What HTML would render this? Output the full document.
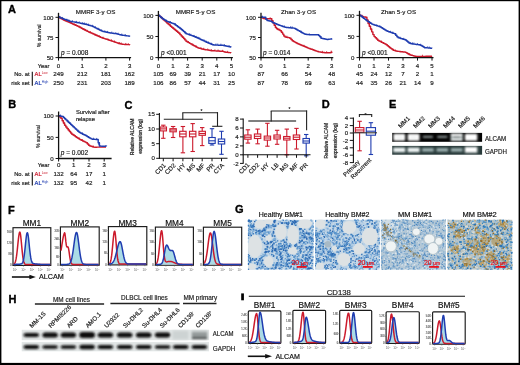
<!DOCTYPE html><html><head><meta charset="utf-8"><style>html,body{margin:0;padding:0;background:#fff;overflow:hidden}svg{display:block;will-change:transform}</style></head><body><svg width="520" height="365" viewBox="0 0 520 365" font-family="Liberation Sans, sans-serif">
<style>text{stroke-linejoin:round}</style>
<defs><filter id="bl" x="-20%" y="-50%" width="140%" height="200%"><feGaussianBlur stdDeviation="1"/></filter><filter id="bl2" x="-20%" y="-50%" width="140%" height="200%"><feGaussianBlur stdDeviation="0.9"/></filter></defs>
<rect x="0" y="0" width="520" height="365" fill="#fff" stroke="none" stroke-width="1"/>
<text x="8" y="13.1" font-size="11" font-weight="bold" fill="#000" stroke="#000" stroke-width="0.35">A</text>
<polyline points="58.5,17.3 59.7,17.3 59.7,17.97 60.9,17.97 60.9,18.63 62.1,18.63 62.1,19.3 63.3,19.3 63.3,19.93 64.5,19.93 64.5,20.46 65.7,20.46 65.7,20.98 66.9,20.98 66.9,21.51 68.1,21.51 68.1,22.03 69.3,22.03 69.3,22.56 70.5,22.56 70.5,23.08 71.7,23.08 71.7,23.62 72.9,23.62 72.9,24.17 74.1,24.17 74.1,24.72 75.3,24.72 75.3,25.27 76.5,25.27 76.5,25.81 77.7,25.81 77.7,26.36 78.9,26.36 78.9,26.98 80.1,26.98 80.1,27.63 81.3,27.63 81.3,28.27 82.5,28.27 82.5,28.92 83.7,28.92 83.7,29.56 84.9,29.56 84.9,30.21 86.1,30.21 86.1,30.85 87.3,30.85 87.3,31.39 88.5,31.39 88.5,31.94 89.7,31.94 89.7,32.49 90.9,32.49 90.9,33.04 92.1,33.04 92.1,33.59 93.3,33.59 93.3,34.14 94.5,34.14 94.5,34.68 95.7,34.68 95.7,35.22 96.9,35.22 96.9,35.76 98.1,35.76 98.1,36.3 99.3,36.3 99.3,36.84 100.5,36.84 100.5,37.38 101.7,37.38 101.7,37.83 102.9,37.83 102.9,38.21 104.1,38.21 104.1,38.6 105.3,38.6 105.3,38.99 106.5,38.99 106.5,39.37 107.7,39.37 107.7,39.76 108.9,39.76 108.9,40.15 110.1,40.15 110.1,40.53 111.3,40.53 111.3,40.95 112.5,40.95 112.5,41.36 113.7,41.36 113.7,41.77 114.9,41.77 114.9,42.19 116.1,42.19 116.1,42.6 117.3,42.6 117.3,43.01 118.5,43.01 118.5,43.43 119.7,43.43 119.7,43.73 120.9,43.73 120.9,43.94 122.1,43.94 122.1,44.16 123.3,44.16 123.3,44.37 124.5,44.37 124.5,44.52 125.7,44.52 125.7,44.56 126.9,44.56 126.9,44.6 128.1,44.6 128.1,44.64 129.3,44.64 129.3,44.68 129.8,44.68 129.8,44.7" fill="none" stroke="#cc1a2c" stroke-width="1.45" stroke-linejoin="round"/>
<path d="M60.15 18.22v-1.6M62.19 19.35v-1.6M66.05 21.13v-1.6M67.81 21.91v-1.6M71.25 23.42v-1.6M74.08 24.71v-1.6M75.79 25.49v-1.6M79.12 27.1v-1.6M80.76 27.98v-1.6M83.83 29.63v-1.6M85.58 30.57v-1.6M87.41 31.44v-1.6M90.45 32.83v-1.6M94.94 34.87v-1.6M96.89 35.75v-1.6M99.2 36.79v-1.6M102.97 38.23v-1.6M107.9 39.82v-1.6M111.49 41.01v-1.6M114.42 42.02v-1.6M119.46 43.68v-1.6M121.13 43.98v-1.6M125.73 44.56v-1.6M128.28 44.65v-1.6" stroke="#cc1a2c" stroke-width="0.8" fill="none"/>
<polyline points="58.5,17 59.7,17 59.7,17.48 60.9,17.48 60.9,17.96 62.1,17.96 62.1,18.44 63.3,18.44 63.3,18.92 64.5,18.92 64.5,19.38 65.7,19.38 65.7,19.84 66.9,19.84 66.9,20.3 68.1,20.3 68.1,20.76 69.3,20.76 69.3,21.22 70.5,21.22 70.5,21.47 71.7,21.47 71.7,21.67 72.9,21.67 72.9,21.87 74.1,21.87 74.1,22.07 75.3,22.07 75.3,22.27 76.5,22.27 76.5,22.47 77.7,22.47 77.7,22.67 78.9,22.67 78.9,22.89 80.1,22.89 80.1,23.16 81.3,23.16 81.3,23.43 82.5,23.43 82.5,23.71 83.7,23.71 83.7,23.98 84.9,23.98 84.9,24.25 86.1,24.25 86.1,24.53 87.3,24.53 87.3,24.87 88.5,24.87 88.5,25.21 89.7,25.21 89.7,25.55 90.9,25.55 90.9,25.89 92.1,25.89 92.1,26.25 93.3,26.25 93.3,26.88 94.5,26.88 94.5,27.5 95.7,27.5 95.7,28.12 96.9,28.12 96.9,28.75 98.1,28.75 98.1,29.34 99.3,29.34 99.3,29.93 100.5,29.93 100.5,30.52 101.7,30.52 101.7,31.11 102.9,31.11 102.9,31.58 104.1,31.58 104.1,31.82 105.3,31.82 105.3,32.06 106.5,32.06 106.5,32.3 107.7,32.3 107.7,32.54 108.9,32.54 108.9,32.78 110.1,32.78 110.1,32.96 111.3,32.96 111.3,33.13 112.5,33.13 112.5,33.3 113.7,33.3 113.7,33.47 114.9,33.47 114.9,33.64 116.1,33.64 116.1,33.82 117.3,33.82 117.3,34.1 118.5,34.1 118.5,34.38 119.7,34.38 119.7,34.66 120.9,34.66 120.9,34.94 122.1,34.94 122.1,35.21 123.3,35.21 123.3,35.38 124.5,35.38 124.5,35.55 125.7,35.55 125.7,35.72 126.9,35.72 126.9,35.89 128.1,35.89 128.1,36.06 129.3,36.06 129.3,36.23 129.8,36.23 129.8,36.3" fill="none" stroke="#1f3cb0" stroke-width="1.45" stroke-linejoin="round"/>
<path d="M59.74 17.49v-1.6M62.35 18.54v-1.6M66.81 20.26v-1.6M68.96 21.09v-1.6M72.57 21.81v-1.6M76.38 22.45v-1.6M79.23 22.96v-1.6M82.71 23.75v-1.6M84.44 24.15v-1.6M86.15 24.54v-1.6M88.4 25.18v-1.6M92.36 26.39v-1.6M95.41 27.97v-1.6M98.05 29.31v-1.6M101.67 31.09v-1.6M104.81 31.96v-1.6M107.39 32.48v-1.6M111.77 33.2v-1.6M115.8 33.77v-1.6M118.18 34.31v-1.6M121.76 35.14v-1.6M125.16 35.65v-1.6" stroke="#1f3cb0" stroke-width="0.8" fill="none"/>
<line x1="58.5" y1="12.8" x2="58.5" y2="58.2" stroke="#111" stroke-width="1.3"/>
<line x1="57.9" y1="57.6" x2="131.1" y2="57.6" stroke="#111" stroke-width="1.3"/>
<line x1="55.5" y1="17.3" x2="58.5" y2="17.3" stroke="#111" stroke-width="1"/>
<text x="53.5" y="19.5" font-size="6.1" text-anchor="end" fill="#222" stroke="#222" stroke-width="0.18">100</text>
<line x1="55.5" y1="37.5" x2="58.5" y2="37.5" stroke="#111" stroke-width="1"/>
<text x="53.5" y="39.7" font-size="6.1" text-anchor="end" fill="#222" stroke="#222" stroke-width="0.18">75</text>
<line x1="55.5" y1="57.6" x2="58.5" y2="57.6" stroke="#111" stroke-width="1"/>
<text x="53.5" y="59.8" font-size="6.1" text-anchor="end" fill="#222" stroke="#222" stroke-width="0.18">50</text>
<line x1="58.5" y1="57.6" x2="58.5" y2="60.6" stroke="#111" stroke-width="1"/>
<text x="58.5" y="67.5" font-size="6.1" text-anchor="middle" fill="#222" stroke="#222" stroke-width="0.18">0</text>
<line x1="82.2" y1="57.6" x2="82.2" y2="60.6" stroke="#111" stroke-width="1"/>
<text x="82.2" y="67.5" font-size="6.1" text-anchor="middle" fill="#222" stroke="#222" stroke-width="0.18">1</text>
<line x1="105.9" y1="57.6" x2="105.9" y2="60.6" stroke="#111" stroke-width="1"/>
<text x="105.9" y="67.5" font-size="6.1" text-anchor="middle" fill="#222" stroke="#222" stroke-width="0.18">2</text>
<line x1="129.6" y1="57.6" x2="129.6" y2="60.6" stroke="#111" stroke-width="1"/>
<text x="129.6" y="67.5" font-size="6.1" text-anchor="middle" fill="#222" stroke="#222" stroke-width="0.18">3</text>
<text x="95.6" y="13.6" font-size="6.2" text-anchor="middle" fill="#222" stroke="#222" stroke-width="0.18">MMRF 3-y OS</text>
<text x="61" y="55.3" font-size="6.5" fill="#222" stroke="#222" stroke-width="0.18"><tspan font-style="italic">p</tspan> = 0.008</text>
<text x="58.5" y="75.5" font-size="6.2" text-anchor="middle" fill="#222" stroke="#222" stroke-width="0.18">249</text>
<text x="82.2" y="75.5" font-size="6.2" text-anchor="middle" fill="#222" stroke="#222" stroke-width="0.18">212</text>
<text x="105.9" y="75.5" font-size="6.2" text-anchor="middle" fill="#222" stroke="#222" stroke-width="0.18">181</text>
<text x="129.6" y="75.5" font-size="6.2" text-anchor="middle" fill="#222" stroke="#222" stroke-width="0.18">162</text>
<text x="58.5" y="85.1" font-size="6.2" text-anchor="middle" fill="#222" stroke="#222" stroke-width="0.18">250</text>
<text x="82.2" y="85.1" font-size="6.2" text-anchor="middle" fill="#222" stroke="#222" stroke-width="0.18">231</text>
<text x="105.9" y="85.1" font-size="6.2" text-anchor="middle" fill="#222" stroke="#222" stroke-width="0.18">203</text>
<text x="129.6" y="85.1" font-size="6.2" text-anchor="middle" fill="#222" stroke="#222" stroke-width="0.18">189</text>
<text x="0" y="0" font-size="5.8" fill="#222" stroke="#222" stroke-width="0.2" text-anchor="middle" textLength="22.6" lengthAdjust="spacingAndGlyphs" transform="translate(40.6,35.6) rotate(-90)">% survival</text>
<text x="49.4" y="67.5" font-size="5.8" text-anchor="end" fill="#222" stroke="#222" stroke-width="0.18">Year</text>
<text x="29.6" y="75.5" font-size="5.8" text-anchor="end" fill="#222" stroke="#222" stroke-width="0.18">No. at</text>
<text x="29.6" y="85.1" font-size="5.8" text-anchor="end" fill="#222" stroke="#222" stroke-width="0.18">risk set</text>
<line x1="32.3" y1="71.7" x2="32.3" y2="85.7" stroke="#111" stroke-width="1.1"/>
<text x="34.6" y="75.5" font-size="5.8" fill="#cc1a2c" stroke="#cc1a2c" stroke-width="0.2">AL<tspan font-size="3.2" dy="-2" stroke-width="0">Low</tspan></text>
<text x="34.6" y="85.1" font-size="5.8" fill="#1f3cb0" stroke="#1f3cb0" stroke-width="0.2">AL<tspan font-size="3.2" dy="-2" stroke-width="0">High</tspan></text>
<polyline points="158.4,15.4 159.6,15.4 159.6,16.47 160.8,16.47 160.8,17.54 162,17.54 162,18.61 163.2,18.61 163.2,19.68 164.4,19.68 164.4,20.76 165.6,20.76 165.6,21.84 166.8,21.84 166.8,22.92 168,22.92 168,24 169.2,24 169.2,25.08 170.4,25.08 170.4,26.16 171.6,26.16 171.6,27.24 172.8,27.24 172.8,28.32 174,28.32 174,29.32 175.2,29.32 175.2,30.3 176.4,30.3 176.4,31.28 177.6,31.28 177.6,32.26 178.8,32.26 178.8,33.33 180,33.33 180,34.64 181.2,34.64 181.2,35.95 182.4,35.95 182.4,37.26 183.6,37.26 183.6,38.58 184.8,38.58 184.8,39.89 186,39.89 186,41.2 187.2,41.2 187.2,41.92 188.4,41.92 188.4,42.64 189.6,42.64 189.6,43.36 190.8,43.36 190.8,44.08 192,44.08 192,44.8 193.2,44.8 193.2,45.44 194.4,45.44 194.4,46.08 195.6,46.08 195.6,46.72 196.8,46.72 196.8,47.36 198,47.36 198,48 199.2,48 199.2,48.3 200.4,48.3 200.4,48.6 201.6,48.6 201.6,48.9 202.8,48.9 202.8,49.2 204,49.2 204,49.5 205.2,49.5 205.2,49.69 206.4,49.69 206.4,49.88 207.6,49.88 207.6,50.08 208.8,50.08 208.8,50.27 210,50.27 210,50.46 211.2,50.46 211.2,50.65 212.4,50.65 212.4,50.75 213.6,50.75 213.6,50.82 214.8,50.82 214.8,50.89 216,50.89 216,50.96 217.2,50.96 217.2,51.03 218.4,51.03 218.4,51.09 219.6,51.09 219.6,51.16 220.8,51.16 220.8,51.23 222,51.23 222,51.3 223.2,51.3 223.2,51.6 224.4,51.6 224.4,51.9 225.6,51.9 225.6,52.2 226.8,52.2 226.8,52.38 228,52.38 228,52.5 229.2,52.5 229.2,52.62 230.4,52.62 230.4,52.74 231,52.74 231,52.8" fill="none" stroke="#cc1a2c" stroke-width="1.45" stroke-linejoin="round"/>
<path d="M160.86 17.59v-1.6M163.4 19.86v-1.6M168.45 24.4v-1.6M170.38 26.14v-1.6M173.39 28.82v-1.6M177.63 32.29v-1.6M179.68 34.29v-1.6M182.95 37.87v-1.6M184.59 39.66v-1.6M188.51 42.71v-1.6M192.78 45.22v-1.6M196.35 47.12v-1.6M201.02 48.76v-1.6M203.66 49.41v-1.6M207.68 50.09v-1.6M211.33 50.67v-1.6M214.93 50.9v-1.6M218.08 51.08v-1.6M222.62 51.45v-1.6M227.54 52.45v-1.6" stroke="#cc1a2c" stroke-width="0.8" fill="none"/>
<polyline points="158.4,15.3 159.6,15.3 159.6,16.37 160.8,16.37 160.8,17.43 162,17.43 162,18.5 163.2,18.5 163.2,19.25 164.4,19.25 164.4,19.99 165.6,19.99 165.6,20.74 166.8,20.74 166.8,21.41 168,21.41 168,21.84 169.2,21.84 169.2,22.27 170.4,22.27 170.4,22.7 171.6,22.7 171.6,23.14 172.8,23.14 172.8,23.57 174,23.57 174,24 175.2,24 175.2,24.9 176.4,24.9 176.4,25.8 177.6,25.8 177.6,26.7 178.8,26.7 178.8,27.6 180,27.6 180,28.5 181.2,28.5 181.2,29.54 182.4,29.54 182.4,30.58 183.6,30.58 183.6,31.62 184.8,31.62 184.8,32.66 186,32.66 186,33.7 187.2,33.7 187.2,34.12 188.4,34.12 188.4,34.53 189.6,34.53 189.6,34.95 190.8,34.95 190.8,35.36 192,35.36 192,35.78 193.2,35.78 193.2,36.2 194.4,36.2 194.4,36.71 195.6,36.71 195.6,37.25 196.8,37.25 196.8,37.8 198,37.8 198,38.34 199.2,38.34 199.2,38.88 200.4,38.88 200.4,39.43 201.6,39.43 201.6,39.98 202.8,39.98 202.8,40.54 204,40.54 204,41.1 205.2,41.1 205.2,41.66 206.4,41.66 206.4,42.22 207.6,42.22 207.6,42.75 208.8,42.75 208.8,43.25 210,43.25 210,43.75 211.2,43.75 211.2,44.25 212.4,44.25 212.4,44.75 213.6,44.75 213.6,45.02 214.8,45.02 214.8,45.06 216,45.06 216,45.1 217.2,45.1 217.2,45.14 218.4,45.14 218.4,45.18 219.6,45.18 219.6,45.22 220.8,45.22 220.8,45.26 222,45.26 222,45.3 223.2,45.3 223.2,45.52 224.4,45.52 224.4,45.73 225.6,45.73 225.6,45.95 226.8,45.95 226.8,46.16 228,46.16 228,46.45 229.2,46.45 229.2,46.75 230.4,46.75 230.4,47.05 231,47.05 231,47.2" fill="none" stroke="#1f3cb0" stroke-width="1.45" stroke-linejoin="round"/>
<path d="M160.73 17.37v-1.6M162.45 18.78v-1.6M166.49 21.29v-1.6M170.33 22.68v-1.6M175.42 25.07v-1.6M179.9 28.43v-1.6M182.43 30.61v-1.6M185.33 33.12v-1.6M189.25 34.83v-1.6M190.83 35.37v-1.6M194 36.53v-1.6M196.11 37.48v-1.6M198.03 38.35v-1.6M199.75 39.13v-1.6M204.03 41.11v-1.6M206 42.03v-1.6M208.39 43.08v-1.6M211.31 44.29v-1.6M215.96 45.1v-1.6M217.75 45.16v-1.6M220.88 45.26v-1.6M224.37 45.73v-1.6M229.07 46.72v-1.6" stroke="#1f3cb0" stroke-width="0.8" fill="none"/>
<line x1="158.4" y1="10.9" x2="158.4" y2="58.2" stroke="#111" stroke-width="1.3"/>
<line x1="157.8" y1="57.6" x2="232.9" y2="57.6" stroke="#111" stroke-width="1.3"/>
<line x1="155.4" y1="15.4" x2="158.4" y2="15.4" stroke="#111" stroke-width="1"/>
<text x="153.4" y="17.6" font-size="6.1" text-anchor="end" fill="#222" stroke="#222" stroke-width="0.18">100</text>
<line x1="155.4" y1="36.5" x2="158.4" y2="36.5" stroke="#111" stroke-width="1"/>
<text x="153.4" y="38.7" font-size="6.1" text-anchor="end" fill="#222" stroke="#222" stroke-width="0.18">50</text>
<line x1="155.4" y1="57.6" x2="158.4" y2="57.6" stroke="#111" stroke-width="1"/>
<text x="153.4" y="59.8" font-size="6.1" text-anchor="end" fill="#222" stroke="#222" stroke-width="0.18">0</text>
<line x1="158.4" y1="57.6" x2="158.4" y2="60.6" stroke="#111" stroke-width="1"/>
<text x="158.4" y="67.5" font-size="6.1" text-anchor="middle" fill="#222" stroke="#222" stroke-width="0.18">0</text>
<line x1="173" y1="57.6" x2="173" y2="60.6" stroke="#111" stroke-width="1"/>
<text x="173" y="67.5" font-size="6.1" text-anchor="middle" fill="#222" stroke="#222" stroke-width="0.18">1</text>
<line x1="187.6" y1="57.6" x2="187.6" y2="60.6" stroke="#111" stroke-width="1"/>
<text x="187.6" y="67.5" font-size="6.1" text-anchor="middle" fill="#222" stroke="#222" stroke-width="0.18">2</text>
<line x1="202.2" y1="57.6" x2="202.2" y2="60.6" stroke="#111" stroke-width="1"/>
<text x="202.2" y="67.5" font-size="6.1" text-anchor="middle" fill="#222" stroke="#222" stroke-width="0.18">3</text>
<line x1="216.8" y1="57.6" x2="216.8" y2="60.6" stroke="#111" stroke-width="1"/>
<text x="216.8" y="67.5" font-size="6.1" text-anchor="middle" fill="#222" stroke="#222" stroke-width="0.18">4</text>
<line x1="231.4" y1="57.6" x2="231.4" y2="60.6" stroke="#111" stroke-width="1"/>
<text x="231.4" y="67.5" font-size="6.1" text-anchor="middle" fill="#222" stroke="#222" stroke-width="0.18">5</text>
<text x="195.5" y="14" font-size="6.2" text-anchor="middle" fill="#222" stroke="#222" stroke-width="0.18">MMRF 5-y OS</text>
<text x="161" y="55.3" font-size="6.5" fill="#222" stroke="#222" stroke-width="0.18"><tspan font-style="italic">p</tspan> &lt;0.001</text>
<text x="158.4" y="75.5" font-size="6.2" text-anchor="middle" fill="#222" stroke="#222" stroke-width="0.18">105</text>
<text x="173" y="75.5" font-size="6.2" text-anchor="middle" fill="#222" stroke="#222" stroke-width="0.18">69</text>
<text x="187.6" y="75.5" font-size="6.2" text-anchor="middle" fill="#222" stroke="#222" stroke-width="0.18">39</text>
<text x="202.2" y="75.5" font-size="6.2" text-anchor="middle" fill="#222" stroke="#222" stroke-width="0.18">21</text>
<text x="216.8" y="75.5" font-size="6.2" text-anchor="middle" fill="#222" stroke="#222" stroke-width="0.18">17</text>
<text x="231.4" y="75.5" font-size="6.2" text-anchor="middle" fill="#222" stroke="#222" stroke-width="0.18">10</text>
<text x="158.4" y="85.1" font-size="6.2" text-anchor="middle" fill="#222" stroke="#222" stroke-width="0.18">106</text>
<text x="173" y="85.1" font-size="6.2" text-anchor="middle" fill="#222" stroke="#222" stroke-width="0.18">86</text>
<text x="187.6" y="85.1" font-size="6.2" text-anchor="middle" fill="#222" stroke="#222" stroke-width="0.18">57</text>
<text x="202.2" y="85.1" font-size="6.2" text-anchor="middle" fill="#222" stroke="#222" stroke-width="0.18">44</text>
<text x="216.8" y="85.1" font-size="6.2" text-anchor="middle" fill="#222" stroke="#222" stroke-width="0.18">31</text>
<text x="231.4" y="85.1" font-size="6.2" text-anchor="middle" fill="#222" stroke="#222" stroke-width="0.18">25</text>
<polyline points="261,17.3 262.2,17.3 262.2,17.9 263.4,17.9 263.4,18.5 264.6,18.5 264.6,18.8 265.8,18.8 265.8,18.8 267,18.8 267,18.8 268.2,18.8 268.2,18.8 269.4,18.8 269.4,18.8 270.6,18.8 270.6,18.8 271.8,18.8 271.8,20.8 273,20.8 273,23.07 274.2,23.07 274.2,25.24 275.4,25.24 275.4,27.41 276.6,27.41 276.6,28.81 277.8,28.81 277.8,29.42 279,29.42 279,30.03 280.2,30.03 280.2,30.65 281.4,30.65 281.4,32.22 282.6,32.22 282.6,34.12 283.8,34.12 283.8,36.01 285,36.01 285,36.93 286.2,36.93 286.2,37.17 287.4,37.17 287.4,37.4 288.6,37.4 288.6,37.63 289.8,37.63 289.8,38.15 291,38.15 291,39.56 292.2,39.56 292.2,40.73 293.4,40.73 293.4,41.42 294.6,41.42 294.6,42.12 295.8,42.12 295.8,42.81 297,42.81 297,43.5 298.2,43.5 298.2,43.98 299.4,43.98 299.4,44.46 300.6,44.46 300.6,44.94 301.8,44.94 301.8,45.42 303,45.42 303,45.95 304.2,45.95 304.2,46.5 305.4,46.5 305.4,47.05 306.6,47.05 306.6,47.59 307.8,47.59 307.8,48.1 309,48.1 309,48.5 310.2,48.5 310.2,48.9 311.4,48.9 311.4,49.3 312.6,49.3 312.6,49.73 313.8,49.73 313.8,50.19 315,50.19 315,50.65 316.2,50.65 316.2,51.11 317.4,51.11 317.4,51.57 318.6,51.57 318.6,51.89 319.8,51.89 319.8,52.06 321,52.06 321,52.23 322.2,52.23 322.2,52.4 323.4,52.4 323.4,52.57 324.6,52.57 324.6,52.74 325.8,52.74 325.8,52.8 327,52.8 327,52.8 328.2,52.8 328.2,52.8 329.4,52.8 329.4,52.8 330.6,52.8 330.6,52.5 331.8,52.5 331.8,51.9 332,51.9 332,51.8" fill="none" stroke="#cc1a2c" stroke-width="1.45" stroke-linejoin="round"/>
<path d="M263.73 18.66v-1.6M270.16 18.8v-1.6M279.01 30.04v-1.6M286.86 37.29v-1.6M304.01 46.41v-1.6M322.46 52.44v-1.6M326.63 52.8v-1.6M331.25 52.18v-1.6" stroke="#cc1a2c" stroke-width="0.8" fill="none"/>
<polyline points="261,17.3 262.2,17.3 262.2,17.3 263.4,17.3 263.4,17.3 264.6,17.3 264.6,17.3 265.8,17.3 265.8,19.3 267,19.3 267,20.46 268.2,20.46 268.2,20.72 269.4,20.72 269.4,20.99 270.6,20.99 270.6,21.26 271.8,21.26 271.8,22.1 273,22.1 273,22.78 274.2,22.78 274.2,23.27 275.4,23.27 275.4,23.75 276.6,23.75 276.6,24.23 277.8,24.23 277.8,24.72 279,24.72 279,25.2 280.2,25.2 280.2,25.62 281.4,25.62 281.4,26.04 282.6,26.04 282.6,26.46 283.8,26.46 283.8,26.88 285,26.88 285,27.3 286.2,27.3 286.2,27.42 287.4,27.42 287.4,27.54 288.6,27.54 288.6,27.66 289.8,27.66 289.8,27.78 291,27.78 291,27.9 292.2,27.9 292.2,28.02 293.4,28.02 293.4,28.14 294.6,28.14 294.6,28.55 295.8,28.55 295.8,29.24 297,29.24 297,29.93 298.2,29.93 298.2,30.63 299.4,30.63 299.4,31.31 300.6,31.31 300.6,31.99 301.8,31.99 301.8,32.67 303,32.67 303,33.35 304.2,33.35 304.2,34.03 305.4,34.03 305.4,34.32 306.6,34.32 306.6,34.48 307.8,34.48 307.8,34.64 309,34.64 309,34.8 310.2,34.8 310.2,34.8 311.4,34.8 311.4,34.8 312.6,34.8 312.6,34.8 313.8,34.8 313.8,34.8 315,34.8 315,34.8 316.2,34.8 316.2,34.8 317.4,34.8 317.4,34.8 318.6,34.8 318.6,35.48 319.8,35.48 319.8,36.84 321,36.84 321,38.2 322.2,38.2 322.2,38.46 323.4,38.46 323.4,38.72 324.6,38.72 324.6,38.98 325.8,38.98 325.8,39.24 327,39.24 327,39.5 328.2,39.5 328.2,39.31 329.4,39.31 329.4,39.12 330.6,39.12 330.6,38.92 331.8,38.92 331.8,38.73 332,38.73 332,38.7" fill="none" stroke="#1f3cb0" stroke-width="1.45" stroke-linejoin="round"/>
<path d="M262.47 17.3v-1.6M272.55 22.6v-1.6M284.48 27.12v-1.6M290.63 27.86v-1.6M292.2 28.02v-1.6M301.12 32.28v-1.6M309.15 34.8v-1.6M320.68 37.83v-1.6" stroke="#1f3cb0" stroke-width="0.8" fill="none"/>
<line x1="261" y1="12.8" x2="261" y2="58.2" stroke="#111" stroke-width="1.3"/>
<line x1="260.4" y1="57.6" x2="333.3" y2="57.6" stroke="#111" stroke-width="1.3"/>
<line x1="258" y1="17.3" x2="261" y2="17.3" stroke="#111" stroke-width="1"/>
<text x="256" y="19.5" font-size="6.1" text-anchor="end" fill="#222" stroke="#222" stroke-width="0.18">100</text>
<line x1="258" y1="37.5" x2="261" y2="37.5" stroke="#111" stroke-width="1"/>
<text x="256" y="39.7" font-size="6.1" text-anchor="end" fill="#222" stroke="#222" stroke-width="0.18">75</text>
<line x1="258" y1="57.6" x2="261" y2="57.6" stroke="#111" stroke-width="1"/>
<text x="256" y="59.8" font-size="6.1" text-anchor="end" fill="#222" stroke="#222" stroke-width="0.18">50</text>
<line x1="261" y1="57.6" x2="261" y2="60.6" stroke="#111" stroke-width="1"/>
<text x="261" y="67.5" font-size="6.1" text-anchor="middle" fill="#222" stroke="#222" stroke-width="0.18">0</text>
<line x1="284.6" y1="57.6" x2="284.6" y2="60.6" stroke="#111" stroke-width="1"/>
<text x="284.6" y="67.5" font-size="6.1" text-anchor="middle" fill="#222" stroke="#222" stroke-width="0.18">1</text>
<line x1="308.2" y1="57.6" x2="308.2" y2="60.6" stroke="#111" stroke-width="1"/>
<text x="308.2" y="67.5" font-size="6.1" text-anchor="middle" fill="#222" stroke="#222" stroke-width="0.18">2</text>
<line x1="331.8" y1="57.6" x2="331.8" y2="60.6" stroke="#111" stroke-width="1"/>
<text x="331.8" y="67.5" font-size="6.1" text-anchor="middle" fill="#222" stroke="#222" stroke-width="0.18">3</text>
<text x="298.5" y="14" font-size="6.2" text-anchor="middle" fill="#222" stroke="#222" stroke-width="0.18">Zhan 3-y OS</text>
<text x="263" y="55.3" font-size="6.5" fill="#222" stroke="#222" stroke-width="0.18"><tspan font-style="italic">p</tspan> = 0.014</text>
<text x="261" y="75.5" font-size="6.2" text-anchor="middle" fill="#222" stroke="#222" stroke-width="0.18">87</text>
<text x="284.6" y="75.5" font-size="6.2" text-anchor="middle" fill="#222" stroke="#222" stroke-width="0.18">66</text>
<text x="308.2" y="75.5" font-size="6.2" text-anchor="middle" fill="#222" stroke="#222" stroke-width="0.18">54</text>
<text x="331.8" y="75.5" font-size="6.2" text-anchor="middle" fill="#222" stroke="#222" stroke-width="0.18">48</text>
<text x="261" y="85.1" font-size="6.2" text-anchor="middle" fill="#222" stroke="#222" stroke-width="0.18">87</text>
<text x="284.6" y="85.1" font-size="6.2" text-anchor="middle" fill="#222" stroke="#222" stroke-width="0.18">78</text>
<text x="308.2" y="85.1" font-size="6.2" text-anchor="middle" fill="#222" stroke="#222" stroke-width="0.18">69</text>
<text x="331.8" y="85.1" font-size="6.2" text-anchor="middle" fill="#222" stroke="#222" stroke-width="0.18">63</text>
<polyline points="359.7,15.3 360.9,15.3 360.9,15.85 362.1,15.85 362.1,16.39 363.3,16.39 363.3,16.85 364.5,16.85 364.5,17.05 365.7,17.05 365.7,17.25 366.9,17.25 366.9,19.92 368.1,19.92 368.1,23.42 369.3,23.42 369.3,26.31 370.5,26.31 370.5,29.08 371.7,29.08 371.7,31.85 372.9,31.85 372.9,34.62 374.1,34.62 374.1,36.6 375.3,36.6 375.3,37.8 376.5,37.8 376.5,39 377.7,39 377.7,40.2 378.9,40.2 378.9,40.96 380.1,40.96 380.1,41.56 381.3,41.56 381.3,42.17 382.5,42.17 382.5,42.78 383.7,42.78 383.7,43.39 384.9,43.39 384.9,44 386.1,44 386.1,44.78 387.3,44.78 387.3,45.74 388.5,45.74 388.5,46.7 389.7,46.7 389.7,47.66 390.9,47.66 390.9,48.62 392.1,48.62 392.1,49.58 393.3,49.58 393.3,50.37 394.5,50.37 394.5,50.63 395.7,50.63 395.7,50.9 396.9,50.9 396.9,51.17 398.1,51.17 398.1,51.37 399.3,51.37 399.3,51.52 400.5,51.52 400.5,51.66 401.7,51.66 401.7,51.8 402.9,51.8 402.9,51.95 404.1,51.95 404.1,52.09 405.3,52.09 405.3,52.37 406.5,52.37 406.5,53.07 407.7,53.07 407.7,53.76 408.9,53.76 408.9,54.45 410.1,54.45 410.1,54.96 411.3,54.96 411.3,55.28 412.5,55.28 412.5,55.6 413.7,55.6 413.7,55.92 414.9,55.92 414.9,56.24 416.1,56.24 416.1,56.4 417.3,56.4 417.3,56.39 418.5,56.39 418.5,56.38 419.7,56.38 419.7,56.37 420.9,56.37 420.9,56.37 422.1,56.37 422.1,56.36 423.3,56.36 423.3,56.35 424.5,56.35 424.5,56.35 425.7,56.35 425.7,56.34 426.9,56.34 426.9,56.33 428.1,56.33 428.1,56.32 429.3,56.32 429.3,56.32 430.5,56.32 430.5,56.31 431.7,56.31 431.7,56.3 432,56.3 432,56.3" fill="none" stroke="#cc1a2c" stroke-width="1.45" stroke-linejoin="round"/>
<path d="M362.08 16.38v-1.6M371.06 30.36v-1.6M381.51 42.28v-1.6M392.82 50.15v-1.6M395.1 50.77v-1.6M409.64 54.84v-1.6M422.45 56.36v-1.6" stroke="#cc1a2c" stroke-width="0.8" fill="none"/>
<polyline points="359.7,15.3 360.9,15.3 360.9,16.25 362.1,16.25 362.1,17.2 363.3,17.2 363.3,18.16 364.5,18.16 364.5,19.11 365.7,19.11 365.7,20.06 366.9,20.06 366.9,20.9 368.1,20.9 368.1,21.7 369.3,21.7 369.3,22.5 370.5,22.5 370.5,23.3 371.7,23.3 371.7,24.1 372.9,24.1 372.9,24.59 374.1,24.59 374.1,24.97 375.3,24.97 375.3,25.36 376.5,25.36 376.5,25.74 377.7,25.74 377.7,26.12 378.9,26.12 378.9,26.51 380.1,26.51 380.1,27.06 381.3,27.06 381.3,27.78 382.5,27.78 382.5,28.5 383.7,28.5 383.7,29.22 384.9,29.22 384.9,29.94 386.1,29.94 386.1,30.66 387.3,30.66 387.3,31.3 388.5,31.3 388.5,31.72 389.7,31.72 389.7,32.14 390.9,32.14 390.9,32.55 392.1,32.55 392.1,32.97 393.3,32.97 393.3,33.38 394.5,33.38 394.5,33.8 395.7,33.8 395.7,35.28 396.9,35.28 396.9,36.76 398.1,36.76 398.1,37.68 399.3,37.68 399.3,38.05 400.5,38.05 400.5,38.42 401.7,38.42 401.7,38.79 402.9,38.79 402.9,39.16 404.1,39.16 404.1,39.52 405.3,39.52 405.3,40.05 406.5,40.05 406.5,41.03 407.7,41.03 407.7,42.02 408.9,42.02 408.9,43.01 410.1,43.01 410.1,43.59 411.3,43.59 411.3,43.76 412.5,43.76 412.5,43.93 413.7,43.93 413.7,44.1 414.9,44.1 414.9,44.27 416.1,44.27 416.1,44.44 417.3,44.44 417.3,44.61 418.5,44.61 418.5,44.79 419.7,44.79 419.7,44.96 420.9,44.96 420.9,45.54 422.1,45.54 422.1,46.26 423.3,46.26 423.3,46.98 424.5,46.98 424.5,47.7 425.7,47.7 425.7,47.8 426.9,47.8 426.9,47.89 428.1,47.89 428.1,47.99 429.3,47.99 429.3,48.08 430.5,48.08 430.5,48.18 431.7,48.18 431.7,48.28 432,48.28 432,48.3" fill="none" stroke="#1f3cb0" stroke-width="1.45" stroke-linejoin="round"/>
<path d="M362.3 17.36v-1.6M369.49 22.62v-1.6M376.77 25.83v-1.6M379.77 26.86v-1.6M390.47 32.4v-1.6M392.87 33.24v-1.6M395.35 34.85v-1.6M399.88 38.23v-1.6M403.73 39.41v-1.6M410.16 43.59v-1.6M412.42 43.92v-1.6M413.93 44.13v-1.6M417.62 44.66v-1.6M420.59 45.35v-1.6M427.36 47.93v-1.6M429.23 48.08v-1.6" stroke="#1f3cb0" stroke-width="0.8" fill="none"/>
<line x1="359.5" y1="10.8" x2="359.5" y2="58.2" stroke="#111" stroke-width="1.3"/>
<line x1="358.9" y1="57.6" x2="433.5" y2="57.6" stroke="#111" stroke-width="1.3"/>
<line x1="356.5" y1="15.3" x2="359.5" y2="15.3" stroke="#111" stroke-width="1"/>
<text x="354.5" y="17.5" font-size="6.1" text-anchor="end" fill="#222" stroke="#222" stroke-width="0.18">100</text>
<line x1="356.5" y1="36.4" x2="359.5" y2="36.4" stroke="#111" stroke-width="1"/>
<text x="354.5" y="38.6" font-size="6.1" text-anchor="end" fill="#222" stroke="#222" stroke-width="0.18">50</text>
<line x1="356.5" y1="57.6" x2="359.5" y2="57.6" stroke="#111" stroke-width="1"/>
<text x="354.5" y="59.8" font-size="6.1" text-anchor="end" fill="#222" stroke="#222" stroke-width="0.18">0</text>
<line x1="359.5" y1="57.6" x2="359.5" y2="60.6" stroke="#111" stroke-width="1"/>
<text x="359.5" y="67.5" font-size="6.1" text-anchor="middle" fill="#222" stroke="#222" stroke-width="0.18">0</text>
<line x1="374" y1="57.6" x2="374" y2="60.6" stroke="#111" stroke-width="1"/>
<text x="374" y="67.5" font-size="6.1" text-anchor="middle" fill="#222" stroke="#222" stroke-width="0.18">1</text>
<line x1="388.5" y1="57.6" x2="388.5" y2="60.6" stroke="#111" stroke-width="1"/>
<text x="388.5" y="67.5" font-size="6.1" text-anchor="middle" fill="#222" stroke="#222" stroke-width="0.18">2</text>
<line x1="403" y1="57.6" x2="403" y2="60.6" stroke="#111" stroke-width="1"/>
<text x="403" y="67.5" font-size="6.1" text-anchor="middle" fill="#222" stroke="#222" stroke-width="0.18">3</text>
<line x1="417.5" y1="57.6" x2="417.5" y2="60.6" stroke="#111" stroke-width="1"/>
<text x="417.5" y="67.5" font-size="6.1" text-anchor="middle" fill="#222" stroke="#222" stroke-width="0.18">4</text>
<line x1="432" y1="57.6" x2="432" y2="60.6" stroke="#111" stroke-width="1"/>
<text x="432" y="67.5" font-size="6.1" text-anchor="middle" fill="#222" stroke="#222" stroke-width="0.18">5</text>
<text x="398.5" y="14" font-size="6.2" text-anchor="middle" fill="#222" stroke="#222" stroke-width="0.18">Zhan 5-y OS</text>
<text x="362" y="55.3" font-size="6.5" fill="#222" stroke="#222" stroke-width="0.18"><tspan font-style="italic">p</tspan> &lt;0.001</text>
<text x="359.5" y="75.5" font-size="6.2" text-anchor="middle" fill="#222" stroke="#222" stroke-width="0.18">45</text>
<text x="374" y="75.5" font-size="6.2" text-anchor="middle" fill="#222" stroke="#222" stroke-width="0.18">24</text>
<text x="388.5" y="75.5" font-size="6.2" text-anchor="middle" fill="#222" stroke="#222" stroke-width="0.18">12</text>
<text x="403" y="75.5" font-size="6.2" text-anchor="middle" fill="#222" stroke="#222" stroke-width="0.18">7</text>
<text x="417.5" y="75.5" font-size="6.2" text-anchor="middle" fill="#222" stroke="#222" stroke-width="0.18">2</text>
<text x="432" y="75.5" font-size="6.2" text-anchor="middle" fill="#222" stroke="#222" stroke-width="0.18">1</text>
<text x="359.5" y="85.1" font-size="6.2" text-anchor="middle" fill="#222" stroke="#222" stroke-width="0.18">44</text>
<text x="374" y="85.1" font-size="6.2" text-anchor="middle" fill="#222" stroke="#222" stroke-width="0.18">35</text>
<text x="388.5" y="85.1" font-size="6.2" text-anchor="middle" fill="#222" stroke="#222" stroke-width="0.18">26</text>
<text x="403" y="85.1" font-size="6.2" text-anchor="middle" fill="#222" stroke="#222" stroke-width="0.18">21</text>
<text x="417.5" y="85.1" font-size="6.2" text-anchor="middle" fill="#222" stroke="#222" stroke-width="0.18">14</text>
<text x="432" y="85.1" font-size="6.2" text-anchor="middle" fill="#222" stroke="#222" stroke-width="0.18">9</text>
<text x="8.2" y="108" font-size="11" font-weight="bold" fill="#000" stroke="#000" stroke-width="0.35">B</text>
<polyline points="58.6,116 59.8,116 59.8,117.09 61,117.09 61,118.38 62.2,118.38 62.2,120.67 63.4,120.67 63.4,122.95 64.6,122.95 64.6,125.24 65.8,125.24 65.8,127.01 67,127.01 67,128.53 68.2,128.53 68.2,130.05 69.4,130.05 69.4,131.57 70.6,131.57 70.6,133.09 71.8,133.09 71.8,134.16 73,134.16 73,134.99 74.2,134.99 74.2,135.83 75.4,135.83 75.4,136.67 76.6,136.67 76.6,137.51 77.8,137.51 77.8,138.34 79,138.34 79,139.1 80.2,139.1 80.2,139.7 81.4,139.7 81.4,140.3 82.6,140.3 82.6,140.9 83.8,140.9 83.8,141.5 85,141.5 85,142.1 86.2,142.1 86.2,142.8 87.4,142.8 87.4,144 88.6,144 88.6,145.2 89.8,145.2 89.8,145.93 91,145.93 91,146.33 92.2,146.33 92.2,146.73 93.4,146.73 93.4,147.13 94.6,147.13 94.6,147.18 95.8,147.18 95.8,147.15 97,147.15 97,147.12 98.2,147.12 98.2,147.1 99.4,147.1 99.4,147.07 100.6,147.07 100.6,147.04 101.8,147.04 101.8,147.02 103,147.02 103,147 104.2,147 104.2,147 105.4,147 105.4,147 106,147 106,147" fill="none" stroke="#cc1a2c" stroke-width="1.45" stroke-linejoin="round"/>
<path d="M60.83 118.05v-1.6M64.01 124.11v-1.6M68.36 130.25v-1.6M73.78 135.54v-1.6M79.4 139.3v-1.6M82.29 140.74v-1.6M93.38 147.13v-1.6" stroke="#cc1a2c" stroke-width="0.8" fill="none"/>
<polyline points="58.6,115.8 59.8,115.8 59.8,116 61,116 61,116.2 62.2,116.2 62.2,116.4 63.4,116.4 63.4,117.55 64.6,117.55 64.6,118.7 65.8,118.7 65.8,119.85 67,119.85 67,121 68.2,121 68.2,122.16 69.4,122.16 69.4,123.31 70.6,123.31 70.6,124.47 71.8,124.47 71.8,125.62 73,125.62 73,126.76 74.2,126.76 74.2,127.87 75.4,127.87 75.4,128.98 76.6,128.98 76.6,130.1 77.8,130.1 77.8,131.21 79,131.21 79,132.32 80.2,132.32 80.2,133.03 81.4,133.03 81.4,133.59 82.6,133.59 82.6,134.16 83.8,134.16 83.8,134.73 85,134.73 85,135.32 86.2,135.32 86.2,136.02 87.4,136.02 87.4,136.73 88.6,136.73 88.6,137.44 89.8,137.44 89.8,138.14 91,138.14 91,138.85 92.2,138.85 92.2,139.24 93.4,139.24 93.4,139.32 94.6,139.32 94.6,139.39 95.8,139.39 95.8,139.47 97,139.47 97,139.55 98.2,139.55 98.2,142.8 99.4,142.8 99.4,146.04 100.6,146.04 100.6,146.11 101.8,146.11 101.8,146.18 103,146.18 103,146.24 104.2,146.24 104.2,146.24 105.4,146.24 105.4,145.89 106.4,145.89 106.4,145.6" fill="none" stroke="#1f3cb0" stroke-width="1.45" stroke-linejoin="round"/>
<path d="M60.53 116.12v-1.6M67.5 121.48v-1.6M69.97 123.86v-1.6M72.62 126.41v-1.6M78 131.39v-1.6M82.49 134.11v-1.6M93.35 139.31v-1.6M96.68 139.53v-1.6M98.44 144.71v-1.6" stroke="#1f3cb0" stroke-width="0.8" fill="none"/>
<line x1="58.6" y1="111.5" x2="58.6" y2="159.1" stroke="#111" stroke-width="1.3"/>
<line x1="58" y1="158.5" x2="111.6" y2="158.5" stroke="#111" stroke-width="1.3"/>
<line x1="55.6" y1="116" x2="58.6" y2="116" stroke="#111" stroke-width="1"/>
<text x="53.6" y="118.2" font-size="6.1" text-anchor="end" fill="#222" stroke="#222" stroke-width="0.18">100</text>
<line x1="55.6" y1="137.4" x2="58.6" y2="137.4" stroke="#111" stroke-width="1"/>
<text x="53.6" y="139.6" font-size="6.1" text-anchor="end" fill="#222" stroke="#222" stroke-width="0.18">50</text>
<line x1="55.6" y1="158.5" x2="58.6" y2="158.5" stroke="#111" stroke-width="1"/>
<text x="53.6" y="160.7" font-size="6.1" text-anchor="end" fill="#222" stroke="#222" stroke-width="0.18">0</text>
<line x1="58.6" y1="158.5" x2="58.6" y2="161.5" stroke="#111" stroke-width="1"/>
<text x="58.6" y="167.3" font-size="6.1" text-anchor="middle" fill="#222" stroke="#222" stroke-width="0.18">0</text>
<line x1="73.8" y1="158.5" x2="73.8" y2="161.5" stroke="#111" stroke-width="1"/>
<text x="73.8" y="167.3" font-size="6.1" text-anchor="middle" fill="#222" stroke="#222" stroke-width="0.18">1</text>
<line x1="89" y1="158.5" x2="89" y2="161.5" stroke="#111" stroke-width="1"/>
<text x="89" y="167.3" font-size="6.1" text-anchor="middle" fill="#222" stroke="#222" stroke-width="0.18">2</text>
<line x1="104.2" y1="158.5" x2="104.2" y2="161.5" stroke="#111" stroke-width="1"/>
<text x="104.2" y="167.3" font-size="6.1" text-anchor="middle" fill="#222" stroke="#222" stroke-width="0.18">3</text>
<text x="60.8" y="155.4" font-size="6.5" fill="#222" stroke="#222" stroke-width="0.18"><tspan font-style="italic">p</tspan> = 0.002</text>
<text x="58.6" y="176" font-size="6.2" text-anchor="middle" fill="#222" stroke="#222" stroke-width="0.18">132</text>
<text x="73.8" y="176" font-size="6.2" text-anchor="middle" fill="#222" stroke="#222" stroke-width="0.18">64</text>
<text x="89" y="176" font-size="6.2" text-anchor="middle" fill="#222" stroke="#222" stroke-width="0.18">17</text>
<text x="104.2" y="176" font-size="6.2" text-anchor="middle" fill="#222" stroke="#222" stroke-width="0.18">1</text>
<text x="58.6" y="184.8" font-size="6.2" text-anchor="middle" fill="#222" stroke="#222" stroke-width="0.18">132</text>
<text x="73.8" y="184.8" font-size="6.2" text-anchor="middle" fill="#222" stroke="#222" stroke-width="0.18">95</text>
<text x="89" y="184.8" font-size="6.2" text-anchor="middle" fill="#222" stroke="#222" stroke-width="0.18">42</text>
<text x="104.2" y="184.8" font-size="6.2" text-anchor="middle" fill="#222" stroke="#222" stroke-width="0.18">1</text>
<text x="75.9" y="114.2" font-size="5.8" fill="#222" stroke="#222" stroke-width="0.18">Survival after</text>
<text x="75.9" y="121.2" font-size="5.8" fill="#222" stroke="#222" stroke-width="0.18">relapse</text>
<text x="0" y="0" font-size="5.8" fill="#222" stroke="#222" stroke-width="0.2" text-anchor="middle" textLength="22.6" lengthAdjust="spacingAndGlyphs" transform="translate(40.3,136.4) rotate(-90)">% survival</text>
<text x="49.4" y="167.3" font-size="5.8" text-anchor="end" fill="#222" stroke="#222" stroke-width="0.18">Year</text>
<text x="29.6" y="176" font-size="5.8" text-anchor="end" fill="#222" stroke="#222" stroke-width="0.18">No. at</text>
<text x="29.6" y="184.8" font-size="5.8" text-anchor="end" fill="#222" stroke="#222" stroke-width="0.18">risk set</text>
<line x1="32.3" y1="172.2" x2="32.3" y2="185.4" stroke="#111" stroke-width="1.1"/>
<text x="34.6" y="176" font-size="5.8" fill="#cc1a2c" stroke="#cc1a2c" stroke-width="0.2">AL<tspan font-size="3.2" dy="-2" stroke-width="0">Low</tspan></text>
<text x="34.6" y="184.8" font-size="5.8" fill="#1f3cb0" stroke="#1f3cb0" stroke-width="0.2">AL<tspan font-size="3.2" dy="-2" stroke-width="0">High</tspan></text>
<text x="124.6" y="108.6" font-size="11" font-weight="bold" fill="#000" stroke="#000" stroke-width="0.35">C</text>
<text font-size="5.2" fill="#222" stroke="#222" stroke-width="0.24" text-anchor="middle" textLength="36.7" lengthAdjust="spacingAndGlyphs" transform="translate(133.9,136.9) rotate(-90)">Relative ALCAM</text>
<text font-size="5.2" fill="#222" stroke="#222" stroke-width="0.24" text-anchor="middle" textLength="34.7" lengthAdjust="spacingAndGlyphs" transform="translate(141.8,136.3) rotate(-90)">expression (log)</text>
<line x1="163.3" y1="125.2" x2="163.3" y2="127" stroke="#cc1a2c" stroke-width="1.1"/>
<line x1="163.3" y1="130.9" x2="163.3" y2="138.3" stroke="#cc1a2c" stroke-width="1.1"/>
<line x1="161.1" y1="125.2" x2="165.5" y2="125.2" stroke="#cc1a2c" stroke-width="1.1"/>
<line x1="161.1" y1="138.3" x2="165.5" y2="138.3" stroke="#cc1a2c" stroke-width="1.1"/>
<rect x="160.1" y="127" width="6.4" height="3.9" fill="#fff" stroke="#cc1a2c" stroke-width="1.1"/>
<line x1="160.1" y1="128.9" x2="166.5" y2="128.9" stroke="#cc1a2c" stroke-width="1.1"/>
<line x1="173.1" y1="126.5" x2="173.1" y2="128.7" stroke="#cc1a2c" stroke-width="1.1"/>
<line x1="173.1" y1="131.8" x2="173.1" y2="137.5" stroke="#cc1a2c" stroke-width="1.1"/>
<line x1="170.9" y1="126.5" x2="175.3" y2="126.5" stroke="#cc1a2c" stroke-width="1.1"/>
<line x1="170.9" y1="137.5" x2="175.3" y2="137.5" stroke="#cc1a2c" stroke-width="1.1"/>
<rect x="169.9" y="128.7" width="6.4" height="3.1" fill="#fff" stroke="#cc1a2c" stroke-width="1.1"/>
<line x1="169.9" y1="130" x2="176.3" y2="130" stroke="#cc1a2c" stroke-width="1.1"/>
<line x1="182.9" y1="126.5" x2="182.9" y2="131.3" stroke="#cc1a2c" stroke-width="1.1"/>
<line x1="182.9" y1="136.8" x2="182.9" y2="152.8" stroke="#cc1a2c" stroke-width="1.1"/>
<line x1="180.7" y1="126.5" x2="185.1" y2="126.5" stroke="#cc1a2c" stroke-width="1.1"/>
<line x1="180.7" y1="152.8" x2="185.1" y2="152.8" stroke="#cc1a2c" stroke-width="1.1"/>
<rect x="179.7" y="131.3" width="6.4" height="5.5" fill="#fff" stroke="#cc1a2c" stroke-width="1.1"/>
<line x1="179.7" y1="134" x2="186.1" y2="134" stroke="#cc1a2c" stroke-width="1.1"/>
<line x1="192.7" y1="123.6" x2="192.7" y2="131.3" stroke="#cc1a2c" stroke-width="1.1"/>
<line x1="192.7" y1="136.8" x2="192.7" y2="151.5" stroke="#cc1a2c" stroke-width="1.1"/>
<line x1="190.5" y1="123.6" x2="194.9" y2="123.6" stroke="#cc1a2c" stroke-width="1.1"/>
<line x1="190.5" y1="151.5" x2="194.9" y2="151.5" stroke="#cc1a2c" stroke-width="1.1"/>
<rect x="189.5" y="131.3" width="6.4" height="5.5" fill="#fff" stroke="#cc1a2c" stroke-width="1.1"/>
<line x1="189.5" y1="134" x2="195.9" y2="134" stroke="#cc1a2c" stroke-width="1.1"/>
<line x1="202.2" y1="127.6" x2="202.2" y2="131.3" stroke="#cc1a2c" stroke-width="1.1"/>
<line x1="202.2" y1="135.3" x2="202.2" y2="145.6" stroke="#cc1a2c" stroke-width="1.1"/>
<line x1="200" y1="127.6" x2="204.4" y2="127.6" stroke="#cc1a2c" stroke-width="1.1"/>
<line x1="200" y1="145.6" x2="204.4" y2="145.6" stroke="#cc1a2c" stroke-width="1.1"/>
<rect x="199" y="131.3" width="6.4" height="4" fill="#fff" stroke="#cc1a2c" stroke-width="1.1"/>
<line x1="199" y1="133.5" x2="205.4" y2="133.5" stroke="#cc1a2c" stroke-width="1.1"/>
<line x1="212" y1="128.7" x2="212" y2="137.5" stroke="#1f3cb0" stroke-width="1.1"/>
<line x1="212" y1="143.4" x2="212" y2="145" stroke="#1f3cb0" stroke-width="1.1"/>
<line x1="209.8" y1="128.7" x2="214.2" y2="128.7" stroke="#1f3cb0" stroke-width="1.1"/>
<line x1="209.8" y1="145" x2="214.2" y2="145" stroke="#1f3cb0" stroke-width="1.1"/>
<rect x="208.8" y="137.5" width="6.4" height="5.9" fill="#fff" stroke="#1f3cb0" stroke-width="1.1"/>
<line x1="208.8" y1="140.8" x2="215.2" y2="140.8" stroke="#1f3cb0" stroke-width="1.1"/>
<line x1="221.5" y1="131.3" x2="221.5" y2="139" stroke="#1f3cb0" stroke-width="1.1"/>
<line x1="221.5" y1="144" x2="221.5" y2="154.3" stroke="#1f3cb0" stroke-width="1.1"/>
<line x1="219.3" y1="131.3" x2="223.7" y2="131.3" stroke="#1f3cb0" stroke-width="1.1"/>
<line x1="219.3" y1="154.3" x2="223.7" y2="154.3" stroke="#1f3cb0" stroke-width="1.1"/>
<rect x="218.3" y="139" width="6.4" height="5" fill="#fff" stroke="#1f3cb0" stroke-width="1.1"/>
<line x1="218.3" y1="141.5" x2="224.7" y2="141.5" stroke="#1f3cb0" stroke-width="1.1"/>
<line x1="159.4" y1="113" x2="159.4" y2="158.8" stroke="#111" stroke-width="1.1"/>
<line x1="158.9" y1="158.3" x2="227.5" y2="158.3" stroke="#111" stroke-width="1.1"/>
<line x1="156.2" y1="114.3" x2="159.4" y2="114.3" stroke="#111" stroke-width="1"/>
<text x="154.8" y="116.4" font-size="6.1" text-anchor="end" fill="#222" stroke="#222" stroke-width="0.18">15</text>
<line x1="156.2" y1="129" x2="159.4" y2="129" stroke="#111" stroke-width="1"/>
<text x="154.8" y="131.1" font-size="6.1" text-anchor="end" fill="#222" stroke="#222" stroke-width="0.18">10</text>
<line x1="156.2" y1="143.7" x2="159.4" y2="143.7" stroke="#111" stroke-width="1"/>
<text x="154.8" y="145.8" font-size="6.1" text-anchor="end" fill="#222" stroke="#222" stroke-width="0.18">5</text>
<line x1="156.2" y1="158.3" x2="159.4" y2="158.3" stroke="#111" stroke-width="1"/>
<text x="154.8" y="160.4" font-size="6.1" text-anchor="end" fill="#222" stroke="#222" stroke-width="0.18">0</text>
<line x1="163.3" y1="158.3" x2="163.3" y2="161.3" stroke="#111" stroke-width="1"/>
<text x="0" y="0" font-size="6.2" fill="#222" stroke="#222" stroke-width="0.18" text-anchor="end" transform="translate(166.3,165.9) rotate(-45)">CD1</text>
<line x1="173.1" y1="158.3" x2="173.1" y2="161.3" stroke="#111" stroke-width="1"/>
<text x="0" y="0" font-size="6.2" fill="#222" stroke="#222" stroke-width="0.18" text-anchor="end" transform="translate(176.1,165.9) rotate(-45)">CD2</text>
<line x1="182.9" y1="158.3" x2="182.9" y2="161.3" stroke="#111" stroke-width="1"/>
<text x="0" y="0" font-size="6.2" fill="#222" stroke="#222" stroke-width="0.18" text-anchor="end" transform="translate(185.9,165.9) rotate(-45)">HY</text>
<line x1="192.7" y1="158.3" x2="192.7" y2="161.3" stroke="#111" stroke-width="1"/>
<text x="0" y="0" font-size="6.2" fill="#222" stroke="#222" stroke-width="0.18" text-anchor="end" transform="translate(195.7,165.9) rotate(-45)">MS</text>
<line x1="202.2" y1="158.3" x2="202.2" y2="161.3" stroke="#111" stroke-width="1"/>
<text x="0" y="0" font-size="6.2" fill="#222" stroke="#222" stroke-width="0.18" text-anchor="end" transform="translate(205.2,165.9) rotate(-45)">MF</text>
<line x1="212" y1="158.3" x2="212" y2="161.3" stroke="#111" stroke-width="1"/>
<text x="0" y="0" font-size="6.2" fill="#222" stroke="#222" stroke-width="0.18" text-anchor="end" transform="translate(215,165.9) rotate(-45)">PR</text>
<line x1="221.5" y1="158.3" x2="221.5" y2="161.3" stroke="#111" stroke-width="1"/>
<text x="0" y="0" font-size="6.2" fill="#222" stroke="#222" stroke-width="0.18" text-anchor="end" transform="translate(224.5,165.9) rotate(-45)">CTA</text>
<line x1="163.8" y1="119.3" x2="202.8" y2="119.3" stroke="#222" stroke-width="1.1"/>
<line x1="182.8" y1="119.8" x2="182.8" y2="112.7" stroke="#222" stroke-width="1.1"/>
<line x1="182.3" y1="112.7" x2="218" y2="112.7" stroke="#222" stroke-width="1.1"/>
<line x1="217.5" y1="112.2" x2="217.5" y2="126.3" stroke="#222" stroke-width="1.1"/>
<line x1="212.2" y1="126.3" x2="222.4" y2="126.3" stroke="#222" stroke-width="1.1"/>
<text x="200.4" y="112.6" font-size="5" fill="#222" stroke="#222" stroke-width="0.18">*</text>
<line x1="247.9" y1="129.8" x2="247.9" y2="135" stroke="#cc1a2c" stroke-width="1.1"/>
<line x1="247.9" y1="139.2" x2="247.9" y2="143.1" stroke="#cc1a2c" stroke-width="1.1"/>
<line x1="245.7" y1="129.8" x2="250.1" y2="129.8" stroke="#cc1a2c" stroke-width="1.1"/>
<line x1="245.7" y1="143.1" x2="250.1" y2="143.1" stroke="#cc1a2c" stroke-width="1.1"/>
<rect x="244.7" y="135" width="6.4" height="4.2" fill="#fff" stroke="#cc1a2c" stroke-width="1.1"/>
<line x1="244.7" y1="137.2" x2="251.1" y2="137.2" stroke="#cc1a2c" stroke-width="1.1"/>
<line x1="257.6" y1="129.1" x2="257.6" y2="134" stroke="#cc1a2c" stroke-width="1.1"/>
<line x1="257.6" y1="138.5" x2="257.6" y2="143.8" stroke="#cc1a2c" stroke-width="1.1"/>
<line x1="255.4" y1="129.1" x2="259.8" y2="129.1" stroke="#cc1a2c" stroke-width="1.1"/>
<line x1="255.4" y1="143.8" x2="259.8" y2="143.8" stroke="#cc1a2c" stroke-width="1.1"/>
<rect x="254.4" y="134" width="6.4" height="4.5" fill="#fff" stroke="#cc1a2c" stroke-width="1.1"/>
<line x1="254.4" y1="136.3" x2="260.8" y2="136.3" stroke="#cc1a2c" stroke-width="1.1"/>
<line x1="267.4" y1="123.3" x2="267.4" y2="136.1" stroke="#cc1a2c" stroke-width="1.1"/>
<line x1="267.4" y1="140.1" x2="267.4" y2="146.2" stroke="#cc1a2c" stroke-width="1.1"/>
<line x1="265.2" y1="123.3" x2="269.6" y2="123.3" stroke="#cc1a2c" stroke-width="1.1"/>
<line x1="265.2" y1="146.2" x2="269.6" y2="146.2" stroke="#cc1a2c" stroke-width="1.1"/>
<rect x="264.2" y="136.1" width="6.4" height="4" fill="#fff" stroke="#cc1a2c" stroke-width="1.1"/>
<line x1="264.2" y1="138" x2="270.6" y2="138" stroke="#cc1a2c" stroke-width="1.1"/>
<line x1="277.1" y1="130.3" x2="277.1" y2="135" stroke="#cc1a2c" stroke-width="1.1"/>
<line x1="277.1" y1="139" x2="277.1" y2="144.3" stroke="#cc1a2c" stroke-width="1.1"/>
<line x1="274.9" y1="130.3" x2="279.3" y2="130.3" stroke="#cc1a2c" stroke-width="1.1"/>
<line x1="274.9" y1="144.3" x2="279.3" y2="144.3" stroke="#cc1a2c" stroke-width="1.1"/>
<rect x="273.9" y="135" width="6.4" height="4" fill="#fff" stroke="#cc1a2c" stroke-width="1.1"/>
<line x1="273.9" y1="137" x2="280.3" y2="137" stroke="#cc1a2c" stroke-width="1.1"/>
<line x1="286.8" y1="129.1" x2="286.8" y2="136.5" stroke="#cc1a2c" stroke-width="1.1"/>
<line x1="286.8" y1="140" x2="286.8" y2="154.8" stroke="#cc1a2c" stroke-width="1.1"/>
<line x1="284.6" y1="129.1" x2="289" y2="129.1" stroke="#cc1a2c" stroke-width="1.1"/>
<line x1="284.6" y1="154.8" x2="289" y2="154.8" stroke="#cc1a2c" stroke-width="1.1"/>
<rect x="283.6" y="136.5" width="6.4" height="3.5" fill="#fff" stroke="#cc1a2c" stroke-width="1.1"/>
<line x1="283.6" y1="138.2" x2="290" y2="138.2" stroke="#cc1a2c" stroke-width="1.1"/>
<line x1="296.5" y1="128.4" x2="296.5" y2="135" stroke="#cc1a2c" stroke-width="1.1"/>
<line x1="296.5" y1="139.5" x2="296.5" y2="149" stroke="#cc1a2c" stroke-width="1.1"/>
<line x1="294.3" y1="128.4" x2="298.7" y2="128.4" stroke="#cc1a2c" stroke-width="1.1"/>
<line x1="294.3" y1="149" x2="298.7" y2="149" stroke="#cc1a2c" stroke-width="1.1"/>
<rect x="293.3" y="135" width="6.4" height="4.5" fill="#fff" stroke="#cc1a2c" stroke-width="1.1"/>
<line x1="293.3" y1="137.2" x2="299.7" y2="137.2" stroke="#cc1a2c" stroke-width="1.1"/>
<line x1="306.2" y1="134.5" x2="306.2" y2="138.5" stroke="#1f3cb0" stroke-width="1.1"/>
<line x1="306.2" y1="143.1" x2="306.2" y2="155.8" stroke="#1f3cb0" stroke-width="1.1"/>
<line x1="304" y1="134.5" x2="308.4" y2="134.5" stroke="#1f3cb0" stroke-width="1.1"/>
<line x1="304" y1="155.8" x2="308.4" y2="155.8" stroke="#1f3cb0" stroke-width="1.1"/>
<rect x="303" y="138.5" width="6.4" height="4.6" fill="#fff" stroke="#1f3cb0" stroke-width="1.1"/>
<line x1="303" y1="141" x2="309.4" y2="141" stroke="#1f3cb0" stroke-width="1.1"/>
<line x1="243.2" y1="118.5" x2="243.2" y2="163.8" stroke="#111" stroke-width="1.1"/>
<line x1="242.7" y1="154.8" x2="310.5" y2="154.8" stroke="#111" stroke-width="1.1"/>
<line x1="240" y1="119.1" x2="243.2" y2="119.1" stroke="#111" stroke-width="1"/>
<text x="238.6" y="121.2" font-size="6.1" text-anchor="end" fill="#222" stroke="#222" stroke-width="0.18">8</text>
<line x1="240" y1="128" x2="243.2" y2="128" stroke="#111" stroke-width="1"/>
<text x="238.6" y="130.1" font-size="6.1" text-anchor="end" fill="#222" stroke="#222" stroke-width="0.18">6</text>
<line x1="240" y1="136.9" x2="243.2" y2="136.9" stroke="#111" stroke-width="1"/>
<text x="238.6" y="139" font-size="6.1" text-anchor="end" fill="#222" stroke="#222" stroke-width="0.18">4</text>
<line x1="240" y1="145.9" x2="243.2" y2="145.9" stroke="#111" stroke-width="1"/>
<text x="238.6" y="148" font-size="6.1" text-anchor="end" fill="#222" stroke="#222" stroke-width="0.18">2</text>
<line x1="240" y1="154.8" x2="243.2" y2="154.8" stroke="#111" stroke-width="1"/>
<text x="238.6" y="156.9" font-size="6.1" text-anchor="end" fill="#222" stroke="#222" stroke-width="0.18">0</text>
<line x1="240" y1="163.4" x2="243.2" y2="163.4" stroke="#111" stroke-width="1"/>
<text x="238.6" y="165.5" font-size="6.1" text-anchor="end" fill="#222" stroke="#222" stroke-width="0.18">-2</text>
<line x1="247.9" y1="154.8" x2="247.9" y2="157.8" stroke="#111" stroke-width="1"/>
<text x="0" y="0" font-size="6.2" fill="#222" stroke="#222" stroke-width="0.18" text-anchor="end" transform="translate(250,165.4) rotate(-45)">CD1</text>
<line x1="257.6" y1="154.8" x2="257.6" y2="157.8" stroke="#111" stroke-width="1"/>
<text x="0" y="0" font-size="6.2" fill="#222" stroke="#222" stroke-width="0.18" text-anchor="end" transform="translate(259.7,165.4) rotate(-45)">CD2</text>
<line x1="267.4" y1="154.8" x2="267.4" y2="157.8" stroke="#111" stroke-width="1"/>
<text x="0" y="0" font-size="6.2" fill="#222" stroke="#222" stroke-width="0.18" text-anchor="end" transform="translate(269.5,165.4) rotate(-45)">HY</text>
<line x1="277.1" y1="154.8" x2="277.1" y2="157.8" stroke="#111" stroke-width="1"/>
<text x="0" y="0" font-size="6.2" fill="#222" stroke="#222" stroke-width="0.18" text-anchor="end" transform="translate(279.2,165.4) rotate(-45)">LB</text>
<line x1="286.8" y1="154.8" x2="286.8" y2="157.8" stroke="#111" stroke-width="1"/>
<text x="0" y="0" font-size="6.2" fill="#222" stroke="#222" stroke-width="0.18" text-anchor="end" transform="translate(288.9,165.4) rotate(-45)">MS</text>
<line x1="296.5" y1="154.8" x2="296.5" y2="157.8" stroke="#111" stroke-width="1"/>
<text x="0" y="0" font-size="6.2" fill="#222" stroke="#222" stroke-width="0.18" text-anchor="end" transform="translate(298.6,165.4) rotate(-45)">MF</text>
<line x1="306.2" y1="154.8" x2="306.2" y2="157.8" stroke="#111" stroke-width="1"/>
<text x="0" y="0" font-size="6.2" fill="#222" stroke="#222" stroke-width="0.18" text-anchor="end" transform="translate(308.3,165.4) rotate(-45)">PR</text>
<line x1="248.3" y1="121" x2="296.1" y2="121" stroke="#555" stroke-width="1.3"/>
<line x1="271.2" y1="121.5" x2="271.2" y2="111" stroke="#222" stroke-width="1.1"/>
<line x1="270.7" y1="111" x2="307.1" y2="111" stroke="#222" stroke-width="1.1"/>
<line x1="306.6" y1="110.5" x2="306.6" y2="130.3" stroke="#222" stroke-width="1.1"/>
<text x="288.4" y="111" font-size="5" fill="#222" stroke="#222" stroke-width="0.18">*</text>
<text x="321.7" y="107.7" font-size="11" font-weight="bold" fill="#000" stroke="#000" stroke-width="0.35">D</text>
<text font-size="5.2" fill="#222" stroke="#222" stroke-width="0.24" text-anchor="middle" textLength="35.6" lengthAdjust="spacingAndGlyphs" transform="translate(328.4,140.7) rotate(-90)">Relative ALCAM</text>
<text font-size="5.2" fill="#222" stroke="#222" stroke-width="0.24" text-anchor="middle" textLength="35.3" lengthAdjust="spacingAndGlyphs" transform="translate(336.9,140.5) rotate(-90)">expression (log)</text>
<line x1="359.6" y1="121.3" x2="359.6" y2="127.6" stroke="#cc1a2c" stroke-width="1.1"/>
<line x1="359.6" y1="132.2" x2="359.6" y2="150.8" stroke="#cc1a2c" stroke-width="1.1"/>
<line x1="357.4" y1="121.3" x2="361.8" y2="121.3" stroke="#cc1a2c" stroke-width="1.1"/>
<line x1="357.4" y1="150.8" x2="361.8" y2="150.8" stroke="#cc1a2c" stroke-width="1.1"/>
<rect x="355.3" y="127.6" width="8.6" height="4.6" fill="#fff" stroke="#cc1a2c" stroke-width="1.1"/>
<line x1="355.3" y1="130" x2="363.9" y2="130" stroke="#cc1a2c" stroke-width="1.1"/>
<line x1="370.9" y1="122.7" x2="370.9" y2="127.6" stroke="#1f3cb0" stroke-width="1.1"/>
<line x1="370.9" y1="135.2" x2="370.9" y2="154.5" stroke="#1f3cb0" stroke-width="1.1"/>
<line x1="368.7" y1="122.7" x2="373.1" y2="122.7" stroke="#1f3cb0" stroke-width="1.1"/>
<line x1="368.7" y1="154.5" x2="373.1" y2="154.5" stroke="#1f3cb0" stroke-width="1.1"/>
<rect x="366.3" y="127.6" width="9.2" height="7.6" fill="#fff" stroke="#1f3cb0" stroke-width="1.1"/>
<line x1="366.3" y1="131.2" x2="375.5" y2="131.2" stroke="#1f3cb0" stroke-width="1.1"/>
<line x1="353.4" y1="117.5" x2="353.4" y2="163" stroke="#111" stroke-width="1.1"/>
<line x1="352.9" y1="132.8" x2="377" y2="132.8" stroke="#333" stroke-width="1.1"/>
<line x1="349.8" y1="118.2" x2="353.4" y2="118.2" stroke="#111" stroke-width="1"/>
<text x="348.2" y="120.3" font-size="6.1" text-anchor="end" fill="#222" stroke="#222" stroke-width="0.18">4</text>
<line x1="349.8" y1="125.6" x2="353.4" y2="125.6" stroke="#111" stroke-width="1"/>
<text x="348.2" y="127.7" font-size="6.1" text-anchor="end" fill="#222" stroke="#222" stroke-width="0.18">2</text>
<line x1="349.8" y1="133" x2="353.4" y2="133" stroke="#111" stroke-width="1"/>
<text x="348.2" y="135.1" font-size="6.1" text-anchor="end" fill="#222" stroke="#222" stroke-width="0.18">0</text>
<line x1="349.8" y1="140.4" x2="353.4" y2="140.4" stroke="#111" stroke-width="1"/>
<text x="348.2" y="142.5" font-size="6.1" text-anchor="end" fill="#222" stroke="#222" stroke-width="0.18">-2</text>
<line x1="349.8" y1="147.8" x2="353.4" y2="147.8" stroke="#111" stroke-width="1"/>
<text x="348.2" y="149.9" font-size="6.1" text-anchor="end" fill="#222" stroke="#222" stroke-width="0.18">-4</text>
<line x1="349.8" y1="155.2" x2="353.4" y2="155.2" stroke="#111" stroke-width="1"/>
<text x="348.2" y="157.3" font-size="6.1" text-anchor="end" fill="#222" stroke="#222" stroke-width="0.18">-6</text>
<line x1="349.8" y1="162.6" x2="353.4" y2="162.6" stroke="#111" stroke-width="1"/>
<text x="348.2" y="164.7" font-size="6.1" text-anchor="end" fill="#222" stroke="#222" stroke-width="0.18">-8</text>
<text x="0" y="0" font-size="6" fill="#222" stroke="#222" stroke-width="0.18" text-anchor="end" transform="translate(360.2,162.5) rotate(-45)">Primary</text>
<text x="0" y="0" font-size="6" fill="#222" stroke="#222" stroke-width="0.18" text-anchor="end" transform="translate(371.7,160.6) rotate(-45)">Recurrent</text>
<line x1="359.4" y1="114.6" x2="371.7" y2="114.6" stroke="#222" stroke-width="1.1"/>
<line x1="359.4" y1="114.1" x2="359.4" y2="117" stroke="#222" stroke-width="1.1"/>
<line x1="371.7" y1="114.1" x2="371.7" y2="117" stroke="#222" stroke-width="1.1"/>
<text x="365.5" y="116.6" font-size="5.5" text-anchor="middle" fill="#222" stroke="#222" stroke-width="0.18">*</text>
<text x="388.9" y="108.4" font-size="11" font-weight="bold" fill="#000" stroke="#000" stroke-width="0.35">E</text>
<text x="0" y="0" font-size="6.2" fill="#222" stroke="#222" stroke-width="0.18" text-anchor="start" transform="translate(400.7,128.6) rotate(-45)">MM1</text>
<text x="0" y="0" font-size="6.2" fill="#222" stroke="#222" stroke-width="0.18" text-anchor="start" transform="translate(415.7,128.6) rotate(-45)">MM2</text>
<text x="0" y="0" font-size="6.2" fill="#222" stroke="#222" stroke-width="0.18" text-anchor="start" transform="translate(430.7,128.6) rotate(-45)">MM3</text>
<text x="0" y="0" font-size="6.2" fill="#222" stroke="#222" stroke-width="0.18" text-anchor="start" transform="translate(445.7,128.6) rotate(-45)">MM4</text>
<text x="0" y="0" font-size="6.2" fill="#222" stroke="#222" stroke-width="0.18" text-anchor="start" transform="translate(460.7,128.6) rotate(-45)">MM5</text>
<text x="0" y="0" font-size="6.2" fill="#222" stroke="#222" stroke-width="0.18" text-anchor="start" transform="translate(475.7,128.6) rotate(-45)">MM6</text>
<rect x="392.2" y="132.9" width="89.9" height="8.9" fill="#030303" stroke="none" stroke-width="1"/>
<rect x="392.2" y="145.9" width="89.9" height="8.8" fill="#283a3a" stroke="none" stroke-width="1"/>
<g filter="url(#bl)">
<rect x="393.4" y="133.8" width="11.8" height="7" fill="#ffffff" stroke="none" stroke-width="1" rx="1"/>
<rect x="395.8" y="136.8" width="7" height="0.8" fill="#d0d8d8" stroke="none" stroke-width="1"/>
<rect x="407.7" y="133.8" width="11.8" height="7" fill="#ffffff" stroke="none" stroke-width="1" rx="1"/>
<rect x="410.1" y="136.8" width="7" height="0.8" fill="#d0d8d8" stroke="none" stroke-width="1"/>
<rect x="422.9" y="136" width="10" height="1.6" fill="#b0bcbc" stroke="none" stroke-width="1"/>
<rect x="437.3" y="136" width="10" height="1.6" fill="#b0bcbc" stroke="none" stroke-width="1"/>
<rect x="450.5" y="133.4" width="12.4" height="7.6" fill="#8a9a9a" stroke="none" stroke-width="1"/>
<rect x="451.1" y="133.8" width="11.2" height="2.6" fill="#ffffff" stroke="none" stroke-width="1"/>
<rect x="451.1" y="138.2" width="11.2" height="2.4" fill="#f0f4f4" stroke="none" stroke-width="1"/>
<rect x="453.2" y="136.3" width="7" height="1.6" fill="#3a4a4a" stroke="none" stroke-width="1"/>
<rect x="464.9" y="133.8" width="12.4" height="7" fill="#ffffff" stroke="none" stroke-width="1" rx="1"/>
<rect x="393.3" y="147.6" width="12" height="4.6" fill="#f0f6f6" stroke="none" stroke-width="1"/>
<rect x="407.6" y="147.6" width="12" height="4.6" fill="#f0f6f6" stroke="none" stroke-width="1"/>
<rect x="422.1" y="148.2" width="11.6" height="3.4" fill="#a0b4b4" stroke="none" stroke-width="1"/>
<rect x="436.5" y="148.2" width="11.6" height="3.4" fill="#a0b4b4" stroke="none" stroke-width="1"/>
<rect x="450.9" y="148.2" width="11.6" height="3.4" fill="#a0b4b4" stroke="none" stroke-width="1"/>
<rect x="464.9" y="146.9" width="12.4" height="5.8" fill="#ffffff" stroke="none" stroke-width="1"/>
</g>
<text x="484.9" y="140.9" font-size="6.8" fill="#222" stroke="#222" stroke-width="0.18" textLength="21.4" lengthAdjust="spacingAndGlyphs">ALCAM</text>
<text x="484.9" y="153.7" font-size="6.8" fill="#222" stroke="#222" stroke-width="0.18" textLength="22" lengthAdjust="spacingAndGlyphs">GAPDH</text>
<text x="8" y="213.8" font-size="11" font-weight="bold" fill="#000" stroke="#000" stroke-width="0.35">F</text>
<rect x="13" y="227.7" width="37.8" height="37.7" fill="#fff" stroke="#1a1a1a" stroke-width="1.15"/>
<polygon points="13.6,264.48 13.92,264.47 14.25,264.46 14.57,264.44 14.9,264.43 15.22,264.42 15.54,264.4 15.87,264.39 16.19,264.37 16.52,264.36 16.84,264.34 17.16,264.32 17.49,264.31 17.81,264.29 18.13,264.27 18.46,264.25 18.78,264.22 19.11,264.2 19.43,264.18 19.75,264.15 20.08,264.11 20.4,264.07 20.73,264.01 21.05,263.93 21.37,263.8 21.7,263.62 22.02,263.34 22.35,262.93 22.67,262.35 22.99,261.54 23.32,260.45 23.64,259.02 23.96,257.21 24.29,255 24.61,252.4 24.94,249.48 25.26,246.34 25.58,243.12 25.91,240.02 26.23,237.24 26.56,234.98 26.88,233.42 27.2,232.7 27.53,232.87 27.85,233.91 28.18,235.75 28.5,238.22 28.82,241.13 29.15,244.28 29.47,247.46 29.79,250.51 30.12,253.28 30.44,255.71 30.77,257.74 31.09,259.38 31.41,260.65 31.74,261.62 32.06,262.32 32.39,262.81 32.71,263.16 33.03,263.39 33.36,263.55 33.68,263.66 34.01,263.74 34.33,263.8 34.65,263.84 34.98,263.88 35.3,263.92 35.62,263.95 35.95,263.99 36.27,264.02 36.6,264.05 36.92,264.09 37.24,264.12 37.57,264.15 37.89,264.18 38.22,264.21 38.54,264.24 38.86,264.26 39.19,264.29 39.51,264.32 39.84,264.34 40.16,264.36 40.48,264.38 40.81,264.4 41.13,264.42 41.45,264.44 41.78,264.45 42.1,264.47 42.43,264.48 42.75,264.5 43.07,264.51 43.4,264.52 43.72,264.53 44.05,264.54 44.37,264.54 44.69,264.55 45.02,264.56 45.34,264.56 45.67,264.57 45.99,264.57 46.31,264.58 46.64,264.58 46.96,264.58 47.28,264.58 47.61,264.59 47.93,264.59 48.26,264.59 48.58,264.59 48.9,264.59 49.23,264.59 49.55,264.6 49.88,264.6 50.2,264.6 50.2,264.6 13.6,264.6" fill="#aadbe6"/>
<polyline points="13.6,264.33 13.92,264.17 14.25,263.91 14.57,263.53 14.9,262.99 15.22,262.24 15.54,261.23 15.87,259.9 16.19,258.22 16.52,256.17 16.84,253.74 17.16,250.97 17.49,247.95 17.81,244.78 18.13,241.62 18.46,238.65 18.78,236.05 19.11,234 19.43,232.65 19.75,232.11 20.08,232.48 20.4,233.87 20.73,236.13 21.05,239.06 21.37,242.42 21.7,245.95 22.02,249.42 22.35,252.64 22.67,255.48 22.99,257.86 23.32,259.78 23.64,261.26 23.96,262.36 24.29,263.15 24.61,263.69 24.94,264.05 25.26,264.27 25.58,264.41 25.91,264.5 26.23,264.55 26.56,264.57 26.88,264.59 27.2,264.59 27.53,264.6 27.85,264.6 28.18,264.6 28.5,264.6 28.82,264.6 29.15,264.6 29.47,264.6 29.79,264.6 30.12,264.6 30.44,264.6 30.77,264.6 31.09,264.6 31.41,264.6 31.74,264.6 32.06,264.6 32.39,264.6 32.71,264.6 33.03,264.6 33.36,264.6 33.68,264.6 34.01,264.6 34.33,264.6 34.65,264.6 34.98,264.6 35.3,264.6 35.62,264.6 35.95,264.6 36.27,264.6 36.6,264.6 36.92,264.6 37.24,264.6 37.57,264.6 37.89,264.6 38.22,264.6 38.54,264.6 38.86,264.6 39.19,264.6 39.51,264.6 39.84,264.6 40.16,264.6 40.48,264.6 40.81,264.6 41.13,264.6 41.45,264.6 41.78,264.6 42.1,264.6 42.43,264.6 42.75,264.6 43.07,264.6 43.4,264.6 43.72,264.6 44.05,264.6 44.37,264.6 44.69,264.6 45.02,264.6 45.34,264.6 45.67,264.6 45.99,264.6 46.31,264.6 46.64,264.6 46.96,264.6 47.28,264.6 47.61,264.6 47.93,264.6 48.26,264.6 48.58,264.6 48.9,264.6 49.23,264.6 49.55,264.6 49.88,264.6 50.2,264.6" fill="none" stroke="#cc1a2c" stroke-width="1.5" stroke-linejoin="round"/>
<polyline points="13.6,264.48 13.92,264.47 14.25,264.46 14.57,264.44 14.9,264.43 15.22,264.42 15.54,264.4 15.87,264.39 16.19,264.37 16.52,264.36 16.84,264.34 17.16,264.32 17.49,264.31 17.81,264.29 18.13,264.27 18.46,264.25 18.78,264.22 19.11,264.2 19.43,264.18 19.75,264.15 20.08,264.11 20.4,264.07 20.73,264.01 21.05,263.93 21.37,263.8 21.7,263.62 22.02,263.34 22.35,262.93 22.67,262.35 22.99,261.54 23.32,260.45 23.64,259.02 23.96,257.21 24.29,255 24.61,252.4 24.94,249.48 25.26,246.34 25.58,243.12 25.91,240.02 26.23,237.24 26.56,234.98 26.88,233.42 27.2,232.7 27.53,232.87 27.85,233.91 28.18,235.75 28.5,238.22 28.82,241.13 29.15,244.28 29.47,247.46 29.79,250.51 30.12,253.28 30.44,255.71 30.77,257.74 31.09,259.38 31.41,260.65 31.74,261.62 32.06,262.32 32.39,262.81 32.71,263.16 33.03,263.39 33.36,263.55 33.68,263.66 34.01,263.74 34.33,263.8 34.65,263.84 34.98,263.88 35.3,263.92 35.62,263.95 35.95,263.99 36.27,264.02 36.6,264.05 36.92,264.09 37.24,264.12 37.57,264.15 37.89,264.18 38.22,264.21 38.54,264.24 38.86,264.26 39.19,264.29 39.51,264.32 39.84,264.34 40.16,264.36 40.48,264.38 40.81,264.4 41.13,264.42 41.45,264.44 41.78,264.45 42.1,264.47 42.43,264.48 42.75,264.5 43.07,264.51 43.4,264.52 43.72,264.53 44.05,264.54 44.37,264.54 44.69,264.55 45.02,264.56 45.34,264.56 45.67,264.57 45.99,264.57 46.31,264.58 46.64,264.58 46.96,264.58 47.28,264.58 47.61,264.59 47.93,264.59 48.26,264.59 48.58,264.59 48.9,264.59 49.23,264.59 49.55,264.6 49.88,264.6 50.2,264.6" fill="none" stroke="#1f3cb0" stroke-width="1.5" stroke-linejoin="round"/>
<line x1="11.8" y1="265.4" x2="13" y2="265.4" stroke="#555" stroke-width="0.5"/>
<text x="11.4" y="266.3" font-size="2.6" text-anchor="end" fill="#777" stroke="#777" stroke-width="0.18">0</text>
<line x1="11.8" y1="254.17" x2="13" y2="254.17" stroke="#555" stroke-width="0.5"/>
<text x="11.4" y="255.07" font-size="2.6" text-anchor="end" fill="#777" stroke="#777" stroke-width="0.18">80</text>
<line x1="11.8" y1="242.93" x2="13" y2="242.93" stroke="#555" stroke-width="0.5"/>
<text x="11.4" y="243.83" font-size="2.6" text-anchor="end" fill="#777" stroke="#777" stroke-width="0.18">120</text>
<line x1="11.8" y1="231.7" x2="13" y2="231.7" stroke="#555" stroke-width="0.5"/>
<text x="11.4" y="232.6" font-size="2.6" text-anchor="end" fill="#777" stroke="#777" stroke-width="0.18">160</text>
<line x1="15" y1="265.4" x2="15" y2="266.7" stroke="#555" stroke-width="0.5"/>
<text x="15" y="271.2" font-size="3" fill="#666" text-anchor="middle">10<tspan font-size="2" dy="-1">0</tspan></text>
<line x1="23.45" y1="265.4" x2="23.45" y2="266.7" stroke="#555" stroke-width="0.5"/>
<text x="23.45" y="271.2" font-size="3" fill="#666" text-anchor="middle">10<tspan font-size="2" dy="-1">1</tspan></text>
<line x1="31.9" y1="265.4" x2="31.9" y2="266.7" stroke="#555" stroke-width="0.5"/>
<text x="31.9" y="271.2" font-size="3" fill="#666" text-anchor="middle">10<tspan font-size="2" dy="-1">2</tspan></text>
<line x1="40.35" y1="265.4" x2="40.35" y2="266.7" stroke="#555" stroke-width="0.5"/>
<text x="40.35" y="271.2" font-size="3" fill="#666" text-anchor="middle">10<tspan font-size="2" dy="-1">3</tspan></text>
<line x1="48.8" y1="265.4" x2="48.8" y2="266.7" stroke="#555" stroke-width="0.5"/>
<text x="48.8" y="271.2" font-size="3" fill="#666" text-anchor="middle">10<tspan font-size="2" dy="-1">4</tspan></text>
<text x="31.9" y="225.5" font-size="8.3" text-anchor="middle" fill="#111" stroke="#111" stroke-width="0.18">MM1</text>
<rect x="60.4" y="226.9" width="38.8" height="38.3" fill="#fff" stroke="#1a1a1a" stroke-width="1.15"/>
<polygon points="61,264.4 61.32,264.4 61.65,264.4 61.97,264.4 62.3,264.4 62.62,264.4 62.94,264.4 63.27,264.4 63.59,264.4 63.92,264.4 64.24,264.4 64.57,264.4 64.89,264.4 65.21,264.4 65.54,264.4 65.86,264.39 66.19,264.39 66.51,264.38 66.83,264.37 67.16,264.35 67.48,264.32 67.81,264.28 68.13,264.22 68.46,264.13 68.78,264.01 69.1,263.84 69.43,263.61 69.75,263.3 70.08,262.89 70.4,262.36 70.72,261.69 71.05,260.85 71.37,259.82 71.7,258.59 72.02,257.14 72.34,255.48 72.67,253.59 72.99,251.51 73.32,249.27 73.64,246.92 73.97,244.5 74.29,242.1 74.61,239.8 74.94,237.68 75.26,235.83 75.59,234.32 75.91,233.21 76.23,232.57 76.56,232.41 76.88,232.8 77.21,233.76 77.53,235.22 77.86,237.12 78.18,239.35 78.5,241.81 78.83,244.41 79.15,247.02 79.48,249.56 79.8,251.97 80.12,254.17 80.45,256.13 80.77,257.84 81.1,259.29 81.42,260.49 81.74,261.46 82.07,262.23 82.39,262.83 82.72,263.28 83.04,263.62 83.37,263.87 83.69,264.04 84.01,264.16 84.34,264.25 84.66,264.3 84.99,264.34 85.31,264.36 85.63,264.38 85.96,264.39 86.28,264.39 86.61,264.4 86.93,264.4 87.26,264.4 87.58,264.4 87.9,264.4 88.23,264.4 88.55,264.4 88.88,264.4 89.2,264.4 89.52,264.4 89.85,264.4 90.17,264.4 90.5,264.4 90.82,264.4 91.14,264.4 91.47,264.4 91.79,264.4 92.12,264.4 92.44,264.4 92.77,264.4 93.09,264.4 93.41,264.4 93.74,264.4 94.06,264.4 94.39,264.4 94.71,264.4 95.03,264.4 95.36,264.4 95.68,264.4 96.01,264.4 96.33,264.4 96.66,264.4 96.98,264.4 97.3,264.4 97.63,264.4 97.95,264.4 98.28,264.4 98.6,264.4 98.6,264.4 61,264.4" fill="#aadbe6"/>
<polyline points="61,250.66 61.32,248.63 61.65,246.53 61.97,244.43 62.3,242.36 62.62,240.39 62.94,238.57 63.27,236.95 63.59,235.55 63.92,234.39 64.24,233.45 64.57,232.75 64.89,233.37 65.21,235.53 65.54,238.56 65.86,241.69 66.19,244.28 66.51,246.01 66.83,246.84 67.16,247.02 67.48,246.9 67.81,246.85 68.13,247.17 68.46,248.14 68.78,249.79 69.1,251.92 69.43,254.29 69.75,256.63 70.08,258.74 70.4,260.49 70.72,261.84 71.05,262.81 71.37,263.47 71.7,263.88 72.02,264.12 72.34,264.26 72.67,264.33 72.99,264.37 73.32,264.39 73.64,264.39 73.97,264.4 74.29,264.4 74.61,264.4 74.94,264.4 75.26,264.4 75.59,264.4 75.91,264.4 76.23,264.4 76.56,264.4 76.88,264.4 77.21,264.4 77.53,264.4 77.86,264.4 78.18,264.4 78.5,264.4 78.83,264.4 79.15,264.4 79.48,264.4 79.8,264.4 80.12,264.4 80.45,264.4 80.77,264.4 81.1,264.4 81.42,264.4 81.74,264.4 82.07,264.4 82.39,264.4 82.72,264.4 83.04,264.4 83.37,264.4 83.69,264.4 84.01,264.4 84.34,264.4 84.66,264.4 84.99,264.4 85.31,264.4 85.63,264.4 85.96,264.4 86.28,264.4 86.61,264.4 86.93,264.4 87.26,264.4 87.58,264.4 87.9,264.4 88.23,264.4 88.55,264.4 88.88,264.4 89.2,264.4 89.52,264.4 89.85,264.4 90.17,264.4 90.5,264.4 90.82,264.4 91.14,264.4 91.47,264.4 91.79,264.4 92.12,264.4 92.44,264.4 92.77,264.4 93.09,264.4 93.41,264.4 93.74,264.4 94.06,264.4 94.39,264.4 94.71,264.4 95.03,264.4 95.36,264.4 95.68,264.4 96.01,264.4 96.33,264.4 96.66,264.4 96.98,264.4 97.3,264.4 97.63,264.4 97.95,264.4 98.28,264.4 98.6,264.4" fill="none" stroke="#cc1a2c" stroke-width="1.5" stroke-linejoin="round"/>
<polyline points="61,264.4 61.32,264.4 61.65,264.4 61.97,264.4 62.3,264.4 62.62,264.4 62.94,264.4 63.27,264.4 63.59,264.4 63.92,264.4 64.24,264.4 64.57,264.4 64.89,264.4 65.21,264.4 65.54,264.4 65.86,264.39 66.19,264.39 66.51,264.38 66.83,264.37 67.16,264.35 67.48,264.32 67.81,264.28 68.13,264.22 68.46,264.13 68.78,264.01 69.1,263.84 69.43,263.61 69.75,263.3 70.08,262.89 70.4,262.36 70.72,261.69 71.05,260.85 71.37,259.82 71.7,258.59 72.02,257.14 72.34,255.48 72.67,253.59 72.99,251.51 73.32,249.27 73.64,246.92 73.97,244.5 74.29,242.1 74.61,239.8 74.94,237.68 75.26,235.83 75.59,234.32 75.91,233.21 76.23,232.57 76.56,232.41 76.88,232.8 77.21,233.76 77.53,235.22 77.86,237.12 78.18,239.35 78.5,241.81 78.83,244.41 79.15,247.02 79.48,249.56 79.8,251.97 80.12,254.17 80.45,256.13 80.77,257.84 81.1,259.29 81.42,260.49 81.74,261.46 82.07,262.23 82.39,262.83 82.72,263.28 83.04,263.62 83.37,263.87 83.69,264.04 84.01,264.16 84.34,264.25 84.66,264.3 84.99,264.34 85.31,264.36 85.63,264.38 85.96,264.39 86.28,264.39 86.61,264.4 86.93,264.4 87.26,264.4 87.58,264.4 87.9,264.4 88.23,264.4 88.55,264.4 88.88,264.4 89.2,264.4 89.52,264.4 89.85,264.4 90.17,264.4 90.5,264.4 90.82,264.4 91.14,264.4 91.47,264.4 91.79,264.4 92.12,264.4 92.44,264.4 92.77,264.4 93.09,264.4 93.41,264.4 93.74,264.4 94.06,264.4 94.39,264.4 94.71,264.4 95.03,264.4 95.36,264.4 95.68,264.4 96.01,264.4 96.33,264.4 96.66,264.4 96.98,264.4 97.3,264.4 97.63,264.4 97.95,264.4 98.28,264.4 98.6,264.4" fill="none" stroke="#1f3cb0" stroke-width="1.5" stroke-linejoin="round"/>
<line x1="59.2" y1="265.2" x2="60.4" y2="265.2" stroke="#555" stroke-width="0.5"/>
<text x="58.8" y="266.1" font-size="2.6" text-anchor="end" fill="#777" stroke="#777" stroke-width="0.18">0</text>
<line x1="59.2" y1="256.62" x2="60.4" y2="256.62" stroke="#555" stroke-width="0.5"/>
<text x="58.8" y="257.52" font-size="2.6" text-anchor="end" fill="#777" stroke="#777" stroke-width="0.18">80</text>
<line x1="59.2" y1="248.05" x2="60.4" y2="248.05" stroke="#555" stroke-width="0.5"/>
<text x="58.8" y="248.95" font-size="2.6" text-anchor="end" fill="#777" stroke="#777" stroke-width="0.18">160</text>
<line x1="59.2" y1="239.47" x2="60.4" y2="239.47" stroke="#555" stroke-width="0.5"/>
<text x="58.8" y="240.38" font-size="2.6" text-anchor="end" fill="#777" stroke="#777" stroke-width="0.18">240</text>
<line x1="59.2" y1="230.9" x2="60.4" y2="230.9" stroke="#555" stroke-width="0.5"/>
<text x="58.8" y="231.8" font-size="2.6" text-anchor="end" fill="#777" stroke="#777" stroke-width="0.18">320</text>
<line x1="62.4" y1="265.2" x2="62.4" y2="266.5" stroke="#555" stroke-width="0.5"/>
<text x="62.4" y="271" font-size="3" fill="#666" text-anchor="middle">10<tspan font-size="2" dy="-1">0</tspan></text>
<line x1="71.1" y1="265.2" x2="71.1" y2="266.5" stroke="#555" stroke-width="0.5"/>
<text x="71.1" y="271" font-size="3" fill="#666" text-anchor="middle">10<tspan font-size="2" dy="-1">1</tspan></text>
<line x1="79.8" y1="265.2" x2="79.8" y2="266.5" stroke="#555" stroke-width="0.5"/>
<text x="79.8" y="271" font-size="3" fill="#666" text-anchor="middle">10<tspan font-size="2" dy="-1">2</tspan></text>
<line x1="88.5" y1="265.2" x2="88.5" y2="266.5" stroke="#555" stroke-width="0.5"/>
<text x="88.5" y="271" font-size="3" fill="#666" text-anchor="middle">10<tspan font-size="2" dy="-1">3</tspan></text>
<line x1="97.2" y1="265.2" x2="97.2" y2="266.5" stroke="#555" stroke-width="0.5"/>
<text x="97.2" y="271" font-size="3" fill="#666" text-anchor="middle">10<tspan font-size="2" dy="-1">4</tspan></text>
<text x="79.8" y="225.5" font-size="8.3" text-anchor="middle" fill="#111" stroke="#111" stroke-width="0.18">MM2</text>
<rect x="108.4" y="226.6" width="38.4" height="38.3" fill="#fff" stroke="#1a1a1a" stroke-width="1.15"/>
<polygon points="109,264.05 109.32,264.02 109.65,263.99 109.97,263.95 110.29,263.89 110.62,263.82 110.94,263.73 111.26,263.6 111.59,263.45 111.91,263.25 112.23,263 112.56,262.7 112.88,262.33 113.21,261.89 113.53,261.37 113.85,260.75 114.18,260.05 114.5,259.24 114.82,258.32 115.15,257.31 115.47,256.2 115.79,255 116.12,253.73 116.44,252.4 116.76,251.03 117.09,249.66 117.41,248.3 117.73,246.98 118.06,245.75 118.38,244.62 118.7,243.64 119.03,242.83 119.35,242.21 119.67,241.8 120,241.61 120.32,241.69 120.65,242.13 120.97,242.92 121.29,244.02 121.62,245.38 121.94,246.93 122.26,248.62 122.59,250.38 122.91,252.13 123.23,253.84 123.56,255.45 123.88,256.93 124.2,258.25 124.53,259.41 124.85,260.4 125.17,261.23 125.5,261.91 125.82,262.46 126.14,262.89 126.47,263.22 126.79,263.47 127.11,263.66 127.44,263.8 127.76,263.89 128.09,263.96 128.41,264.01 128.73,264.04 129.06,264.06 129.38,264.08 129.7,264.09 130.03,264.09 130.35,264.09 130.67,264.1 131,264.1 131.32,264.1 131.64,264.1 131.97,264.1 132.29,264.1 132.61,264.1 132.94,264.1 133.26,264.1 133.58,264.1 133.91,264.1 134.23,264.1 134.55,264.1 134.88,264.1 135.2,264.1 135.53,264.1 135.85,264.1 136.17,264.1 136.5,264.1 136.82,264.1 137.14,264.1 137.47,264.1 137.79,264.1 138.11,264.1 138.44,264.1 138.76,264.1 139.08,264.1 139.41,264.1 139.73,264.1 140.05,264.1 140.38,264.1 140.7,264.1 141.02,264.1 141.35,264.1 141.67,264.1 141.99,264.1 142.32,264.1 142.64,264.1 142.97,264.1 143.29,264.1 143.61,264.1 143.94,264.1 144.26,264.1 144.58,264.1 144.91,264.1 145.23,264.1 145.55,264.1 145.88,264.1 146.2,264.1 146.2,264.1 109,264.1" fill="#aadbe6"/>
<polyline points="109,263.84 109.32,263.65 109.65,263.35 109.97,262.89 110.29,262.21 110.62,261.25 110.94,259.92 111.26,258.17 111.59,255.96 111.91,253.29 112.23,250.18 112.56,246.76 112.88,243.18 113.21,239.66 113.53,236.46 113.85,233.83 114.18,232 114.5,231.15 114.82,231.42 115.15,232.97 115.47,235.63 115.79,239.11 116.12,243.04 116.44,247.07 116.76,250.87 117.09,254.24 117.41,257.04 117.73,259.25 118.06,260.9 118.38,262.08 118.7,262.87 119.03,263.38 119.35,263.7 119.67,263.88 120,263.99 120.32,264.04 120.65,264.07 120.97,264.09 121.29,264.09 121.62,264.1 121.94,264.1 122.26,264.1 122.59,264.1 122.91,264.1 123.23,264.1 123.56,264.1 123.88,264.1 124.2,264.1 124.53,264.1 124.85,264.1 125.17,264.1 125.5,264.1 125.82,264.1 126.14,264.1 126.47,264.1 126.79,264.1 127.11,264.1 127.44,264.1 127.76,264.1 128.09,264.1 128.41,264.1 128.73,264.1 129.06,264.1 129.38,264.1 129.7,264.1 130.03,264.1 130.35,264.1 130.67,264.1 131,264.1 131.32,264.1 131.64,264.1 131.97,264.1 132.29,264.1 132.61,264.1 132.94,264.1 133.26,264.1 133.58,264.1 133.91,264.1 134.23,264.1 134.55,264.1 134.88,264.1 135.2,264.1 135.53,264.1 135.85,264.1 136.17,264.1 136.5,264.1 136.82,264.1 137.14,264.1 137.47,264.1 137.79,264.1 138.11,264.1 138.44,264.1 138.76,264.1 139.08,264.1 139.41,264.1 139.73,264.1 140.05,264.1 140.38,264.1 140.7,264.1 141.02,264.1 141.35,264.1 141.67,264.1 141.99,264.1 142.32,264.1 142.64,264.1 142.97,264.1 143.29,264.1 143.61,264.1 143.94,264.1 144.26,264.1 144.58,264.1 144.91,264.1 145.23,264.1 145.55,264.1 145.88,264.1 146.2,264.1" fill="none" stroke="#cc1a2c" stroke-width="1.5" stroke-linejoin="round"/>
<polyline points="109,264.05 109.32,264.02 109.65,263.99 109.97,263.95 110.29,263.89 110.62,263.82 110.94,263.73 111.26,263.6 111.59,263.45 111.91,263.25 112.23,263 112.56,262.7 112.88,262.33 113.21,261.89 113.53,261.37 113.85,260.75 114.18,260.05 114.5,259.24 114.82,258.32 115.15,257.31 115.47,256.2 115.79,255 116.12,253.73 116.44,252.4 116.76,251.03 117.09,249.66 117.41,248.3 117.73,246.98 118.06,245.75 118.38,244.62 118.7,243.64 119.03,242.83 119.35,242.21 119.67,241.8 120,241.61 120.32,241.69 120.65,242.13 120.97,242.92 121.29,244.02 121.62,245.38 121.94,246.93 122.26,248.62 122.59,250.38 122.91,252.13 123.23,253.84 123.56,255.45 123.88,256.93 124.2,258.25 124.53,259.41 124.85,260.4 125.17,261.23 125.5,261.91 125.82,262.46 126.14,262.89 126.47,263.22 126.79,263.47 127.11,263.66 127.44,263.8 127.76,263.89 128.09,263.96 128.41,264.01 128.73,264.04 129.06,264.06 129.38,264.08 129.7,264.09 130.03,264.09 130.35,264.09 130.67,264.1 131,264.1 131.32,264.1 131.64,264.1 131.97,264.1 132.29,264.1 132.61,264.1 132.94,264.1 133.26,264.1 133.58,264.1 133.91,264.1 134.23,264.1 134.55,264.1 134.88,264.1 135.2,264.1 135.53,264.1 135.85,264.1 136.17,264.1 136.5,264.1 136.82,264.1 137.14,264.1 137.47,264.1 137.79,264.1 138.11,264.1 138.44,264.1 138.76,264.1 139.08,264.1 139.41,264.1 139.73,264.1 140.05,264.1 140.38,264.1 140.7,264.1 141.02,264.1 141.35,264.1 141.67,264.1 141.99,264.1 142.32,264.1 142.64,264.1 142.97,264.1 143.29,264.1 143.61,264.1 143.94,264.1 144.26,264.1 144.58,264.1 144.91,264.1 145.23,264.1 145.55,264.1 145.88,264.1 146.2,264.1" fill="none" stroke="#1f3cb0" stroke-width="1.5" stroke-linejoin="round"/>
<line x1="107.2" y1="264.9" x2="108.4" y2="264.9" stroke="#555" stroke-width="0.5"/>
<text x="106.8" y="265.8" font-size="2.6" text-anchor="end" fill="#777" stroke="#777" stroke-width="0.18">0</text>
<line x1="107.2" y1="253.47" x2="108.4" y2="253.47" stroke="#555" stroke-width="0.5"/>
<text x="106.8" y="254.37" font-size="2.6" text-anchor="end" fill="#777" stroke="#777" stroke-width="0.18">80</text>
<line x1="107.2" y1="242.03" x2="108.4" y2="242.03" stroke="#555" stroke-width="0.5"/>
<text x="106.8" y="242.93" font-size="2.6" text-anchor="end" fill="#777" stroke="#777" stroke-width="0.18">120</text>
<line x1="107.2" y1="230.6" x2="108.4" y2="230.6" stroke="#555" stroke-width="0.5"/>
<text x="106.8" y="231.5" font-size="2.6" text-anchor="end" fill="#777" stroke="#777" stroke-width="0.18">160</text>
<line x1="110.4" y1="264.9" x2="110.4" y2="266.2" stroke="#555" stroke-width="0.5"/>
<text x="110.4" y="270.7" font-size="3" fill="#666" text-anchor="middle">10<tspan font-size="2" dy="-1">0</tspan></text>
<line x1="119" y1="264.9" x2="119" y2="266.2" stroke="#555" stroke-width="0.5"/>
<text x="119" y="270.7" font-size="3" fill="#666" text-anchor="middle">10<tspan font-size="2" dy="-1">1</tspan></text>
<line x1="127.6" y1="264.9" x2="127.6" y2="266.2" stroke="#555" stroke-width="0.5"/>
<text x="127.6" y="270.7" font-size="3" fill="#666" text-anchor="middle">10<tspan font-size="2" dy="-1">2</tspan></text>
<line x1="136.2" y1="264.9" x2="136.2" y2="266.2" stroke="#555" stroke-width="0.5"/>
<text x="136.2" y="270.7" font-size="3" fill="#666" text-anchor="middle">10<tspan font-size="2" dy="-1">3</tspan></text>
<line x1="144.8" y1="264.9" x2="144.8" y2="266.2" stroke="#555" stroke-width="0.5"/>
<text x="144.8" y="270.7" font-size="3" fill="#666" text-anchor="middle">10<tspan font-size="2" dy="-1">4</tspan></text>
<text x="127.6" y="225.5" font-size="8.3" text-anchor="middle" fill="#111" stroke="#111" stroke-width="0.18">MM3</text>
<rect x="155.4" y="227.1" width="38" height="38.1" fill="#fff" stroke="#1a1a1a" stroke-width="1.15"/>
<polygon points="156,264.4 156.32,264.4 156.65,264.4 156.97,264.4 157.29,264.4 157.61,264.4 157.94,264.4 158.26,264.4 158.58,264.39 158.91,264.39 159.23,264.38 159.55,264.37 159.87,264.34 160.2,264.29 160.52,264.22 160.84,264.11 161.16,263.93 161.49,263.68 161.81,263.31 162.13,262.79 162.46,262.11 162.78,261.21 163.1,260.1 163.42,258.75 163.75,257.18 164.07,255.44 164.39,253.58 164.72,251.69 165.04,249.87 165.36,248.23 165.68,246.87 166.01,245.88 166.33,245.3 166.65,245.07 166.98,245.14 167.3,245.46 167.62,245.98 167.94,246.64 168.27,247.37 168.59,248.11 168.91,248.8 169.24,249.4 169.56,249.87 169.88,250.22 170.2,250.44 170.53,250.55 170.85,250.58 171.17,250.55 171.49,250.5 171.82,250.47 172.14,250.48 172.46,250.56 172.79,250.79 173.11,251.27 173.43,251.97 173.75,252.87 174.08,253.93 174.4,255.08 174.72,256.29 175.05,257.48 175.37,258.63 175.69,259.68 176.01,260.63 176.34,261.45 176.66,262.14 176.98,262.71 177.31,263.16 177.63,263.51 177.95,263.77 178.27,263.97 178.6,264.11 178.92,264.21 179.24,264.28 179.56,264.32 179.89,264.35 180.21,264.37 180.53,264.38 180.86,264.39 181.18,264.39 181.5,264.4 181.82,264.4 182.15,264.4 182.47,264.4 182.79,264.4 183.12,264.4 183.44,264.4 183.76,264.4 184.08,264.4 184.41,264.4 184.73,264.4 185.05,264.4 185.38,264.4 185.7,264.4 186.02,264.4 186.34,264.4 186.67,264.4 186.99,264.4 187.31,264.4 187.64,264.4 187.96,264.4 188.28,264.4 188.6,264.4 188.93,264.4 189.25,264.4 189.57,264.4 189.89,264.4 190.22,264.4 190.54,264.4 190.86,264.4 191.19,264.4 191.51,264.4 191.83,264.4 192.15,264.4 192.48,264.4 192.8,264.4 192.8,264.4 156,264.4" fill="#aadbe6"/>
<polyline points="156,263.91 156.32,263.63 156.65,263.21 156.97,262.61 157.29,261.76 157.61,260.61 157.94,259.09 158.26,257.17 158.58,254.83 158.91,252.07 159.23,248.97 159.55,245.61 159.87,242.17 160.2,238.84 160.52,235.83 160.84,233.36 161.16,231.62 161.49,230.75 161.81,230.94 162.13,232.55 162.46,235.4 162.78,239.11 163.1,243.25 163.42,247.39 163.75,251.18 164.07,254.41 164.39,256.97 164.72,258.87 165.04,260.18 165.36,261.03 165.68,261.52 166.01,261.78 166.33,261.88 166.65,261.89 166.98,261.85 167.3,261.78 167.62,261.71 167.94,261.64 168.27,261.57 168.59,261.52 168.91,261.47 169.24,261.43 169.56,261.41 169.88,261.4 170.2,261.4 170.53,261.43 170.85,261.47 171.17,261.53 171.49,261.6 171.82,261.69 172.14,261.8 172.46,261.92 172.79,262.05 173.11,262.18 173.43,262.32 173.75,262.47 174.08,262.62 174.4,262.76 174.72,262.91 175.05,263.05 175.37,263.18 175.69,263.31 176.01,263.43 176.34,263.54 176.66,263.65 176.98,263.75 177.31,263.83 177.63,263.91 177.95,263.98 178.27,264.05 178.6,264.1 178.92,264.15 179.24,264.19 179.56,264.23 179.89,264.26 180.21,264.28 180.53,264.31 180.86,264.32 181.18,264.34 181.5,264.35 181.82,264.36 182.15,264.37 182.47,264.38 182.79,264.38 183.12,264.39 183.44,264.39 183.76,264.39 184.08,264.39 184.41,264.4 184.73,264.4 185.05,264.4 185.38,264.4 185.7,264.4 186.02,264.4 186.34,264.4 186.67,264.4 186.99,264.4 187.31,264.4 187.64,264.4 187.96,264.4 188.28,264.4 188.6,264.4 188.93,264.4 189.25,264.4 189.57,264.4 189.89,264.4 190.22,264.4 190.54,264.4 190.86,264.4 191.19,264.4 191.51,264.4 191.83,264.4 192.15,264.4 192.48,264.4 192.8,264.4" fill="none" stroke="#cc1a2c" stroke-width="1.5" stroke-linejoin="round"/>
<polyline points="156,264.4 156.32,264.4 156.65,264.4 156.97,264.4 157.29,264.4 157.61,264.4 157.94,264.4 158.26,264.4 158.58,264.39 158.91,264.39 159.23,264.38 159.55,264.37 159.87,264.34 160.2,264.29 160.52,264.22 160.84,264.11 161.16,263.93 161.49,263.68 161.81,263.31 162.13,262.79 162.46,262.11 162.78,261.21 163.1,260.1 163.42,258.75 163.75,257.18 164.07,255.44 164.39,253.58 164.72,251.69 165.04,249.87 165.36,248.23 165.68,246.87 166.01,245.88 166.33,245.3 166.65,245.07 166.98,245.14 167.3,245.46 167.62,245.98 167.94,246.64 168.27,247.37 168.59,248.11 168.91,248.8 169.24,249.4 169.56,249.87 169.88,250.22 170.2,250.44 170.53,250.55 170.85,250.58 171.17,250.55 171.49,250.5 171.82,250.47 172.14,250.48 172.46,250.56 172.79,250.79 173.11,251.27 173.43,251.97 173.75,252.87 174.08,253.93 174.4,255.08 174.72,256.29 175.05,257.48 175.37,258.63 175.69,259.68 176.01,260.63 176.34,261.45 176.66,262.14 176.98,262.71 177.31,263.16 177.63,263.51 177.95,263.77 178.27,263.97 178.6,264.11 178.92,264.21 179.24,264.28 179.56,264.32 179.89,264.35 180.21,264.37 180.53,264.38 180.86,264.39 181.18,264.39 181.5,264.4 181.82,264.4 182.15,264.4 182.47,264.4 182.79,264.4 183.12,264.4 183.44,264.4 183.76,264.4 184.08,264.4 184.41,264.4 184.73,264.4 185.05,264.4 185.38,264.4 185.7,264.4 186.02,264.4 186.34,264.4 186.67,264.4 186.99,264.4 187.31,264.4 187.64,264.4 187.96,264.4 188.28,264.4 188.6,264.4 188.93,264.4 189.25,264.4 189.57,264.4 189.89,264.4 190.22,264.4 190.54,264.4 190.86,264.4 191.19,264.4 191.51,264.4 191.83,264.4 192.15,264.4 192.48,264.4 192.8,264.4" fill="none" stroke="#1f3cb0" stroke-width="1.5" stroke-linejoin="round"/>
<line x1="154.2" y1="265.2" x2="155.4" y2="265.2" stroke="#555" stroke-width="0.5"/>
<text x="153.8" y="266.1" font-size="2.6" text-anchor="end" fill="#777" stroke="#777" stroke-width="0.18">0</text>
<line x1="154.2" y1="253.83" x2="155.4" y2="253.83" stroke="#555" stroke-width="0.5"/>
<text x="153.8" y="254.73" font-size="2.6" text-anchor="end" fill="#777" stroke="#777" stroke-width="0.18">50</text>
<line x1="154.2" y1="242.47" x2="155.4" y2="242.47" stroke="#555" stroke-width="0.5"/>
<text x="153.8" y="243.37" font-size="2.6" text-anchor="end" fill="#777" stroke="#777" stroke-width="0.18">100</text>
<line x1="154.2" y1="231.1" x2="155.4" y2="231.1" stroke="#555" stroke-width="0.5"/>
<text x="153.8" y="232" font-size="2.6" text-anchor="end" fill="#777" stroke="#777" stroke-width="0.18">150</text>
<line x1="157.4" y1="265.2" x2="157.4" y2="266.5" stroke="#555" stroke-width="0.5"/>
<text x="157.4" y="271" font-size="3" fill="#666" text-anchor="middle">10<tspan font-size="2" dy="-1">0</tspan></text>
<line x1="165.9" y1="265.2" x2="165.9" y2="266.5" stroke="#555" stroke-width="0.5"/>
<text x="165.9" y="271" font-size="3" fill="#666" text-anchor="middle">10<tspan font-size="2" dy="-1">1</tspan></text>
<line x1="174.4" y1="265.2" x2="174.4" y2="266.5" stroke="#555" stroke-width="0.5"/>
<text x="174.4" y="271" font-size="3" fill="#666" text-anchor="middle">10<tspan font-size="2" dy="-1">2</tspan></text>
<line x1="182.9" y1="265.2" x2="182.9" y2="266.5" stroke="#555" stroke-width="0.5"/>
<text x="182.9" y="271" font-size="3" fill="#666" text-anchor="middle">10<tspan font-size="2" dy="-1">3</tspan></text>
<line x1="191.4" y1="265.2" x2="191.4" y2="266.5" stroke="#555" stroke-width="0.5"/>
<text x="191.4" y="271" font-size="3" fill="#666" text-anchor="middle">10<tspan font-size="2" dy="-1">4</tspan></text>
<text x="174.4" y="225.5" font-size="8.3" text-anchor="middle" fill="#111" stroke="#111" stroke-width="0.18">MM4</text>
<rect x="203.4" y="227.2" width="38.3" height="38" fill="#fff" stroke="#1a1a1a" stroke-width="1.15"/>
<polygon points="204,264.4 204.33,264.4 204.65,264.4 204.98,264.4 205.3,264.4 205.63,264.4 205.95,264.39 206.28,264.38 206.6,264.37 206.93,264.35 207.25,264.31 207.58,264.24 207.91,264.13 208.23,263.95 208.56,263.69 208.88,263.3 209.21,262.74 209.53,261.97 209.86,260.92 210.18,259.55 210.51,257.82 210.83,255.7 211.16,253.2 211.49,250.36 211.81,247.26 212.14,244.02 212.46,240.81 212.79,237.8 213.11,235.19 213.44,233.16 213.76,231.86 214.09,231.4 214.41,231.71 214.74,232.65 215.06,234.18 215.39,236.21 215.72,238.62 216.04,241.29 216.37,244.09 216.69,246.91 217.02,249.64 217.34,252.19 217.67,254.5 217.99,256.53 218.32,258.27 218.64,259.72 218.97,260.89 219.3,261.83 219.62,262.55 219.95,263.1 220.27,263.5 220.6,263.79 220.92,263.99 221.25,264.14 221.57,264.23 221.9,264.29 222.22,264.34 222.55,264.36 222.88,264.38 223.2,264.39 223.53,264.39 223.85,264.4 224.18,264.4 224.5,264.4 224.83,264.4 225.15,264.4 225.48,264.4 225.8,264.4 226.13,264.4 226.46,264.4 226.78,264.4 227.11,264.4 227.43,264.4 227.76,264.4 228.08,264.4 228.41,264.4 228.73,264.4 229.06,264.4 229.38,264.4 229.71,264.4 230.04,264.4 230.36,264.4 230.69,264.4 231.01,264.4 231.34,264.4 231.66,264.4 231.99,264.4 232.31,264.4 232.64,264.4 232.96,264.4 233.29,264.4 233.61,264.4 233.94,264.4 234.27,264.4 234.59,264.4 234.92,264.4 235.24,264.4 235.57,264.4 235.89,264.4 236.22,264.4 236.54,264.4 236.87,264.4 237.19,264.4 237.52,264.4 237.85,264.4 238.17,264.4 238.5,264.4 238.82,264.4 239.15,264.4 239.47,264.4 239.8,264.4 240.12,264.4 240.45,264.4 240.77,264.4 241.1,264.4 241.1,264.4 204,264.4" fill="#aadbe6"/>
<polyline points="204,263.5 204.33,263.12 204.65,262.61 204.98,261.95 205.3,261.1 205.63,260.04 205.95,258.74 206.28,257.19 206.6,255.39 206.93,253.33 207.25,251.06 207.58,248.61 207.91,246.05 208.23,243.46 208.56,240.95 208.88,238.61 209.21,236.56 209.53,234.89 209.86,233.69 210.18,233.03 210.51,232.94 210.83,233.46 211.16,234.57 211.49,236.22 211.81,238.3 212.14,240.71 212.46,243.32 212.79,246.02 213.11,248.68 213.44,251.23 213.76,253.59 214.09,255.69 214.41,257.53 214.74,259.09 215.06,260.37 215.39,261.41 215.72,262.22 216.04,262.84 216.37,263.31 216.69,263.65 217.02,263.9 217.34,264.07 217.67,264.19 217.99,264.26 218.32,264.32 218.64,264.35 218.97,264.37 219.3,264.38 219.62,264.39 219.95,264.39 220.27,264.4 220.6,264.4 220.92,264.4 221.25,264.4 221.57,264.4 221.9,264.4 222.22,264.4 222.55,264.4 222.88,264.4 223.2,264.4 223.53,264.4 223.85,264.4 224.18,264.4 224.5,264.4 224.83,264.4 225.15,264.4 225.48,264.4 225.8,264.4 226.13,264.4 226.46,264.4 226.78,264.4 227.11,264.4 227.43,264.4 227.76,264.4 228.08,264.4 228.41,264.4 228.73,264.4 229.06,264.4 229.38,264.4 229.71,264.4 230.04,264.4 230.36,264.4 230.69,264.4 231.01,264.4 231.34,264.4 231.66,264.4 231.99,264.4 232.31,264.4 232.64,264.4 232.96,264.4 233.29,264.4 233.61,264.4 233.94,264.4 234.27,264.4 234.59,264.4 234.92,264.4 235.24,264.4 235.57,264.4 235.89,264.4 236.22,264.4 236.54,264.4 236.87,264.4 237.19,264.4 237.52,264.4 237.85,264.4 238.17,264.4 238.5,264.4 238.82,264.4 239.15,264.4 239.47,264.4 239.8,264.4 240.12,264.4 240.45,264.4 240.77,264.4 241.1,264.4" fill="none" stroke="#cc1a2c" stroke-width="1.5" stroke-linejoin="round"/>
<polyline points="204,264.4 204.33,264.4 204.65,264.4 204.98,264.4 205.3,264.4 205.63,264.4 205.95,264.39 206.28,264.38 206.6,264.37 206.93,264.35 207.25,264.31 207.58,264.24 207.91,264.13 208.23,263.95 208.56,263.69 208.88,263.3 209.21,262.74 209.53,261.97 209.86,260.92 210.18,259.55 210.51,257.82 210.83,255.7 211.16,253.2 211.49,250.36 211.81,247.26 212.14,244.02 212.46,240.81 212.79,237.8 213.11,235.19 213.44,233.16 213.76,231.86 214.09,231.4 214.41,231.71 214.74,232.65 215.06,234.18 215.39,236.21 215.72,238.62 216.04,241.29 216.37,244.09 216.69,246.91 217.02,249.64 217.34,252.19 217.67,254.5 217.99,256.53 218.32,258.27 218.64,259.72 218.97,260.89 219.3,261.83 219.62,262.55 219.95,263.1 220.27,263.5 220.6,263.79 220.92,263.99 221.25,264.14 221.57,264.23 221.9,264.29 222.22,264.34 222.55,264.36 222.88,264.38 223.2,264.39 223.53,264.39 223.85,264.4 224.18,264.4 224.5,264.4 224.83,264.4 225.15,264.4 225.48,264.4 225.8,264.4 226.13,264.4 226.46,264.4 226.78,264.4 227.11,264.4 227.43,264.4 227.76,264.4 228.08,264.4 228.41,264.4 228.73,264.4 229.06,264.4 229.38,264.4 229.71,264.4 230.04,264.4 230.36,264.4 230.69,264.4 231.01,264.4 231.34,264.4 231.66,264.4 231.99,264.4 232.31,264.4 232.64,264.4 232.96,264.4 233.29,264.4 233.61,264.4 233.94,264.4 234.27,264.4 234.59,264.4 234.92,264.4 235.24,264.4 235.57,264.4 235.89,264.4 236.22,264.4 236.54,264.4 236.87,264.4 237.19,264.4 237.52,264.4 237.85,264.4 238.17,264.4 238.5,264.4 238.82,264.4 239.15,264.4 239.47,264.4 239.8,264.4 240.12,264.4 240.45,264.4 240.77,264.4 241.1,264.4" fill="none" stroke="#1f3cb0" stroke-width="1.5" stroke-linejoin="round"/>
<line x1="202.2" y1="265.2" x2="203.4" y2="265.2" stroke="#555" stroke-width="0.5"/>
<text x="201.8" y="266.1" font-size="2.6" text-anchor="end" fill="#777" stroke="#777" stroke-width="0.18">0</text>
<line x1="202.2" y1="253.87" x2="203.4" y2="253.87" stroke="#555" stroke-width="0.5"/>
<text x="201.8" y="254.77" font-size="2.6" text-anchor="end" fill="#777" stroke="#777" stroke-width="0.18">50</text>
<line x1="202.2" y1="242.53" x2="203.4" y2="242.53" stroke="#555" stroke-width="0.5"/>
<text x="201.8" y="243.43" font-size="2.6" text-anchor="end" fill="#777" stroke="#777" stroke-width="0.18">100</text>
<line x1="202.2" y1="231.2" x2="203.4" y2="231.2" stroke="#555" stroke-width="0.5"/>
<text x="201.8" y="232.1" font-size="2.6" text-anchor="end" fill="#777" stroke="#777" stroke-width="0.18">150</text>
<line x1="205.4" y1="265.2" x2="205.4" y2="266.5" stroke="#555" stroke-width="0.5"/>
<text x="205.4" y="271" font-size="3" fill="#666" text-anchor="middle">10<tspan font-size="2" dy="-1">0</tspan></text>
<line x1="213.97" y1="265.2" x2="213.97" y2="266.5" stroke="#555" stroke-width="0.5"/>
<text x="213.97" y="271" font-size="3" fill="#666" text-anchor="middle">10<tspan font-size="2" dy="-1">1</tspan></text>
<line x1="222.55" y1="265.2" x2="222.55" y2="266.5" stroke="#555" stroke-width="0.5"/>
<text x="222.55" y="271" font-size="3" fill="#666" text-anchor="middle">10<tspan font-size="2" dy="-1">2</tspan></text>
<line x1="231.12" y1="265.2" x2="231.12" y2="266.5" stroke="#555" stroke-width="0.5"/>
<text x="231.12" y="271" font-size="3" fill="#666" text-anchor="middle">10<tspan font-size="2" dy="-1">3</tspan></text>
<line x1="239.7" y1="265.2" x2="239.7" y2="266.5" stroke="#555" stroke-width="0.5"/>
<text x="239.7" y="271" font-size="3" fill="#666" text-anchor="middle">10<tspan font-size="2" dy="-1">4</tspan></text>
<text x="222.55" y="225.5" font-size="8.3" text-anchor="middle" fill="#111" stroke="#111" stroke-width="0.18">MM5</text>
<line x1="11.9" y1="277" x2="31" y2="277" stroke="#111" stroke-width="1.6"/>
<polygon points="35.8,277 29.4,274.7 29.4,279.3" fill="#111"/>
<text x="39" y="279.1" font-size="7.2" fill="#111" stroke="#111" stroke-width="0.18">ALCAM</text>
<text x="235.1" y="212.7" font-size="11" font-weight="bold" fill="#000" stroke="#000" stroke-width="0.35">G</text>
<text x="280.8" y="216.9" font-size="7" text-anchor="middle" fill="#111" stroke="#111" stroke-width="0.18">Healthy BM#1</text>
<text x="347.3" y="216.9" font-size="7" text-anchor="middle" fill="#111" stroke="#111" stroke-width="0.18">Healthy BM#2</text>
<text x="415" y="216.9" font-size="7.5" text-anchor="middle" fill="#111" stroke="#111" stroke-width="0.18">MM BM#1</text>
<text x="479.5" y="216.9" font-size="7.5" text-anchor="middle" fill="#111" stroke="#111" stroke-width="0.18">MM BM#2</text>
<clipPath id="c1"><rect x="247.8" y="219.6" width="65.9" height="50.2"/></clipPath>
<g clip-path="url(#c1)">
<rect x="247.8" y="219.6" width="65.9" height="50.2" fill="#c6d8e6" stroke="none" stroke-width="1"/>
<ellipse cx="260.3" cy="224.2" rx="5.6" ry="4.4" fill="#dde2e4"/>
<ellipse cx="255" cy="246.4" rx="7" ry="11.3" fill="#dde2e4"/>
<ellipse cx="280.9" cy="232" rx="5.8" ry="7.8" fill="#dde2e4"/>
<ellipse cx="293" cy="234.8" rx="5.8" ry="9.4" fill="#dde2e4"/>
<ellipse cx="305" cy="223.8" rx="7.2" ry="4.8" fill="#dde2e4"/>
<ellipse cx="268.6" cy="261.4" rx="4.6" ry="5.3" fill="#dde2e4"/>
<ellipse cx="268.6" cy="238" rx="3" ry="3" fill="#dde2e4"/>
<ellipse cx="292.7" cy="250.9" rx="4.5" ry="3.8" fill="#dde2e4"/>
<ellipse cx="268.6" cy="221.5" rx="4.5" ry="2.6" fill="#dde2e4"/>
<ellipse cx="252" cy="266.7" rx="4" ry="3" fill="#dde2e4"/>
<path transform="translate(247.8,219.6)" fill="#3474b8" d="M8.3 42h1.2v1.2h-1.2zM47.1 25.8h1.5v1.5h-1.5zM28.3 24.9h1.2v1.2h-1.2zM37.7 42.5h1.5v1.5h-1.5zM32.7 20.8h1.3v1.3h-1.3zM24.2 26.7h1.6v1.6h-1.6zM51.1 8.5h1.9v1.9h-1.9zM24.3 48h1.3v1.3h-1.3zM4.6 13.4h1.5v1.5h-1.5zM52 44.6h1.9v1.9h-1.9zM34.8 -0.1h1.4v1.4h-1.4zM38.5 6.3h1.3v1.3h-1.3zM28.6 45.7h1.4v1.4h-1.4zM28.5 42.3h1.9v1.9h-1.9zM35.3 24h1.2v1.2h-1.2zM61.1 38.7h1.2v1.2h-1.2zM16.6 34.7h1.6v1.6h-1.6zM42.3 35h1.5v1.5h-1.5zM42.8 42h1.6v1.6h-1.6zM10.4 11h1.3v1.3h-1.3zM48.4 33.8h1.3v1.3h-1.3zM2.7 3.8h1.5v1.5h-1.5zM8 39.3h1.2v1.2h-1.2zM44 4.1h1.3v1.3h-1.3zM51.7 10.3h1.2v1.2h-1.2zM57.8 29.1h1.8v1.8h-1.8zM23.6 5.7h1.3v1.3h-1.3zM51.2 30.6h1.5v1.5h-1.5zM28.4 37.6h1.2v1.2h-1.2zM15.3 8.2h1.2v1.2h-1.2zM61.7 16.8h1.7v1.7h-1.7zM49.4 26.7h1.9v1.9h-1.9zM59.2 32.1h1.5v1.5h-1.5zM24.1 14.1h1.4v1.4h-1.4zM63.1 32.1h1.6v1.6h-1.6zM37.1 45.9h1.2v1.2h-1.2zM24.2 24.5h1.3v1.3h-1.3zM9.7 48.2h1.2v1.2h-1.2zM16 22.5h1.6v1.6h-1.6zM45.6 0.2h1.7v1.7h-1.7zM38.3 30.2h1.5v1.5h-1.5zM40.1 1.9h1.4v1.4h-1.4zM32 33h1.2v1.2h-1.2zM25 35.7h1.8v1.8h-1.8zM58.9 22.2h1.6v1.6h-1.6zM37.6 2.4h1.8v1.8h-1.8zM25.4 49.1h1.5v1.5h-1.5zM55.3 13.2h1.6v1.6h-1.6zM31.2 31.1h1.5v1.5h-1.5zM38.1 19.5h1.5v1.5h-1.5zM53.5 49.3h1.3v1.3h-1.3zM23.5 34.9h1.6v1.6h-1.6zM38 32.6h1.5v1.5h-1.5zM37.4 30.4h1.4v1.4h-1.4zM45.4 39.5h1.8v1.8h-1.8zM38.7 36.2h1.7v1.7h-1.7zM33.9 27.6h1.4v1.4h-1.4zM0.2 37.3h1.5v1.5h-1.5zM64.4 6.5h1.4v1.4h-1.4zM4.6 5.2h1.6v1.6h-1.6zM63.5 40.1h1.2v1.2h-1.2zM47 35.7h1.3v1.3h-1.3zM22.1 21.9h1.8v1.8h-1.8zM63.3 16.1h1.4v1.4h-1.4zM60.7 17h1.7v1.7h-1.7zM17.2 30.2h1.3v1.3h-1.3zM35 21h1.5v1.5h-1.5zM56.4 9.2h1.2v1.2h-1.2zM24.6 35.5h1.7v1.7h-1.7zM24.8 45h1.7v1.7h-1.7zM54.9 13.2h1.1v1.1h-1.1zM65 18.7h1.2v1.2h-1.2zM18.7 21.1h1.4v1.4h-1.4zM47.6 48.9h1.4v1.4h-1.4zM23.9 15.5h1.6v1.6h-1.6zM51.1 20.2h1.3v1.3h-1.3zM3.3 5.2h1.3v1.3h-1.3zM59 42.7h1.9v1.9h-1.9zM3.3 6.5h1.8v1.8h-1.8zM53.8 12.3h1.3v1.3h-1.3zM65.2 49.6h1.1v1.1h-1.1zM52.5 8.5h1.6v1.6h-1.6zM60.6 48.5h1.4v1.4h-1.4zM25.5 6.1h1.5v1.5h-1.5zM19.5 11.8h1.2v1.2h-1.2zM34 25.3h1.4v1.4h-1.4zM38.5 41.2h1.2v1.2h-1.2zM53.1 27.6h1.6v1.6h-1.6zM25.9 18.6h1.6v1.6h-1.6zM23.6 31h1.9v1.9h-1.9zM62.8 16.4h1.8v1.8h-1.8zM63.4 21.4h1.1v1.1h-1.1zM24.8 12.4h1.7v1.7h-1.7zM35.6 32.3h1.1v1.1h-1.1zM59.5 35.1h1.3v1.3h-1.3zM39.5 38.2h1.5v1.5h-1.5zM28.2 28.6h1.5v1.5h-1.5zM61.7 22.7h1.3v1.3h-1.3zM54.7 44.9h1.6v1.6h-1.6zM36.9 43h1.9v1.9h-1.9zM22.5 29.6h1.5v1.5h-1.5zM48.7 47.2h1.6v1.6h-1.6zM13.8 45.6h1.6v1.6h-1.6zM0.2 -0h1.7v1.7h-1.7zM25.8 30.2h1.4v1.4h-1.4zM4.2 39.7h1.4v1.4h-1.4zM39.7 43.6h1.3v1.3h-1.3zM62 7.9h1.3v1.3h-1.3zM42.1 0.4h1.8v1.8h-1.8zM17.9 33h1.3v1.3h-1.3zM49.5 39.2h1.8v1.8h-1.8zM13.5 19h1.5v1.5h-1.5zM59.7 48.9h1.6v1.6h-1.6zM18.8 23.1h1.7v1.7h-1.7zM59 13.4h1.6v1.6h-1.6zM29.8 39.6h1.4v1.4h-1.4zM51.5 26.1h1.7v1.7h-1.7zM31.4 29h1.4v1.4h-1.4zM26.4 20.2h1.3v1.3h-1.3zM62.7 32.1h1.5v1.5h-1.5zM30.6 44.2h1.4v1.4h-1.4zM27.1 46.6h1.2v1.2h-1.2zM46 42h1.9v1.9h-1.9zM40.1 44.7h1.2v1.2h-1.2zM15.9 9.7h1.4v1.4h-1.4zM16.1 32.1h1.6v1.6h-1.6zM30.5 42.8h1.8v1.8h-1.8zM31.8 1.8h1.2v1.2h-1.2zM64.1 14.8h1.4v1.4h-1.4zM24.8 23.8h1.8v1.8h-1.8zM55.3 22h1.8v1.8h-1.8zM17.3 32.8h1.5v1.5h-1.5zM17.4 23.8h1.7v1.7h-1.7zM38 17.6h1.4v1.4h-1.4zM40.5 39.2h1.8v1.8h-1.8zM47 4.6h1.7v1.7h-1.7zM-0.3 44h1.5v1.5h-1.5zM9 11.3h1.3v1.3h-1.3zM31.6 48h1.4v1.4h-1.4zM61.4 37.9h1.4v1.4h-1.4zM52.3 42.2h1.7v1.7h-1.7zM32.4 26.4h1.1v1.1h-1.1zM61.4 18.8h1.8v1.8h-1.8zM29 30.3h1.2v1.2h-1.2zM23.6 5.3h1.6v1.6h-1.6zM60 27h1.8v1.8h-1.8zM61.7 38.3h1.2v1.2h-1.2zM49.1 39.6h1.3v1.3h-1.3zM26.9 5.9h1.5v1.5h-1.5z"/>
<path transform="translate(247.8,219.6)" fill="#9cc0e0" d="M58 18.7h1.7v1.7h-1.7zM60.1 20h1.8v1.8h-1.8zM51.3 16.1h1.1v1.1h-1.1zM63.6 39.3h1.5v1.5h-1.5zM55.6 39.9h1.7v1.7h-1.7zM13.3 37.4h1.5v1.5h-1.5zM50.8 38.2h1.8v1.8h-1.8zM11.4 38.9h1.8v1.8h-1.8zM35.3 28.5h1.2v1.2h-1.2zM52.5 26.8h1.5v1.5h-1.5zM55.7 44.2h1.6v1.6h-1.6zM37.5 0.9h1.3v1.3h-1.3zM63.5 6.2h1.4v1.4h-1.4zM19.3 7.7h1.6v1.6h-1.6zM63.2 16.1h1.6v1.6h-1.6zM30.2 1.7h1.2v1.2h-1.2zM17.5 14.6h1.3v1.3h-1.3zM47.5 43h1.5v1.5h-1.5zM59.2 35.6h1.9v1.9h-1.9zM45.7 40.2h1.5v1.5h-1.5zM57 26.5h1.4v1.4h-1.4zM38.1 16.7h1.7v1.7h-1.7zM34.7 35h1.4v1.4h-1.4zM52.8 25.5h1.7v1.7h-1.7zM54.5 34.6h1.1v1.1h-1.1zM47.3 38.8h1.2v1.2h-1.2zM48.3 37.8h1.8v1.8h-1.8zM34.7 40.4h1.8v1.8h-1.8zM48.4 47.9h1.6v1.6h-1.6zM65.1 12.3h1.3v1.3h-1.3zM26.8 43.9h1.3v1.3h-1.3zM31.5 44h1.8v1.8h-1.8zM62.5 26h1.5v1.5h-1.5zM57.4 34.2h1.2v1.2h-1.2zM34.9 34.7h1.2v1.2h-1.2zM64.1 16.3h1.7v1.7h-1.7zM40.2 25.8h1.4v1.4h-1.4zM35.6 2.1h1.2v1.2h-1.2zM15.8 12.9h1.3v1.3h-1.3zM48.4 2.8h1.4v1.4h-1.4zM35.8 39.6h1.6v1.6h-1.6zM45.3 45.9h1.3v1.3h-1.3zM58.5 45.2h1.4v1.4h-1.4zM51.8 11.2h1.5v1.5h-1.5zM47.7 45h1.7v1.7h-1.7zM49.9 31.1h1.7v1.7h-1.7zM37.5 30.3h1.4v1.4h-1.4zM56.7 28.3h1.5v1.5h-1.5zM37.9 36.6h1.5v1.5h-1.5zM33.4 40.2h1.3v1.3h-1.3zM36.3 32.5h1.6v1.6h-1.6zM12 17.1h1.9v1.9h-1.9zM23 22.1h1.7v1.7h-1.7zM14.3 43.7h1.8v1.8h-1.8zM62.2 28.4h1.5v1.5h-1.5zM36.3 26.7h1.8v1.8h-1.8zM12.5 46.5h1.1v1.1h-1.1zM52.2 24h1.2v1.2h-1.2zM6.7 10.2h1.7v1.7h-1.7zM16.9 28.6h1.3v1.3h-1.3zM51.9 43.8h1.3v1.3h-1.3zM63.4 10.3h1.8v1.8h-1.8zM32.6 43.7h1.8v1.8h-1.8zM36.7 49.4h1.4v1.4h-1.4zM36.8 23.4h1.3v1.3h-1.3zM11.1 45h1.5v1.5h-1.5zM39.7 47.1h1.8v1.8h-1.8zM57.8 21.8h1.5v1.5h-1.5zM25.3 23h1.8v1.8h-1.8zM1.7 9h1.5v1.5h-1.5zM34.8 20.6h1.7v1.7h-1.7zM9 48.1h1.3v1.3h-1.3zM29.6 26.3h1.4v1.4h-1.4zM15 9.1h1.8v1.8h-1.8zM2.5 15.3h1.7v1.7h-1.7zM26.2 17.6h1.8v1.8h-1.8zM29.3 33.9h1.4v1.4h-1.4zM31.1 36.9h1.4v1.4h-1.4zM35.2 19.9h1.4v1.4h-1.4zM14.9 14.9h1.1v1.1h-1.1zM7.6 48.4h1.3v1.3h-1.3zM62.7 34h1.4v1.4h-1.4zM39.9 34h1.8v1.8h-1.8zM28.8 30h1.4v1.4h-1.4zM58 20.8h1.9v1.9h-1.9zM63.1 0.6h1.7v1.7h-1.7zM57.9 17.2h1.3v1.3h-1.3zM59.7 42.3h1.2v1.2h-1.2zM62.2 22.4h1.2v1.2h-1.2zM0.2 14.7h1.6v1.6h-1.6zM0.5 6.3h1.2v1.2h-1.2zM24.6 19.5h1.5v1.5h-1.5zM54.6 25.4h1.8v1.8h-1.8zM48.8 0.7h1.3v1.3h-1.3zM54.3 27.7h1.2v1.2h-1.2zM19.7 26.2h1.7v1.7h-1.7zM50.6 36h1.2v1.2h-1.2zM14.4 35.7h1.4v1.4h-1.4zM29.7 35.2h1.3v1.3h-1.3zM52.5 25.2h1.4v1.4h-1.4zM29 28.1h1.8v1.8h-1.8zM60.6 35.7h1.6v1.6h-1.6zM17.6 14.4h1.9v1.9h-1.9zM21 30.5h1.3v1.3h-1.3zM13.3 14.6h1.7v1.7h-1.7zM63.2 15.1h1.7v1.7h-1.7zM1.8 39.1h1.6v1.6h-1.6zM22 30.6h1.4v1.4h-1.4zM31.9 42.9h1.6v1.6h-1.6zM26.1 42.4h1.3v1.3h-1.3zM45.8 45.2h1.4v1.4h-1.4zM27.7 27.1h1.7v1.7h-1.7zM23.3 21.3h1.9v1.9h-1.9zM29.5 26.8h1.3v1.3h-1.3zM24.9 49.1h1.9v1.9h-1.9zM14 42.1h1.3v1.3h-1.3zM8.4 13.2h1.6v1.6h-1.6zM22.1 11.2h1.5v1.5h-1.5zM30.9 32.8h1.9v1.9h-1.9zM27.9 32.9h1.4v1.4h-1.4zM53.2 41.2h1.8v1.8h-1.8zM51.8 10.3h1.4v1.4h-1.4zM37.7 2.6h1.5v1.5h-1.5zM10 48.7h1.1v1.1h-1.1zM53.1 43.3h1.7v1.7h-1.7zM58 48h1.4v1.4h-1.4zM14.9 47.4h1.8v1.8h-1.8zM33.9 45.1h1.2v1.2h-1.2zM57.4 48.4h1.6v1.6h-1.6zM58.5 12h1.5v1.5h-1.5zM2.4 12.1h1.2v1.2h-1.2zM45.2 43.6h1.9v1.9h-1.9zM30 3.4h1.3v1.3h-1.3zM21 33.2h1.6v1.6h-1.6zM28 21.4h1.5v1.5h-1.5zM36.9 42.3h1.2v1.2h-1.2zM30.1 42.8h1.4v1.4h-1.4zM52.9 38.9h1.4v1.4h-1.4zM-0.8 40.9h1.9v1.9h-1.9zM32.5 34.9h1.2v1.2h-1.2zM35.1 43.3h1.5v1.5h-1.5zM18.3 35.2h1.8v1.8h-1.8zM62.2 9.3h1.1v1.1h-1.1zM35.9 42.9h1.7v1.7h-1.7z"/>
<path transform="translate(247.8,219.6)" fill="#b8d0e6" d="M-0.7 21.5h1.7v1.7h-1.7zM48.2 44.2h1.5v1.5h-1.5zM63.1 24.9h1.3v1.3h-1.3zM57.5 38.2h1.4v1.4h-1.4zM54.8 18h1.1v1.1h-1.1zM55.7 47.2h1.5v1.5h-1.5zM33.7 0.8h1.6v1.6h-1.6zM56.4 48.1h1.6v1.6h-1.6zM21.8 10.1h1.2v1.2h-1.2zM56.3 29.4h1.8v1.8h-1.8zM51.1 45.7h1.6v1.6h-1.6zM56.3 14.6h1.5v1.5h-1.5zM10.8 15h1.8v1.8h-1.8zM21.3 29.8h1.8v1.8h-1.8zM39.8 47.7h1.7v1.7h-1.7zM0 14h1.7v1.7h-1.7zM52.4 21.3h1.4v1.4h-1.4zM17.4 29.1h1.8v1.8h-1.8zM33.1 46.1h1.9v1.9h-1.9zM47.8 44.5h1.2v1.2h-1.2zM64.4 11.8h1.3v1.3h-1.3zM17 12.4h1.3v1.3h-1.3zM42.9 35h1.6v1.6h-1.6zM64 49.1h1.2v1.2h-1.2zM61.7 39.5h1.2v1.2h-1.2zM61.2 44.4h1.1v1.1h-1.1zM44.2 41.3h1.2v1.2h-1.2zM-0.1 49h1.4v1.4h-1.4zM16.1 19.7h1.6v1.6h-1.6zM23.9 35.5h1.3v1.3h-1.3zM1.4 14.9h1.2v1.2h-1.2zM50.8 31.9h1.1v1.1h-1.1zM9.8 38.3h1.4v1.4h-1.4zM57.2 16.6h1.6v1.6h-1.6zM47 34.4h1.6v1.6h-1.6zM24.6 27.2h1.8v1.8h-1.8zM55.9 22.7h1.4v1.4h-1.4zM38.3 48.6h1.8v1.8h-1.8zM35.8 34.4h1.4v1.4h-1.4zM54.7 10.7h1.2v1.2h-1.2zM52.6 47.1h1.8v1.8h-1.8zM16.8 31.2h1.6v1.6h-1.6zM49 37.2h1.6v1.6h-1.6zM15.2 10.6h1.4v1.4h-1.4zM41.9 40h1.3v1.3h-1.3zM5.8 39.3h1.2v1.2h-1.2zM7 9.3h1.7v1.7h-1.7zM5.1 38.8h1.3v1.3h-1.3zM56.4 18.5h1.4v1.4h-1.4zM31.3 24.8h1.7v1.7h-1.7zM16.4 48.9h1.8v1.8h-1.8zM37.3 29.9h1.2v1.2h-1.2zM53.3 21.2h1.6v1.6h-1.6zM13.1 33.3h1.1v1.1h-1.1zM64.8 24h1.5v1.5h-1.5zM52 15.5h1.4v1.4h-1.4zM65 9.9h1.2v1.2h-1.2zM12.1 11.2h1.8v1.8h-1.8zM25.5 4.3h1.8v1.8h-1.8zM26.8 16.6h1.1v1.1h-1.1zM42.6 37.3h1.7v1.7h-1.7zM51.1 13.6h1.3v1.3h-1.3zM9.5 44h1.5v1.5h-1.5zM18.7 30.3h1.2v1.2h-1.2zM46.2 38.4h1.8v1.8h-1.8zM38.9 48.8h1.7v1.7h-1.7zM13.3 38.8h1.8v1.8h-1.8zM33.2 44h1.1v1.1h-1.1zM44.7 35.3h1.3v1.3h-1.3zM56.2 33.2h1.6v1.6h-1.6zM35.1 43.7h1.5v1.5h-1.5zM17.1 25.8h1.6v1.6h-1.6zM27.3 34.8h1.7v1.7h-1.7zM10.6 36.9h1.4v1.4h-1.4zM44.5 0.6h1.4v1.4h-1.4zM52.8 21.6h1.7v1.7h-1.7zM43.1 24.7h1.2v1.2h-1.2zM47.4 39.7h1.3v1.3h-1.3zM22 28.9h1.3v1.3h-1.3zM12.8 44.9h1.8v1.8h-1.8zM50.8 45.4h1.6v1.6h-1.6zM40.1 37.2h1.4v1.4h-1.4zM40.2 44.2h1.2v1.2h-1.2zM6.3 13.2h1.4v1.4h-1.4zM54.8 40.9h1.6v1.6h-1.6zM22.6 13.2h1.6v1.6h-1.6zM41.2 2h1.3v1.3h-1.3zM59 15.1h1.8v1.8h-1.8zM10.8 36.3h1.3v1.3h-1.3zM9.1 38.4h1.7v1.7h-1.7zM29.4 35.3h1.4v1.4h-1.4zM13.9 14.3h1.9v1.9h-1.9zM55.5 22.2h1.6v1.6h-1.6zM18.1 22.6h1.5v1.5h-1.5zM64.8 31.5h1.4v1.4h-1.4zM58 40.2h1.6v1.6h-1.6zM17.8 32.9h1.4v1.4h-1.4zM1.4 13.6h1.3v1.3h-1.3zM62.3 24.6h1.4v1.4h-1.4zM17.8 5.7h1.3v1.3h-1.3zM25.1 30.9h1.1v1.1h-1.1zM60.2 49.6h1.1v1.1h-1.1zM26.2 44.9h1.3v1.3h-1.3zM53 23.4h1.1v1.1h-1.1zM33.6 38.8h1.3v1.3h-1.3zM58.9 48.8h1.8v1.8h-1.8zM22.4 34.4h1.7v1.7h-1.7zM9.2 42.4h1.2v1.2h-1.2zM39 39h1.6v1.6h-1.6zM35.2 31.6h1.6v1.6h-1.6zM58.2 43.1h1.9v1.9h-1.9zM60.7 46h1.4v1.4h-1.4zM28.4 20.4h1.5v1.5h-1.5zM17.4 22.8h1.9v1.9h-1.9zM37.8 40.3h1.7v1.7h-1.7zM29.4 46.3h1.2v1.2h-1.2zM40.7 -0.2h1.1v1.1h-1.1zM14.7 11.2h1.3v1.3h-1.3zM16.1 24.9h1.6v1.6h-1.6zM38 48.4h1.3v1.3h-1.3zM54.7 36.4h1.3v1.3h-1.3zM26.1 36.9h1.8v1.8h-1.8z"/>
<path transform="translate(247.8,219.6)" fill="#5c96cc" d="M38.4 4.6h1.1v1.1h-1.1zM32.5 23.6h1.4v1.4h-1.4zM51.6 12.1h1.8v1.8h-1.8zM55.7 14.7h1.7v1.7h-1.7zM35.6 27.7h1.4v1.4h-1.4zM61.4 19h1.1v1.1h-1.1zM-0.1 36.9h1.5v1.5h-1.5zM64.3 9.6h1.4v1.4h-1.4zM36.8 2.3h1.6v1.6h-1.6zM49.7 31.8h1.2v1.2h-1.2zM49.8 43.7h1.3v1.3h-1.3zM26.2 5.3h1.3v1.3h-1.3zM17.1 28.5h1.8v1.8h-1.8zM22.2 26.2h1.7v1.7h-1.7zM19.3 22.5h1.5v1.5h-1.5zM46.7 35.5h1.2v1.2h-1.2zM41.3 47.9h1.5v1.5h-1.5zM17.2 12h1.2v1.2h-1.2zM34.5 20.3h1.4v1.4h-1.4zM63.6 23.2h1.8v1.8h-1.8zM33.6 28h1.7v1.7h-1.7zM45.4 36.5h1.9v1.9h-1.9zM51.8 17.8h1.5v1.5h-1.5zM14.7 21.9h1.5v1.5h-1.5zM29.8 39.2h1.6v1.6h-1.6zM16.8 10h1.6v1.6h-1.6zM52.7 44h1.6v1.6h-1.6zM32.4 32.4h1.4v1.4h-1.4zM-0.6 0.1h1.8v1.8h-1.8zM13.7 36.5h1.6v1.6h-1.6zM24.4 5.5h1.2v1.2h-1.2zM15.1 44.3h1.5v1.5h-1.5zM55.3 16.2h1.2v1.2h-1.2zM63.5 6.5h1.6v1.6h-1.6zM27.5 33.2h1.8v1.8h-1.8zM41.5 23.6h1.7v1.7h-1.7zM59 32.4h1.6v1.6h-1.6zM12.3 40.1h1.8v1.8h-1.8zM40.1 35.8h1.8v1.8h-1.8zM58 42.1h1.5v1.5h-1.5zM48.7 0.9h1.6v1.6h-1.6zM35.2 45.6h1.4v1.4h-1.4zM16.5 9.7h1.7v1.7h-1.7zM39 7.5h1.6v1.6h-1.6zM48.8 36.5h1.4v1.4h-1.4zM64.7 36.8h1.1v1.1h-1.1zM48.7 49h1.4v1.4h-1.4zM35.9 22h1.4v1.4h-1.4zM11.3 10.4h1.8v1.8h-1.8zM2.3 13.8h1.1v1.1h-1.1zM10 40.2h1.3v1.3h-1.3zM8.5 10.7h1.6v1.6h-1.6zM0.6 8.4h1.3v1.3h-1.3zM27.7 30.1h1.4v1.4h-1.4zM30.2 23.4h1.8v1.8h-1.8zM27.2 22h1.5v1.5h-1.5zM28.5 36.4h1.6v1.6h-1.6zM41.1 35.6h1.5v1.5h-1.5zM24.8 44.5h1.6v1.6h-1.6zM38.4 42.9h1.2v1.2h-1.2zM30.7 26.1h1.5v1.5h-1.5zM18.7 28.9h1.5v1.5h-1.5zM30.2 27.8h1.5v1.5h-1.5zM55.2 17.1h1.5v1.5h-1.5zM2.4 14.8h1.2v1.2h-1.2zM13.5 47.1h1.8v1.8h-1.8zM50.1 35.5h1.5v1.5h-1.5zM59.2 12.6h1.3v1.3h-1.3zM-0.4 13.1h1.9v1.9h-1.9zM26.3 18.8h1.6v1.6h-1.6zM30.6 25h1.4v1.4h-1.4zM56.6 31h1.2v1.2h-1.2zM43.6 2.4h1.1v1.1h-1.1zM21.6 22.2h1.3v1.3h-1.3zM54.4 10.3h1.6v1.6h-1.6zM64.4 36.6h1.9v1.9h-1.9zM22.5 21.1h1.8v1.8h-1.8zM55.5 15.6h1.9v1.9h-1.9zM30.7 34.6h1.6v1.6h-1.6zM21.7 23.6h1.2v1.2h-1.2zM-0.1 0.6h1.3v1.3h-1.3zM63.4 45.4h1.5v1.5h-1.5zM37.6 48.2h1.7v1.7h-1.7zM38.1 30.2h1.4v1.4h-1.4zM51.8 32.8h1.5v1.5h-1.5zM34.1 35.4h1.3v1.3h-1.3zM5.4 39.5h1.2v1.2h-1.2zM57.4 21.3h1.4v1.4h-1.4zM20.4 13.2h1.5v1.5h-1.5zM56.1 14.1h1.3v1.3h-1.3zM35.7 27.9h1.1v1.1h-1.1zM39.4 26.2h1.8v1.8h-1.8zM59.5 39.4h1.5v1.5h-1.5zM48 42.4h1.8v1.8h-1.8zM54 10h1.6v1.6h-1.6zM48.6 27.9h1.9v1.9h-1.9zM12.2 48.2h1.6v1.6h-1.6zM0.1 1.3h1.2v1.2h-1.2zM-0.1 9.9h1.4v1.4h-1.4zM38.2 44.4h1.9v1.9h-1.9zM64.2 19.9h1.7v1.7h-1.7zM61.3 49.6h1.2v1.2h-1.2zM1.5 13.3h1.4v1.4h-1.4zM49.1 38.7h1.3v1.3h-1.3zM57.8 45.5h1.2v1.2h-1.2zM52.2 17.2h1.7v1.7h-1.7zM64.2 6h1.8v1.8h-1.8zM62.1 42.5h1.7v1.7h-1.7zM28.7 33.5h1.5v1.5h-1.5zM20.3 7h1.7v1.7h-1.7zM19.4 48.6h1.7v1.7h-1.7zM62.3 12.8h1.9v1.9h-1.9zM63.1 18.4h1.8v1.8h-1.8zM27 44.8h1.7v1.7h-1.7zM36.9 38.4h1.2v1.2h-1.2zM63.1 20h1.2v1.2h-1.2zM45.3 49.2h1.6v1.6h-1.6zM49.8 0.7h1.1v1.1h-1.1zM60.9 9h1.6v1.6h-1.6zM18.7 22.9h1.2v1.2h-1.2zM57.6 41.5h1.2v1.2h-1.2zM45.3 43.4h1.7v1.7h-1.7zM26 15.7h1.5v1.5h-1.5zM19.9 11.9h1.4v1.4h-1.4zM7.4 38.8h1.2v1.2h-1.2zM13.4 46.9h1.4v1.4h-1.4zM43.8 1.1h1.3v1.3h-1.3zM29.8 26.8h1.2v1.2h-1.2zM55 31.6h1.7v1.7h-1.7zM24.7 4.5h1.6v1.6h-1.6zM46 40.8h1.6v1.6h-1.6zM19.9 4.7h1.8v1.8h-1.8zM46.7 3.9h1.2v1.2h-1.2zM63.5 10.6h1.3v1.3h-1.3zM43.9 40.7h1.8v1.8h-1.8zM46.3 37.2h1.3v1.3h-1.3z"/>
<path transform="translate(247.8,219.6)" fill="#4080c0" d="M61 18.2h1.9v1.9h-1.9zM34.8 42.5h1.4v1.4h-1.4zM7.8 38.3h1.4v1.4h-1.4zM11.6 14h1.2v1.2h-1.2zM25.5 1h1.5v1.5h-1.5zM31.4 48.9h1.2v1.2h-1.2zM1.7 5.8h1.8v1.8h-1.8zM64.6 6.7h1.4v1.4h-1.4zM26.9 5h1.6v1.6h-1.6zM11.4 9.8h1.3v1.3h-1.3zM60 14.1h1.2v1.2h-1.2zM60.6 31.4h1.3v1.3h-1.3zM31.8 23.2h1.7v1.7h-1.7zM18.9 26.9h1.7v1.7h-1.7zM10.7 11.7h1.9v1.9h-1.9zM59.2 47.2h1.9v1.9h-1.9zM52 20.8h1.8v1.8h-1.8zM24.2 27.3h1.5v1.5h-1.5zM16.4 7.9h1.5v1.5h-1.5zM13.1 43.5h1.3v1.3h-1.3zM0.6 35.4h1.6v1.6h-1.6zM56.5 15.9h1.3v1.3h-1.3zM49.6 38.8h1.2v1.2h-1.2zM24.5 28.4h1.4v1.4h-1.4zM57.1 37.2h1.7v1.7h-1.7zM32.3 25.7h1.4v1.4h-1.4zM64 26.2h1.1v1.1h-1.1zM15.6 10.2h1.8v1.8h-1.8zM44.2 35.2h1.3v1.3h-1.3zM55.2 22.1h1.9v1.9h-1.9zM37.5 22h1.5v1.5h-1.5zM38 27h1.3v1.3h-1.3zM26.5 0h1.8v1.8h-1.8zM5.4 5.9h1.3v1.3h-1.3zM45.6 1.6h1.6v1.6h-1.6zM39.7 34.5h1.5v1.5h-1.5zM32.4 25.7h1.6v1.6h-1.6zM57.9 34.5h1.2v1.2h-1.2zM65.2 14.4h1.3v1.3h-1.3zM2.4 0.6h1.8v1.8h-1.8zM60.7 14.3h1.6v1.6h-1.6zM-0.1 40.2h1.4v1.4h-1.4zM2 4.8h1.5v1.5h-1.5zM51.9 32h1.5v1.5h-1.5zM64.4 26.4h1.9v1.9h-1.9zM16.2 13.2h1.7v1.7h-1.7zM8 12.1h1.2v1.2h-1.2zM-0.7 5.1h1.9v1.9h-1.9zM51 39.8h1.8v1.8h-1.8zM60.4 42.6h1.1v1.1h-1.1zM11.6 44.7h1.2v1.2h-1.2zM7.2 12.5h1.7v1.7h-1.7zM62.7 29.9h1.1v1.1h-1.1zM38.7 25.2h1.2v1.2h-1.2zM0.5 -0.3h1.5v1.5h-1.5zM5.1 9.2h1.6v1.6h-1.6zM53.9 43.3h1.6v1.6h-1.6zM44.4 2.7h1.5v1.5h-1.5zM1.5 1.5h1.6v1.6h-1.6zM12.7 37.4h1.7v1.7h-1.7zM15.4 36.1h1.2v1.2h-1.2zM7.4 12.5h1.4v1.4h-1.4zM18.4 4.3h1.5v1.5h-1.5zM58.8 49.2h1.4v1.4h-1.4zM50.8 41.5h1.3v1.3h-1.3zM53.4 15.2h1.7v1.7h-1.7zM45.6 48.2h1.3v1.3h-1.3zM64.3 43.5h1.2v1.2h-1.2zM34.3 37.2h1.2v1.2h-1.2zM56.5 15.5h1.3v1.3h-1.3zM18.3 48.2h1.7v1.7h-1.7zM56.6 38.5h1.9v1.9h-1.9zM24.9 34.8h1.1v1.1h-1.1zM34.5 45.4h1.2v1.2h-1.2zM33.7 26.1h1.3v1.3h-1.3zM42 46.9h1.5v1.5h-1.5zM53.9 36.7h1.8v1.8h-1.8zM63.5 28.3h1.2v1.2h-1.2zM0.7 11.6h1.8v1.8h-1.8zM34.8 29.1h1.4v1.4h-1.4zM54.6 17.3h1.4v1.4h-1.4zM13 41.3h1.4v1.4h-1.4zM33.5 47.1h1.2v1.2h-1.2zM40.1 2.6h1.7v1.7h-1.7zM56.1 14.1h1.3v1.3h-1.3zM51.6 14h1.1v1.1h-1.1zM28.1 45h1.4v1.4h-1.4zM38 23.7h1.6v1.6h-1.6zM40.9 42.6h1.7v1.7h-1.7zM24.4 4.1h1.6v1.6h-1.6zM25.4 20.2h1.3v1.3h-1.3zM38.4 40.4h1.6v1.6h-1.6zM46.9 24.3h1.7v1.7h-1.7zM24.2 21.2h1.2v1.2h-1.2zM28.3 37.9h1.4v1.4h-1.4zM61.6 27.7h1.1v1.1h-1.1zM12.5 12h1.2v1.2h-1.2zM58.6 45.5h1.6v1.6h-1.6zM39.1 39.7h1.3v1.3h-1.3zM21.3 27.9h1.1v1.1h-1.1zM32.4 36.2h1.8v1.8h-1.8zM2 41.5h1.6v1.6h-1.6zM20.1 48.3h1.5v1.5h-1.5zM26.4 47.7h1.2v1.2h-1.2zM39.5 39.7h1.7v1.7h-1.7zM34.8 19.7h1.8v1.8h-1.8zM22.7 48.2h1.8v1.8h-1.8zM38.6 45.8h1.5v1.5h-1.5zM45.2 47.6h1.2v1.2h-1.2zM-0.4 38.9h1.2v1.2h-1.2zM60.8 44.3h1.3v1.3h-1.3zM16.7 28.8h1.7v1.7h-1.7zM35.9 27.7h1.8v1.8h-1.8zM58.7 27.6h1.6v1.6h-1.6zM33.7 2.5h1.3v1.3h-1.3zM61.4 47.7h1.8v1.8h-1.8zM55 35.9h1.3v1.3h-1.3zM9 44.2h1.5v1.5h-1.5zM30.2 26.3h1.9v1.9h-1.9zM61.2 29.3h1.8v1.8h-1.8zM54.6 46.3h1.1v1.1h-1.1zM19.7 32.1h1.3v1.3h-1.3zM39.6 6.4h1.2v1.2h-1.2zM32.2 45.6h1.3v1.3h-1.3zM1.1 41.5h1.7v1.7h-1.7zM35.2 45.6h1.3v1.3h-1.3zM27.7 44.2h1.7v1.7h-1.7zM23.2 34.2h1.4v1.4h-1.4zM-0.3 36.4h1.3v1.3h-1.3zM15.6 13.1h1.7v1.7h-1.7zM36.3 25h1.5v1.5h-1.5zM25.6 8.8h1.7v1.7h-1.7zM36.7 29.9h1.2v1.2h-1.2zM29.2 20.7h1.3v1.3h-1.3zM48.4 25.5h1.2v1.2h-1.2zM23.2 30.7h1.7v1.7h-1.7zM57.5 34.3h1.7v1.7h-1.7zM55 43.3h1.4v1.4h-1.4zM14.8 15h1.5v1.5h-1.5zM10.5 13.3h1.6v1.6h-1.6zM27.2 48.2h1.4v1.4h-1.4zM44.8 49.1h1.8v1.8h-1.8zM44.1 2.2h1.3v1.3h-1.3zM53.1 20.6h1.8v1.8h-1.8zM54.3 43.3h1.3v1.3h-1.3zM-0.3 18h1.1v1.1h-1.1zM32.3 28.9h1.2v1.2h-1.2zM3.9 6.8h1.8v1.8h-1.8zM52.3 30.8h1.8v1.8h-1.8zM49.5 33.6h1.7v1.7h-1.7zM40.6 35.9h1.3v1.3h-1.3z"/>
<path transform="translate(247.8,219.6)" fill="#7cacd8" d="M14.3 10.1h1.9v1.9h-1.9zM17.8 48h1.8v1.8h-1.8zM64 29h1.6v1.6h-1.6zM17.2 34.9h1.7v1.7h-1.7zM13.7 44.6h1.2v1.2h-1.2zM40 38.7h1.2v1.2h-1.2zM9.6 41.5h1.8v1.8h-1.8zM13.9 40h1.2v1.2h-1.2zM46.6 38.4h1.6v1.6h-1.6zM27.9 30.3h1.9v1.9h-1.9zM34 -0.8h1.7v1.7h-1.7zM32.9 48.8h1.6v1.6h-1.6zM61.5 33.9h1.6v1.6h-1.6zM59.2 32.3h1.5v1.5h-1.5zM25 19.2h1.7v1.7h-1.7zM50.6 44.2h1.4v1.4h-1.4zM13.9 11h1.4v1.4h-1.4zM0.3 -0.4h1.4v1.4h-1.4zM60.9 38.6h1.2v1.2h-1.2zM3 9.3h1.8v1.8h-1.8zM54.8 48.4h1.3v1.3h-1.3zM33 28.5h1.1v1.1h-1.1zM64.7 13.4h1.5v1.5h-1.5zM53.2 47.1h1.6v1.6h-1.6zM42.9 1.1h1.4v1.4h-1.4zM55.4 37.9h1.5v1.5h-1.5zM13.4 40.8h1.7v1.7h-1.7zM0.9 11.9h1.7v1.7h-1.7zM16.6 13.1h1.7v1.7h-1.7zM61.5 12.7h1.7v1.7h-1.7zM43.7 40.6h1.8v1.8h-1.8zM55.2 18.5h1.4v1.4h-1.4zM36.5 43.8h1.1v1.1h-1.1zM40.8 47h1.7v1.7h-1.7zM61 20.9h1.5v1.5h-1.5zM64.9 3h1.7v1.7h-1.7zM16.4 12h1.3v1.3h-1.3zM43.3 0.8h1.4v1.4h-1.4zM4.3 11.5h1.2v1.2h-1.2zM12.6 35.4h1.4v1.4h-1.4zM45.8 40.3h1.6v1.6h-1.6zM43.8 1.3h1.8v1.8h-1.8zM32.3 41.8h1.5v1.5h-1.5zM51.2 17.2h1.9v1.9h-1.9zM53.3 12.6h1.5v1.5h-1.5zM59 47.2h1.2v1.2h-1.2zM13 13.7h1.5v1.5h-1.5zM58.1 11h1.3v1.3h-1.3zM23.2 13.8h1.8v1.8h-1.8zM18 11.8h1.8v1.8h-1.8zM55.8 14.9h1.2v1.2h-1.2zM22 5.5h1.1v1.1h-1.1zM56.4 46.9h1.9v1.9h-1.9zM63.8 6.6h1.9v1.9h-1.9zM51.7 27.6h1.4v1.4h-1.4zM35.2 41.9h1.7v1.7h-1.7zM22.6 7.2h1.8v1.8h-1.8zM42.2 24.6h1.9v1.9h-1.9zM14.7 34.7h1.5v1.5h-1.5zM63.8 5.1h1.7v1.7h-1.7zM47 4.3h1.2v1.2h-1.2zM63.4 26.7h1.8v1.8h-1.8zM51.1 48.6h1.6v1.6h-1.6zM61 19.2h1.5v1.5h-1.5zM38.6 32.5h1.3v1.3h-1.3zM62.8 6.6h1.6v1.6h-1.6zM10.7 11h1.6v1.6h-1.6zM37.2 34.8h1.6v1.6h-1.6zM15.1 11.4h1.5v1.5h-1.5zM7.8 13.7h1.6v1.6h-1.6zM55.1 34.7h1.6v1.6h-1.6zM38 -0.7h1.8v1.8h-1.8zM64.4 27.4h1.5v1.5h-1.5zM58.5 41.5h1.3v1.3h-1.3zM62.9 41.6h1.4v1.4h-1.4zM1.5 37.8h1.5v1.5h-1.5zM0.8 10.8h1.6v1.6h-1.6zM57.8 34.6h1.3v1.3h-1.3zM21.2 11.7h1.6v1.6h-1.6zM25.7 43h1.2v1.2h-1.2zM38.8 23.4h1.3v1.3h-1.3zM59.3 38h1.3v1.3h-1.3zM50.3 27.4h1.5v1.5h-1.5zM30 41h1.1v1.1h-1.1zM40.7 42.4h1.1v1.1h-1.1zM57.3 48h1.9v1.9h-1.9zM1.3 10.8h1.2v1.2h-1.2zM17.6 8.3h1.6v1.6h-1.6zM13.6 19.1h1.7v1.7h-1.7zM13.4 14.3h1.9v1.9h-1.9zM6.2 42.5h1.8v1.8h-1.8zM55.9 11.8h1.3v1.3h-1.3zM1.9 15.3h1.5v1.5h-1.5zM54.8 18.2h1.5v1.5h-1.5zM60.9 22.2h1.5v1.5h-1.5zM56.9 46.3h1.3v1.3h-1.3zM28.4 28.8h1.6v1.6h-1.6zM56.6 34.9h1.3v1.3h-1.3zM59.8 35.8h1.7v1.7h-1.7zM60.7 27.1h1.7v1.7h-1.7zM41.7 38.7h1.7v1.7h-1.7zM54.8 46.3h1.3v1.3h-1.3zM45.9 3.9h1.7v1.7h-1.7zM31.6 24.6h1.7v1.7h-1.7zM11.8 47.6h1.4v1.4h-1.4zM21.1 6.6h1.8v1.8h-1.8zM28.3 32.2h1.7v1.7h-1.7zM14.6 46.7h1.8v1.8h-1.8zM52.2 20.4h1.3v1.3h-1.3zM6 39h1.2v1.2h-1.2zM16.4 31.3h1.1v1.1h-1.1zM1.2 6.8h1.9v1.9h-1.9zM51 40.2h1.4v1.4h-1.4zM23.3 29.7h1.7v1.7h-1.7zM14.5 33.9h1.2v1.2h-1.2zM38 39.1h1.7v1.7h-1.7zM5 10.6h1.5v1.5h-1.5zM31.4 27h1.1v1.1h-1.1zM8.6 49.1h1.7v1.7h-1.7zM32.9 2.7h1.8v1.8h-1.8zM62.4 -0.5h1.7v1.7h-1.7zM0.5 8.5h1.4v1.4h-1.4zM11.4 43.1h1.6v1.6h-1.6zM54.6 28.4h1.5v1.5h-1.5zM38.8 2.9h1.4v1.4h-1.4zM42.3 35.3h1.2v1.2h-1.2zM7.2 -0.4h1.8v1.8h-1.8zM19.2 49.2h1.3v1.3h-1.3zM49.5 33.6h1.4v1.4h-1.4zM32.3 44.3h1.6v1.6h-1.6zM37.3 0.2h1.2v1.2h-1.2zM27.8 25.1h1.5v1.5h-1.5zM33.6 31.1h1.7v1.7h-1.7zM50.2 34h1.7v1.7h-1.7zM64.3 39.5h1.3v1.3h-1.3zM4.8 8h1.2v1.2h-1.2zM29.9 45.1h1.8v1.8h-1.8zM33.5 35.8h1.2v1.2h-1.2zM52.8 14.2h1.2v1.2h-1.2zM34.5 40.2h1.1v1.1h-1.1zM31.9 24.2h1.2v1.2h-1.2zM40 42.3h1.4v1.4h-1.4zM54 23.7h1.5v1.5h-1.5zM18.5 14.4h1.4v1.4h-1.4zM2.9 4.5h1.5v1.5h-1.5zM3.8 12.7h1.5v1.5h-1.5zM26.6 18.9h1.8v1.8h-1.8zM56.7 23.5h1.9v1.9h-1.9zM40.9 25.8h1.8v1.8h-1.8zM4.5 8.4h1.2v1.2h-1.2zM42 26.5h1.6v1.6h-1.6zM15.4 22.1h1.3v1.3h-1.3zM29 32.2h1.8v1.8h-1.8zM63.6 36.6h1.2v1.2h-1.2z"/>
<path transform="translate(247.8,219.6)" fill="#2c68b2" d="M32.6 28.8h1.5v1.5h-1.5zM10.3 10.5h1.7v1.7h-1.7zM55.2 45.8h1.8v1.8h-1.8zM43.6 3.4h1.5v1.5h-1.5zM39.3 40.4h1.3v1.3h-1.3zM20.3 30.8h1.7v1.7h-1.7zM7.6 10h1.3v1.3h-1.3zM-0.2 43.3h1.6v1.6h-1.6zM1.8 9.4h1.3v1.3h-1.3zM56.8 44.6h1.2v1.2h-1.2zM16.2 16.3h1.3v1.3h-1.3zM6.2 1.3h1.4v1.4h-1.4zM18.7 26.1h1.5v1.5h-1.5zM43.3 3.7h1.8v1.8h-1.8zM16.1 23.3h1.3v1.3h-1.3zM63.3 48h1.3v1.3h-1.3zM35.8 3h1.1v1.1h-1.1zM32.3 39.2h1.5v1.5h-1.5zM17.2 31.5h1.8v1.8h-1.8zM47.2 1.2h1.7v1.7h-1.7zM6.3 39.8h1.6v1.6h-1.6zM4.1 38.3h1.4v1.4h-1.4zM38.1 2.7h1.6v1.6h-1.6zM57.6 12.7h1.7v1.7h-1.7zM14.1 15.2h1.9v1.9h-1.9zM2.1 39.7h1.8v1.8h-1.8zM54.6 44.7h1.5v1.5h-1.5zM19.9 5.6h1.5v1.5h-1.5zM45.8 43.4h1.7v1.7h-1.7zM62.4 28.7h1.2v1.2h-1.2zM23.7 25.4h1.4v1.4h-1.4zM63 40h1.8v1.8h-1.8zM47 1.6h1.9v1.9h-1.9zM40.8 25.5h1.8v1.8h-1.8zM5.3 3.8h1.4v1.4h-1.4zM27.4 47.2h1.5v1.5h-1.5zM61.5 47.8h1.7v1.7h-1.7zM32.7 44.6h1.6v1.6h-1.6zM57.6 34.8h1.5v1.5h-1.5zM44.3 1.5h1.2v1.2h-1.2zM60.3 12.8h1.6v1.6h-1.6zM51.9 29.5h1.5v1.5h-1.5zM26.3 29.8h1.2v1.2h-1.2zM13.4 10.9h1.8v1.8h-1.8zM46.3 3.5h1.2v1.2h-1.2zM36.1 22h1.5v1.5h-1.5zM61.7 43h1.4v1.4h-1.4zM51.6 28.3h1.1v1.1h-1.1zM37 30.2h1.7v1.7h-1.7zM53.1 39.6h1.1v1.1h-1.1zM13.9 46.3h1.1v1.1h-1.1zM0.7 0.2h1.6v1.6h-1.6zM57.2 40.7h1.3v1.3h-1.3zM31.9 33h1.9v1.9h-1.9zM-0.1 14.8h1.6v1.6h-1.6zM60.2 48.5h1.3v1.3h-1.3zM46.6 0.5h1.1v1.1h-1.1zM14.7 9.9h1.3v1.3h-1.3zM25.4 23h1.4v1.4h-1.4zM22.4 21.7h1.8v1.8h-1.8zM61.4 34.4h1.3v1.3h-1.3zM11.3 38.5h1.6v1.6h-1.6zM44 42.8h1.5v1.5h-1.5zM54.4 34.8h1.3v1.3h-1.3zM57.7 26.8h1.8v1.8h-1.8zM18.8 31.2h1.2v1.2h-1.2zM28.4 43.9h1.4v1.4h-1.4zM26.4 16h1.2v1.2h-1.2zM52.5 47h1.5v1.5h-1.5zM58.2 16.8h1.4v1.4h-1.4zM-0.3 34.3h1.3v1.3h-1.3zM33.3 2.7h1.8v1.8h-1.8zM40 27.9h1.2v1.2h-1.2zM53.3 25.7h1.4v1.4h-1.4zM30.4 29.7h1.2v1.2h-1.2zM54.3 15.3h1.2v1.2h-1.2zM9.1 42.7h1.5v1.5h-1.5zM16.7 46.1h1.4v1.4h-1.4zM14.2 40h1.4v1.4h-1.4zM58.5 38.5h1.5v1.5h-1.5zM5.5 6.3h1.4v1.4h-1.4zM54.7 11h1.4v1.4h-1.4zM2 38h1.2v1.2h-1.2zM51.8 21.8h1.2v1.2h-1.2zM17.7 6.7h1.8v1.8h-1.8zM24.2 30.5h1.2v1.2h-1.2zM26.7 28.5h1.9v1.9h-1.9zM46.6 41.5h1.5v1.5h-1.5zM31.5 34.6h1.5v1.5h-1.5zM42.5 45.9h1.7v1.7h-1.7zM50.8 22.1h1.7v1.7h-1.7zM32.4 36.7h1.4v1.4h-1.4zM58.2 18.5h1.6v1.6h-1.6zM46.3 25.4h1.4v1.4h-1.4zM15.9 9.7h1.6v1.6h-1.6zM24.2 27.8h1.3v1.3h-1.3zM26 0.1h1.5v1.5h-1.5zM13.1 42.7h1.3v1.3h-1.3zM63.4 27.3h1.4v1.4h-1.4zM62.3 26.6h1.9v1.9h-1.9zM24.9 11.1h1.5v1.5h-1.5zM37.9 27.9h1.1v1.1h-1.1zM39.5 34h1.2v1.2h-1.2zM58.7 34.6h1.2v1.2h-1.2zM30.6 48.2h1.3v1.3h-1.3zM45 1.8h1.7v1.7h-1.7zM65.3 21.1h1.2v1.2h-1.2zM26.4 29h1.5v1.5h-1.5zM29.9 3.6h1.2v1.2h-1.2zM19.6 23h1.7v1.7h-1.7zM53.5 19.9h1.6v1.6h-1.6zM25.6 6.2h1.2v1.2h-1.2zM-0.3 49.1h1.7v1.7h-1.7zM35.1 30h1.4v1.4h-1.4zM53.6 40.1h1.7v1.7h-1.7zM33 41.6h1.2v1.2h-1.2zM56.2 16.9h1.8v1.8h-1.8zM33.1 38.4h1.8v1.8h-1.8zM57.9 45.7h1.5v1.5h-1.5zM38.8 43.9h1.6v1.6h-1.6zM-0.9 0.6h1.8v1.8h-1.8zM51.3 22h1.3v1.3h-1.3zM10.6 40.3h1.3v1.3h-1.3zM61 26.1h1.3v1.3h-1.3zM28.4 31.6h1.1v1.1h-1.1zM60.5 37.2h1.7v1.7h-1.7zM24.4 28.9h1.1v1.1h-1.1zM63.1 17.9h1.8v1.8h-1.8zM16.5 48.9h1.2v1.2h-1.2zM3 15.2h1.2v1.2h-1.2zM35.8 25.8h1.6v1.6h-1.6zM48.1 23.8h1.4v1.4h-1.4zM52.9 43.9h1.7v1.7h-1.7zM59.5 40.2h1.4v1.4h-1.4zM40.1 46.4h1.2v1.2h-1.2zM8.7 48.5h1.2v1.2h-1.2zM62.4 36.2h1.1v1.1h-1.1zM27.1 30.4h1.4v1.4h-1.4zM8.9 44.2h1.2v1.2h-1.2zM55.5 46.8h1.4v1.4h-1.4zM10.6 47.1h1.5v1.5h-1.5zM40.5 39.7h1.8v1.8h-1.8zM39.4 4.2h1.7v1.7h-1.7zM25.7 1.7h1.9v1.9h-1.9z"/>
</g>
<clipPath id="c2"><rect x="315" y="219.6" width="64.8" height="50.2"/></clipPath>
<g clip-path="url(#c2)">
<rect x="315" y="219.6" width="64.8" height="50.2" fill="#c6d8e6" stroke="none" stroke-width="1"/>
<ellipse cx="320.5" cy="224.1" rx="5.2" ry="4.9" fill="#dde2e4"/>
<ellipse cx="349.2" cy="227.4" rx="6.9" ry="6.5" fill="#dde2e4"/>
<ellipse cx="370" cy="236.6" rx="8" ry="9" fill="#dde2e4"/>
<ellipse cx="359" cy="248.8" rx="5.8" ry="5.5" fill="#dde2e4"/>
<ellipse cx="343.8" cy="259.4" rx="6.5" ry="6.5" fill="#dde2e4"/>
<ellipse cx="327.8" cy="244.2" rx="3.5" ry="3.5" fill="#dde2e4"/>
<ellipse cx="334.3" cy="248.5" rx="2.5" ry="2.5" fill="#dde2e4"/>
<ellipse cx="319.8" cy="266" rx="4" ry="3.5" fill="#dde2e4"/>
<path transform="translate(315,219.6)" fill="#2c68b2" d="M61.4 47h1.2v1.2h-1.2zM59.7 30.4h1.7v1.7h-1.7zM37.5 33.4h1.7v1.7h-1.7zM15.2 0.2h1.9v1.9h-1.9zM0.9 35.9h1.4v1.4h-1.4zM38.4 20.2h1.7v1.7h-1.7zM47.9 4.5h1.5v1.5h-1.5zM62.8 17.8h1.8v1.8h-1.8zM8.4 16.7h1.3v1.3h-1.3zM61.4 34h1.6v1.6h-1.6zM37.4 40.5h1.2v1.2h-1.2zM62.6 31.2h1.4v1.4h-1.4zM38.6 44.7h1.4v1.4h-1.4zM12.6 47.8h1.4v1.4h-1.4zM17.6 22.8h1.4v1.4h-1.4zM38.8 19.1h1.4v1.4h-1.4zM25.8 25.4h1.8v1.8h-1.8zM28.3 28.8h1.8v1.8h-1.8zM43.3 45.2h1.4v1.4h-1.4zM8.8 32.9h1.4v1.4h-1.4zM58.5 7.3h1.8v1.8h-1.8zM19.6 14.2h1.5v1.5h-1.5zM13 18.8h1.6v1.6h-1.6zM44.9 13h1.3v1.3h-1.3zM14.6 10h1.3v1.3h-1.3zM17.5 0.9h1.2v1.2h-1.2zM59 29.6h1.6v1.6h-1.6zM15.2 27.1h1.1v1.1h-1.1zM41.6 47.4h1.4v1.4h-1.4zM29 25.2h1.9v1.9h-1.9zM0.7 17.4h1.3v1.3h-1.3zM36.4 23.1h1.2v1.2h-1.2zM19 34.2h1.8v1.8h-1.8zM9.4 45.6h1.4v1.4h-1.4zM16.9 18h1.5v1.5h-1.5zM47 -0.6h1.8v1.8h-1.8zM12.7 31.7h1.8v1.8h-1.8zM59.1 25.6h1.6v1.6h-1.6zM34.3 44.7h1.5v1.5h-1.5zM13.5 38.8h1.4v1.4h-1.4zM15.5 35.4h1.4v1.4h-1.4zM26.5 49.4h1.6v1.6h-1.6zM9.5 14.3h1.1v1.1h-1.1zM10.8 44.7h1.2v1.2h-1.2zM36.2 47.4h1.4v1.4h-1.4zM1.8 14.6h1.9v1.9h-1.9zM40.3 2.4h1.6v1.6h-1.6zM15.1 3.3h1.2v1.2h-1.2zM56 0.4h1.8v1.8h-1.8zM58.6 40.7h1.8v1.8h-1.8zM54 42.1h1.3v1.3h-1.3zM56.2 28.4h1.6v1.6h-1.6zM7.9 31.2h1.8v1.8h-1.8zM35.1 42h1.4v1.4h-1.4zM1 35.7h1.6v1.6h-1.6zM61 34.4h1.8v1.8h-1.8zM54.5 43.3h1.3v1.3h-1.3zM51.7 3.3h1.9v1.9h-1.9zM45.4 13.8h1.6v1.6h-1.6zM38.6 19h1.3v1.3h-1.3zM55.5 -0.3h1.3v1.3h-1.3zM58.3 41.4h1.3v1.3h-1.3zM12.1 46.7h1.2v1.2h-1.2zM14.5 28.2h1.6v1.6h-1.6zM2.4 12.5h1.9v1.9h-1.9zM35.8 38.2h1.2v1.2h-1.2zM12.9 34.6h1.4v1.4h-1.4zM42.7 6.7h1.5v1.5h-1.5zM1.2 38.4h1.7v1.7h-1.7zM5.8 22.3h1.9v1.9h-1.9zM59.9 24.1h1.2v1.2h-1.2zM1.8 19.3h1.2v1.2h-1.2zM8.1 40.4h1.8v1.8h-1.8zM18 47.1h1.2v1.2h-1.2zM6.9 31.5h1.7v1.7h-1.7zM63.1 30.7h1.7v1.7h-1.7zM24.5 31h1.3v1.3h-1.3zM54.8 26.2h1.8v1.8h-1.8zM4.4 28.6h1.9v1.9h-1.9zM29.1 21.1h1.8v1.8h-1.8zM22.1 17.2h1.5v1.5h-1.5zM33.1 18.8h1.8v1.8h-1.8zM59 2.6h1.5v1.5h-1.5zM30.7 29.2h1.8v1.8h-1.8zM48.9 36.7h1.3v1.3h-1.3zM52.1 30h1.9v1.9h-1.9zM25.7 7.7h1.5v1.5h-1.5zM60.7 49h1.4v1.4h-1.4zM20.2 22.8h1.9v1.9h-1.9zM11 0.2h1.8v1.8h-1.8zM12.6 37.2h1.3v1.3h-1.3zM59.5 32.9h1.3v1.3h-1.3zM2.3 32.2h1.9v1.9h-1.9zM61.6 9.9h1.7v1.7h-1.7zM6 18h1.7v1.7h-1.7zM17 11.6h1.3v1.3h-1.3zM50 5h1.1v1.1h-1.1zM35.1 38.6h1.7v1.7h-1.7zM31 20.6h1.6v1.6h-1.6zM43.4 5.7h1.9v1.9h-1.9zM52.3 30.6h1.7v1.7h-1.7zM45.8 37.5h1.7v1.7h-1.7zM11.9 38.3h1.2v1.2h-1.2zM3.5 21h1.3v1.3h-1.3zM40.6 38.7h1.7v1.7h-1.7zM16.1 33.5h1.9v1.9h-1.9zM1 23.6h1.3v1.3h-1.3zM13.8 39.7h1.2v1.2h-1.2zM7.9 38.3h1.3v1.3h-1.3zM21.6 31.4h1.7v1.7h-1.7zM16.8 10.9h1.9v1.9h-1.9zM14.1 31.3h1.3v1.3h-1.3zM-0.8 0.7h1.7v1.7h-1.7zM7.3 31.8h1.2v1.2h-1.2zM11.1 9.5h1.2v1.2h-1.2zM40.8 46.6h1.3v1.3h-1.3zM15.6 48.6h1.9v1.9h-1.9zM61.6 26.1h1.5v1.5h-1.5zM3.1 40.2h1.6v1.6h-1.6zM22.2 15.7h1.3v1.3h-1.3zM18.2 39.9h1.1v1.1h-1.1zM19.3 46.5h1.7v1.7h-1.7zM17.8 42.4h1.2v1.2h-1.2zM53.7 29.6h1.3v1.3h-1.3zM47.6 48.1h1.4v1.4h-1.4zM56.1 3.8h1.2v1.2h-1.2zM22.7 7.8h1.4v1.4h-1.4zM52.2 36.4h1.7v1.7h-1.7zM10.6 47.8h1.3v1.3h-1.3zM62.7 8h1.2v1.2h-1.2zM51.6 35h1.8v1.8h-1.8zM21.9 8.9h1.3v1.3h-1.3zM16.7 21.7h1.7v1.7h-1.7zM30.9 17.9h1.4v1.4h-1.4zM36.1 17h1.5v1.5h-1.5zM31.2 23.8h1.6v1.6h-1.6zM46 40.9h1.2v1.2h-1.2zM33.8 28.5h1.2v1.2h-1.2zM5.8 31.7h1.2v1.2h-1.2zM0.2 23.6h1.8v1.8h-1.8zM26 26.1h1.3v1.3h-1.3zM51 31h1.7v1.7h-1.7zM7 20.6h1.9v1.9h-1.9zM58.2 26.3h1.8v1.8h-1.8zM33.9 43.5h1.2v1.2h-1.2zM58.3 33.2h1.7v1.7h-1.7zM31 23.6h1.4v1.4h-1.4zM21.8 43.6h1.4v1.4h-1.4zM12.8 44.7h1.2v1.2h-1.2zM55.5 37.7h1.3v1.3h-1.3zM19.2 13.4h1.4v1.4h-1.4zM8.2 16.5h1.9v1.9h-1.9zM53.8 43.4h1.3v1.3h-1.3zM48.3 35.5h1.7v1.7h-1.7zM4.6 24.1h1.7v1.7h-1.7zM14.1 44.6h1.9v1.9h-1.9zM32.6 20.5h1.2v1.2h-1.2zM29.6 25.4h1.6v1.6h-1.6zM8.6 39.5h1.1v1.1h-1.1zM0.5 35.5h1.8v1.8h-1.8zM18.3 18.9h1.6v1.6h-1.6zM56.9 39.7h1.4v1.4h-1.4zM38.6 46.3h1.3v1.3h-1.3zM45.4 4.9h1.2v1.2h-1.2zM46.3 6.5h1.4v1.4h-1.4zM60.9 38.1h1.1v1.1h-1.1z"/>
<path transform="translate(315,219.6)" fill="#3474b8" d="M22.6 7.7h1.6v1.6h-1.6zM60.3 40.3h1.2v1.2h-1.2zM21.5 -0.2h1.3v1.3h-1.3zM8.2 12.7h1.3v1.3h-1.3zM-0.8 28.6h1.9v1.9h-1.9zM5.5 33.9h1.2v1.2h-1.2zM23.6 23.6h1.5v1.5h-1.5zM51.7 44.5h1.2v1.2h-1.2zM34.3 47h1.4v1.4h-1.4zM10.3 36.7h1.9v1.9h-1.9zM15.6 30.5h1.8v1.8h-1.8zM61.2 4.8h1.7v1.7h-1.7zM-0.3 15.2h1.8v1.8h-1.8zM12.1 45.2h1.8v1.8h-1.8zM29.9 13.5h1.5v1.5h-1.5zM20.1 40.3h1.8v1.8h-1.8zM1.6 14.3h1.2v1.2h-1.2zM36.9 21.6h1.5v1.5h-1.5zM39.8 22.9h1.6v1.6h-1.6zM55.7 26.2h1.3v1.3h-1.3zM3 25.9h1.7v1.7h-1.7zM8.8 14.2h1.2v1.2h-1.2zM2.4 27.2h1.4v1.4h-1.4zM43.1 14.2h1.1v1.1h-1.1zM1.2 14.6h1.1v1.1h-1.1zM19.5 37.6h1.1v1.1h-1.1zM40.6 35.3h1.5v1.5h-1.5zM63.6 31.7h1.4v1.4h-1.4zM1.4 19h1.3v1.3h-1.3zM64 35.9h1.3v1.3h-1.3zM12.4 35.2h1.9v1.9h-1.9zM38 44h1.2v1.2h-1.2zM59.3 36.1h1.1v1.1h-1.1zM6.7 14h1.5v1.5h-1.5zM14.7 34h1.7v1.7h-1.7zM48 43.3h1.7v1.7h-1.7zM15.2 31h1.3v1.3h-1.3zM5.6 22.3h1.6v1.6h-1.6zM15.3 12.5h1.3v1.3h-1.3zM39.3 48.1h1.5v1.5h-1.5zM52.9 -0.4h1.6v1.6h-1.6zM15.3 32.6h1.5v1.5h-1.5zM44.3 40.4h1.5v1.5h-1.5zM36.9 22.4h1.8v1.8h-1.8zM17.4 8.3h1.6v1.6h-1.6zM9.1 31.6h1.4v1.4h-1.4zM52.4 6.5h1.9v1.9h-1.9zM45.7 18.7h1.2v1.2h-1.2zM60 2.3h1.3v1.3h-1.3zM46.1 34.2h1.4v1.4h-1.4zM49.5 32h1.7v1.7h-1.7zM7.7 35.6h1.1v1.1h-1.1zM16.7 35.3h1.5v1.5h-1.5zM17.8 33.1h1.6v1.6h-1.6zM55.6 29.5h1.8v1.8h-1.8zM53.1 32.2h1.7v1.7h-1.7zM53 26h1.8v1.8h-1.8zM7 13.2h1.6v1.6h-1.6zM18.8 23.9h1.3v1.3h-1.3zM61.6 32.7h1.4v1.4h-1.4zM34.6 44.9h1.8v1.8h-1.8zM22.9 31.9h1.7v1.7h-1.7zM12.4 31.1h1.5v1.5h-1.5zM27.3 25.9h1.5v1.5h-1.5zM13.8 5.6h1.9v1.9h-1.9zM25.4 0.5h1.5v1.5h-1.5zM10.3 48.6h1.5v1.5h-1.5zM19.2 0.3h1.3v1.3h-1.3zM13.8 17.2h1.2v1.2h-1.2zM52.5 30.7h1.3v1.3h-1.3zM-0.3 28.9h1.6v1.6h-1.6zM34.2 45.5h1.4v1.4h-1.4zM39.6 41h1.3v1.3h-1.3zM17.1 20.1h1.3v1.3h-1.3zM9 39.3h1.1v1.1h-1.1zM36.8 21.5h1.5v1.5h-1.5zM-0.6 13.9h1.6v1.6h-1.6zM0.1 32h1.7v1.7h-1.7zM50.4 36.8h1.7v1.7h-1.7zM19.8 42.3h1.8v1.8h-1.8zM2.9 32.8h1.2v1.2h-1.2zM27.1 22.2h1.5v1.5h-1.5zM19.5 5.8h1.4v1.4h-1.4zM52.1 35.9h1.3v1.3h-1.3zM22.3 13.6h1.4v1.4h-1.4zM14.8 12.5h1.4v1.4h-1.4zM50.7 31.3h1.7v1.7h-1.7zM39.9 15.6h1.3v1.3h-1.3zM1.4 38.3h1.8v1.8h-1.8zM47.7 23.6h1.3v1.3h-1.3zM0.5 10.4h1.3v1.3h-1.3zM26.7 1.8h1.3v1.3h-1.3zM23.9 13.5h1.2v1.2h-1.2zM12.8 2.3h1.4v1.4h-1.4zM41.6 6h1.8v1.8h-1.8zM42.8 20h1.2v1.2h-1.2zM41.7 14.7h1.3v1.3h-1.3zM17.8 34.8h1.4v1.4h-1.4zM33.8 20.2h1.2v1.2h-1.2zM15.2 47.2h1.9v1.9h-1.9zM41.5 18.6h1.3v1.3h-1.3zM54.1 1.7h1.2v1.2h-1.2zM25.2 5.5h1.7v1.7h-1.7zM4.7 11.6h1.2v1.2h-1.2zM26.4 16h1.2v1.2h-1.2zM45 8h1.4v1.4h-1.4zM42 -0.8h1.6v1.6h-1.6zM7.4 29.3h1.5v1.5h-1.5zM56.2 3.1h1.9v1.9h-1.9zM-0.3 29.8h1.3v1.3h-1.3zM26.2 1h1.3v1.3h-1.3zM10.1 27.8h1.5v1.5h-1.5zM44.2 21.5h1.7v1.7h-1.7zM7.2 25.9h1.8v1.8h-1.8zM42.4 38.5h1.2v1.2h-1.2zM32.1 20.6h1.7v1.7h-1.7zM47.7 5h1.3v1.3h-1.3zM40.9 3.8h1.7v1.7h-1.7zM35.4 34.1h1.4v1.4h-1.4zM24.3 11.8h1.4v1.4h-1.4zM59 44.1h1.3v1.3h-1.3zM12.6 34.4h1.7v1.7h-1.7zM18.2 39.6h1.1v1.1h-1.1zM45 41h1.7v1.7h-1.7zM15.9 13.3h1.5v1.5h-1.5zM61.9 11.7h1.4v1.4h-1.4zM50.3 43.7h1.3v1.3h-1.3z"/>
<path transform="translate(315,219.6)" fill="#9cc0e0" d="M63.5 46.7h1.8v1.8h-1.8zM10.7 8h1.5v1.5h-1.5zM28 19.9h1.8v1.8h-1.8zM61.3 34.7h1.5v1.5h-1.5zM27.3 24.9h1.6v1.6h-1.6zM56.5 46h1.2v1.2h-1.2zM40.5 22.5h1.6v1.6h-1.6zM20.7 11.8h1.3v1.3h-1.3zM27.9 0.8h1.4v1.4h-1.4zM52.3 35.6h1.6v1.6h-1.6zM51.3 6.1h1.6v1.6h-1.6zM29 48.7h1.7v1.7h-1.7zM60.9 27.5h1.3v1.3h-1.3zM62.6 13.8h1.6v1.6h-1.6zM1.4 34.4h1.1v1.1h-1.1zM41.8 0.7h1.7v1.7h-1.7zM6.1 31h1.8v1.8h-1.8zM45.5 13.6h1.2v1.2h-1.2zM14.7 1.9h1.8v1.8h-1.8zM8.6 15.6h1.1v1.1h-1.1zM58 4.7h1.8v1.8h-1.8zM19.8 0h1.1v1.1h-1.1zM59.1 38.5h1.6v1.6h-1.6zM18.9 40.9h1.6v1.6h-1.6zM34.3 31.9h1.3v1.3h-1.3zM55 28.6h1.8v1.8h-1.8zM4 39.7h1.7v1.7h-1.7zM18 45.1h1.8v1.8h-1.8zM9.3 10.8h1.4v1.4h-1.4zM9.3 14.3h1.6v1.6h-1.6zM39.3 34.7h1.9v1.9h-1.9zM54.6 40h1.3v1.3h-1.3zM36.5 25.6h1.7v1.7h-1.7zM5.1 41.3h1.5v1.5h-1.5zM62.3 43.9h1.4v1.4h-1.4zM40.9 47.2h1.8v1.8h-1.8zM4.8 40.4h1.3v1.3h-1.3zM6.5 27.6h1.4v1.4h-1.4zM62.9 8.5h1.3v1.3h-1.3zM29.3 0.3h1.1v1.1h-1.1zM14.7 26.9h1.6v1.6h-1.6zM24.9 48.2h1.6v1.6h-1.6zM13.3 40.5h1.4v1.4h-1.4zM32.9 28.8h1.5v1.5h-1.5zM44.5 44h1.2v1.2h-1.2zM15.6 21.9h1.7v1.7h-1.7zM8.2 14.6h1.9v1.9h-1.9zM33.6 33.6h1.4v1.4h-1.4zM6.9 18.4h1.7v1.7h-1.7zM4.1 25.2h1.1v1.1h-1.1zM37.1 16.9h1.6v1.6h-1.6zM51.3 6.6h1.8v1.8h-1.8zM2.8 12h1.1v1.1h-1.1zM21.7 0.2h1.3v1.3h-1.3zM45.1 20.2h1.7v1.7h-1.7zM38.4 44.5h1.4v1.4h-1.4zM47.4 9.1h1.5v1.5h-1.5zM6.5 19.1h1.2v1.2h-1.2zM63.7 1.1h1.5v1.5h-1.5zM18.9 15.6h1.3v1.3h-1.3zM25.6 8.5h1.6v1.6h-1.6zM50.4 34.8h1.7v1.7h-1.7zM16.6 44.6h1.9v1.9h-1.9zM23.5 31.7h1.5v1.5h-1.5zM12.5 36.2h1.1v1.1h-1.1zM0.4 35.4h1.8v1.8h-1.8zM51.7 42.5h1.4v1.4h-1.4zM38 47.3h1.5v1.5h-1.5zM53.7 49.1h1.6v1.6h-1.6zM25.4 12.9h1.5v1.5h-1.5zM11.6 3.8h1.4v1.4h-1.4zM30.1 18.2h1.2v1.2h-1.2zM43.5 36.4h1.4v1.4h-1.4zM55.1 42.7h1.5v1.5h-1.5zM17.7 16h1.8v1.8h-1.8zM33.7 43.9h1.6v1.6h-1.6zM62.2 22.4h1.4v1.4h-1.4zM25.6 11.7h1.8v1.8h-1.8zM48.1 35.4h1.4v1.4h-1.4zM51.7 30.7h1.5v1.5h-1.5zM22 22.9h1.7v1.7h-1.7zM15.4 48.7h1.7v1.7h-1.7zM21.5 46.3h1.7v1.7h-1.7zM17.8 7.1h1.8v1.8h-1.8zM47.6 36.1h1.6v1.6h-1.6zM37.8 24.2h1.7v1.7h-1.7zM23.1 27.3h1.1v1.1h-1.1zM57.2 41.4h1.7v1.7h-1.7zM7.3 24.4h1.5v1.5h-1.5zM46.2 43.6h1.8v1.8h-1.8zM19.4 -0.7h1.5v1.5h-1.5zM31.3 20.1h1.4v1.4h-1.4zM15.9 2.2h1.7v1.7h-1.7zM27.8 17.8h1.7v1.7h-1.7zM28.9 23.1h1.5v1.5h-1.5zM2.2 38.6h1.6v1.6h-1.6zM22.9 34.1h1.3v1.3h-1.3zM30.3 48.1h1.1v1.1h-1.1zM16.3 45.9h1.6v1.6h-1.6zM43.7 8.4h1.5v1.5h-1.5zM57.7 48h1.8v1.8h-1.8zM8.1 19.5h1.8v1.8h-1.8zM5.2 33h1.8v1.8h-1.8zM44.1 37.6h1.2v1.2h-1.2zM35.6 39.1h1.4v1.4h-1.4zM21 43.6h1.6v1.6h-1.6zM44.3 2.4h1.5v1.5h-1.5zM12.6 35.2h1.3v1.3h-1.3zM14 17.5h1.8v1.8h-1.8zM51.1 29.4h1.6v1.6h-1.6zM62.7 34.4h1.4v1.4h-1.4zM28.7 30.6h1.4v1.4h-1.4zM5.6 24.1h1.4v1.4h-1.4zM48.3 39.7h1.6v1.6h-1.6zM60.6 45h1.6v1.6h-1.6zM4.3 39.6h1.8v1.8h-1.8zM25.2 45.9h1.4v1.4h-1.4zM46.7 37.3h1.3v1.3h-1.3zM25.4 47.5h1.8v1.8h-1.8zM11.6 19.3h1.3v1.3h-1.3zM2.9 14.5h1.4v1.4h-1.4zM44.8 9.2h1.2v1.2h-1.2zM47 36.8h1.5v1.5h-1.5zM15.4 15.5h1.3v1.3h-1.3zM23.2 25.2h1.8v1.8h-1.8zM5 31h1.6v1.6h-1.6zM48.2 24.4h1.3v1.3h-1.3zM24 2.9h1.5v1.5h-1.5zM60.1 34.3h1.5v1.5h-1.5zM25.2 49.4h1.3v1.3h-1.3zM43.3 41.9h1.3v1.3h-1.3zM54.7 1.5h1.5v1.5h-1.5zM7 34.8h1.3v1.3h-1.3zM11.8 19.1h1.9v1.9h-1.9zM40.3 48.6h1.2v1.2h-1.2zM37.2 47.9h1.3v1.3h-1.3zM36.1 23.5h1.7v1.7h-1.7z"/>
<path transform="translate(315,219.6)" fill="#7cacd8" d="M59.5 44.7h1.8v1.8h-1.8zM15.4 13.3h1.5v1.5h-1.5zM56.5 44.5h1.4v1.4h-1.4zM32.2 30.2h1.3v1.3h-1.3zM55 34.5h1.9v1.9h-1.9zM7.5 28.6h1.5v1.5h-1.5zM43 0.2h1.1v1.1h-1.1zM45.1 14h1.2v1.2h-1.2zM61 39.5h1.8v1.8h-1.8zM18.4 10.8h1.6v1.6h-1.6zM60 34.7h1.4v1.4h-1.4zM33.1 44.7h1.6v1.6h-1.6zM34.2 18.6h1.3v1.3h-1.3zM4.1 14.9h1.2v1.2h-1.2zM22.7 9.6h1.2v1.2h-1.2zM32.1 32.4h1.9v1.9h-1.9zM20.9 31.6h1.8v1.8h-1.8zM18.7 21h1.2v1.2h-1.2zM36 19.9h1.6v1.6h-1.6zM21.5 21.4h1.5v1.5h-1.5zM8.9 29.6h1.7v1.7h-1.7zM27.6 48h1.4v1.4h-1.4zM63.6 45.3h1.8v1.8h-1.8zM7.4 20.6h1.7v1.7h-1.7zM11 40.3h1.6v1.6h-1.6zM52.6 43h1.2v1.2h-1.2zM27.9 22.6h1.4v1.4h-1.4zM40.2 0.8h1.6v1.6h-1.6zM16.1 12.7h1.7v1.7h-1.7zM35.4 26.2h1.3v1.3h-1.3zM2.5 15.7h1.6v1.6h-1.6zM38.9 -0.6h1.6v1.6h-1.6zM13.2 30.3h1.7v1.7h-1.7zM12 8.5h1.6v1.6h-1.6zM7.2 28.5h1.8v1.8h-1.8zM54.7 34.1h1.7v1.7h-1.7zM2.2 33.8h1.2v1.2h-1.2zM19.1 20h1.8v1.8h-1.8zM24.4 14.2h1.2v1.2h-1.2zM10.3 38.7h1.8v1.8h-1.8zM9.8 30.3h1.5v1.5h-1.5zM44.2 9.9h1.3v1.3h-1.3zM8 28.7h1.7v1.7h-1.7zM39.7 43.2h1.3v1.3h-1.3zM63.7 9.2h1.5v1.5h-1.5zM28.3 14.3h1.9v1.9h-1.9zM56.2 36.7h1.9v1.9h-1.9zM60.7 1h1.8v1.8h-1.8zM3.3 38.1h1.4v1.4h-1.4zM28.9 27.4h1.7v1.7h-1.7zM43.5 3.3h1.4v1.4h-1.4zM19.2 12.9h1.9v1.9h-1.9zM42.9 20.5h1.4v1.4h-1.4zM14.6 43.9h1.6v1.6h-1.6zM18.8 23.7h1.5v1.5h-1.5zM17.7 7h1.1v1.1h-1.1zM14.4 15.5h1.3v1.3h-1.3zM61.7 28.6h1.4v1.4h-1.4zM11.9 17.2h1.4v1.4h-1.4zM44.6 47.9h1.9v1.9h-1.9zM62.3 3.8h1.5v1.5h-1.5zM4.2 26.7h1.2v1.2h-1.2zM15 34h1.1v1.1h-1.1zM32.1 14.5h1.5v1.5h-1.5zM0.8 20.2h1.4v1.4h-1.4zM36 17.8h1.2v1.2h-1.2zM29.5 47.7h1.4v1.4h-1.4zM35.7 30.7h1.3v1.3h-1.3zM44.8 20.1h1.6v1.6h-1.6zM32.8 23.1h1.4v1.4h-1.4zM37.6 15.3h1.6v1.6h-1.6zM12 14.2h1.2v1.2h-1.2zM45.1 10.4h1.8v1.8h-1.8zM21.5 14.3h1.9v1.9h-1.9zM10.6 48.9h1.3v1.3h-1.3zM16.9 43.6h1.1v1.1h-1.1zM45.7 45.9h1.9v1.9h-1.9zM34 17.5h1.3v1.3h-1.3zM9.7 14.4h1.7v1.7h-1.7zM31.2 20.6h1.8v1.8h-1.8zM25.5 24.3h1.2v1.2h-1.2zM39.9 1.1h1.9v1.9h-1.9zM19.5 16.2h1.7v1.7h-1.7zM41.4 38.8h1.3v1.3h-1.3zM11.9 13.8h1.2v1.2h-1.2zM30.1 24.2h1.2v1.2h-1.2zM25.6 17.3h1.1v1.1h-1.1zM19.3 4.1h1.7v1.7h-1.7zM54 1.2h1.8v1.8h-1.8zM29.7 28h1.5v1.5h-1.5zM21.5 49.1h1.7v1.7h-1.7zM2.8 30.9h1.9v1.9h-1.9zM52.6 45.9h1.7v1.7h-1.7zM25 24.4h1.3v1.3h-1.3zM19.4 23h1.5v1.5h-1.5zM4.3 26.3h1.6v1.6h-1.6zM27.6 0.2h1.3v1.3h-1.3zM6.7 32.6h1.3v1.3h-1.3zM37.4 22.1h1.8v1.8h-1.8zM10.5 15.9h1.8v1.8h-1.8zM51.5 32.4h1.4v1.4h-1.4zM18 24.7h1.3v1.3h-1.3zM24.8 13.3h1.2v1.2h-1.2zM21.1 10.1h1.6v1.6h-1.6zM25.3 1.6h1.5v1.5h-1.5zM63.3 35.3h1.9v1.9h-1.9zM52.6 29.7h1.6v1.6h-1.6zM24 8.8h1.8v1.8h-1.8zM35.5 18h1.3v1.3h-1.3zM0.5 7.9h1.8v1.8h-1.8zM47.9 10h1.2v1.2h-1.2zM54.5 28.1h1.5v1.5h-1.5zM23.1 -0.1h1.1v1.1h-1.1zM4 24.2h1.7v1.7h-1.7zM21.4 43.9h1.6v1.6h-1.6zM59.4 48.9h1.5v1.5h-1.5zM24.4 5.3h1.3v1.3h-1.3zM28.2 20.7h1.2v1.2h-1.2zM27.1 19.2h1.9v1.9h-1.9zM0.1 41.3h1.7v1.7h-1.7zM4.4 24.3h1.4v1.4h-1.4zM12.3 8.1h1.1v1.1h-1.1zM22 19.2h1.6v1.6h-1.6zM16.1 31h1.4v1.4h-1.4zM62.5 26.5h1.4v1.4h-1.4zM12.7 38h1.5v1.5h-1.5zM18.2 18.5h1.4v1.4h-1.4zM54.3 36.6h1.9v1.9h-1.9zM63.6 34.4h1.4v1.4h-1.4zM30.9 27.6h1.9v1.9h-1.9zM63.9 37.2h1.2v1.2h-1.2zM63.3 24.2h1.3v1.3h-1.3zM51.4 35h1.7v1.7h-1.7zM57.7 25.8h1.2v1.2h-1.2zM5.1 17.7h1.9v1.9h-1.9zM42.5 46.5h1.3v1.3h-1.3zM51.3 4.2h1.5v1.5h-1.5zM23.4 27.2h1.3v1.3h-1.3zM57 34.9h1.2v1.2h-1.2zM1.8 34.9h1.3v1.3h-1.3zM0.5 29.8h1.5v1.5h-1.5zM45.5 48.2h1.3v1.3h-1.3zM61.8 43.2h1.9v1.9h-1.9zM46.3 42.6h1.1v1.1h-1.1zM35.7 41.1h1.2v1.2h-1.2zM13.3 38.4h1.7v1.7h-1.7zM14.4 4.7h1.9v1.9h-1.9zM0.2 41.8h1.3v1.3h-1.3zM35.3 18.1h1.4v1.4h-1.4zM7.8 41.2h1.8v1.8h-1.8zM25.7 4.8h1.5v1.5h-1.5z"/>
<path transform="translate(315,219.6)" fill="#4080c0" d="M33.4 27.5h1.3v1.3h-1.3zM63.8 32.9h1.9v1.9h-1.9zM63.1 46.3h1.3v1.3h-1.3zM17.5 37.1h1.1v1.1h-1.1zM43.5 37.3h1.7v1.7h-1.7zM25.8 4.4h1.8v1.8h-1.8zM4.4 37.3h1.2v1.2h-1.2zM52 0h1.7v1.7h-1.7zM30.5 25h1.5v1.5h-1.5zM58.9 24.8h1.4v1.4h-1.4zM27.7 13.7h1.8v1.8h-1.8zM5.6 11.1h1.7v1.7h-1.7zM11.1 47.3h1.9v1.9h-1.9zM22.7 3.8h1.3v1.3h-1.3zM15.8 32.9h1.2v1.2h-1.2zM21.3 25.9h1.2v1.2h-1.2zM12.9 1.9h1.6v1.6h-1.6zM9.1 47.3h1.4v1.4h-1.4zM17.3 20.3h1.7v1.7h-1.7zM29.4 14h1.2v1.2h-1.2zM24.7 25.7h1.4v1.4h-1.4zM36.5 14.8h1.4v1.4h-1.4zM-0.1 42.8h1.9v1.9h-1.9zM42.9 21.4h1.1v1.1h-1.1zM27.2 11.4h1.2v1.2h-1.2zM15.3 38.9h1.4v1.4h-1.4zM6.3 33.5h1.7v1.7h-1.7zM58.6 27.4h1.2v1.2h-1.2zM38.4 36h1.7v1.7h-1.7zM53.9 48.3h1.8v1.8h-1.8zM-0.5 35.9h1.9v1.9h-1.9zM59 5.7h1.6v1.6h-1.6zM20.9 3.7h1.6v1.6h-1.6zM36.1 30.3h1.6v1.6h-1.6zM25.7 4.8h1.1v1.1h-1.1zM21.3 10.8h1.2v1.2h-1.2zM7.8 35.9h1.4v1.4h-1.4zM1.3 20.9h1.7v1.7h-1.7zM24 15.1h1.2v1.2h-1.2zM6.2 10.4h1.4v1.4h-1.4zM2.5 38.5h1.5v1.5h-1.5zM21 21.7h1.4v1.4h-1.4zM3.7 26.1h1.1v1.1h-1.1zM42 20h1.3v1.3h-1.3zM1.4 13.1h1.6v1.6h-1.6zM2.2 40.3h1.6v1.6h-1.6zM7.3 9.4h1.3v1.3h-1.3zM44 43.2h1.6v1.6h-1.6zM33.8 31.5h1.8v1.8h-1.8zM52.3 46.3h1.6v1.6h-1.6zM39.5 46.6h1.8v1.8h-1.8zM35.3 14.2h1.7v1.7h-1.7zM7.6 27.8h1.6v1.6h-1.6zM41.3 2.7h1.5v1.5h-1.5zM17.3 35.9h1.4v1.4h-1.4zM20.3 13.1h1.7v1.7h-1.7zM45 40.2h1.4v1.4h-1.4zM15.4 14.2h1.6v1.6h-1.6zM4.7 41.4h1.4v1.4h-1.4zM26.4 25.7h1.8v1.8h-1.8zM56.8 32.6h1.7v1.7h-1.7zM13.3 12.8h1.7v1.7h-1.7zM7.1 10h1.2v1.2h-1.2zM5.4 34.7h1.4v1.4h-1.4zM5.1 25.7h1.4v1.4h-1.4zM14.9 40.7h1.7v1.7h-1.7zM58.6 26h1.3v1.3h-1.3zM0.9 20.1h1.2v1.2h-1.2zM17.5 5.6h1.9v1.9h-1.9zM1.5 40.6h1.2v1.2h-1.2zM2.3 38.4h1.6v1.6h-1.6zM31.2 22.2h1.7v1.7h-1.7zM16.7 45.1h1.6v1.6h-1.6zM53.9 31.4h1.6v1.6h-1.6zM62.4 20.2h1.4v1.4h-1.4zM3 40.1h1.9v1.9h-1.9zM32.6 27.4h1.5v1.5h-1.5zM14.2 12.8h1.9v1.9h-1.9zM7.3 14.2h1.2v1.2h-1.2zM9.5 46.2h1.4v1.4h-1.4zM10.6 4.3h1.8v1.8h-1.8zM14.5 34.3h1.5v1.5h-1.5zM50.5 41.6h1.7v1.7h-1.7zM20.8 43h1.8v1.8h-1.8zM36.9 30.8h1.4v1.4h-1.4zM10.8 39.5h1.7v1.7h-1.7zM25.9 10h1.8v1.8h-1.8zM12.4 15.6h1.3v1.3h-1.3zM11 29.3h1.3v1.3h-1.3zM3.6 13.3h1.6v1.6h-1.6zM7.7 23.2h1.9v1.9h-1.9zM17.9 34.9h1.2v1.2h-1.2zM62.7 20.2h1.2v1.2h-1.2zM3.9 12h1.8v1.8h-1.8zM31 24.7h1.2v1.2h-1.2zM21.5 7.5h1.2v1.2h-1.2zM3.8 26.5h1.5v1.5h-1.5zM37.4 30.9h1.5v1.5h-1.5zM61 42.8h1.1v1.1h-1.1zM51.4 4.1h1.3v1.3h-1.3zM30.3 48.9h1.6v1.6h-1.6zM2.4 42h1.2v1.2h-1.2zM33.7 24.8h1.8v1.8h-1.8zM36.3 16h1.1v1.1h-1.1zM9.7 35.9h1.7v1.7h-1.7zM63.6 22.5h1.9v1.9h-1.9zM0.2 11.9h1.7v1.7h-1.7zM3.6 17.8h1.6v1.6h-1.6zM54.4 -0.5h1.3v1.3h-1.3zM61.7 43.1h1.8v1.8h-1.8zM44.3 43.1h1.8v1.8h-1.8zM30.2 27.8h1.9v1.9h-1.9zM24.6 48.9h1.2v1.2h-1.2zM47.8 43.7h1.5v1.5h-1.5zM20.5 0.8h1.6v1.6h-1.6zM30.1 17.7h1.2v1.2h-1.2zM18.6 35.1h1.8v1.8h-1.8zM21.7 9.6h1.2v1.2h-1.2zM54.3 31.3h1.5v1.5h-1.5zM15.8 36.7h1.1v1.1h-1.1zM56.8 36.6h1.8v1.8h-1.8zM22 27.6h1.8v1.8h-1.8zM47 47.8h1.4v1.4h-1.4zM63.5 39.5h1.6v1.6h-1.6zM36.6 15.6h1.7v1.7h-1.7zM15.7 12.7h1.2v1.2h-1.2zM59.2 29.8h1.3v1.3h-1.3zM34.4 34.9h1.3v1.3h-1.3zM-0.7 45.3h1.7v1.7h-1.7zM54.6 1h1.8v1.8h-1.8zM38.2 17.8h1.2v1.2h-1.2zM41.4 15.2h1.5v1.5h-1.5zM56.3 0.5h1.3v1.3h-1.3z"/>
<path transform="translate(315,219.6)" fill="#5c96cc" d="M48.7 39h1.4v1.4h-1.4zM45.8 0.9h1.4v1.4h-1.4zM17.8 23.8h1.5v1.5h-1.5zM48.8 36.3h1.7v1.7h-1.7zM20.6 43.2h1.3v1.3h-1.3zM61.6 33.1h1.1v1.1h-1.1zM51 34.8h1.6v1.6h-1.6zM5.5 39.7h1.1v1.1h-1.1zM61.6 5.3h1.3v1.3h-1.3zM-0.6 0.3h1.8v1.8h-1.8zM7.2 30.1h1.6v1.6h-1.6zM45.2 43.7h1.5v1.5h-1.5zM44.7 19.4h1.7v1.7h-1.7zM2.6 12.9h1.7v1.7h-1.7zM35.3 39.4h1.7v1.7h-1.7zM24.1 22.7h1.2v1.2h-1.2zM4.3 40.7h1.4v1.4h-1.4zM51.1 31h1.1v1.1h-1.1zM22.5 16.2h1.2v1.2h-1.2zM28 31.4h1.4v1.4h-1.4zM36.8 35.9h1.7v1.7h-1.7zM8.6 9.7h1.2v1.2h-1.2zM14.6 29.7h1.9v1.9h-1.9zM3.5 21.7h1.2v1.2h-1.2zM29.9 30.3h1.5v1.5h-1.5zM56 43h1.4v1.4h-1.4zM40.2 21.6h1.6v1.6h-1.6zM58.5 6.7h1.8v1.8h-1.8zM39.3 45.5h1.6v1.6h-1.6zM14.2 12.9h1.5v1.5h-1.5zM25.5 24.3h1.6v1.6h-1.6zM4.9 10.1h1.3v1.3h-1.3zM31.2 20.2h1.5v1.5h-1.5zM6.8 39.9h1.5v1.5h-1.5zM34 27.4h1.8v1.8h-1.8zM51.8 42.6h1.8v1.8h-1.8zM62.9 10.7h1.5v1.5h-1.5zM37.4 46.1h1.2v1.2h-1.2zM23.1 26.2h1.9v1.9h-1.9zM60.3 4.6h1.3v1.3h-1.3zM17.5 45.5h1.2v1.2h-1.2zM30.7 32.1h1.7v1.7h-1.7zM6.6 33.3h1.2v1.2h-1.2zM41.9 6.5h1.5v1.5h-1.5zM0.1 27.1h1.2v1.2h-1.2zM10.8 28.9h1.8v1.8h-1.8zM15.3 16.8h1.8v1.8h-1.8zM27.7 21.9h1.2v1.2h-1.2zM41.7 6.3h1.6v1.6h-1.6zM-0.4 43.3h1.6v1.6h-1.6zM36.1 28h1.2v1.2h-1.2zM7.5 17.4h1.7v1.7h-1.7zM25.8 47.3h1.4v1.4h-1.4zM2.5 16.5h1.4v1.4h-1.4zM43.1 16.9h1.1v1.1h-1.1zM35.4 47.1h1.2v1.2h-1.2zM19 13h1.5v1.5h-1.5zM44.5 43.6h1.3v1.3h-1.3zM61.8 41.1h1.7v1.7h-1.7zM56.2 42.6h1.7v1.7h-1.7zM15.1 40.8h1.3v1.3h-1.3zM20.6 17.9h1.7v1.7h-1.7zM45.9 9.5h1.4v1.4h-1.4zM59.9 2.2h1.1v1.1h-1.1zM58.4 30.9h1.8v1.8h-1.8zM61.4 9.1h1.8v1.8h-1.8zM63.5 43.5h1.9v1.9h-1.9zM-0.3 13.6h1.6v1.6h-1.6zM19.7 12.3h1.5v1.5h-1.5zM50.6 31.4h1.7v1.7h-1.7zM44.4 38.2h1.9v1.9h-1.9zM49.9 0.6h1.3v1.3h-1.3zM14 11.7h1.7v1.7h-1.7zM59.7 7.3h1.7v1.7h-1.7zM51 28.3h1.3v1.3h-1.3zM11.4 38.4h1.8v1.8h-1.8zM22.6 15.4h1.7v1.7h-1.7zM39.3 -0.6h1.9v1.9h-1.9zM40.4 0.4h1.6v1.6h-1.6zM25.9 3.5h1.8v1.8h-1.8zM19.6 15.6h1.3v1.3h-1.3zM54.4 37.5h1.6v1.6h-1.6zM20.9 12.8h1.5v1.5h-1.5zM63.5 20.5h1.3v1.3h-1.3zM57 38.6h1.8v1.8h-1.8zM62.1 30.5h1.9v1.9h-1.9zM33.8 44.8h1.3v1.3h-1.3zM14.7 20.6h1.3v1.3h-1.3zM62.2 34.4h1.6v1.6h-1.6zM20.6 17.1h1.8v1.8h-1.8zM49.2 40.5h1.4v1.4h-1.4zM21.1 18.7h1.5v1.5h-1.5zM11.8 11.8h1.8v1.8h-1.8zM48.4 7.3h1.8v1.8h-1.8zM34 17.3h1.7v1.7h-1.7zM15.1 44.5h1.7v1.7h-1.7zM28.4 23.8h1.4v1.4h-1.4zM13.2 34.2h1.8v1.8h-1.8zM18.7 12.5h1.7v1.7h-1.7zM-0.8 27h1.8v1.8h-1.8zM33.8 24h1.6v1.6h-1.6zM4.3 33.4h1.7v1.7h-1.7zM43.6 49.1h1.5v1.5h-1.5zM46.3 44.5h1.4v1.4h-1.4zM49.7 46.4h1.9v1.9h-1.9zM53.7 49h1.3v1.3h-1.3zM48.6 37.5h1.8v1.8h-1.8zM11.7 33.2h1.9v1.9h-1.9zM47.4 49.2h1.2v1.2h-1.2zM21 23.5h1.2v1.2h-1.2zM52.9 26.8h1.2v1.2h-1.2zM46.4 2h1.1v1.1h-1.1zM29.8 23.9h1.3v1.3h-1.3zM23.8 18.9h1.9v1.9h-1.9zM25.4 -0.2h1.4v1.4h-1.4zM25.8 6h1.5v1.5h-1.5zM21.7 4.2h1.7v1.7h-1.7zM1.3 16.4h1.4v1.4h-1.4zM35.1 47.9h1.5v1.5h-1.5zM11.2 47.4h1.5v1.5h-1.5zM50.8 0.2h1.6v1.6h-1.6zM54.1 25.8h1.9v1.9h-1.9zM42.7 39.1h1.1v1.1h-1.1zM18.2 0.9h1.4v1.4h-1.4zM4.3 35.6h1.1v1.1h-1.1zM7.8 12.2h1.4v1.4h-1.4zM29.8 24.8h1.8v1.8h-1.8zM2 29.1h1.6v1.6h-1.6zM49.1 35.6h1.9v1.9h-1.9zM63.5 18.1h1.7v1.7h-1.7z"/>
<path transform="translate(315,219.6)" fill="#b8d0e6" d="M47.7 2.4h1.1v1.1h-1.1zM21.5 30h1.7v1.7h-1.7zM25.9 5h1.2v1.2h-1.2zM29.4 14.8h1.4v1.4h-1.4zM34.6 34h1.8v1.8h-1.8zM57.5 49.1h1.1v1.1h-1.1zM34.9 35.2h1.2v1.2h-1.2zM57.9 26h1.6v1.6h-1.6zM48 23.4h1.8v1.8h-1.8zM7.7 33.7h1.8v1.8h-1.8zM47.8 42.8h1.7v1.7h-1.7zM24.4 13.4h1.8v1.8h-1.8zM39.7 36.4h1.7v1.7h-1.7zM8.7 15.1h1.3v1.3h-1.3zM48.5 3.7h1.8v1.8h-1.8zM41.8 43.5h1.8v1.8h-1.8zM15.5 46.6h1.4v1.4h-1.4zM43 2h1.4v1.4h-1.4zM36.8 34.6h1.7v1.7h-1.7zM2.3 21.2h1.1v1.1h-1.1zM43 49.6h1.1v1.1h-1.1zM2 28.9h1.8v1.8h-1.8zM22.1 0.5h1.2v1.2h-1.2zM9.1 20h1.3v1.3h-1.3zM39.1 37.6h1.7v1.7h-1.7zM25.6 24.2h1.7v1.7h-1.7zM36.1 19.5h1.7v1.7h-1.7zM-0.6 37.8h1.4v1.4h-1.4zM10.9 9.2h1.6v1.6h-1.6zM56.4 38.1h1.2v1.2h-1.2zM58.9 48.1h1.6v1.6h-1.6zM21.9 47.2h1.7v1.7h-1.7zM18.5 2.6h1.2v1.2h-1.2zM20.9 45.7h1.5v1.5h-1.5zM49 36.4h1.3v1.3h-1.3zM7.6 11.2h1.5v1.5h-1.5zM-0.1 20.6h1.2v1.2h-1.2zM60.3 36.2h1.1v1.1h-1.1zM62.4 21.6h1.5v1.5h-1.5zM13.9 18.5h1.5v1.5h-1.5zM22.9 48.2h1.6v1.6h-1.6zM34 20.7h1.8v1.8h-1.8zM11.7 18.2h1.2v1.2h-1.2zM46.8 3.4h1.9v1.9h-1.9zM58.3 32.7h1.7v1.7h-1.7zM28.9 46.9h1.7v1.7h-1.7zM55.1 1.9h1.7v1.7h-1.7zM64 33.1h1.4v1.4h-1.4zM-0.6 41.8h1.6v1.6h-1.6zM0.4 7.5h1.4v1.4h-1.4zM22.7 20.5h1.3v1.3h-1.3zM2.6 11.9h1.2v1.2h-1.2zM12.9 46.8h1.5v1.5h-1.5zM7.9 13.1h1.4v1.4h-1.4zM44.9 40.2h1.6v1.6h-1.6zM45.2 13.8h1.3v1.3h-1.3zM-0.5 24.4h1.5v1.5h-1.5zM44.5 39h1.2v1.2h-1.2zM37.7 37h1.5v1.5h-1.5zM37.2 20h1.7v1.7h-1.7zM54.5 43.5h1.2v1.2h-1.2zM47.6 48.4h1.7v1.7h-1.7zM52.2 30.6h1.7v1.7h-1.7zM52.3 26.6h1.7v1.7h-1.7zM42.1 3.3h1.2v1.2h-1.2zM38.9 49h1.8v1.8h-1.8zM60.9 30h1.6v1.6h-1.6zM56.2 37h1.8v1.8h-1.8zM34 21.4h1.2v1.2h-1.2zM50.1 -0h1.5v1.5h-1.5zM24.6 -0.1h1.3v1.3h-1.3zM62.2 5h1.6v1.6h-1.6zM54 36.7h1.7v1.7h-1.7zM18.8 14.7h1.9v1.9h-1.9zM63.1 23.9h1.3v1.3h-1.3zM35.4 16h1.4v1.4h-1.4zM22.7 21.8h1.4v1.4h-1.4zM9.1 37.6h1.9v1.9h-1.9zM47.3 45.1h1.2v1.2h-1.2zM23.7 21.1h1.2v1.2h-1.2zM50.2 29.6h1.5v1.5h-1.5zM15.8 3.1h1.6v1.6h-1.6zM27.6 22.3h1.6v1.6h-1.6zM35.6 16.8h1.4v1.4h-1.4zM-0.3 26.2h1.4v1.4h-1.4zM55.1 26.2h1.8v1.8h-1.8zM38.3 24.6h1.4v1.4h-1.4zM4.1 16.2h1.5v1.5h-1.5zM12.9 27.7h1.9v1.9h-1.9zM62.5 27.2h1.3v1.3h-1.3zM10.6 19.2h1.1v1.1h-1.1zM34.8 33.3h1.9v1.9h-1.9zM2.1 28.3h1.3v1.3h-1.3zM15.7 30.2h1.7v1.7h-1.7zM7.1 17.1h1.2v1.2h-1.2zM62.5 39.6h1.3v1.3h-1.3zM9.5 30h1.7v1.7h-1.7zM10.7 10.1h1.6v1.6h-1.6zM63 17.3h1.3v1.3h-1.3zM63.4 34.9h1.5v1.5h-1.5zM17.2 20.9h1.9v1.9h-1.9zM9.5 31.7h1.6v1.6h-1.6zM55.6 40.8h1.7v1.7h-1.7zM63.3 10.6h1.2v1.2h-1.2zM29.2 49.2h1.7v1.7h-1.7zM25.6 4.3h1.5v1.5h-1.5zM0.2 35.7h1.7v1.7h-1.7zM54.4 35.5h1.4v1.4h-1.4zM29.9 13.8h1.2v1.2h-1.2zM15 43.3h1.5v1.5h-1.5zM38 24.8h1.5v1.5h-1.5zM49.6 45.2h1.3v1.3h-1.3zM15.2 45.2h1.3v1.3h-1.3zM60.9 6.6h1.4v1.4h-1.4zM56.9 35.5h1.7v1.7h-1.7zM34.1 21.2h1.5v1.5h-1.5zM30.5 46.7h1.9v1.9h-1.9zM19.5 43.8h1.1v1.1h-1.1zM42.2 17.7h1.5v1.5h-1.5zM45.3 2.2h1.5v1.5h-1.5zM42.6 21.6h1.8v1.8h-1.8zM44.9 1.9h1.9v1.9h-1.9zM22.4 46h1.3v1.3h-1.3zM23.5 6h1.3v1.3h-1.3zM47.7 6.4h1.6v1.6h-1.6zM46.3 4.9h1.9v1.9h-1.9zM60.2 46.1h1.6v1.6h-1.6zM55.4 1.3h1.7v1.7h-1.7zM46.8 0.1h1.1v1.1h-1.1zM11.9 44.2h1.1v1.1h-1.1zM35.1 21.2h1.2v1.2h-1.2zM13.4 17.3h1.9v1.9h-1.9zM14 14.7h1.7v1.7h-1.7zM37.2 24.3h1.3v1.3h-1.3zM58.3 46.1h1.3v1.3h-1.3zM38.1 22h1.2v1.2h-1.2zM4.3 12.2h1.3v1.3h-1.3zM46.4 11.4h1.7v1.7h-1.7zM16.7 24.2h1.6v1.6h-1.6zM20.6 10.1h1.5v1.5h-1.5zM62 43.1h1.6v1.6h-1.6zM45.7 43.9h1.7v1.7h-1.7zM63.8 43.3h1.4v1.4h-1.4zM19.5 4h1.6v1.6h-1.6zM32.6 20.2h1.1v1.1h-1.1zM49.8 4.7h1.8v1.8h-1.8zM7 17.4h1.8v1.8h-1.8zM58.2 47.6h1.8v1.8h-1.8zM50.1 0.9h1.1v1.1h-1.1zM13.3 45.2h1.3v1.3h-1.3zM6.2 9.5h1.5v1.5h-1.5zM14.5 48.7h1.4v1.4h-1.4zM0.5 11.7h1.3v1.3h-1.3zM19.2 18.1h1.7v1.7h-1.7zM7.7 34.6h1.5v1.5h-1.5zM11.9 35.3h1.3v1.3h-1.3z"/>
<ellipse cx="327.8" cy="244.2" rx="3.3" ry="3.3" fill="#a8bac6"/>
</g>
<clipPath id="c3"><rect x="380.8" y="219.6" width="65.2" height="50.2"/></clipPath>
<g clip-path="url(#c3)">
<rect x="380.8" y="219.6" width="65.2" height="50.2" fill="#b4c8d6" stroke="none" stroke-width="1"/>
<path d="M380 218 L400 218 L396 240 L380 250z" fill="#dde6ea" fill-opacity="0.7"/><path d="M383 222 C386 230 388 236 392 238 C400 243 410 250 420 258" stroke="#7c7048" stroke-opacity="0.35" stroke-width="2" fill="none"/><path d="M392 238 C398 236 404 240 412 246" stroke="#7c7048" stroke-opacity="0.3" stroke-width="1.5" fill="none"/><path d="M384 224 L388 236" stroke="#6e6038" stroke-opacity="0.5" stroke-width="2.5" fill="none"/>
<ellipse cx="390.9" cy="246.3" rx="5.5" ry="5.5" fill="#f0f4f4" stroke="#a8b8c0" stroke-width="0.7"/>
<ellipse cx="416.3" cy="231.8" rx="4" ry="3.8" fill="#f0f4f4" stroke="#a8b8c0" stroke-width="0.7"/>
<ellipse cx="429.4" cy="239" rx="5.5" ry="5" fill="#f0f4f4" stroke="#a8b8c0" stroke-width="0.7"/>
<ellipse cx="438.9" cy="241.3" rx="4" ry="4" fill="#f0f4f4" stroke="#a8b8c0" stroke-width="0.7"/>
<ellipse cx="433" cy="248.5" rx="5.5" ry="6" fill="#f0f4f4" stroke="#a8b8c0" stroke-width="0.7"/>
<path transform="translate(380.8,219.6)" fill="#4a86bc" d="M23.5 29.7h1.3v1.3h-1.3zM45.4 36.4h1.3v1.3h-1.3zM23.8 38h1.6v1.6h-1.6zM18.2 27.8h1.5v1.5h-1.5zM55.2 48h1.5v1.5h-1.5zM35.6 35.3h1.3v1.3h-1.3zM26.9 20.6h1.6v1.6h-1.6zM1.1 49.1h1.5v1.5h-1.5zM25.5 36.2h1.2v1.2h-1.2zM16.6 45.3h1.1v1.1h-1.1zM37.4 33.5h0.9v0.9h-0.9zM21.1 18.5h1v1h-1zM20.1 43.7h1.4v1.4h-1.4zM33.6 32.8h1.4v1.4h-1.4zM28.7 40h1.1v1.1h-1.1zM15.6 38.5h1.5v1.5h-1.5zM49.8 1h1.4v1.4h-1.4zM21.7 39.7h1.5v1.5h-1.5zM25.5 8.4h1.4v1.4h-1.4zM10.3 0.7h1.3v1.3h-1.3zM62.4 10.4h1.2v1.2h-1.2zM11.9 16.1h1.1v1.1h-1.1zM6.3 33.7h1v1h-1zM18.5 42h1.3v1.3h-1.3zM38.5 42.6h1v1h-1zM28.3 18.4h1.3v1.3h-1.3zM29.7 36h1.1v1.1h-1.1zM23.1 38.7h1.3v1.3h-1.3zM13.4 17h1.1v1.1h-1.1zM37.8 1.2h1v1h-1zM19 20.1h1v1h-1zM17.6 7.9h1.2v1.2h-1.2zM11.4 0.8h1v1h-1zM26 43.2h1.3v1.3h-1.3zM33.6 37.8h1.2v1.2h-1.2zM3 24.2h1.2v1.2h-1.2zM20.4 -0.7h1.3v1.3h-1.3zM41.2 36.8h1.2v1.2h-1.2zM48.4 49h1.5v1.5h-1.5zM58.2 7.2h1v1h-1zM62.4 17.5h1v1h-1zM4.8 33.7h0.9v0.9h-0.9zM20.9 48.3h0.9v0.9h-0.9zM0.3 23.3h0.9v0.9h-0.9zM32.7 23.6h0.9v0.9h-0.9zM5.3 47.9h1v1h-1zM62.2 -0.3h1.2v1.2h-1.2zM56.6 37.8h1.3v1.3h-1.3zM32.8 5.2h1.3v1.3h-1.3zM20 21.7h1.1v1.1h-1.1zM21.2 36.5h1.1v1.1h-1.1zM36.2 26.3h1.2v1.2h-1.2zM19.7 17.5h1.5v1.5h-1.5zM21.9 23.5h1.6v1.6h-1.6zM23.2 26.4h1v1h-1zM45.9 31.4h0.9v0.9h-0.9zM41.4 38h1.6v1.6h-1.6zM16.9 14.9h0.9v0.9h-0.9zM14.4 43.8h1.1v1.1h-1.1zM49.3 37.6h1v1h-1zM16 38.2h1.1v1.1h-1.1zM58.3 38.7h0.9v0.9h-0.9zM40.1 0.6h1.4v1.4h-1.4zM26.8 36.9h1v1h-1zM47.7 43.4h1.5v1.5h-1.5zM1.8 12.1h1.1v1.1h-1.1zM9.5 37.6h0.9v0.9h-0.9zM56 11.9h1.1v1.1h-1.1zM14.2 3.2h1.2v1.2h-1.2zM29.7 14h1.2v1.2h-1.2zM50.9 46.1h1.2v1.2h-1.2zM42.5 1.8h1.5v1.5h-1.5zM15.9 49.3h1.5v1.5h-1.5zM20.9 20.9h1.2v1.2h-1.2zM39 3.2h1.2v1.2h-1.2zM35.9 2.7h0.9v0.9h-0.9zM48.3 7.5h0.9v0.9h-0.9zM61.2 42h1.5v1.5h-1.5zM22.7 25.3h1.2v1.2h-1.2zM42.2 40.3h1.1v1.1h-1.1zM39.6 14.2h1.2v1.2h-1.2zM34.8 4.3h1.6v1.6h-1.6zM32 48.4h1.5v1.5h-1.5zM37 44.6h1.1v1.1h-1.1zM48.7 41.8h1v1h-1zM34.2 25.6h1.6v1.6h-1.6zM48.5 5.3h1.3v1.3h-1.3zM48 34h1.2v1.2h-1.2zM12 34.4h1.6v1.6h-1.6zM2.2 27.7h1.5v1.5h-1.5zM43.5 39.9h1.3v1.3h-1.3zM43.6 24.7h1.3v1.3h-1.3zM27 21.7h1.4v1.4h-1.4zM4.3 17.8h1.1v1.1h-1.1zM36.4 32.1h1.5v1.5h-1.5zM30.4 22.6h1v1h-1zM15.2 1.1h1.2v1.2h-1.2zM34.4 16.5h1v1h-1zM15.3 30.3h1.3v1.3h-1.3zM22.5 2.1h1.5v1.5h-1.5zM9.2 48.9h1.2v1.2h-1.2zM30.2 29.8h1v1h-1zM43.4 33.3h1.5v1.5h-1.5zM18.6 7.2h1.2v1.2h-1.2zM51.5 49.6h1v1h-1zM7.2 40.6h1.5v1.5h-1.5zM27.5 26.7h0.9v0.9h-0.9zM3.2 45h1.5v1.5h-1.5zM19.5 15.4h1.6v1.6h-1.6zM33.1 2.2h1.5v1.5h-1.5zM13.6 38.3h1.5v1.5h-1.5zM11.6 38.8h1.2v1.2h-1.2zM13.9 4.1h0.9v0.9h-0.9zM41 10.1h1v1h-1zM55.5 14.6h1v1h-1zM26 7.9h1.1v1.1h-1.1zM13.3 4.3h1.3v1.3h-1.3zM24.4 0h1.5v1.5h-1.5zM48.4 44.2h1.3v1.3h-1.3zM24.4 47.2h1.5v1.5h-1.5zM21.1 40.1h1v1h-1zM31.6 17.5h1.3v1.3h-1.3zM40.1 10.5h1v1h-1zM16.9 26.1h1.3v1.3h-1.3zM54.7 7.5h1.1v1.1h-1.1zM37.6 7.9h1.5v1.5h-1.5zM43.1 27.3h1.5v1.5h-1.5zM43.6 40.5h1.3v1.3h-1.3zM5.8 5.8h1.1v1.1h-1.1zM1.1 9.5h1.2v1.2h-1.2zM33.2 27.6h1.5v1.5h-1.5zM63.4 26.2h1v1h-1zM15.9 32h1.2v1.2h-1.2zM31.4 16.4h1.6v1.6h-1.6zM34.5 38.6h1.1v1.1h-1.1zM26.6 8.8h1.5v1.5h-1.5zM29 28.6h1.2v1.2h-1.2zM39.9 12.9h1.6v1.6h-1.6zM39.1 -0h0.9v0.9h-0.9zM13.3 4h1.6v1.6h-1.6zM14.3 42.9h0.9v0.9h-0.9zM36.4 2.5h1.5v1.5h-1.5zM33.2 25.5h1v1h-1zM40.8 40.9h0.9v0.9h-0.9zM18.6 29h1v1h-1zM6.6 8.4h1.4v1.4h-1.4zM62.6 34.4h1v1h-1zM2.2 2.8h1.2v1.2h-1.2zM2.6 31.9h1.1v1.1h-1.1zM30.3 22.4h1.3v1.3h-1.3zM41.4 30.6h1.3v1.3h-1.3zM15.4 48.8h1.1v1.1h-1.1zM17.9 16h1.4v1.4h-1.4zM17.5 13.7h0.9v0.9h-0.9zM25.7 24h1.2v1.2h-1.2zM47.2 10.9h1.2v1.2h-1.2zM16.2 5h1.1v1.1h-1.1zM21.4 41.7h1.6v1.6h-1.6zM17 -0.5h1v1h-1zM61 37.9h1.4v1.4h-1.4zM34.6 17.7h1.4v1.4h-1.4zM27.2 36.6h1v1h-1zM21.9 32.1h1v1h-1zM31 28.6h1.1v1.1h-1.1zM30.9 23.5h1.2v1.2h-1.2zM26.1 34h1.3v1.3h-1.3zM55.3 44.7h1.3v1.3h-1.3zM12.8 12.3h1.2v1.2h-1.2zM12.3 0.7h1.4v1.4h-1.4z"/>
<path transform="translate(380.8,219.6)" fill="#dce6ec" d="M35.3 19.4h1v1h-1zM43.9 46.1h1.1v1.1h-1.1zM9.6 1.6h1.1v1.1h-1.1zM22.9 6.4h1.2v1.2h-1.2zM43.8 4.5h1.3v1.3h-1.3zM9.4 -0.5h1.5v1.5h-1.5zM62.6 26.4h1.4v1.4h-1.4zM7.3 11.5h1v1h-1zM36.7 19.5h1.1v1.1h-1.1zM52.9 42.5h1v1h-1zM7.4 2.7h1.4v1.4h-1.4zM2.8 30.8h1.4v1.4h-1.4zM23.6 44.3h1.5v1.5h-1.5zM7.2 34h1.4v1.4h-1.4zM-0.3 6.6h1.2v1.2h-1.2zM10.9 0.4h1.5v1.5h-1.5zM61.6 28.6h1v1h-1zM22.8 15.4h1.5v1.5h-1.5zM29.8 41.2h1.4v1.4h-1.4zM43.1 46.9h1.1v1.1h-1.1zM16.8 18.7h1v1h-1zM28.4 19.9h1.2v1.2h-1.2zM44.5 6h1.5v1.5h-1.5zM25.7 48.2h1v1h-1zM28.4 8.8h0.9v0.9h-0.9zM63.2 46.5h1.6v1.6h-1.6zM21 44.6h1.2v1.2h-1.2zM34.9 26.2h1.5v1.5h-1.5zM26.3 10.8h1.4v1.4h-1.4zM10.6 37.1h1.2v1.2h-1.2zM35.9 20.3h1.5v1.5h-1.5zM20.3 43.8h1v1h-1zM10.8 3.2h1.5v1.5h-1.5zM28.3 4.8h1.6v1.6h-1.6zM34.8 17.5h1.1v1.1h-1.1zM18.8 11.5h1.3v1.3h-1.3zM64.2 7.6h1.5v1.5h-1.5zM15.4 6.1h1.5v1.5h-1.5zM42.6 45.8h1.6v1.6h-1.6zM11.3 33.7h1.3v1.3h-1.3zM20 25.7h1.1v1.1h-1.1zM32.9 44.3h1.4v1.4h-1.4zM40.5 5.5h1.5v1.5h-1.5zM30.6 26.2h1v1h-1zM47.3 40.9h1.5v1.5h-1.5zM22.1 -0.4h1.6v1.6h-1.6zM11 40.5h1.5v1.5h-1.5zM28.6 35.7h1.1v1.1h-1.1zM54.4 15.4h0.9v0.9h-0.9zM31.8 18.6h1.4v1.4h-1.4zM3 38.9h1.2v1.2h-1.2zM44.1 10.5h1.3v1.3h-1.3zM30.4 26.3h1.5v1.5h-1.5zM12.5 3.9h1.6v1.6h-1.6zM34.5 48.8h1.5v1.5h-1.5zM14 48.9h1.1v1.1h-1.1zM21.7 4.7h1.4v1.4h-1.4zM41.3 10.1h1v1h-1zM37.7 31.5h0.9v0.9h-0.9zM16.5 23.5h1v1h-1zM46.9 4.6h1.2v1.2h-1.2zM61.2 14.2h1v1h-1zM54.1 46.3h1.1v1.1h-1.1zM42.8 4.8h1.2v1.2h-1.2zM10.5 -0.5h1v1h-1zM24.3 25.3h1.2v1.2h-1.2zM55.7 8h1.6v1.6h-1.6zM24.1 4.7h1.3v1.3h-1.3zM41.5 0.1h1.3v1.3h-1.3zM21.4 38h1v1h-1zM25.3 7.7h1.1v1.1h-1.1zM18.3 32.5h1.3v1.3h-1.3zM15.7 42.7h1.1v1.1h-1.1zM3.3 45.8h0.9v0.9h-0.9zM25.3 43.5h1.1v1.1h-1.1zM23.9 4.6h1.4v1.4h-1.4zM12.1 36.1h1.2v1.2h-1.2zM13.4 11.1h1.3v1.3h-1.3zM26.2 41.8h1.5v1.5h-1.5zM16 46h1.6v1.6h-1.6zM29.8 42.6h1.6v1.6h-1.6zM1.2 18.8h1.1v1.1h-1.1zM11.2 5.4h1.1v1.1h-1.1zM61.9 3.3h1.3v1.3h-1.3zM9.4 -0.4h1.2v1.2h-1.2zM58.5 45h1.4v1.4h-1.4zM53.4 8h1.2v1.2h-1.2zM35.8 44.6h1v1h-1zM11.8 40.6h1.3v1.3h-1.3zM62.9 36.2h1.3v1.3h-1.3zM40.9 15.7h1.1v1.1h-1.1zM64.5 42.4h1.1v1.1h-1.1zM44.7 48.1h1v1h-1zM27.1 35h1.2v1.2h-1.2zM17.7 13.6h1.4v1.4h-1.4zM42.3 12.3h1.1v1.1h-1.1zM62 47.9h1.2v1.2h-1.2zM11.4 11.9h1.1v1.1h-1.1zM49.7 -0.5h1v1h-1zM50 9.5h1.2v1.2h-1.2zM62.3 6h0.9v0.9h-0.9zM0.9 21.7h1.2v1.2h-1.2zM52.4 11.7h1.3v1.3h-1.3zM23.7 41.5h0.9v0.9h-0.9zM23.7 49.5h1.3v1.3h-1.3zM18.2 40.9h1.3v1.3h-1.3zM39 19h1.1v1.1h-1.1zM45.7 41.1h0.9v0.9h-0.9zM29.1 36.1h1.3v1.3h-1.3zM17 26.2h1.1v1.1h-1.1zM28.7 26.6h1.3v1.3h-1.3zM63.8 4.4h1.5v1.5h-1.5zM17.6 37.6h1.2v1.2h-1.2zM34.1 17.4h1.3v1.3h-1.3zM6.9 34.2h1.1v1.1h-1.1zM40.4 16.4h1.1v1.1h-1.1zM1.1 13.4h1.5v1.5h-1.5zM10.1 18.2h1.5v1.5h-1.5zM28.6 37.9h1.3v1.3h-1.3zM64.3 2.9h1.6v1.6h-1.6zM18.8 43.6h1v1h-1zM6 40.1h1.1v1.1h-1.1zM56.8 34.5h0.9v0.9h-0.9zM63.6 25.1h0.9v0.9h-0.9zM8.7 17.2h1.5v1.5h-1.5zM5 41.9h1.1v1.1h-1.1zM35.5 5.4h1.2v1.2h-1.2zM39 28.6h1.5v1.5h-1.5zM19.9 -0.4h1.6v1.6h-1.6zM41.7 1.1h1v1h-1zM58.5 31.9h1.5v1.5h-1.5zM63.6 22.7h1.4v1.4h-1.4zM57 40.8h1v1h-1zM17.6 41.4h0.9v0.9h-0.9zM46.8 45.4h1.1v1.1h-1.1zM14.6 6.3h1.1v1.1h-1.1zM14.1 32.8h1.6v1.6h-1.6zM53.7 49.4h1.2v1.2h-1.2zM13.9 18.2h1v1h-1zM57.4 -0.1h1.1v1.1h-1.1zM55.3 44.1h1.5v1.5h-1.5zM53.1 43.7h1.1v1.1h-1.1zM13.9 20.2h0.9v0.9h-0.9zM54 8.7h1.5v1.5h-1.5zM27.8 6.4h1.2v1.2h-1.2zM32.4 46h1.1v1.1h-1.1zM6.7 18.4h1.1v1.1h-1.1zM22 22.8h1.4v1.4h-1.4zM8.4 48.8h0.9v0.9h-0.9zM40.8 47.9h1.2v1.2h-1.2zM1.1 -0.1h1.2v1.2h-1.2zM30.5 38.6h1.2v1.2h-1.2zM21.5 35.9h1.2v1.2h-1.2zM52 5.9h1.2v1.2h-1.2zM31.7 24.5h1.3v1.3h-1.3zM28.9 40.8h1.5v1.5h-1.5zM46.2 9.2h1v1h-1zM41.4 1h1.3v1.3h-1.3zM52.5 41.6h1.3v1.3h-1.3zM4.9 18.7h1.1v1.1h-1.1zM6.7 42.9h0.9v0.9h-0.9zM42.3 4.2h0.9v0.9h-0.9zM13.9 43.7h1.5v1.5h-1.5zM24.2 42.8h1.2v1.2h-1.2zM47.1 3.8h1.1v1.1h-1.1zM53.2 45.8h1.1v1.1h-1.1zM19.2 23.8h1v1h-1zM27.3 29.5h1.1v1.1h-1.1zM-0.4 23h0.9v0.9h-0.9zM54.4 45.2h1v1h-1zM58 9.3h1v1h-1zM38.5 18.8h1.5v1.5h-1.5zM45.3 47.9h1.2v1.2h-1.2zM23.4 17.1h1v1h-1zM19.6 18h1.2v1.2h-1.2zM11.6 9.1h1.1v1.1h-1.1zM30.6 6.5h1.3v1.3h-1.3zM54.3 9h0.9v0.9h-0.9zM1.6 10.8h1v1h-1zM38.3 39.9h1.3v1.3h-1.3zM54.7 8.6h1.4v1.4h-1.4zM44.4 12.7h1v1h-1zM8.8 37.6h1v1h-1zM55.6 7.4h1.2v1.2h-1.2zM41.8 34.6h1.5v1.5h-1.5zM27.9 40.9h1v1h-1zM60.4 32.3h1.2v1.2h-1.2zM45.1 1.9h0.9v0.9h-0.9zM40.8 21.8h1.4v1.4h-1.4zM5.3 42.3h1v1h-1zM51.5 6.2h1.4v1.4h-1.4zM36.9 26.7h1.4v1.4h-1.4zM58.4 48.8h1.2v1.2h-1.2zM17.4 12.2h1.2v1.2h-1.2zM40.6 32.7h1.3v1.3h-1.3zM34.9 47.9h1.3v1.3h-1.3zM18.4 48.2h1.3v1.3h-1.3zM29.4 12.7h1.2v1.2h-1.2zM36.8 26.8h1.2v1.2h-1.2zM7.4 37.3h1.2v1.2h-1.2zM49.8 8.3h1.1v1.1h-1.1zM32.6 38.6h1.1v1.1h-1.1zM36.3 47.7h1.5v1.5h-1.5zM64.2 43.2h1v1h-1z"/>
<path transform="translate(380.8,219.6)" fill="#a8c4dc" d="M40.8 43h1.2v1.2h-1.2zM62.4 44.9h1v1h-1zM42.2 31.2h1.1v1.1h-1.1zM26.4 5.3h1.3v1.3h-1.3zM19.6 3.2h1.3v1.3h-1.3zM0.2 20.3h1.1v1.1h-1.1zM44.1 6.1h1.1v1.1h-1.1zM41.8 4.3h1.1v1.1h-1.1zM13.9 5.3h1.6v1.6h-1.6zM20 41.5h1v1h-1zM15 0.4h1.2v1.2h-1.2zM22.2 9.1h1.5v1.5h-1.5zM22.3 31.9h1.1v1.1h-1.1zM24 39.5h1.5v1.5h-1.5zM13.8 13.1h1v1h-1zM64.3 27.6h1.4v1.4h-1.4zM6.5 37.1h0.9v0.9h-0.9zM26.4 27.8h1.4v1.4h-1.4zM48 45.2h1.6v1.6h-1.6zM42.2 5.7h1v1h-1zM21 35.6h1.2v1.2h-1.2zM52.5 36.9h1.3v1.3h-1.3zM55.4 39.4h1.3v1.3h-1.3zM23.3 18h1.2v1.2h-1.2zM9.8 0.5h1.2v1.2h-1.2zM43.8 48h1.3v1.3h-1.3zM21.8 40.5h1.4v1.4h-1.4zM11.8 37.1h1.4v1.4h-1.4zM26.5 46.8h1.6v1.6h-1.6zM62.5 17.8h0.9v0.9h-0.9zM16.2 13.7h1v1h-1zM12.5 3.5h1v1h-1zM16.8 23.6h1.3v1.3h-1.3zM2.7 47.7h1v1h-1zM9 5.9h1v1h-1zM54 5.8h1.6v1.6h-1.6zM9.6 5.5h1.4v1.4h-1.4zM37.2 15.7h1.3v1.3h-1.3zM18.8 8.5h1.3v1.3h-1.3zM40 25.7h0.9v0.9h-0.9zM26.5 26.9h1.4v1.4h-1.4zM41.9 43.3h1.2v1.2h-1.2zM13.4 16.5h1v1h-1zM62 2.1h0.9v0.9h-0.9zM60.2 25.6h1.5v1.5h-1.5zM63.5 32.7h1.1v1.1h-1.1zM36.9 16.7h1v1h-1zM0.4 8.1h1.5v1.5h-1.5zM31 19.8h1.2v1.2h-1.2zM42.8 5.3h1.3v1.3h-1.3zM59.6 43h1.1v1.1h-1.1zM43 13h1v1h-1zM27.3 27.8h1.2v1.2h-1.2zM51.9 12.4h1.1v1.1h-1.1zM23.6 1.5h1.3v1.3h-1.3zM13.2 -0h1.2v1.2h-1.2zM5.7 45.7h1.6v1.6h-1.6zM19.3 25.4h1.6v1.6h-1.6zM34.1 38.1h1v1h-1zM16 43.7h1.3v1.3h-1.3zM30.6 24.6h1.2v1.2h-1.2zM19.2 10.3h1v1h-1zM34.2 19.3h1.1v1.1h-1.1zM22 32.3h1.1v1.1h-1.1zM7.5 8.2h1v1h-1zM3.9 44.2h1.1v1.1h-1.1zM30.3 34.4h1.1v1.1h-1.1zM46.2 8.9h1v1h-1zM54.7 43.6h0.9v0.9h-0.9zM43.4 43.2h1.4v1.4h-1.4zM26 23h1.4v1.4h-1.4zM38.1 19.7h1.2v1.2h-1.2zM2.9 31.5h1.4v1.4h-1.4zM6.1 15.9h0.9v0.9h-0.9zM18.5 30.7h1.3v1.3h-1.3zM35 33.5h1.1v1.1h-1.1zM3.3 20.6h1.2v1.2h-1.2zM49.3 7.9h1.2v1.2h-1.2zM22.2 43.7h1.4v1.4h-1.4zM3.4 43.1h1.1v1.1h-1.1zM24.9 3.6h1v1h-1zM44.2 32.8h0.9v0.9h-0.9zM36.1 48.9h1.2v1.2h-1.2zM30.9 43h1.2v1.2h-1.2zM2.2 23.4h1.2v1.2h-1.2zM20.6 21.9h0.9v0.9h-0.9zM56.4 6h1.1v1.1h-1.1zM64.4 18h1.1v1.1h-1.1zM33.9 6.8h1v1h-1zM0.1 41.2h1.1v1.1h-1.1zM38.2 0.9h1.1v1.1h-1.1zM3.5 49.5h1.3v1.3h-1.3zM43.6 42h1.6v1.6h-1.6zM35.4 18.2h1.3v1.3h-1.3zM56.2 46.7h1v1h-1zM60.9 37.6h1.5v1.5h-1.5zM34.8 5.3h0.9v0.9h-0.9zM55.2 44.2h1.2v1.2h-1.2zM48 47.9h1.5v1.5h-1.5zM55.8 40.5h1.1v1.1h-1.1zM30.8 48.7h1.3v1.3h-1.3zM38.4 23.9h1v1h-1zM7.2 11h0.9v0.9h-0.9zM13.3 11.3h1.4v1.4h-1.4zM19.2 8.6h1.6v1.6h-1.6zM30 20.5h1.3v1.3h-1.3zM1.9 20.1h1.2v1.2h-1.2zM14.1 11.9h1.2v1.2h-1.2zM41.2 3.7h1.5v1.5h-1.5zM63.9 23.2h1.1v1.1h-1.1zM30 28.6h1.6v1.6h-1.6zM38.9 7h1.1v1.1h-1.1zM34.9 2.1h1.1v1.1h-1.1zM14.5 8h1.5v1.5h-1.5zM25.4 3.3h1.3v1.3h-1.3zM35 44.1h1v1h-1zM56.6 37.1h1.2v1.2h-1.2zM53.2 44.8h1.3v1.3h-1.3zM31.7 17.3h1.2v1.2h-1.2zM3.9 37h1v1h-1zM55.4 8.3h1.4v1.4h-1.4zM35 38.6h1.1v1.1h-1.1zM10.8 17.6h1.4v1.4h-1.4zM27.3 36.4h1.2v1.2h-1.2zM8.5 32.7h1.6v1.6h-1.6zM21.8 49.2h1v1h-1zM46.2 34.9h0.9v0.9h-0.9zM59.2 14.9h1.1v1.1h-1.1zM19.3 25.1h1.6v1.6h-1.6zM62.4 42.6h1.4v1.4h-1.4zM14.5 30.9h1.1v1.1h-1.1zM0.2 42.1h1.3v1.3h-1.3zM50.3 46.5h1.1v1.1h-1.1zM49.2 39.8h1.3v1.3h-1.3zM0.1 3.4h1.2v1.2h-1.2zM47.8 45.2h1.5v1.5h-1.5zM58.2 0.3h1.4v1.4h-1.4zM19.7 13.5h1.2v1.2h-1.2zM19.3 47.6h1.1v1.1h-1.1zM35.5 25.4h1.3v1.3h-1.3zM39.4 47.1h1.4v1.4h-1.4zM5.3 42.4h1.2v1.2h-1.2zM40.6 9.3h1v1h-1zM19.3 4.5h1.6v1.6h-1.6zM18 26.8h1.5v1.5h-1.5zM44.4 45.2h1.5v1.5h-1.5zM58.8 5.9h1.1v1.1h-1.1zM42.4 12.4h1.3v1.3h-1.3zM0.7 37.1h1.5v1.5h-1.5zM37.7 47.7h1.5v1.5h-1.5zM61.2 25h1.5v1.5h-1.5zM32 42.5h1.5v1.5h-1.5zM26.6 49.3h1.4v1.4h-1.4zM50 0.4h1v1h-1zM26.2 18.7h1v1h-1zM60.8 2.4h1.3v1.3h-1.3zM35.3 26.6h1.5v1.5h-1.5zM57.6 49.1h1.2v1.2h-1.2zM4.1 34.8h1.1v1.1h-1.1zM44.3 32.2h1v1h-1zM35.9 38.9h1.5v1.5h-1.5zM22.7 10h1.5v1.5h-1.5zM18.4 33.6h1.6v1.6h-1.6zM36.7 44.1h1.1v1.1h-1.1zM13.3 46.2h1.1v1.1h-1.1zM29.2 20.1h1.1v1.1h-1.1zM36.4 -0.2h1v1h-1zM2.4 26.9h1.1v1.1h-1.1zM44.4 47.7h1.1v1.1h-1.1zM46.4 8h1v1h-1zM17.4 33.3h1.4v1.4h-1.4zM62.8 46.5h1.1v1.1h-1.1zM22.5 33.9h1.2v1.2h-1.2zM40.3 7.2h1v1h-1zM26.6 23.1h1.2v1.2h-1.2zM41 -0.4h1.3v1.3h-1.3zM24.7 40.4h0.9v0.9h-0.9zM55.6 7.5h1.3v1.3h-1.3zM30.9 33h1.3v1.3h-1.3zM48.3 44.3h1.1v1.1h-1.1zM7.6 12.2h0.9v0.9h-0.9zM4.8 49.1h1.6v1.6h-1.6zM27.4 10.9h1.5v1.5h-1.5zM20.4 32.4h1.6v1.6h-1.6zM62.4 24.9h1.5v1.5h-1.5z"/>
<path transform="translate(380.8,219.6)" fill="#6c9cc8" d="M0.3 38.3h1.4v1.4h-1.4zM34.1 19.7h1.5v1.5h-1.5zM59.3 13.2h1.6v1.6h-1.6zM27.3 35.4h1.6v1.6h-1.6zM51.7 11.3h1.4v1.4h-1.4zM62.1 26.6h1.5v1.5h-1.5zM0.2 36.8h1.3v1.3h-1.3zM33 24h1.1v1.1h-1.1zM20.3 27.5h1.6v1.6h-1.6zM9.7 19.6h1v1h-1zM37.7 42.5h1.1v1.1h-1.1zM37.6 48.8h1.1v1.1h-1.1zM17 39.9h1v1h-1zM3.8 10.2h1.4v1.4h-1.4zM43.6 27.8h1.4v1.4h-1.4zM33.4 22.4h1.4v1.4h-1.4zM6.8 13.7h1v1h-1zM60.6 17.5h1.2v1.2h-1.2zM4.6 31.9h1.4v1.4h-1.4zM63.1 46.3h1.3v1.3h-1.3zM0.2 11h1.1v1.1h-1.1zM27.5 3.7h1.1v1.1h-1.1zM48.1 9.6h1.5v1.5h-1.5zM3.3 23h1.4v1.4h-1.4zM12.3 38.8h1v1h-1zM0.3 30.9h1.3v1.3h-1.3zM10 1.7h1.6v1.6h-1.6zM12 45.5h1.4v1.4h-1.4zM25 13.6h1.2v1.2h-1.2zM43.4 31.9h1.2v1.2h-1.2zM19.5 31.8h1.5v1.5h-1.5zM11.7 46.4h1.6v1.6h-1.6zM34.1 41.1h1.4v1.4h-1.4zM62.3 41.6h1.1v1.1h-1.1zM30.2 6.4h1.3v1.3h-1.3zM26.6 28.6h1.4v1.4h-1.4zM12.1 43.2h1v1h-1zM62.4 36.2h1.1v1.1h-1.1zM28.2 27.7h1.2v1.2h-1.2zM8.7 15.4h1.5v1.5h-1.5zM30.7 27.9h1.1v1.1h-1.1zM3.1 23.7h1v1h-1zM17.1 23.3h1.6v1.6h-1.6zM7 41.1h1v1h-1zM38.9 7.6h1v1h-1zM6.9 32.9h1.1v1.1h-1.1zM43.7 11.2h1.4v1.4h-1.4zM21.2 2.1h1.6v1.6h-1.6zM46.8 13.2h1v1h-1zM45.9 48.6h1.2v1.2h-1.2zM27 49.3h1.1v1.1h-1.1zM13.5 5.6h1v1h-1zM57.1 11.5h1.5v1.5h-1.5zM9.3 47.8h1.5v1.5h-1.5zM61.1 9.5h1.1v1.1h-1.1zM32.7 46.5h1.1v1.1h-1.1zM44.8 0h1.4v1.4h-1.4zM21.1 39.9h1.3v1.3h-1.3zM36.8 -0.8h1.6v1.6h-1.6zM30.1 15.7h1.5v1.5h-1.5zM26.2 0.3h1.4v1.4h-1.4zM25.7 3.4h0.9v0.9h-0.9zM58 40.6h1.2v1.2h-1.2zM54.8 8.7h1v1h-1zM14.7 4.7h1.5v1.5h-1.5zM30.3 40.2h1.1v1.1h-1.1zM18.4 34.4h1v1h-1zM6.2 8.2h1.4v1.4h-1.4zM55.5 11.5h1.5v1.5h-1.5zM15.9 45.3h1v1h-1zM6.6 48.6h1v1h-1zM13.7 3.2h1.5v1.5h-1.5zM22 10h1.3v1.3h-1.3zM22.5 13.1h1.6v1.6h-1.6zM41.9 7.1h1.2v1.2h-1.2zM63.2 46.4h1.3v1.3h-1.3zM7.3 40.6h1.5v1.5h-1.5zM41.7 16.9h1.4v1.4h-1.4zM32.8 32.9h1.2v1.2h-1.2zM45.8 45.5h1.1v1.1h-1.1zM16.2 34.2h1.4v1.4h-1.4zM0.9 40.3h1v1h-1zM32.6 23.1h1.1v1.1h-1.1zM63.6 47.9h1.4v1.4h-1.4zM38.5 1.6h1.1v1.1h-1.1zM10.8 42.1h1.3v1.3h-1.3zM55.1 48.6h1.6v1.6h-1.6zM59.9 46.3h0.9v0.9h-0.9zM18.5 0.8h1.1v1.1h-1.1zM44 10.5h1.1v1.1h-1.1zM24.6 33.6h1.3v1.3h-1.3zM35 44.6h1.1v1.1h-1.1zM20.3 4.4h1.1v1.1h-1.1zM6.4 32.5h1.3v1.3h-1.3zM25.7 1.8h1.4v1.4h-1.4zM11.5 12h1.4v1.4h-1.4zM12 37.6h1.5v1.5h-1.5zM41 5.1h1.6v1.6h-1.6zM53.8 8.2h1.2v1.2h-1.2zM56.1 37.2h1v1h-1zM6 37.2h1.1v1.1h-1.1zM18 33.7h1v1h-1zM42.9 45.2h1.2v1.2h-1.2zM13.3 46.7h1.2v1.2h-1.2zM3.7 27.9h0.9v0.9h-0.9zM40.3 34.1h1v1h-1zM44.8 3.5h1.2v1.2h-1.2zM44.9 5.5h1.3v1.3h-1.3zM53.3 37.6h1.2v1.2h-1.2zM18.6 37.2h1.1v1.1h-1.1zM-0.3 23.8h1.4v1.4h-1.4zM27 22.3h1v1h-1zM11.9 19.5h1.4v1.4h-1.4zM18.5 6.6h1.1v1.1h-1.1zM27.3 44.6h1.1v1.1h-1.1zM57 32h1v1h-1zM2.8 2.5h1.6v1.6h-1.6zM7.8 10.7h1.1v1.1h-1.1zM21.6 -0.5h1.4v1.4h-1.4zM20.4 49h1.1v1.1h-1.1zM26.2 20.2h1.5v1.5h-1.5zM4.5 0.1h1v1h-1zM0.5 9.5h1.3v1.3h-1.3zM19.9 36.3h1.6v1.6h-1.6zM35.2 18.1h1v1h-1zM63.8 48.9h1.2v1.2h-1.2zM41.7 39.8h1.2v1.2h-1.2zM14.2 40.9h1.3v1.3h-1.3zM42.7 2.2h1.1v1.1h-1.1zM55.6 45.1h1.2v1.2h-1.2zM29.1 14.2h1.3v1.3h-1.3zM63.3 35.3h0.9v0.9h-0.9zM25.6 46.6h1v1h-1zM7.7 47h1.3v1.3h-1.3zM3 23.1h1.3v1.3h-1.3zM30.4 15.3h1.5v1.5h-1.5zM14.2 1.6h1.1v1.1h-1.1zM17.4 19.8h0.9v0.9h-0.9zM21.7 6.9h1.3v1.3h-1.3zM17.7 13.5h1.6v1.6h-1.6zM31.3 35.6h1.3v1.3h-1.3zM13 10.6h1.5v1.5h-1.5zM30.3 38.1h1.1v1.1h-1.1zM63.8 39.6h1.3v1.3h-1.3zM64.4 5.3h1.5v1.5h-1.5zM2.5 23.3h1.1v1.1h-1.1zM18.4 10.9h1.1v1.1h-1.1zM20.1 14.8h1v1h-1zM32.5 21.1h1v1h-1zM51.7 44.4h1.3v1.3h-1.3zM58.7 36.6h1.4v1.4h-1.4zM16.2 38.1h1v1h-1zM35.9 19.5h1.5v1.5h-1.5zM42.2 9.3h1.1v1.1h-1.1zM22.2 19.3h1.1v1.1h-1.1zM46.1 33.6h1v1h-1zM48 0.8h1.3v1.3h-1.3zM24 19.2h1.1v1.1h-1.1zM38.4 4.8h1.4v1.4h-1.4zM25.1 22.2h1.6v1.6h-1.6zM62.4 35.9h1.4v1.4h-1.4zM15.7 42.3h1.5v1.5h-1.5zM33.4 35.2h1.5v1.5h-1.5zM45 12.7h1.4v1.4h-1.4zM11.1 17.5h1.5v1.5h-1.5zM61.9 23.4h1.6v1.6h-1.6zM2.5 9h1.4v1.4h-1.4zM60.4 47.3h1.5v1.5h-1.5zM45.5 -0.3h0.9v0.9h-0.9zM27 25.2h1.3v1.3h-1.3zM17.7 38.4h0.9v0.9h-0.9zM11.3 9.2h1.2v1.2h-1.2zM17.2 23.7h1.5v1.5h-1.5zM23.3 1.6h1v1h-1zM41.6 11.1h1.3v1.3h-1.3zM63.3 35.5h1v1h-1zM59.1 27.2h1v1h-1zM41.9 42.7h1.3v1.3h-1.3zM43.8 7.2h1v1h-1zM25.7 43.4h1v1h-1zM56.2 36.1h1.3v1.3h-1.3zM11.9 7.9h0.9v0.9h-0.9zM33.7 49.5h1v1h-1zM5 45h1.2v1.2h-1.2zM36.3 0.4h1.1v1.1h-1.1zM7.7 40.3h1.1v1.1h-1.1zM34.4 26.7h0.9v0.9h-0.9z"/>
<path transform="translate(380.8,219.6)" fill="#5a90c4" d="M1.4 42.8h1.3v1.3h-1.3zM8.1 10.2h1.4v1.4h-1.4zM21 41.1h1.5v1.5h-1.5zM39.8 29h1.1v1.1h-1.1zM12.3 43.7h1.3v1.3h-1.3zM16.9 25.9h1.1v1.1h-1.1zM16.8 49.1h1v1h-1zM27 34.4h0.9v0.9h-0.9zM0.9 5h1.5v1.5h-1.5zM24.9 17.7h1.6v1.6h-1.6zM35.7 47.9h1.3v1.3h-1.3zM37.7 47.5h1v1h-1zM19 8.8h1.1v1.1h-1.1zM35.5 28.3h1.2v1.2h-1.2zM27.9 37.4h1.1v1.1h-1.1zM54.5 34.8h1.2v1.2h-1.2zM45.1 26.5h1v1h-1zM31.2 0.5h1.4v1.4h-1.4zM50.4 6.6h1.3v1.3h-1.3zM15.1 1.5h0.9v0.9h-0.9zM19.4 30h1v1h-1zM39 35.2h0.9v0.9h-0.9zM39.2 1.7h1.5v1.5h-1.5zM23.4 2.9h1.5v1.5h-1.5zM57.7 3.7h1.2v1.2h-1.2zM42.9 34.5h1.3v1.3h-1.3zM31 38.2h1.2v1.2h-1.2zM27.5 46.6h1.3v1.3h-1.3zM11.3 -0.1h1.5v1.5h-1.5zM16.5 33.1h1.2v1.2h-1.2zM16.5 1.7h0.9v0.9h-0.9zM3.3 40.4h1.2v1.2h-1.2zM26.1 17.1h1.1v1.1h-1.1zM37 27.1h1v1h-1zM26.4 44.6h1.1v1.1h-1.1zM15.5 17.3h1v1h-1zM3.3 42.4h1v1h-1zM23.7 18h1.2v1.2h-1.2zM7.2 8.3h0.9v0.9h-0.9zM27.6 31h1.1v1.1h-1.1zM10.8 37h1.3v1.3h-1.3zM41.8 45.7h1.4v1.4h-1.4zM46.6 8h1.2v1.2h-1.2zM7.1 47h1.2v1.2h-1.2zM48.4 10.7h1.1v1.1h-1.1zM63.3 36.5h1.2v1.2h-1.2zM4.7 38.7h1.4v1.4h-1.4zM35.5 32.8h1.1v1.1h-1.1zM43.4 14.7h1.2v1.2h-1.2zM36 19.1h1.1v1.1h-1.1zM60.4 15.5h1.4v1.4h-1.4zM35.8 5.3h1.1v1.1h-1.1zM30.9 38.3h1.6v1.6h-1.6zM51.7 2h0.9v0.9h-0.9zM7.7 41.9h1.3v1.3h-1.3zM23.6 8.5h1.4v1.4h-1.4zM38.6 30.4h1.3v1.3h-1.3zM54.6 2.9h1.4v1.4h-1.4zM19.7 48.8h1.1v1.1h-1.1zM62.1 39.3h1.4v1.4h-1.4zM57.1 37h1.5v1.5h-1.5zM64.1 37.7h1v1h-1zM40.4 15.7h0.9v0.9h-0.9zM8.5 10.6h1.5v1.5h-1.5zM43.2 47.9h1.1v1.1h-1.1zM51.7 42.5h1.4v1.4h-1.4zM41.8 28.9h1.1v1.1h-1.1zM20.3 23.2h1.3v1.3h-1.3zM58.2 5.5h1v1h-1zM0.8 41.6h1.4v1.4h-1.4zM18.5 40.8h1.2v1.2h-1.2zM46.4 34.5h1.1v1.1h-1.1zM-0 0.4h1v1h-1zM11.8 8.8h1.4v1.4h-1.4zM28.4 14.1h1.2v1.2h-1.2zM2.4 13.6h1.3v1.3h-1.3zM14.4 39.6h1.5v1.5h-1.5zM46.2 36.3h1.1v1.1h-1.1zM30 11.4h1v1h-1zM44.4 27.2h1.5v1.5h-1.5zM48 40.2h1v1h-1zM16.2 36.8h1.2v1.2h-1.2zM23.1 30.7h1.4v1.4h-1.4zM60 16.1h1.6v1.6h-1.6zM57 4.8h1.1v1.1h-1.1zM41.4 1.1h0.9v0.9h-0.9zM61.8 24.6h1.5v1.5h-1.5zM17.8 47.7h1.2v1.2h-1.2zM22 -0.6h1.5v1.5h-1.5zM40.2 4.6h1.1v1.1h-1.1zM41.7 35h1.4v1.4h-1.4zM15.9 45.2h1.6v1.6h-1.6zM13.2 0.6h1v1h-1zM8.6 46.2h1.3v1.3h-1.3zM6.9 48h1.5v1.5h-1.5zM61 27.9h1.1v1.1h-1.1zM30.6 18.1h0.9v0.9h-0.9zM16.6 16.4h1.6v1.6h-1.6zM57.5 15.4h1.1v1.1h-1.1zM12.7 10.1h0.9v0.9h-0.9zM29.6 46.1h1.3v1.3h-1.3zM12.3 11.4h1.2v1.2h-1.2zM-0.2 0.2h1.4v1.4h-1.4zM56 1.2h1.3v1.3h-1.3zM22.8 32.9h1.2v1.2h-1.2zM24.2 39.8h1.6v1.6h-1.6zM45.3 27.9h1.3v1.3h-1.3zM17.4 0.8h1.4v1.4h-1.4zM18.7 6.2h1.5v1.5h-1.5zM17.3 18h1.3v1.3h-1.3zM26.1 4.5h1v1h-1zM31.5 41h1.5v1.5h-1.5zM58.6 15.4h1.2v1.2h-1.2zM61.2 -0h1.1v1.1h-1.1zM33.2 21.3h1.4v1.4h-1.4zM60.1 44h1v1h-1zM60.9 3.2h1.5v1.5h-1.5zM27 19.9h1.1v1.1h-1.1zM62.8 15.6h1.3v1.3h-1.3zM29.7 25.1h1.1v1.1h-1.1zM11.1 15.6h1.1v1.1h-1.1zM61.2 17.9h1.5v1.5h-1.5zM63.1 36h0.9v0.9h-0.9zM48.7 43.9h1.4v1.4h-1.4zM32.6 38.4h1.6v1.6h-1.6zM45.2 25.3h1.6v1.6h-1.6zM4.2 49.2h1.3v1.3h-1.3zM11.6 1.8h1.3v1.3h-1.3zM40.8 18.3h1.4v1.4h-1.4zM19.3 27.1h1.6v1.6h-1.6zM3.3 18.4h1.5v1.5h-1.5zM63.7 39.6h1.5v1.5h-1.5zM25.7 17.4h1.1v1.1h-1.1zM50.1 35.1h1.2v1.2h-1.2zM7.1 19.1h1.4v1.4h-1.4zM32.6 47.4h1.2v1.2h-1.2zM51.8 39.4h1.1v1.1h-1.1zM37.7 17.2h1.2v1.2h-1.2zM15.3 11h1.4v1.4h-1.4zM61.2 44.4h1.1v1.1h-1.1zM2.6 16.3h0.9v0.9h-0.9zM64.3 20.2h1.1v1.1h-1.1zM29.2 36.1h1v1h-1zM46.5 4.8h1.3v1.3h-1.3zM18 43.4h1v1h-1zM60.5 33.1h1.1v1.1h-1.1zM10.3 5.6h0.9v0.9h-0.9zM46.5 44h1.3v1.3h-1.3zM53.1 35.4h1.1v1.1h-1.1zM37 45.8h1.3v1.3h-1.3zM61.5 14.3h1.2v1.2h-1.2zM20.6 27.1h1.5v1.5h-1.5zM-0 44.9h1.2v1.2h-1.2zM64.2 -0.6h1.2v1.2h-1.2zM21.5 40.3h1.1v1.1h-1.1zM63.3 20.2h1.2v1.2h-1.2zM17.7 24h1v1h-1zM6.5 16h1.1v1.1h-1.1zM38 24.6h1.2v1.2h-1.2zM30.9 5.7h1.1v1.1h-1.1zM44 35.2h1.4v1.4h-1.4zM27.3 21.2h1.4v1.4h-1.4zM36.7 4.6h1.1v1.1h-1.1zM62.2 45.9h1.2v1.2h-1.2zM21.9 24.1h1.3v1.3h-1.3zM18.8 39.3h1v1h-1zM20.7 4.8h1.6v1.6h-1.6zM0.8 16h1.2v1.2h-1.2zM51.5 2.6h1.4v1.4h-1.4zM55.4 15.9h1.1v1.1h-1.1z"/>
<path transform="translate(380.8,219.6)" fill="#8cb4d4" d="M62.4 6.3h1v1h-1zM40.9 23.5h1.5v1.5h-1.5zM26.2 7h1.2v1.2h-1.2zM2.3 35.4h1.3v1.3h-1.3zM61.2 48.1h1.3v1.3h-1.3zM27.9 12.3h1.3v1.3h-1.3zM61.7 0.5h1.1v1.1h-1.1zM29.2 29.2h1v1h-1zM48.9 41.8h1.1v1.1h-1.1zM51.1 12.9h1.3v1.3h-1.3zM60.7 30.2h1v1h-1zM23.9 4.8h1.3v1.3h-1.3zM43.5 1.3h1v1h-1zM6.9 44.1h1v1h-1zM49.7 37.3h1.4v1.4h-1.4zM46.8 6.7h1.5v1.5h-1.5zM44.6 25.1h1.6v1.6h-1.6zM54.6 5h1.3v1.3h-1.3zM0.5 16.3h1.5v1.5h-1.5zM19.1 12.1h0.9v0.9h-0.9zM21.5 49.4h1v1h-1zM59.2 16.5h1v1h-1zM5.6 35.6h1.3v1.3h-1.3zM17.4 21.1h1.2v1.2h-1.2zM31 39.9h1.6v1.6h-1.6zM63.1 43.2h1.6v1.6h-1.6zM1.2 18h1.5v1.5h-1.5zM26.2 37h1.3v1.3h-1.3zM29.5 28.9h0.9v0.9h-0.9zM50.7 37.4h1v1h-1zM26 26.4h1.2v1.2h-1.2zM20.4 24.8h1.3v1.3h-1.3zM55.4 41.1h1.6v1.6h-1.6zM41.5 13.6h1.2v1.2h-1.2zM56.1 35.3h0.9v0.9h-0.9zM8.6 3.6h1v1h-1zM1.2 36.2h1.3v1.3h-1.3zM30.3 44h1.3v1.3h-1.3zM34.1 30.6h1.1v1.1h-1.1zM47 11.3h1.2v1.2h-1.2zM11.1 12.1h0.9v0.9h-0.9zM13 40h1.3v1.3h-1.3zM27.1 8.3h1.2v1.2h-1.2zM10.9 35.2h1.5v1.5h-1.5zM23.7 1.4h1.5v1.5h-1.5zM58.7 27.3h1v1h-1zM9 17.9h1.3v1.3h-1.3zM18.1 5.2h1.4v1.4h-1.4zM45 -0.6h1.4v1.4h-1.4zM26.4 -0.3h1.3v1.3h-1.3zM1.1 0.8h1.1v1.1h-1.1zM50.1 39.6h1.3v1.3h-1.3zM10.1 47.7h1.3v1.3h-1.3zM16.3 23.3h1v1h-1zM2.7 19.7h1v1h-1zM23.9 40.4h1.4v1.4h-1.4zM0.5 47h1.3v1.3h-1.3zM37.7 39.2h1v1h-1zM20.7 5.1h1.3v1.3h-1.3zM28.3 48.4h1.4v1.4h-1.4zM51.7 42.7h1v1h-1zM13.7 4.6h0.9v0.9h-0.9zM4.5 21.3h1v1h-1zM24.3 34.2h1.3v1.3h-1.3zM36.9 40.9h1.1v1.1h-1.1zM4.2 48.7h1.5v1.5h-1.5zM35 46.4h1.3v1.3h-1.3zM3.7 11.1h1.4v1.4h-1.4zM42.1 4.8h1v1h-1zM45.2 27.5h1.4v1.4h-1.4zM50.1 46.5h1v1h-1zM57.3 47.6h1v1h-1zM52.8 40.5h1.2v1.2h-1.2zM53.6 4.8h1.3v1.3h-1.3zM3.6 46.8h0.9v0.9h-0.9zM58 2h1v1h-1zM10.5 48.3h1.4v1.4h-1.4zM63.7 33.6h1v1h-1zM22 0.6h1.3v1.3h-1.3zM-0.1 42h1.2v1.2h-1.2zM5 41.5h1.1v1.1h-1.1zM46.1 34.4h1.3v1.3h-1.3zM30.8 27.7h1.4v1.4h-1.4zM17.3 45.2h1.2v1.2h-1.2zM23 26.2h1.5v1.5h-1.5zM32.8 23.7h1.5v1.5h-1.5zM25.3 16.9h1.4v1.4h-1.4zM55.3 42.2h1.5v1.5h-1.5zM43 15.4h1.1v1.1h-1.1zM41.3 37.2h1v1h-1zM58.2 30.7h1.4v1.4h-1.4zM20.4 42.9h1.2v1.2h-1.2zM16.9 15.6h1.1v1.1h-1.1zM30.3 6.6h1.4v1.4h-1.4zM4.4 49.4h1.4v1.4h-1.4zM59 28h1v1h-1zM32.2 25.8h1.4v1.4h-1.4zM55.5 10.9h1.1v1.1h-1.1zM14.2 21.9h1.4v1.4h-1.4zM21.7 36.9h1.3v1.3h-1.3zM41.7 18.5h1.1v1.1h-1.1zM63.5 10.4h1.4v1.4h-1.4zM45.9 40.8h1.5v1.5h-1.5zM4.4 18.9h1.5v1.5h-1.5zM2 29.3h1.5v1.5h-1.5zM34 23.8h1.5v1.5h-1.5zM41.8 6.3h1.4v1.4h-1.4zM35.9 0.1h0.9v0.9h-0.9zM19.3 6.6h1.3v1.3h-1.3zM36.2 21.4h1.2v1.2h-1.2zM-0.2 2.5h1.3v1.3h-1.3zM16.3 25.2h1.2v1.2h-1.2zM13.2 40.8h1.2v1.2h-1.2zM28.7 4.2h1.1v1.1h-1.1zM30 8.7h1.2v1.2h-1.2zM23.5 22.2h1.2v1.2h-1.2zM22.2 27.4h1.6v1.6h-1.6zM32.7 48.9h1.3v1.3h-1.3zM27.5 40.2h1.6v1.6h-1.6zM4 48.8h1.3v1.3h-1.3zM0.8 1.1h1.5v1.5h-1.5zM20.8 2.3h1.1v1.1h-1.1zM16.1 19.1h1.3v1.3h-1.3zM51.4 38.2h0.9v0.9h-0.9zM34.3 3.1h1.4v1.4h-1.4zM24 -0.6h1.4v1.4h-1.4zM0.9 30.1h1.1v1.1h-1.1zM6.9 10.8h1.4v1.4h-1.4zM14.8 8.9h1.1v1.1h-1.1zM2.3 30.3h1v1h-1zM56.2 6h0.9v0.9h-0.9zM14.5 16.8h1.3v1.3h-1.3zM36.4 3.4h1v1h-1zM1.7 5.6h1.4v1.4h-1.4zM1.4 7.1h1v1h-1zM48.1 4.8h1v1h-1zM39.9 30.6h1.4v1.4h-1.4zM12.2 8.5h1.1v1.1h-1.1zM9.4 33.8h1.2v1.2h-1.2zM52.9 47.2h1.4v1.4h-1.4zM58.6 2.4h1.3v1.3h-1.3zM62.3 31.6h1.3v1.3h-1.3zM21.4 42.1h1.6v1.6h-1.6zM34.3 39.6h1v1h-1zM37.8 34.7h1v1h-1zM18.7 4.8h1.5v1.5h-1.5zM44.9 39h1.5v1.5h-1.5zM6.6 38.2h1.4v1.4h-1.4zM42.8 15h1.5v1.5h-1.5zM19.5 11.4h1.3v1.3h-1.3zM16 0.8h1.6v1.6h-1.6zM15 16.2h1.1v1.1h-1.1zM10 46h1.4v1.4h-1.4zM12.7 7.9h0.9v0.9h-0.9zM43.8 27h0.9v0.9h-0.9zM16.6 44.6h1v1h-1zM15.4 19.5h0.9v0.9h-0.9zM55.9 11.4h1.2v1.2h-1.2zM43.3 2.5h1.1v1.1h-1.1zM44.1 23.9h1.2v1.2h-1.2zM23.1 23.3h1.6v1.6h-1.6zM26.3 48.4h1.3v1.3h-1.3zM17.1 22.1h1.1v1.1h-1.1zM42.8 14.8h0.9v0.9h-0.9zM13.9 9.2h1.1v1.1h-1.1zM1.9 40.4h1v1h-1zM2.4 28.9h1v1h-1zM21.4 24.6h1v1h-1zM12.7 13.3h1.5v1.5h-1.5zM51.3 44.5h1.2v1.2h-1.2zM61.5 3h1.3v1.3h-1.3zM27.1 18.5h1.3v1.3h-1.3zM24.2 17.2h1v1h-1zM31.9 20.5h1.4v1.4h-1.4zM62.1 33.2h0.9v0.9h-0.9zM13.8 48h1.2v1.2h-1.2zM8.1 15.6h1.6v1.6h-1.6zM55.7 13h1.2v1.2h-1.2zM0.5 30.6h1.1v1.1h-1.1zM21.9 18.2h1.4v1.4h-1.4zM44.3 38.6h1.4v1.4h-1.4zM3.3 14.1h1.6v1.6h-1.6zM17.8 21.3h1.1v1.1h-1.1zM47.6 1.9h1.6v1.6h-1.6z"/>
<path transform="translate(380.8,219.6)" fill="#c8d8e4" d="M38.7 34.2h1.5v1.5h-1.5zM29.3 25.4h1.5v1.5h-1.5zM62 3.3h1.4v1.4h-1.4zM17.7 40h1v1h-1zM63.8 21.3h1.1v1.1h-1.1zM47.9 41.3h1.4v1.4h-1.4zM2.3 44.7h1.3v1.3h-1.3zM2.1 22.4h1.4v1.4h-1.4zM33.6 27.6h1.5v1.5h-1.5zM41.4 22.1h1.4v1.4h-1.4zM62.7 19.9h1.6v1.6h-1.6zM19.9 11h1.3v1.3h-1.3zM26.6 34.4h1.3v1.3h-1.3zM14.2 11.1h1.4v1.4h-1.4zM48.5 47.6h1.3v1.3h-1.3zM11 2.9h1v1h-1zM43.9 27.8h1v1h-1zM44.8 27.8h1.4v1.4h-1.4zM35.4 28.6h1.2v1.2h-1.2zM33.9 34.9h1.2v1.2h-1.2zM13 40h1.6v1.6h-1.6zM28.5 19.8h1.4v1.4h-1.4zM7.5 2.1h1.1v1.1h-1.1zM1.8 2.1h1.3v1.3h-1.3zM51.9 45.6h0.9v0.9h-0.9zM10.8 36.6h1.2v1.2h-1.2zM5.9 11.4h0.9v0.9h-0.9zM63.7 30.1h1.3v1.3h-1.3zM33.1 18.1h1v1h-1zM-0.1 13.7h0.9v0.9h-0.9zM10.2 6.7h1.6v1.6h-1.6zM18.8 37.1h1v1h-1zM45 37.9h1.6v1.6h-1.6zM20.4 45.1h1.5v1.5h-1.5zM37.9 28.6h1.5v1.5h-1.5zM11.8 41.4h1v1h-1zM46.8 9.7h1.4v1.4h-1.4zM28.9 24.9h1.4v1.4h-1.4zM38.7 32.7h1v1h-1zM31.9 3.6h1.4v1.4h-1.4zM12.5 19.3h1v1h-1zM0.7 27.7h1.5v1.5h-1.5zM47 -0.5h1.1v1.1h-1.1zM6.6 37.8h1v1h-1zM53.6 13.5h1.1v1.1h-1.1zM48 38.5h1v1h-1zM40.1 11.3h1.3v1.3h-1.3zM23.9 22.1h1.4v1.4h-1.4zM22.5 24.7h1.6v1.6h-1.6zM54.2 34.5h1.2v1.2h-1.2zM36 21.3h1.1v1.1h-1.1zM28.8 32.1h1v1h-1zM36.5 46.7h1.5v1.5h-1.5zM16.3 11.3h1.5v1.5h-1.5zM22.5 49h1.2v1.2h-1.2zM26 14.4h1.5v1.5h-1.5zM43.4 43.7h1v1h-1zM35.7 43.4h1v1h-1zM45.8 49.2h0.9v0.9h-0.9zM37.2 26.8h1.2v1.2h-1.2zM4 43.2h1.3v1.3h-1.3zM37.2 22.6h1.3v1.3h-1.3zM26.4 39.9h1.2v1.2h-1.2zM24.5 20.6h1.2v1.2h-1.2zM5.7 10.9h1.3v1.3h-1.3zM31.6 34.9h1.5v1.5h-1.5zM-0.6 18.2h1.6v1.6h-1.6zM62.5 27.4h1.2v1.2h-1.2zM43.1 8.3h0.9v0.9h-0.9zM63.1 25.1h1v1h-1zM16.5 29.7h1v1h-1zM5.5 38h1.1v1.1h-1.1zM38.5 31.8h1.4v1.4h-1.4zM31.3 20.7h1.3v1.3h-1.3zM58.6 38.8h1.3v1.3h-1.3zM55.5 42h1.3v1.3h-1.3zM26.7 17.5h1.2v1.2h-1.2zM4.7 0.1h1.2v1.2h-1.2zM37.2 22.1h1.3v1.3h-1.3zM30.2 5.7h1.2v1.2h-1.2zM16.3 49.4h1.2v1.2h-1.2zM45.8 37.7h1.2v1.2h-1.2zM22.9 46.4h1v1h-1zM17.5 11.9h1.3v1.3h-1.3zM20.2 9.8h1.2v1.2h-1.2zM-0.2 8.7h1.6v1.6h-1.6zM41.1 49.3h1.2v1.2h-1.2zM57.6 12.8h1v1h-1zM2.3 1.3h1.5v1.5h-1.5zM23.8 1.1h1.5v1.5h-1.5zM38.6 8.5h1.4v1.4h-1.4zM42.2 17.1h1.1v1.1h-1.1zM54.7 44.4h1.1v1.1h-1.1zM45.8 32.8h1.2v1.2h-1.2zM20.7 20.6h1.5v1.5h-1.5zM37.3 45.6h1.1v1.1h-1.1zM46.7 11h1.4v1.4h-1.4zM7.9 9h1.4v1.4h-1.4zM55 42.2h1.3v1.3h-1.3zM27.4 40.9h0.9v0.9h-0.9zM34.3 43.7h1.4v1.4h-1.4zM16.1 39h1.1v1.1h-1.1zM41.4 9h1.3v1.3h-1.3zM44.5 1.6h1v1h-1zM20.1 34.7h1.6v1.6h-1.6zM28.5 42.4h1.4v1.4h-1.4zM19.1 21.3h1v1h-1zM39.8 0.7h1.6v1.6h-1.6zM-0.4 10.8h1.1v1.1h-1.1zM52.6 14.5h1.2v1.2h-1.2zM2 48.8h1.4v1.4h-1.4zM18 22.7h1.6v1.6h-1.6zM6.6 41.2h1.2v1.2h-1.2zM23.1 26.8h1.5v1.5h-1.5zM24.6 47.3h1.2v1.2h-1.2zM19.9 36.2h1.1v1.1h-1.1zM55.1 6.6h1.5v1.5h-1.5zM39.5 16.3h1v1h-1zM17 46.1h1v1h-1zM3.5 16h1v1h-1zM27.9 11.4h1.6v1.6h-1.6zM36.8 34.8h1.4v1.4h-1.4zM40.3 13.6h1.4v1.4h-1.4zM42.9 0.1h0.9v0.9h-0.9zM30.9 44.9h1.2v1.2h-1.2zM18.7 15.1h1v1h-1zM53.5 7.5h1.1v1.1h-1.1zM9.3 46h1.6v1.6h-1.6zM22.4 38.3h1.6v1.6h-1.6zM33.3 35.8h1v1h-1zM61.9 41.8h1.5v1.5h-1.5zM10 1.2h1.3v1.3h-1.3zM31.3 20.6h1.2v1.2h-1.2zM22.8 29.7h1.5v1.5h-1.5zM6.3 34.7h1.2v1.2h-1.2zM28.8 46.8h1.5v1.5h-1.5zM31.2 7.7h1v1h-1zM34.7 43.7h1.4v1.4h-1.4zM63.2 6.9h1.1v1.1h-1.1zM30.8 26.5h1.2v1.2h-1.2zM45.3 4.8h1.6v1.6h-1.6zM60 28h1.1v1.1h-1.1zM7.7 7.6h1.1v1.1h-1.1zM62.4 15.9h1v1h-1zM0.4 1.4h0.9v0.9h-0.9zM28.2 12.4h1.5v1.5h-1.5zM54 42.4h1.3v1.3h-1.3zM30.1 37.6h1.5v1.5h-1.5zM40.4 15.5h1v1h-1zM0.8 11.7h1.5v1.5h-1.5zM64.4 34.7h1.1v1.1h-1.1zM18.7 24.5h0.9v0.9h-0.9zM22.2 25.2h1.5v1.5h-1.5zM49.6 46.1h1.4v1.4h-1.4zM58.2 41.5h1.4v1.4h-1.4zM26 48.5h1.4v1.4h-1.4zM63.9 34.1h1v1h-1zM62.8 42.3h1.2v1.2h-1.2zM45.3 48.2h1.1v1.1h-1.1zM61.1 6.3h1.2v1.2h-1.2zM22.4 32.5h1.4v1.4h-1.4zM27 25.3h1.1v1.1h-1.1zM34.6 6.9h1.2v1.2h-1.2zM63.8 2.7h1.1v1.1h-1.1zM41.5 8.5h1.5v1.5h-1.5zM44.6 32.9h1.4v1.4h-1.4zM21.2 27h1v1h-1zM61.6 13.7h1.5v1.5h-1.5zM4.8 39.6h1.1v1.1h-1.1z"/>
<path transform="translate(380.8,219.6)" fill="#6e6040" d="M23.9 29h1.2v1.2h-1.2zM2.7 10.2h1.1v1.1h-1.1zM14.2 20.1h1.6v1.6h-1.6zM1.5 15h1.3v1.3h-1.3zM25.3 27.8h1.6v1.6h-1.6zM4.8 7.9h1.1v1.1h-1.1zM9.5 19.1h0.9v0.9h-0.9zM31.8 33.9h1.3v1.3h-1.3zM8.8 15.1h1.1v1.1h-1.1z"/>
<path transform="translate(380.8,219.6)" fill="#7a6a3a" d="M2.4 8.7h1v1h-1zM2.7 17.4h1.2v1.2h-1.2zM10.4 16.4h1.1v1.1h-1.1zM14.1 20.5h1.3v1.3h-1.3zM6.1 6.9h1.2v1.2h-1.2zM9.1 9.2h1.4v1.4h-1.4z"/>
<path transform="translate(380.8,219.6)" fill="#94804a" d="M38.6 35.9h1.2v1.2h-1.2zM15.7 22.6h1.1v1.1h-1.1zM28 29.8h1.4v1.4h-1.4zM38.1 35.1h1.2v1.2h-1.2zM3.9 8.2h1.5v1.5h-1.5zM22.5 25.7h1.4v1.4h-1.4zM6.9 4.2h1.3v1.3h-1.3zM33.7 33.9h1.3v1.3h-1.3z"/>
<path transform="translate(380.8,219.6)" fill="#8a7a50" d="M9.5 12.4h1.6v1.6h-1.6zM29 31.3h1.3v1.3h-1.3zM3.7 7.1h1v1h-1zM32.3 35.6h1.4v1.4h-1.4zM35.8 34.8h1v1h-1zM6.9 11.6h1.4v1.4h-1.4zM3.7 10h1.4v1.4h-1.4zM3 13.7h1v1h-1zM3.2 4.9h1.5v1.5h-1.5z"/>
</g>
<clipPath id="c4"><rect x="447.3" y="219.6" width="65.2" height="50.2"/></clipPath>
<g clip-path="url(#c4)">
<rect x="447.3" y="219.6" width="65.2" height="50.2" fill="#bcc4c0" stroke="none" stroke-width="1"/>
<ellipse cx="459.3" cy="233.6" rx="6" ry="5" fill="#a88438" fill-opacity="0.45"/><ellipse cx="473.3" cy="243.6" rx="7" ry="5" fill="#a88438" fill-opacity="0.45"/><ellipse cx="485.3" cy="239.6" rx="5" ry="6" fill="#a88438" fill-opacity="0.45"/><ellipse cx="497.3" cy="241.6" rx="6" ry="5" fill="#a88438" fill-opacity="0.45"/><ellipse cx="467.3" cy="261.6" rx="5" ry="4" fill="#a88438" fill-opacity="0.45"/><ellipse cx="491.3" cy="257.6" rx="6" ry="5" fill="#a88438" fill-opacity="0.45"/><ellipse cx="479.3" cy="249.6" rx="7" ry="6" fill="#a88438" fill-opacity="0.45"/><ellipse cx="453.3" cy="225.6" rx="4" ry="3" fill="#a88438" fill-opacity="0.45"/><ellipse cx="503.3" cy="225.6" rx="5" ry="4" fill="#a88438" fill-opacity="0.45"/><ellipse cx="455.3" cy="249.6" rx="4" ry="4" fill="#a88438" fill-opacity="0.45"/><ellipse cx="477.3" cy="231.6" rx="3" ry="3" fill="#a88438" fill-opacity="0.45"/><ellipse cx="505.3" cy="259.6" rx="4" ry="4" fill="#a88438" fill-opacity="0.45"/><ellipse cx="483.3" cy="263.6" rx="4" ry="3" fill="#a88438" fill-opacity="0.45"/>
<path transform="translate(447.3,219.6)" fill="#5c9ccc" d="M14.9 4.6h1.1v1.1h-1.1zM27 13.8h1.2v1.2h-1.2zM58.9 31.2h1.3v1.3h-1.3zM20.5 15.4h1.6v1.6h-1.6zM64.4 32.1h1.2v1.2h-1.2zM26 1.1h1.5v1.5h-1.5zM42.8 1.4h1.6v1.6h-1.6zM36.3 36.7h1.6v1.6h-1.6zM14.9 14.4h1.3v1.3h-1.3zM46.6 27.1h1.2v1.2h-1.2zM26.4 36.4h1.2v1.2h-1.2zM-0.2 34.2h1.7v1.7h-1.7zM55.5 14.2h1.6v1.6h-1.6zM48.7 3.6h1.5v1.5h-1.5zM44.9 46.1h1.7v1.7h-1.7zM1.8 7h1.3v1.3h-1.3zM38.1 1.8h1.8v1.8h-1.8zM0.5 32.4h1.6v1.6h-1.6zM2.5 41.4h1.2v1.2h-1.2zM3 23.1h1.5v1.5h-1.5zM3.5 25.5h1.5v1.5h-1.5zM38.4 34.4h1.2v1.2h-1.2zM19.9 14.4h1.4v1.4h-1.4zM39.6 12.9h1.3v1.3h-1.3zM60.9 43.4h1.2v1.2h-1.2zM15.3 47.8h1.5v1.5h-1.5zM56.5 30.9h1.5v1.5h-1.5zM62.7 23.4h1.8v1.8h-1.8zM39.7 8.5h1.7v1.7h-1.7zM29.4 33.9h1v1h-1zM18 45.8h1.4v1.4h-1.4zM48.2 42.1h1.1v1.1h-1.1zM39.1 7.2h1.5v1.5h-1.5zM30.8 1h1.3v1.3h-1.3zM20.2 16h1.1v1.1h-1.1zM51.1 34.8h1.7v1.7h-1.7zM34.9 14.8h1.5v1.5h-1.5zM45.8 12.9h1.4v1.4h-1.4zM15 36.5h1.7v1.7h-1.7zM30.4 6.4h1.8v1.8h-1.8zM36.3 49.2h1.1v1.1h-1.1zM58 14.3h1.2v1.2h-1.2zM54.2 7h1.3v1.3h-1.3zM54.1 43.5h1.3v1.3h-1.3zM16.4 19.1h1.1v1.1h-1.1zM20.7 5.9h1.2v1.2h-1.2zM55.3 25.6h1.6v1.6h-1.6zM27.8 46.7h1.1v1.1h-1.1zM1.1 8.2h1.1v1.1h-1.1zM38 31h1.5v1.5h-1.5zM45.3 31.2h1.4v1.4h-1.4zM50 -0.1h1.2v1.2h-1.2zM46.8 2.2h1.1v1.1h-1.1zM4.3 33.1h1.6v1.6h-1.6zM3.4 5.7h1.7v1.7h-1.7zM57.6 18.8h1.6v1.6h-1.6zM52.6 26.7h1.4v1.4h-1.4zM13.7 28.5h1.2v1.2h-1.2zM24.2 19.4h1.6v1.6h-1.6zM11.6 30.2h1.4v1.4h-1.4zM20.7 45.9h1.2v1.2h-1.2zM1 8.5h1.5v1.5h-1.5zM1.1 24.8h1.2v1.2h-1.2zM16.2 26.3h1.4v1.4h-1.4zM26.1 46.3h1.3v1.3h-1.3zM14.6 49.3h1.1v1.1h-1.1zM49.8 9.7h1.2v1.2h-1.2zM2 40.7h1.8v1.8h-1.8zM4.4 44.8h1.8v1.8h-1.8zM20.3 30.5h1.5v1.5h-1.5zM23.9 16.8h1.8v1.8h-1.8zM11.1 32.6h1.8v1.8h-1.8zM40.1 46.1h1.3v1.3h-1.3zM46.7 41.8h1.7v1.7h-1.7zM47.5 26.4h1v1h-1zM45.8 44.5h1.7v1.7h-1.7zM0.9 13.8h1.6v1.6h-1.6zM63.2 39.5h1.2v1.2h-1.2zM34.3 47.8h1.3v1.3h-1.3zM58.1 48.5h1.2v1.2h-1.2zM9.6 4.8h1.8v1.8h-1.8zM46.2 29.7h1.2v1.2h-1.2zM12.9 42.2h1.5v1.5h-1.5zM38.4 8.8h1.6v1.6h-1.6zM50.7 41.6h1.4v1.4h-1.4zM55.9 31h1.7v1.7h-1.7zM5 1.4h1.4v1.4h-1.4zM-0.7 17.8h1.7v1.7h-1.7zM15.9 44.6h1v1h-1zM41.8 37.8h1.6v1.6h-1.6zM16.8 28.8h1.5v1.5h-1.5zM21.5 8.6h1.1v1.1h-1.1zM28.8 2.6h1.4v1.4h-1.4zM33.3 10.9h1.7v1.7h-1.7zM55.1 40.9h1.6v1.6h-1.6zM10.2 8.3h1.1v1.1h-1.1zM27.9 38.7h1.5v1.5h-1.5zM53.8 28.3h1.4v1.4h-1.4zM7.1 39h1.6v1.6h-1.6zM32.8 14h1.5v1.5h-1.5zM18.4 24.4h1.5v1.5h-1.5zM30.8 20.9h1.2v1.2h-1.2zM63.9 4.1h1.6v1.6h-1.6zM26.7 27.5h1.1v1.1h-1.1zM9.9 19.4h1v1h-1zM58.1 46h1.6v1.6h-1.6zM56.8 17.3h1.7v1.7h-1.7zM24.3 19.3h1.7v1.7h-1.7zM59.9 34.9h1.1v1.1h-1.1zM37.2 6.4h1.7v1.7h-1.7zM5.5 39.7h1.5v1.5h-1.5zM38.5 42h1.2v1.2h-1.2zM56.6 8.8h1.4v1.4h-1.4zM25 4.3h1.2v1.2h-1.2zM27.7 39.4h1.7v1.7h-1.7zM59.8 10.2h1.8v1.8h-1.8zM33.5 18.6h1.4v1.4h-1.4zM5.7 18.8h1.1v1.1h-1.1zM23.7 32.8h1.6v1.6h-1.6zM58.7 17.4h1.6v1.6h-1.6zM14.6 39.1h1.5v1.5h-1.5zM24.5 16.9h1v1h-1zM43.6 6.8h1.2v1.2h-1.2zM16 20.8h1.7v1.7h-1.7zM57 46.4h1.8v1.8h-1.8zM11.8 48.1h1.4v1.4h-1.4zM8.2 17.4h1.7v1.7h-1.7zM17.2 -0h1.4v1.4h-1.4zM32.1 33.5h1.3v1.3h-1.3zM46 42.1h1.2v1.2h-1.2zM63 24.9h1.3v1.3h-1.3zM16.5 17.2h1.4v1.4h-1.4zM10.4 44.8h1.3v1.3h-1.3zM13.5 1.3h1.3v1.3h-1.3zM40.4 39.4h1.6v1.6h-1.6zM29.7 44.8h1.6v1.6h-1.6zM34.9 44.9h1.4v1.4h-1.4zM60.8 23.4h1.2v1.2h-1.2zM62.3 4.3h1.5v1.5h-1.5zM10.9 28h1.1v1.1h-1.1zM52 1h1.3v1.3h-1.3zM51.7 36.6h1.4v1.4h-1.4zM24 13h1.4v1.4h-1.4zM15.3 3.4h1.6v1.6h-1.6zM39.4 6.4h1.5v1.5h-1.5zM21.1 19.7h1.4v1.4h-1.4zM20.8 14.6h1.3v1.3h-1.3zM55.2 45.9h1.7v1.7h-1.7zM49 30.8h1.4v1.4h-1.4zM40.1 9.1h1.7v1.7h-1.7zM0.9 47.6h1.7v1.7h-1.7zM29.5 15h1.1v1.1h-1.1zM31.3 1.9h1.5v1.5h-1.5zM44.6 3.9h1.5v1.5h-1.5zM24.4 1.4h1.3v1.3h-1.3zM7.8 41.6h1.4v1.4h-1.4zM38.2 34.4h1.4v1.4h-1.4zM27.2 44.7h1.6v1.6h-1.6zM5.3 22.9h1v1h-1zM17.9 28.8h1.5v1.5h-1.5zM56.7 48h1.2v1.2h-1.2zM32.8 34.1h1v1h-1zM42 46.8h1.2v1.2h-1.2zM1.8 3.3h1.1v1.1h-1.1zM51.7 32.9h1.4v1.4h-1.4zM54.9 0.7h1v1h-1zM25.1 0.7h1.5v1.5h-1.5zM41.8 25.1h1.7v1.7h-1.7zM31.3 -0.8h1.7v1.7h-1.7zM11.4 13.1h1.4v1.4h-1.4zM12.4 15.1h1.7v1.7h-1.7zM41.5 1.2h1.6v1.6h-1.6zM54.5 9.4h1v1h-1zM49 11.6h1.5v1.5h-1.5zM54.7 0.2h1.1v1.1h-1.1zM13 28.7h1.5v1.5h-1.5zM30 10.6h1.7v1.7h-1.7zM12.6 46.8h1.5v1.5h-1.5zM17.9 28.8h1.4v1.4h-1.4zM46 33.2h1.1v1.1h-1.1zM7.2 22.6h1.2v1.2h-1.2zM10.7 9.2h1.6v1.6h-1.6zM62.3 41.3h1.3v1.3h-1.3zM57.2 28.1h1.7v1.7h-1.7zM5.4 1.2h1.3v1.3h-1.3z"/>
<path transform="translate(447.3,219.6)" fill="#3a86c0" d="M0.7 27h1.2v1.2h-1.2zM34.4 13.3h1.2v1.2h-1.2zM32.1 8h1.8v1.8h-1.8zM52.5 46.4h1.7v1.7h-1.7zM7.4 46.4h1v1h-1zM26.1 46.7h1.2v1.2h-1.2zM13 45.5h1v1h-1zM10.3 33.3h1.4v1.4h-1.4zM55.3 12.2h1.6v1.6h-1.6zM38.5 25.5h1.6v1.6h-1.6zM42.5 49.3h1.1v1.1h-1.1zM41.2 23.4h1.1v1.1h-1.1zM33.3 7h1.8v1.8h-1.8zM61.6 45.9h1.4v1.4h-1.4zM63.3 41h1.1v1.1h-1.1zM25.4 7.9h1.6v1.6h-1.6zM12.7 4.1h1.1v1.1h-1.1zM63.4 7.3h1.8v1.8h-1.8zM61.3 33.6h1.5v1.5h-1.5zM46.8 46.2h1.8v1.8h-1.8zM50.5 36.1h1.3v1.3h-1.3zM54.8 24h1.7v1.7h-1.7zM53.9 26.3h1.6v1.6h-1.6zM48.7 25.7h1.7v1.7h-1.7zM52.5 9.2h1.8v1.8h-1.8zM32.7 27h1.1v1.1h-1.1zM21.4 13.2h1.5v1.5h-1.5zM63.2 49.4h1.5v1.5h-1.5zM57.2 19.1h1.6v1.6h-1.6zM21.4 18.1h1.6v1.6h-1.6zM33.8 32.6h1.7v1.7h-1.7zM50.1 2.8h1.4v1.4h-1.4zM27.3 40.5h1.1v1.1h-1.1zM34.6 2.9h1.4v1.4h-1.4zM63.7 48.8h1.6v1.6h-1.6zM29.1 12.8h1.5v1.5h-1.5zM2.9 44h1.4v1.4h-1.4zM21.2 37.6h1.1v1.1h-1.1zM28.2 17.4h1.6v1.6h-1.6zM3.2 32.9h1.7v1.7h-1.7zM45.8 30.7h1.3v1.3h-1.3zM17.1 7.8h1.1v1.1h-1.1zM59.5 40.7h1.3v1.3h-1.3zM8.3 6.3h1.1v1.1h-1.1zM17.1 23.1h1.4v1.4h-1.4zM55.9 35.1h1.3v1.3h-1.3zM46.2 28.2h1.3v1.3h-1.3zM62.3 14.6h1.2v1.2h-1.2zM16.7 20.3h1.7v1.7h-1.7zM46.9 9.7h1.6v1.6h-1.6zM40.3 41.8h1.5v1.5h-1.5zM49 35.1h1.7v1.7h-1.7zM60.1 13.4h1.3v1.3h-1.3zM16.5 12.2h1.5v1.5h-1.5zM2.4 40.7h1.5v1.5h-1.5zM9.1 23.2h1.6v1.6h-1.6zM60.3 30.1h1.4v1.4h-1.4zM57.8 25.9h1.5v1.5h-1.5zM47.3 13.8h1v1h-1zM17.5 33.5h1.7v1.7h-1.7zM6.9 43.5h1.2v1.2h-1.2zM17.3 27.8h1.7v1.7h-1.7zM41.2 45.9h1.5v1.5h-1.5zM45.5 28.2h1v1h-1zM59.3 0.6h1.1v1.1h-1.1zM63.9 12h1v1h-1zM43.9 9.1h1.1v1.1h-1.1zM42.2 46.6h1.4v1.4h-1.4zM28.4 32.9h1.1v1.1h-1.1zM24.2 39.5h1.2v1.2h-1.2zM43 16.3h1.4v1.4h-1.4zM34 11.2h1.5v1.5h-1.5zM59.1 21.1h1.2v1.2h-1.2zM43.1 42.1h1.1v1.1h-1.1zM59.2 25.6h1.4v1.4h-1.4zM4.9 29.6h1.1v1.1h-1.1zM46.4 3.4h1.6v1.6h-1.6zM35.5 8.2h1.1v1.1h-1.1zM19.3 23.9h1.2v1.2h-1.2zM61.2 38.8h1.3v1.3h-1.3zM15.6 45.9h1.2v1.2h-1.2zM51.5 6.1h1.4v1.4h-1.4zM61.9 19.1h1.1v1.1h-1.1zM62.5 21.7h1.5v1.5h-1.5zM33.8 37.9h1.1v1.1h-1.1zM64 21.9h1.4v1.4h-1.4zM30.5 41.5h1.6v1.6h-1.6zM31.4 24.4h1.8v1.8h-1.8zM58 37h1.4v1.4h-1.4zM63 45.1h1.2v1.2h-1.2zM18.6 3.9h1.1v1.1h-1.1zM32.2 40.1h1.4v1.4h-1.4zM54 19.5h1.7v1.7h-1.7zM35.9 5.5h1.4v1.4h-1.4zM29.8 1.9h1.2v1.2h-1.2zM19.5 23.5h1.5v1.5h-1.5zM47.7 0.6h1.3v1.3h-1.3zM35.9 1.5h1.6v1.6h-1.6zM19 16.8h1.6v1.6h-1.6zM6.6 15.8h1.8v1.8h-1.8zM42.9 18.5h1.5v1.5h-1.5zM32.8 41.5h1.7v1.7h-1.7zM55.6 45h1.2v1.2h-1.2zM0.7 19.7h1.2v1.2h-1.2zM11.1 3.1h1.3v1.3h-1.3zM23.7 30.4h1.1v1.1h-1.1zM21.9 26.8h1.7v1.7h-1.7zM2.7 5.2h1.3v1.3h-1.3zM53.1 -0.2h1.4v1.4h-1.4zM15.7 17.1h1.2v1.2h-1.2zM29 32.8h1.2v1.2h-1.2zM59.4 27.5h1.6v1.6h-1.6zM23.7 2.7h1.4v1.4h-1.4zM12 7.2h1.5v1.5h-1.5zM24.4 44.9h1.2v1.2h-1.2zM61.6 16.9h1.7v1.7h-1.7zM42.4 26.8h1.4v1.4h-1.4zM1.1 49h1.1v1.1h-1.1zM7.4 12.6h1.4v1.4h-1.4zM2.2 23.5h1.4v1.4h-1.4zM52 46.8h1.1v1.1h-1.1zM34.8 24.1h1.3v1.3h-1.3zM32.2 37.7h1.2v1.2h-1.2zM17.6 49h1.5v1.5h-1.5zM-0.4 47.1h1.2v1.2h-1.2zM5.5 17.4h1v1h-1zM56.3 44.8h1.3v1.3h-1.3zM44.7 3.2h1.1v1.1h-1.1zM11.3 10.1h1.2v1.2h-1.2zM23.9 22.4h1.8v1.8h-1.8zM49.8 49.5h1.1v1.1h-1.1zM45.6 26.8h1.1v1.1h-1.1zM39.6 25.8h1.6v1.6h-1.6zM48.9 18.2h1.1v1.1h-1.1zM59.6 46.5h1.6v1.6h-1.6zM15.6 1.1h1.1v1.1h-1.1zM46.9 14.2h1.7v1.7h-1.7zM9.7 4.3h1.6v1.6h-1.6zM37.4 14.2h1.6v1.6h-1.6zM12.7 21.5h1.8v1.8h-1.8zM63.4 38.7h1.4v1.4h-1.4zM41.1 32.5h1.1v1.1h-1.1zM53.9 7.7h1.1v1.1h-1.1zM49.4 12h1.4v1.4h-1.4zM58.5 24.7h1.2v1.2h-1.2zM0.5 27h1.1v1.1h-1.1zM40.8 43.2h1.8v1.8h-1.8zM51.1 36h1.7v1.7h-1.7zM31.2 22.8h1.6v1.6h-1.6zM-0.1 23.5h1.3v1.3h-1.3zM54.7 8.5h1.2v1.2h-1.2zM42.5 19.5h1.1v1.1h-1.1zM21.8 11.6h1.3v1.3h-1.3zM21.6 32.9h1.7v1.7h-1.7zM25.9 44.5h1.4v1.4h-1.4zM59.1 12.8h1.7v1.7h-1.7zM38.9 4.5h1.1v1.1h-1.1zM54.9 47.5h1.6v1.6h-1.6zM1.4 31.7h1.1v1.1h-1.1zM18.3 49h1.4v1.4h-1.4zM22.7 26.3h1.1v1.1h-1.1zM23.4 18.4h1.4v1.4h-1.4zM41.5 10.3h1.7v1.7h-1.7zM1.9 43.6h1.3v1.3h-1.3zM45.2 30.1h1.6v1.6h-1.6zM64.3 44.9h1.6v1.6h-1.6zM36.3 6.5h1.8v1.8h-1.8zM48.8 14.4h1.7v1.7h-1.7zM51.4 46.6h1.1v1.1h-1.1zM59.6 1.7h1.4v1.4h-1.4zM44 49.2h1.3v1.3h-1.3zM17.8 14.3h1.3v1.3h-1.3zM1.9 25.6h1.1v1.1h-1.1zM50.7 45.2h1.1v1.1h-1.1zM51.8 42.4h1.4v1.4h-1.4zM33.8 32.3h1.7v1.7h-1.7zM46.4 43h1.1v1.1h-1.1zM3.2 11.5h1.7v1.7h-1.7zM39.9 1.9h1.5v1.5h-1.5zM53.5 25.2h1.8v1.8h-1.8zM31.5 39.2h1.1v1.1h-1.1zM9 8.2h1.8v1.8h-1.8zM53.3 44.3h1.5v1.5h-1.5zM62.6 27.3h1.8v1.8h-1.8zM61.3 1h1.4v1.4h-1.4zM8.4 7h1.6v1.6h-1.6zM23.4 26.3h1.3v1.3h-1.3zM64.6 46.8h1v1h-1zM15.8 8.2h1.1v1.1h-1.1zM50.8 37.5h1.7v1.7h-1.7zM3.2 19.7h1.2v1.2h-1.2zM39.8 49h1.6v1.6h-1.6zM19.3 11.6h1.4v1.4h-1.4zM41.9 29.9h1.1v1.1h-1.1zM63.2 8.1h1.8v1.8h-1.8zM0.6 7.2h1.1v1.1h-1.1zM35.1 0.6h1v1h-1zM23.2 24.4h1.1v1.1h-1.1zM43.6 13.9h1.7v1.7h-1.7zM54.3 3.4h1.2v1.2h-1.2zM24.4 45.5h1.2v1.2h-1.2zM27.4 5.2h1.2v1.2h-1.2zM21.3 24h1.1v1.1h-1.1zM29.4 13.2h1.5v1.5h-1.5zM10.4 31.6h1.7v1.7h-1.7zM60.1 28.6h1.2v1.2h-1.2zM34.8 46.7h1.2v1.2h-1.2zM13.9 12.9h1.5v1.5h-1.5zM11.3 38.7h1.5v1.5h-1.5zM17.2 28.3h1.5v1.5h-1.5zM31.2 11h1.2v1.2h-1.2zM63.2 32.6h1.5v1.5h-1.5zM42.5 14.5h1.6v1.6h-1.6zM18.2 9.5h1.6v1.6h-1.6zM60.5 44.1h1.3v1.3h-1.3zM7.1 19.6h1.3v1.3h-1.3z"/>
<path transform="translate(447.3,219.6)" fill="#8ab4d4" d="M60.7 0.5h1.6v1.6h-1.6zM54.6 17.9h1.5v1.5h-1.5zM48.2 15.6h1.1v1.1h-1.1zM26.7 10.2h1.3v1.3h-1.3zM24.7 24h1.8v1.8h-1.8zM13.2 7.3h1.1v1.1h-1.1zM4.4 43.3h1.7v1.7h-1.7zM27.9 6.2h1.8v1.8h-1.8zM10.9 32h1.7v1.7h-1.7zM28.8 39.7h1.2v1.2h-1.2zM7.7 34.8h1.6v1.6h-1.6zM21.3 41h1.7v1.7h-1.7zM21.4 29.7h1.1v1.1h-1.1zM26 37h1.4v1.4h-1.4zM48.8 39.7h1v1h-1zM45.6 46.8h1.1v1.1h-1.1zM34 0.2h1.7v1.7h-1.7zM8.4 1.5h1.2v1.2h-1.2zM43.5 26.7h1.2v1.2h-1.2zM21.1 26.3h1.5v1.5h-1.5zM61 20.9h1.6v1.6h-1.6zM47.4 27.3h1.4v1.4h-1.4zM52.5 37.9h1.7v1.7h-1.7zM36.4 12.6h1.7v1.7h-1.7zM33.7 12.9h1.5v1.5h-1.5zM9.7 23.8h1.8v1.8h-1.8zM10.3 22.9h1.3v1.3h-1.3zM2.8 36.1h1.2v1.2h-1.2zM59.4 47.9h1.4v1.4h-1.4zM36.8 4.3h1.3v1.3h-1.3zM32.4 22.7h1.6v1.6h-1.6zM54.9 5.9h1.4v1.4h-1.4zM64.2 7.7h1.6v1.6h-1.6zM16.9 37.4h1.1v1.1h-1.1zM8.7 17.9h1.2v1.2h-1.2zM25.3 28.8h1.2v1.2h-1.2zM10.1 7.9h1.1v1.1h-1.1zM43.6 46.7h1.1v1.1h-1.1zM33.5 36.3h1.2v1.2h-1.2zM58.8 24.4h1.8v1.8h-1.8zM39.5 45.6h1.5v1.5h-1.5zM53 42.5h1.2v1.2h-1.2zM56.6 33.9h1.1v1.1h-1.1zM29 34.4h1.5v1.5h-1.5zM41.2 38.3h1.8v1.8h-1.8zM19.9 8.2h1.5v1.5h-1.5zM61.4 17.6h1.7v1.7h-1.7zM50.6 14.8h1.5v1.5h-1.5zM52.3 6.9h1.5v1.5h-1.5zM23.9 30.8h1.5v1.5h-1.5zM50.7 34.6h1.2v1.2h-1.2zM5.9 30.9h1.6v1.6h-1.6zM16.4 20.1h1.6v1.6h-1.6zM47.9 35.3h1.1v1.1h-1.1zM24.8 6.3h1.5v1.5h-1.5zM60.2 15.7h1.4v1.4h-1.4zM61.8 14.8h1.4v1.4h-1.4zM27.4 4.2h1.5v1.5h-1.5zM50.7 46.2h1.3v1.3h-1.3zM50.2 46.5h1.4v1.4h-1.4zM55.9 43.3h1.5v1.5h-1.5zM16 36.5h1.7v1.7h-1.7zM19.8 17.1h1.5v1.5h-1.5zM9 18.2h1.1v1.1h-1.1zM37.6 33.2h1.4v1.4h-1.4zM11.1 36.5h1.7v1.7h-1.7zM4.2 47.2h1.3v1.3h-1.3zM2.9 44.2h1.1v1.1h-1.1zM-0.3 33.9h1.2v1.2h-1.2zM58.3 32.2h1.4v1.4h-1.4zM38.5 12.9h1.6v1.6h-1.6zM60.4 36.3h1.1v1.1h-1.1zM11.5 40.2h1.4v1.4h-1.4zM62.6 23.9h1.6v1.6h-1.6zM14.4 43.6h1.2v1.2h-1.2zM11.3 11.2h1.8v1.8h-1.8zM1.8 42.1h1.7v1.7h-1.7zM19.2 36h1.4v1.4h-1.4zM-0.2 5h1.4v1.4h-1.4zM4.8 15.9h1.1v1.1h-1.1zM54.7 36.8h1.2v1.2h-1.2zM55.2 33.7h1.2v1.2h-1.2zM26.6 41h1.5v1.5h-1.5zM58.2 43.9h1.5v1.5h-1.5zM38.8 8.5h1.7v1.7h-1.7zM29.8 49h1.5v1.5h-1.5zM36.2 20.2h1.1v1.1h-1.1zM0.7 44.4h1v1h-1zM55.9 39.6h1.4v1.4h-1.4zM34.7 45.3h1.1v1.1h-1.1zM26.3 -0.1h1.5v1.5h-1.5zM9.6 23.6h1.5v1.5h-1.5zM56.3 26.2h1.6v1.6h-1.6zM49.2 8.9h1.1v1.1h-1.1zM5.2 46.3h1.7v1.7h-1.7zM30.5 4.5h1.1v1.1h-1.1zM34.1 1.1h1.6v1.6h-1.6zM61.4 13.5h1.5v1.5h-1.5zM8.3 27.5h1.7v1.7h-1.7zM29.9 44.6h1.5v1.5h-1.5zM62.6 40h1.6v1.6h-1.6zM28.5 0.7h1.7v1.7h-1.7zM36.3 36.5h1.3v1.3h-1.3zM50.3 16.9h1.6v1.6h-1.6zM60.8 43.5h1.5v1.5h-1.5zM40.3 41.9h1.4v1.4h-1.4zM63.2 43.1h1.7v1.7h-1.7zM30.7 24.2h1.1v1.1h-1.1zM47.2 44.1h1.5v1.5h-1.5zM10.4 1h1.1v1.1h-1.1zM42.2 45h1.1v1.1h-1.1zM17.3 31.5h1.8v1.8h-1.8zM62.1 1.4h1.5v1.5h-1.5zM49 7.5h1.6v1.6h-1.6zM22.7 41.9h1.7v1.7h-1.7zM14.4 25.2h1.7v1.7h-1.7zM18.8 2.8h1.5v1.5h-1.5zM63.5 35.9h1.4v1.4h-1.4zM53.9 36.4h1.3v1.3h-1.3zM55.7 42.4h1.3v1.3h-1.3zM8.9 18.1h1.4v1.4h-1.4zM61.3 3.7h1.6v1.6h-1.6zM19.3 25.9h1.6v1.6h-1.6zM58.1 33.9h1.5v1.5h-1.5zM62.7 10.2h1.7v1.7h-1.7zM6.8 33h1.7v1.7h-1.7zM24.8 47.8h1.3v1.3h-1.3zM57.5 34.7h1.6v1.6h-1.6zM0.9 36.6h1.2v1.2h-1.2zM38.1 -0.6h1.5v1.5h-1.5zM28.9 21.9h1.4v1.4h-1.4zM55.4 24.2h1.6v1.6h-1.6zM13.6 40.6h1.1v1.1h-1.1zM34.4 6.3h1.3v1.3h-1.3zM28.6 14.6h1.3v1.3h-1.3zM9.6 8.6h1.8v1.8h-1.8zM6.3 15.4h1.2v1.2h-1.2zM41.7 45.1h1.5v1.5h-1.5zM7 22.3h1.3v1.3h-1.3zM11.4 43.8h1.2v1.2h-1.2zM30.9 0.9h1.1v1.1h-1.1zM34.2 6.2h1.2v1.2h-1.2zM60.8 21.1h1.3v1.3h-1.3zM53 48.1h1.4v1.4h-1.4zM24 29.5h1.7v1.7h-1.7zM61.5 0.9h1.2v1.2h-1.2zM2.8 41h1.5v1.5h-1.5zM9.9 45.5h1.7v1.7h-1.7zM7 39.8h1.7v1.7h-1.7zM36.3 0.6h1.4v1.4h-1.4zM32.4 21.8h1.4v1.4h-1.4zM1.1 11h1.5v1.5h-1.5zM27.2 6.7h1.3v1.3h-1.3zM41.7 43h1.3v1.3h-1.3zM5.7 44.6h1.2v1.2h-1.2zM10.6 44.3h1.6v1.6h-1.6zM21.8 10.7h1.8v1.8h-1.8zM20.5 14.3h1.4v1.4h-1.4zM7.5 6.5h1.7v1.7h-1.7zM12.7 42.3h1.6v1.6h-1.6zM17.2 49.4h1.3v1.3h-1.3zM23.5 38.2h1.3v1.3h-1.3zM26.2 0.5h1.2v1.2h-1.2zM18.6 36.1h1.5v1.5h-1.5zM61.9 11.1h1.8v1.8h-1.8zM53.3 30.5h1.5v1.5h-1.5zM58.3 12h1.4v1.4h-1.4zM49.6 39.2h1v1h-1zM25.5 36.8h1.3v1.3h-1.3zM39.3 12.7h1.8v1.8h-1.8zM12.5 39.8h1.5v1.5h-1.5zM3.6 20.4h1.4v1.4h-1.4zM46.6 12.3h1.4v1.4h-1.4zM47.8 39.5h1.3v1.3h-1.3zM29.3 49.2h1.7v1.7h-1.7zM3.2 3h1v1h-1zM26.3 10.6h1.7v1.7h-1.7zM54.1 0.2h1.1v1.1h-1.1zM56.6 0.9h1.3v1.3h-1.3zM45.1 18.2h1.2v1.2h-1.2zM32.2 10.8h1.3v1.3h-1.3zM36.4 42.5h1.2v1.2h-1.2zM40.2 19.8h1.1v1.1h-1.1zM3.4 26.8h1.6v1.6h-1.6zM36.7 40.9h1.3v1.3h-1.3zM52.3 38.1h1.7v1.7h-1.7zM20.6 9.1h1.7v1.7h-1.7z"/>
<path transform="translate(447.3,219.6)" fill="#d8dcd8" d="M11.7 14.7h1.8v1.8h-1.8zM44.7 44.2h1.5v1.5h-1.5zM58.2 32.3h1v1h-1zM59.7 16.3h1.3v1.3h-1.3zM16.8 42.2h1.5v1.5h-1.5zM26.3 34.9h1.7v1.7h-1.7zM22.8 38h1v1h-1zM21.3 20.9h1.6v1.6h-1.6zM43.1 43.5h1.7v1.7h-1.7zM30.6 43.9h1.2v1.2h-1.2zM19.5 10.9h1.4v1.4h-1.4zM9.3 2.5h1.7v1.7h-1.7zM4.7 13h1.2v1.2h-1.2zM57.4 34.6h1.3v1.3h-1.3zM14.4 27.1h1.4v1.4h-1.4zM56.9 21.8h1.7v1.7h-1.7zM30.1 44.5h1.7v1.7h-1.7zM13.9 12.9h1.8v1.8h-1.8zM17.1 37.1h1.7v1.7h-1.7zM1.4 12.7h1.1v1.1h-1.1zM62.8 14.3h1.1v1.1h-1.1zM47.9 32.4h1.6v1.6h-1.6zM47.6 26.5h1.3v1.3h-1.3zM38.3 49h1.1v1.1h-1.1zM59.3 17.6h1.1v1.1h-1.1zM26.8 44.9h1.8v1.8h-1.8zM36.4 9h1.5v1.5h-1.5zM27.5 17.3h1.2v1.2h-1.2zM22 28h1.6v1.6h-1.6zM5.7 42.8h1v1h-1zM24.5 2.7h1.6v1.6h-1.6zM28.2 46.9h1.2v1.2h-1.2zM21 9.6h1.5v1.5h-1.5zM25.7 11.7h1.7v1.7h-1.7zM11 14.5h1.6v1.6h-1.6zM59.4 40.5h1.3v1.3h-1.3zM18.1 17h1.1v1.1h-1.1zM18.2 20.2h1.3v1.3h-1.3zM55.5 44.2h1.1v1.1h-1.1zM14.1 49.3h1.3v1.3h-1.3zM63.4 29.3h1.2v1.2h-1.2zM53.9 17.4h1.5v1.5h-1.5zM43.3 35.3h1.1v1.1h-1.1zM57.8 0.6h1.2v1.2h-1.2zM46.8 41.9h1.4v1.4h-1.4zM25.2 29.1h1.6v1.6h-1.6zM10.8 49.3h1.7v1.7h-1.7zM11.4 4.2h1.2v1.2h-1.2zM57.9 40h1.3v1.3h-1.3zM5.8 21.7h1.6v1.6h-1.6zM27.4 46.5h1.5v1.5h-1.5zM39.5 1.7h1.4v1.4h-1.4zM45.7 35.7h1.1v1.1h-1.1zM38.3 35h1.8v1.8h-1.8zM16.3 47.8h1.3v1.3h-1.3zM63.8 41.3h1.7v1.7h-1.7zM10.9 26.8h1.5v1.5h-1.5zM2 32.3h1.6v1.6h-1.6zM40.5 6.9h1v1h-1zM52.8 23.1h1v1h-1zM55.1 41.7h1.5v1.5h-1.5zM41.2 5.5h1.3v1.3h-1.3zM44.4 25.2h1.3v1.3h-1.3zM3 35.6h1.5v1.5h-1.5zM22.3 17.4h1.1v1.1h-1.1zM58.2 5.4h1.7v1.7h-1.7zM13.5 35.3h1v1h-1zM31.8 4h1.5v1.5h-1.5zM23.6 21.2h1.7v1.7h-1.7zM8.4 13.1h1.2v1.2h-1.2zM2.8 6.7h1v1h-1zM19.7 10.5h1.7v1.7h-1.7zM57.5 23.1h1.8v1.8h-1.8zM5.9 36.1h1.2v1.2h-1.2zM49.7 43h1.2v1.2h-1.2zM13.5 33.4h1.3v1.3h-1.3zM5.1 21.9h1.4v1.4h-1.4zM62.3 43.2h1.3v1.3h-1.3zM46.7 12.2h1.7v1.7h-1.7zM41.6 10.6h1.3v1.3h-1.3zM62.4 40.6h1.1v1.1h-1.1zM16.8 18.4h1.6v1.6h-1.6zM55.7 44.3h1.5v1.5h-1.5zM59 9.6h1.2v1.2h-1.2zM18 49h1.1v1.1h-1.1zM57.9 18.1h1.3v1.3h-1.3zM35.9 3.9h1.2v1.2h-1.2zM50.3 9.3h1v1h-1zM1.1 2h1.4v1.4h-1.4zM59.3 9h1.1v1.1h-1.1zM21.6 37.3h1.7v1.7h-1.7zM58 29.8h1.2v1.2h-1.2zM31.5 16.2h1.1v1.1h-1.1zM26.3 32h1.3v1.3h-1.3zM39.3 31.6h1.5v1.5h-1.5zM31.8 39.5h1.5v1.5h-1.5zM22.7 36.8h1.3v1.3h-1.3zM8.4 38.7h1.1v1.1h-1.1zM37 34.9h1.7v1.7h-1.7zM0.3 24h1.2v1.2h-1.2zM20.3 36.6h1.7v1.7h-1.7zM61.8 46.9h1.6v1.6h-1.6zM29.7 7.9h1v1h-1zM11.6 24.8h1.4v1.4h-1.4zM20.6 13h1.6v1.6h-1.6zM19.4 37.8h1v1h-1zM38 23.7h1.6v1.6h-1.6zM54.9 33.8h1.4v1.4h-1.4zM16.5 8.8h1.4v1.4h-1.4zM52 37.3h1.1v1.1h-1.1zM31.3 3.6h1.3v1.3h-1.3zM64.4 17.2h1.4v1.4h-1.4zM12.4 7.8h1.6v1.6h-1.6zM18.8 6.2h1.8v1.8h-1.8zM17.2 42.3h1.7v1.7h-1.7zM41.1 28.3h1.5v1.5h-1.5zM33 17.3h1.1v1.1h-1.1zM57 6.7h1.5v1.5h-1.5zM29.7 12.8h1.7v1.7h-1.7zM29.4 18.9h1.6v1.6h-1.6zM27.4 23h1.3v1.3h-1.3zM16.6 17.3h1.2v1.2h-1.2zM23.4 29.7h1.1v1.1h-1.1zM60.2 7.5h1.4v1.4h-1.4zM13.7 17.5h1.4v1.4h-1.4zM17.2 35.6h1.1v1.1h-1.1zM40 44.6h1.5v1.5h-1.5zM2.8 0.6h1.3v1.3h-1.3zM18.3 31.8h1.3v1.3h-1.3zM9.4 10h1.1v1.1h-1.1zM37.1 12.3h1.5v1.5h-1.5zM49.1 29.1h1.1v1.1h-1.1zM34.4 29.1h1.2v1.2h-1.2zM28.9 3h1.7v1.7h-1.7zM2.8 10.8h1.1v1.1h-1.1zM27.6 38.2h1.6v1.6h-1.6zM62.3 27.8h1.3v1.3h-1.3zM42.6 1h1.2v1.2h-1.2zM17.2 6.3h1.7v1.7h-1.7zM0.8 41.9h1.6v1.6h-1.6zM52 11.4h1.5v1.5h-1.5zM60.7 -0.6h1.4v1.4h-1.4zM17.5 24.3h1.3v1.3h-1.3zM62.1 33.5h1.3v1.3h-1.3zM54.1 44.4h1.3v1.3h-1.3zM18 13.6h1.5v1.5h-1.5zM46 5.8h1.5v1.5h-1.5zM45.7 12.1h1.3v1.3h-1.3zM58.1 47.8h1.5v1.5h-1.5zM11.6 41.3h1.2v1.2h-1.2zM45.7 34.7h1.3v1.3h-1.3zM16.1 29.3h1.6v1.6h-1.6zM31.8 35.6h1.1v1.1h-1.1zM25.5 2.4h1.8v1.8h-1.8zM43.6 14.2h1v1h-1zM23.5 25.7h1v1h-1zM13.2 42.9h1.7v1.7h-1.7zM1.6 2.4h1.4v1.4h-1.4zM28.3 5.8h1.5v1.5h-1.5zM23.9 29.4h1.7v1.7h-1.7zM36.4 42.7h1.8v1.8h-1.8zM6.6 36.1h1.1v1.1h-1.1zM38.2 34.2h1.6v1.6h-1.6zM44.1 43.7h1.1v1.1h-1.1zM0.9 29h1.7v1.7h-1.7zM37.6 37h1.1v1.1h-1.1zM15.8 29.3h1.5v1.5h-1.5zM61.2 40h1.6v1.6h-1.6zM2.5 41h1.6v1.6h-1.6zM39.1 26.4h1.7v1.7h-1.7zM24.5 3h1.4v1.4h-1.4zM8.6 15.2h1v1h-1zM16.9 -0.4h1.5v1.5h-1.5zM0.4 32.3h1.2v1.2h-1.2zM33.9 6.7h1.6v1.6h-1.6zM51.6 31.1h1.7v1.7h-1.7zM1.1 3.4h1v1h-1zM44.1 5.4h1.3v1.3h-1.3zM7 31.6h1.7v1.7h-1.7zM16.4 31.5h1.2v1.2h-1.2zM51.2 -0h1.4v1.4h-1.4zM25.8 38h1.5v1.5h-1.5zM30.7 27.3h1.3v1.3h-1.3zM52.3 44.6h1.3v1.3h-1.3zM12.3 36.6h1.1v1.1h-1.1zM61.5 15.6h1.5v1.5h-1.5zM27.8 45.1h1.4v1.4h-1.4zM57 28.5h1.7v1.7h-1.7zM5.3 15.6h1.6v1.6h-1.6zM53 47.7h1.7v1.7h-1.7zM8.2 34.7h1.7v1.7h-1.7zM41.9 35h1.7v1.7h-1.7zM39.7 15.6h1.7v1.7h-1.7zM39.9 30.8h1.6v1.6h-1.6zM26 15.4h1.1v1.1h-1.1zM17.4 17.5h1.3v1.3h-1.3zM44.9 16.5h1.5v1.5h-1.5zM24.8 11.9h1.4v1.4h-1.4zM57.4 -0.4h1.7v1.7h-1.7zM13.5 24.2h1.7v1.7h-1.7zM56.4 10.8h1v1h-1zM2 12.5h1v1h-1zM57.1 23h1.1v1.1h-1.1zM1.9 48.4h1.7v1.7h-1.7zM29.1 47.3h1.3v1.3h-1.3zM64.5 26.7h1v1h-1zM45.8 28.4h1.1v1.1h-1.1zM52.1 26.2h1.5v1.5h-1.5zM14.9 32.5h1.3v1.3h-1.3zM10.3 42.7h1.1v1.1h-1.1zM11 22.9h1.1v1.1h-1.1zM48.4 26.5h1.6v1.6h-1.6zM53 8.3h1.3v1.3h-1.3zM6.3 45.6h1.3v1.3h-1.3zM62 23.6h1.1v1.1h-1.1zM34.6 48.3h1.6v1.6h-1.6zM19.3 28.6h1.7v1.7h-1.7zM11.9 45.4h1.4v1.4h-1.4zM46.7 7.9h1.2v1.2h-1.2zM24.6 9.4h1.4v1.4h-1.4zM33.7 10.5h1.4v1.4h-1.4zM6.6 19.9h1.3v1.3h-1.3zM27.9 9.2h1.8v1.8h-1.8zM27.1 16.3h1.6v1.6h-1.6zM27.1 7.6h1.7v1.7h-1.7zM11.4 4.2h1.3v1.3h-1.3zM40.9 31.7h1.5v1.5h-1.5zM53.1 15.4h1.6v1.6h-1.6z"/>
<path transform="translate(447.3,219.6)" fill="#a8c4d8" d="M36.7 43.7h1.2v1.2h-1.2zM3.2 10.6h1.7v1.7h-1.7zM2.7 45.9h1.3v1.3h-1.3zM24.4 20.7h1.7v1.7h-1.7zM52.3 38.8h1v1h-1zM61.2 7.3h1.6v1.6h-1.6zM6.6 30.3h1.8v1.8h-1.8zM10.8 44.5h1.6v1.6h-1.6zM51.7 47h1.8v1.8h-1.8zM26.2 -0h1.4v1.4h-1.4zM37.3 30.6h1.2v1.2h-1.2zM24.2 42h1.2v1.2h-1.2zM42.2 34.4h1.4v1.4h-1.4zM20.3 15.6h1.7v1.7h-1.7zM12.3 6.2h1.4v1.4h-1.4zM33.7 8.5h1.3v1.3h-1.3zM-0 -0.5h1.4v1.4h-1.4zM62.2 44.1h1.3v1.3h-1.3zM9.3 17.5h1.4v1.4h-1.4zM27.5 35.2h1.7v1.7h-1.7zM10.1 21h1v1h-1zM32.8 8.9h1.4v1.4h-1.4zM59.2 32.5h1.2v1.2h-1.2zM1.6 31h1.4v1.4h-1.4zM7.6 8.4h1.7v1.7h-1.7zM49.5 8.8h1.3v1.3h-1.3zM34.5 46.7h1.1v1.1h-1.1zM36.7 8.4h1.1v1.1h-1.1zM44 29.3h1.6v1.6h-1.6zM31.8 7.4h1v1h-1zM3.5 20h1.7v1.7h-1.7zM13.2 18.7h1.4v1.4h-1.4zM51.3 41.8h1.2v1.2h-1.2zM55.7 16.4h1.6v1.6h-1.6zM33.7 47.1h1.5v1.5h-1.5zM30.3 31.5h1.2v1.2h-1.2zM23 24.9h1.7v1.7h-1.7zM64.3 39.3h1.1v1.1h-1.1zM12.1 28.5h1v1h-1zM4.1 6.1h1.6v1.6h-1.6zM34.7 29h1.2v1.2h-1.2zM55.8 15.8h1.3v1.3h-1.3zM8.3 40.1h1.1v1.1h-1.1zM35.5 21.3h1.3v1.3h-1.3zM27.7 16.3h1.4v1.4h-1.4zM31.5 45.5h1.3v1.3h-1.3zM18.9 8.6h1.8v1.8h-1.8zM58.1 10.9h1.2v1.2h-1.2zM22.7 1.7h1v1h-1zM27.7 25.9h1.5v1.5h-1.5zM0.9 45.8h1.5v1.5h-1.5zM13.8 1.2h1.8v1.8h-1.8zM45 9.7h1.3v1.3h-1.3zM57.7 21.3h1.3v1.3h-1.3zM63.4 23.3h1.8v1.8h-1.8zM3.8 35.8h1.2v1.2h-1.2zM36.2 43.6h1.6v1.6h-1.6zM46.9 1.7h1.7v1.7h-1.7zM28.8 -0.2h1.2v1.2h-1.2zM26.7 13.6h1.1v1.1h-1.1zM40 7.2h1.1v1.1h-1.1zM25.6 19.9h1.2v1.2h-1.2zM2 33.6h1.4v1.4h-1.4zM38.9 28.9h1.3v1.3h-1.3zM38.7 49h1.2v1.2h-1.2zM16.5 49.1h1.4v1.4h-1.4zM55.8 24.1h1.7v1.7h-1.7zM20.6 3h1.4v1.4h-1.4zM14.8 12h1.3v1.3h-1.3zM64.5 45.2h1.3v1.3h-1.3zM53 38.8h1.4v1.4h-1.4zM54.4 47.5h1.3v1.3h-1.3zM50.5 36.5h1.2v1.2h-1.2zM8.6 6.4h1.5v1.5h-1.5zM51.2 11.5h1.1v1.1h-1.1zM57.8 27.3h1.7v1.7h-1.7zM43.1 18.4h1.1v1.1h-1.1zM30 41.8h1.4v1.4h-1.4zM51 36.5h1.2v1.2h-1.2zM4.3 11.2h1.3v1.3h-1.3zM54.6 37.7h1.4v1.4h-1.4zM31.9 20.2h1.6v1.6h-1.6zM5.4 47.5h1.2v1.2h-1.2zM62.8 31.1h1.5v1.5h-1.5zM6.7 38.9h1.2v1.2h-1.2zM54 30.7h1.7v1.7h-1.7zM16.7 14.4h1.7v1.7h-1.7zM47.7 32.2h1.1v1.1h-1.1zM37.7 16.6h1v1h-1zM8 22.1h1.1v1.1h-1.1zM62.1 14.5h1.6v1.6h-1.6zM42.1 21.8h1.7v1.7h-1.7zM23.1 21.1h1.2v1.2h-1.2zM48.1 42.5h1.4v1.4h-1.4zM25.8 45.9h1.6v1.6h-1.6zM5.4 16.1h1.5v1.5h-1.5zM25.2 -0.5h1.6v1.6h-1.6zM19 38.3h1.2v1.2h-1.2zM46.4 5.6h1.2v1.2h-1.2zM25.9 21.8h1.3v1.3h-1.3zM10.7 24.2h1.2v1.2h-1.2zM6.6 10.4h1.3v1.3h-1.3zM34.2 37.4h1.3v1.3h-1.3zM26.4 1.1h1.5v1.5h-1.5zM58.5 10.8h1.1v1.1h-1.1zM19.8 33.8h1.7v1.7h-1.7zM51.8 10h1.3v1.3h-1.3zM57.2 15.8h1.4v1.4h-1.4zM16.1 3.9h1.3v1.3h-1.3zM2.6 7.8h1.8v1.8h-1.8zM52.7 46.4h1.6v1.6h-1.6zM12.5 40.5h1.3v1.3h-1.3zM15.4 3.5h1.4v1.4h-1.4zM6 21.6h1v1h-1zM27.6 22.8h1.1v1.1h-1.1zM29.5 45.5h1.1v1.1h-1.1zM3.4 37.2h1.5v1.5h-1.5zM39.1 21.6h1.3v1.3h-1.3zM44 27.6h1.3v1.3h-1.3zM19.2 48.8h1.3v1.3h-1.3zM45.8 9.8h1.5v1.5h-1.5zM23 15h1.2v1.2h-1.2zM12.9 5.2h1.1v1.1h-1.1zM47.6 6h1v1h-1zM46.1 -0.5h1.8v1.8h-1.8zM21.5 32.5h1.6v1.6h-1.6zM54.8 44.1h1v1h-1zM22.1 29.5h1.8v1.8h-1.8zM9.4 36.5h1.2v1.2h-1.2zM54.8 43.8h1.7v1.7h-1.7zM43.1 12.5h1.8v1.8h-1.8zM4.1 13.5h1.7v1.7h-1.7zM33.2 22.8h1.3v1.3h-1.3zM42.4 45.4h1.3v1.3h-1.3zM37.7 34.2h1.1v1.1h-1.1zM43.7 14.7h1.2v1.2h-1.2zM56.5 26.2h1.5v1.5h-1.5zM48.5 6.7h1v1h-1zM49.3 40.1h1.2v1.2h-1.2zM59.4 23.5h1.5v1.5h-1.5zM7.3 19.2h1.6v1.6h-1.6zM38.6 0.7h1.1v1.1h-1.1zM2.1 19.1h1.6v1.6h-1.6zM8.8 44.5h1.1v1.1h-1.1zM51.8 13.3h1.2v1.2h-1.2zM8.9 35.3h1.2v1.2h-1.2zM1 8.3h1.4v1.4h-1.4zM46.4 27.5h1.6v1.6h-1.6zM10.1 19.7h1.4v1.4h-1.4zM10.4 5.9h1.4v1.4h-1.4zM64.2 42.3h1v1h-1zM60.8 29.3h1.2v1.2h-1.2zM32.7 33.2h1.7v1.7h-1.7zM39.1 11.3h1.2v1.2h-1.2zM29 42h1.3v1.3h-1.3zM18.2 1.8h1.1v1.1h-1.1zM9.2 17.3h1.5v1.5h-1.5zM41.9 22.7h1.8v1.8h-1.8zM52.7 41.9h1.5v1.5h-1.5zM40.4 2h1v1h-1zM17.2 9.7h1.2v1.2h-1.2zM50.9 18.6h1.2v1.2h-1.2zM29.5 11.2h1.8v1.8h-1.8zM36.1 37.9h1.2v1.2h-1.2zM33.1 6.9h1.3v1.3h-1.3zM63.6 45h1.1v1.1h-1.1zM44.4 26.3h1v1h-1zM11.8 32.5h1.8v1.8h-1.8zM14.5 19h1.3v1.3h-1.3zM33.1 5.7h1.5v1.5h-1.5zM35.1 7.7h1.3v1.3h-1.3zM13.8 45.8h1.6v1.6h-1.6zM33.6 48.3h1.5v1.5h-1.5zM13.5 15.6h1v1h-1zM38.9 36.4h1.2v1.2h-1.2zM24.3 40h1v1h-1zM48.3 15.8h1.3v1.3h-1.3zM35.4 36.9h1.4v1.4h-1.4zM21.3 31.2h1.7v1.7h-1.7zM55.9 30.2h1v1h-1zM57.3 27.9h1.7v1.7h-1.7zM41 41.6h1.2v1.2h-1.2zM10.8 19.7h1.2v1.2h-1.2zM3.6 1.8h1.8v1.8h-1.8zM39.2 4.4h1.1v1.1h-1.1zM3 16.4h1.5v1.5h-1.5zM22.6 1.9h1.4v1.4h-1.4zM27.6 41.7h1.8v1.8h-1.8zM31.2 0.1h1.6v1.6h-1.6zM48.6 48h1.8v1.8h-1.8zM25.8 16.8h1.8v1.8h-1.8zM11.7 44.7h1.6v1.6h-1.6zM36.8 32.1h1.6v1.6h-1.6zM18.6 17.4h1.6v1.6h-1.6zM8.1 49h1.6v1.6h-1.6zM16.3 49.2h1.3v1.3h-1.3zM51.3 38.4h1.7v1.7h-1.7z"/>
<path transform="translate(447.3,219.6)" fill="#c0a060" d="M52.3 1.5h1.4v1.4h-1.4zM15.2 9.9h1.1v1.1h-1.1zM38.7 15h1.4v1.4h-1.4zM34.7 20.4h1.8v1.8h-1.8zM43.1 31.7h1.7v1.7h-1.7zM30.8 12.3h1.6v1.6h-1.6zM32 34.2h1.3v1.3h-1.3zM21.1 24.5h1.6v1.6h-1.6zM12.8 8h1.1v1.1h-1.1zM16.6 43.8h1.3v1.3h-1.3zM33.3 26h1.6v1.6h-1.6zM22.2 41h1.1v1.1h-1.1zM33.1 42.1h1.8v1.8h-1.8zM13.7 1.1h1.2v1.2h-1.2zM13.2 11.5h1.1v1.1h-1.1zM55.9 5.4h1.8v1.8h-1.8zM54.5 33.8h1.1v1.1h-1.1zM38.6 38.2h1.3v1.3h-1.3zM54.8 6.2h1.5v1.5h-1.5zM39.9 14.3h1.6v1.6h-1.6zM23 38.1h1.6v1.6h-1.6zM64.1 12.9h1.7v1.7h-1.7zM42.1 41.5h1.2v1.2h-1.2zM60.8 38.7h1.6v1.6h-1.6zM-0.3 35.1h1.3v1.3h-1.3zM45.4 33.5h1.1v1.1h-1.1zM35.6 43.2h1.4v1.4h-1.4zM10.7 35.4h1v1h-1zM49.6 19.9h1.8v1.8h-1.8zM26 29.9h1.2v1.2h-1.2zM21 24.1h1.7v1.7h-1.7zM52.8 3.2h1.1v1.1h-1.1zM41 21.2h1.1v1.1h-1.1zM36.3 22.3h1.6v1.6h-1.6zM59.3 49h1.5v1.5h-1.5zM59.4 39.5h1.6v1.6h-1.6zM30 26.1h1.6v1.6h-1.6zM45.5 37.3h1v1h-1zM17.8 38.9h1.6v1.6h-1.6zM9.9 25.7h1.7v1.7h-1.7zM10.1 27.4h1.2v1.2h-1.2zM40.9 33h1.8v1.8h-1.8zM26.4 29.3h1.2v1.2h-1.2zM28.1 22.9h1.5v1.5h-1.5zM31.2 3.4h1.8v1.8h-1.8zM30.4 39.2h1.1v1.1h-1.1zM34.2 22.7h1.5v1.5h-1.5zM21.1 40.7h1.6v1.6h-1.6zM52 18.4h1.3v1.3h-1.3zM33.3 44.1h1.4v1.4h-1.4zM33.3 15.7h1.5v1.5h-1.5zM37.9 24.4h1.7v1.7h-1.7zM18.5 45.5h1.7v1.7h-1.7z"/>
<path transform="translate(447.3,219.6)" fill="#9c7a38" d="M41.7 34.7h1.1v1.1h-1.1zM6.8 27.6h1v1h-1zM35.8 18h1.3v1.3h-1.3zM18.6 24.6h1.7v1.7h-1.7zM34.8 29.2h1.5v1.5h-1.5zM55.7 39.5h1.1v1.1h-1.1zM5.6 2.1h1.3v1.3h-1.3zM49.3 16.2h1.2v1.2h-1.2zM28 19.4h1.1v1.1h-1.1zM35 41.7h1.5v1.5h-1.5zM48.1 15.4h1.5v1.5h-1.5zM40.1 36.8h1.5v1.5h-1.5zM29.5 22h1.2v1.2h-1.2zM57.4 6.5h1.3v1.3h-1.3zM11.2 9.9h1.8v1.8h-1.8zM4.4 7.2h1.5v1.5h-1.5zM46.2 8.4h1.4v1.4h-1.4zM14.1 11.7h1.6v1.6h-1.6zM45.6 36.4h1.1v1.1h-1.1zM33.8 27.6h1.2v1.2h-1.2zM12.7 9.5h1.2v1.2h-1.2zM35.3 40.7h1.8v1.8h-1.8zM24.3 9.1h1.1v1.1h-1.1zM53 3.1h1.1v1.1h-1.1zM44.5 35.9h1.4v1.4h-1.4zM37.3 -0.5h1.7v1.7h-1.7zM8.9 44.8h1.6v1.6h-1.6zM55.5 36.6h1.1v1.1h-1.1zM38 14.4h1.4v1.4h-1.4zM25.8 27.7h1.2v1.2h-1.2zM27.7 8.9h1.3v1.3h-1.3zM55 27.8h1.6v1.6h-1.6zM6.1 6.6h1.3v1.3h-1.3zM40.6 20.6h1.8v1.8h-1.8zM29.6 12.2h1.5v1.5h-1.5zM43.9 35.3h1.3v1.3h-1.3zM46.3 36.9h1.2v1.2h-1.2zM34.9 10.6h1.8v1.8h-1.8zM29.6 31.3h1.4v1.4h-1.4zM18.6 45h1.4v1.4h-1.4zM25.9 39.6h1.3v1.3h-1.3zM31.4 43.6h1.2v1.2h-1.2zM15.4 33.9h1.6v1.6h-1.6zM50.4 14.7h1.1v1.1h-1.1zM39.8 49.4h1.5v1.5h-1.5zM52.9 33.8h1.3v1.3h-1.3zM39.7 39.3h1.1v1.1h-1.1zM58.4 7.9h1.1v1.1h-1.1zM26.9 34h1.8v1.8h-1.8zM45.5 34h1.5v1.5h-1.5zM25.6 26.7h1.6v1.6h-1.6zM13.6 1.3h1.1v1.1h-1.1zM32.8 20.1h1.7v1.7h-1.7zM46.5 3.8h1.1v1.1h-1.1zM42.4 34.6h1.5v1.5h-1.5zM6.3 22.5h1.1v1.1h-1.1zM25.8 26.7h1.3v1.3h-1.3zM32.9 33.8h1.4v1.4h-1.4zM18.5 43.4h1.7v1.7h-1.7z"/>
<path transform="translate(447.3,219.6)" fill="#2c74b4" d="M11.7 21.6h1.5v1.5h-1.5zM53.4 3.7h1.2v1.2h-1.2zM63.1 19h1.1v1.1h-1.1zM12.2 14.6h1.1v1.1h-1.1zM-0.5 14.8h1.6v1.6h-1.6zM38.3 25.6h1.7v1.7h-1.7zM2.6 44.8h1.6v1.6h-1.6zM36.3 46.3h1.5v1.5h-1.5zM59.7 19.6h1.6v1.6h-1.6zM16.1 19h1.3v1.3h-1.3zM55.2 32.5h1.5v1.5h-1.5zM31.8 5h1.5v1.5h-1.5zM16.5 45.7h1.1v1.1h-1.1zM55.8 46.5h1.3v1.3h-1.3zM51.4 39.5h1.5v1.5h-1.5zM22.3 -0.2h1v1h-1zM36.6 23.9h1.4v1.4h-1.4zM1.1 13.7h1.4v1.4h-1.4zM49.9 10.9h1.4v1.4h-1.4zM6.4 36.2h1.6v1.6h-1.6zM4.8 6.6h1.6v1.6h-1.6zM11.5 46h1.5v1.5h-1.5zM23.2 25.1h1.3v1.3h-1.3zM58 45.4h1.6v1.6h-1.6zM34.7 44.3h1.1v1.1h-1.1zM0.8 16.5h1.3v1.3h-1.3zM46.8 48.1h1.4v1.4h-1.4zM28.5 43.5h1.4v1.4h-1.4zM18.7 32.8h1.2v1.2h-1.2zM38.2 48.9h1.7v1.7h-1.7zM4.9 24.8h1.5v1.5h-1.5zM47.1 38.1h1.6v1.6h-1.6zM63.3 42.1h1.8v1.8h-1.8zM52.7 10.5h1.3v1.3h-1.3zM64.2 2h1.5v1.5h-1.5zM46.8 46.8h1.5v1.5h-1.5zM22.6 48.2h1.6v1.6h-1.6zM30.8 42.8h1.1v1.1h-1.1zM0.1 5.3h1.1v1.1h-1.1zM1.3 24.4h1.2v1.2h-1.2zM20.5 24h1.1v1.1h-1.1zM64.2 2.2h1.4v1.4h-1.4zM57.9 33.1h1.6v1.6h-1.6zM52 31.5h1.4v1.4h-1.4zM4.9 24.8h1.2v1.2h-1.2zM45.4 35.7h1.1v1.1h-1.1zM15 28h1.4v1.4h-1.4zM22.7 6.6h1.1v1.1h-1.1zM49.9 14.1h1.4v1.4h-1.4zM37.3 2.1h1v1h-1zM39.6 7.7h1.3v1.3h-1.3zM39.7 33.8h1.3v1.3h-1.3zM60.3 8.2h1v1h-1zM4.2 38h1.5v1.5h-1.5zM28.4 17.2h1.7v1.7h-1.7zM6.7 4.1h1.1v1.1h-1.1zM49.5 42.7h1.6v1.6h-1.6zM20.5 1.6h1.8v1.8h-1.8zM20 29.3h1.4v1.4h-1.4zM12.2 30.9h1.1v1.1h-1.1zM44.4 10.6h1.7v1.7h-1.7zM57.3 40.4h1.5v1.5h-1.5zM36.9 14.4h1v1h-1zM27 44.4h1.7v1.7h-1.7zM12 35.9h1.7v1.7h-1.7zM27.2 3.8h1.6v1.6h-1.6zM58.7 34.6h1.4v1.4h-1.4zM55.6 27h1.5v1.5h-1.5zM62.2 14.1h1.6v1.6h-1.6zM36.7 11.4h1.4v1.4h-1.4zM28.1 32.8h1.3v1.3h-1.3zM54.1 38.5h1.4v1.4h-1.4zM1.2 3.4h1.1v1.1h-1.1zM51.8 25.4h1.8v1.8h-1.8zM49 6.7h1.8v1.8h-1.8zM54.4 14.3h1.2v1.2h-1.2zM59.6 44.6h1.4v1.4h-1.4zM52.9 25.5h1.8v1.8h-1.8zM54.6 42.7h1.7v1.7h-1.7zM4.9 38.4h1.4v1.4h-1.4zM9.7 10h1.7v1.7h-1.7zM22.3 25.9h1.8v1.8h-1.8zM62.4 30.6h1.1v1.1h-1.1zM29.9 28.9h1.6v1.6h-1.6zM16.2 45.5h1.3v1.3h-1.3zM7.3 47.6h1.4v1.4h-1.4zM48.5 28.9h1.2v1.2h-1.2zM1.9 26.6h1.4v1.4h-1.4zM28.2 16.4h1.1v1.1h-1.1zM58.4 21.8h1.5v1.5h-1.5zM19 13.2h1.6v1.6h-1.6zM64.4 22.2h1.3v1.3h-1.3zM17.5 9.8h1.5v1.5h-1.5zM0.5 33.2h1.3v1.3h-1.3zM5 11.8h1.1v1.1h-1.1zM43.2 48.8h1.1v1.1h-1.1zM15.4 26.8h1.5v1.5h-1.5zM26.1 4.2h1.7v1.7h-1.7zM49.5 7.5h1.7v1.7h-1.7zM6.8 42.5h1.4v1.4h-1.4zM7.8 10.1h1.3v1.3h-1.3zM22.1 38.7h1.4v1.4h-1.4zM13.3 24.1h1.2v1.2h-1.2zM19.4 8.4h1.6v1.6h-1.6zM59.4 9.5h1.3v1.3h-1.3zM55.5 6.9h1v1h-1zM29.9 7.2h1.5v1.5h-1.5zM27.1 36.9h1.1v1.1h-1.1zM50.5 33.3h1.4v1.4h-1.4zM14.3 44.2h1.6v1.6h-1.6zM21.2 29.4h1.4v1.4h-1.4zM3.2 24.9h1.3v1.3h-1.3zM6.7 49.3h1.1v1.1h-1.1zM10.7 40.9h1.7v1.7h-1.7zM13.3 5.8h1.7v1.7h-1.7zM28.5 25.5h1.4v1.4h-1.4zM19.5 28.9h1.3v1.3h-1.3zM54.7 0.5h1.8v1.8h-1.8zM34.2 36.7h1.1v1.1h-1.1zM44.6 7.8h1.1v1.1h-1.1zM55.3 -0.3h1.4v1.4h-1.4zM11.2 10.2h1.6v1.6h-1.6zM36 26.5h1.6v1.6h-1.6zM14.1 46.2h1.4v1.4h-1.4zM20 18.3h1.4v1.4h-1.4zM-0.6 33.1h1.8v1.8h-1.8zM43.8 4.9h1.5v1.5h-1.5zM53.7 12.9h1.6v1.6h-1.6zM57.3 46.4h1.7v1.7h-1.7zM30.6 26.2h1.1v1.1h-1.1zM63.3 9.1h1.7v1.7h-1.7zM49.9 23.3h1.8v1.8h-1.8zM61.8 16h1.6v1.6h-1.6zM41 43.3h1.3v1.3h-1.3zM22.1 22.2h1.3v1.3h-1.3zM35.1 13.3h1.1v1.1h-1.1zM24 25.8h1.5v1.5h-1.5zM19.7 33.7h1.1v1.1h-1.1zM42.9 1h1.8v1.8h-1.8zM47.9 40.7h1.2v1.2h-1.2zM5.8 16h1.7v1.7h-1.7zM20.2 30.7h1.3v1.3h-1.3zM13.1 47.7h1.3v1.3h-1.3zM30 0h1.2v1.2h-1.2zM63.9 32.5h1.7v1.7h-1.7zM19.5 47.6h1.7v1.7h-1.7zM50 13.3h1.1v1.1h-1.1zM56.8 26.9h1.1v1.1h-1.1zM4.7 21.4h1.5v1.5h-1.5zM63.8 15.5h1.4v1.4h-1.4zM39.1 30.6h1.8v1.8h-1.8zM54.4 2.5h1.1v1.1h-1.1zM24 9.4h1.3v1.3h-1.3zM27.8 41.6h1.4v1.4h-1.4zM7.6 30.2h1.1v1.1h-1.1zM29.7 7.7h1.4v1.4h-1.4zM50.5 48.7h1.1v1.1h-1.1zM55.6 49.5h1.1v1.1h-1.1zM28 16.8h1.1v1.1h-1.1zM50.2 8.3h1.4v1.4h-1.4zM3.3 45.7h1.4v1.4h-1.4zM15.6 6.1h1.8v1.8h-1.8zM32 32.8h1.1v1.1h-1.1zM59.3 24.4h1.5v1.5h-1.5zM31.8 26.6h1v1h-1zM42.5 5.3h1.8v1.8h-1.8zM40.8 0.4h1.8v1.8h-1.8zM27.7 41.1h1.5v1.5h-1.5zM53.3 13.3h1.4v1.4h-1.4zM45.6 42.1h1.3v1.3h-1.3zM46 8.6h1.4v1.4h-1.4zM38.5 0.7h1v1h-1zM37.1 46.8h1.3v1.3h-1.3zM13.7 3.3h1.4v1.4h-1.4zM57.5 6.1h1.5v1.5h-1.5zM62.9 47.2h1.8v1.8h-1.8zM35.3 6.5h1.4v1.4h-1.4zM2 21.7h1.1v1.1h-1.1zM4.9 0h1.5v1.5h-1.5zM32 0.9h1.1v1.1h-1.1zM31.9 -0.1h1v1h-1zM30.4 18.4h1.3v1.3h-1.3zM0.8 39h1.6v1.6h-1.6zM58.4 18.1h1v1h-1zM-0.3 16h1.3v1.3h-1.3zM15.5 33.9h1.6v1.6h-1.6zM63.3 14.7h1.2v1.2h-1.2zM42 6.5h1.5v1.5h-1.5zM40.2 17.2h1.6v1.6h-1.6zM7.9 38.5h1.2v1.2h-1.2zM32.5 45.8h1.7v1.7h-1.7zM50.6 45.1h1.4v1.4h-1.4zM43.2 27.3h1.5v1.5h-1.5zM26.5 43.2h1v1h-1zM4.4 47.6h1.6v1.6h-1.6zM16.2 22.9h1v1h-1zM52 32.1h1.2v1.2h-1.2zM0.1 36h1.5v1.5h-1.5z"/>
<path transform="translate(447.3,219.6)" fill="#8c6c30" d="M9.8 28.2h1.1v1.1h-1.1zM35.8 40.7h1.5v1.5h-1.5zM48 40.2h1.5v1.5h-1.5zM27.6 7.9h1.7v1.7h-1.7zM22 44.5h1.5v1.5h-1.5zM61.1 48.3h1.2v1.2h-1.2zM53.9 21.5h1.1v1.1h-1.1zM55.2 4.7h1.2v1.2h-1.2zM42.7 38.3h1.4v1.4h-1.4zM53.3 37h1.7v1.7h-1.7zM41.2 18.1h1.7v1.7h-1.7zM0.6 3.1h1.3v1.3h-1.3zM48.7 24.7h1.6v1.6h-1.6zM51.7 20h1.3v1.3h-1.3zM61.5 14.7h1.2v1.2h-1.2zM39.3 34.3h1.6v1.6h-1.6zM8.6 10.8h1.5v1.5h-1.5zM6.5 29.2h1.1v1.1h-1.1zM17 43.1h1.5v1.5h-1.5zM12.8 39h1.4v1.4h-1.4zM49.8 43.1h1.4v1.4h-1.4zM46.1 39.5h1.4v1.4h-1.4zM54.1 22.4h1.4v1.4h-1.4zM36.5 46.2h1.2v1.2h-1.2zM22 0.8h1.1v1.1h-1.1zM20 29.2h1.5v1.5h-1.5zM46.4 30.7h1.6v1.6h-1.6zM47.9 22.9h1.7v1.7h-1.7zM12.4 16.3h1.6v1.6h-1.6zM34.6 27.2h1.6v1.6h-1.6zM16.3 15.2h1.7v1.7h-1.7zM6.9 29h1.5v1.5h-1.5zM50.3 46.1h1.4v1.4h-1.4zM2.9 7.2h1.5v1.5h-1.5zM58.6 0.6h1.6v1.6h-1.6zM26.2 46.9h1.2v1.2h-1.2zM44.5 10.5h1.2v1.2h-1.2zM37.7 23.7h1.1v1.1h-1.1zM24.7 31.2h1.5v1.5h-1.5zM33.2 20.7h1.8v1.8h-1.8zM40.9 41.2h1.8v1.8h-1.8zM32.2 39.2h1.6v1.6h-1.6zM56.8 9h1.4v1.4h-1.4zM45 18.3h1.4v1.4h-1.4zM55.1 37.3h1.4v1.4h-1.4zM7.4 4.5h1.1v1.1h-1.1zM7.5 16.5h1.3v1.3h-1.3zM45.3 12.9h1.7v1.7h-1.7zM38.6 13.4h1.2v1.2h-1.2zM38.6 34.7h1.2v1.2h-1.2zM36.9 26.7h1.1v1.1h-1.1zM43.5 38.2h1.7v1.7h-1.7zM27.2 19h1.7v1.7h-1.7zM35.9 42h1v1h-1zM15.5 15.9h1v1h-1zM59.5 42.3h1.3v1.3h-1.3zM16.2 10.3h1.5v1.5h-1.5zM55.9 41.9h1.4v1.4h-1.4zM36.2 22.4h1.2v1.2h-1.2zM53.9 13.1h1.1v1.1h-1.1z"/>
<path transform="translate(447.3,219.6)" fill="#b08a40" d="M50.4 17.5h1.4v1.4h-1.4zM27.3 10.2h1.2v1.2h-1.2zM30 25.6h1.6v1.6h-1.6zM24.6 20.6h1.2v1.2h-1.2zM20.3 20.8h1.6v1.6h-1.6zM39.8 29.4h1.6v1.6h-1.6zM5.7 49.4h1v1h-1zM56.5 5.9h1.6v1.6h-1.6zM36.9 13.2h1v1h-1zM3.3 30h1.7v1.7h-1.7zM38.6 23.7h1.6v1.6h-1.6zM10 16h1.4v1.4h-1.4zM39.7 40.6h1v1h-1zM37.5 20.5h1.1v1.1h-1.1zM21 27h1.1v1.1h-1.1zM10.9 14.7h1.7v1.7h-1.7zM27.5 5.4h1.1v1.1h-1.1zM53.8 32.7h1.3v1.3h-1.3zM30.2 34.4h1.1v1.1h-1.1zM9.6 32h1.4v1.4h-1.4zM37.6 36.8h1.4v1.4h-1.4zM17.5 39.3h1.3v1.3h-1.3zM3 6.4h1v1h-1zM28.2 28.5h1.7v1.7h-1.7zM29.4 12.2h1.5v1.5h-1.5zM39.6 22.9h1.4v1.4h-1.4zM58.9 38.5h1.6v1.6h-1.6zM7.8 12h1.1v1.1h-1.1zM8.8 15.2h1.5v1.5h-1.5zM20.4 9.3h1.4v1.4h-1.4zM22.7 29.5h1.7v1.7h-1.7zM37.2 17.9h1.4v1.4h-1.4zM8.7 27.2h1.6v1.6h-1.6zM16.6 44.8h1.5v1.5h-1.5zM42.8 17.5h1.6v1.6h-1.6zM28.9 6.9h1.5v1.5h-1.5zM48.7 42.3h1.5v1.5h-1.5zM56.1 1.9h1.5v1.5h-1.5zM53.6 43.8h1.7v1.7h-1.7zM23.3 27h1.7v1.7h-1.7zM19 38.1h1.7v1.7h-1.7zM35.7 30h1.8v1.8h-1.8zM25.8 32.2h1v1h-1zM60.9 35.2h1.7v1.7h-1.7zM28.9 12.4h1.6v1.6h-1.6zM5.6 5.9h1.6v1.6h-1.6zM10.7 12.1h1.7v1.7h-1.7zM53 4h1.6v1.6h-1.6zM10.6 9.3h1.5v1.5h-1.5zM55 3.5h1.7v1.7h-1.7zM21.1 1.5h1.6v1.6h-1.6zM9.2 28.4h1.7v1.7h-1.7zM51.9 -0.4h1.7v1.7h-1.7zM7.3 33h1.2v1.2h-1.2zM44.2 37.1h1.4v1.4h-1.4zM58.4 27.1h1.6v1.6h-1.6zM30.2 23h1.2v1.2h-1.2zM37.9 48.5h1.5v1.5h-1.5z"/>
<path transform="translate(447.3,219.6)" fill="#c8b080" d="M37.4 15.5h1.2v1.2h-1.2zM50.6 3.5h1.7v1.7h-1.7zM18 20.2h1.5v1.5h-1.5zM5.4 7.3h1.2v1.2h-1.2zM8.3 17.2h1.7v1.7h-1.7zM59.7 36.4h1.7v1.7h-1.7zM29.9 25.6h1.4v1.4h-1.4zM37.2 19.2h1.3v1.3h-1.3zM7.6 32.5h1.7v1.7h-1.7zM42.2 38.9h1.6v1.6h-1.6zM21.2 41.5h1.2v1.2h-1.2zM56.7 3.7h1.6v1.6h-1.6zM30.2 18.2h1.4v1.4h-1.4zM53.3 2.7h1.4v1.4h-1.4zM23.6 21.9h1.3v1.3h-1.3zM-0.3 31.6h1v1h-1zM15.6 47.2h1.1v1.1h-1.1zM16.4 15h1.2v1.2h-1.2zM13.8 -0.5h1.3v1.3h-1.3zM19.8 27h1.5v1.5h-1.5zM41.6 18.9h1.3v1.3h-1.3zM49.4 40.5h1.6v1.6h-1.6zM22.2 21.9h1.5v1.5h-1.5zM27.1 42h1.3v1.3h-1.3zM46.8 16h1v1h-1zM28.2 32h1.8v1.8h-1.8zM1.6 27h1.3v1.3h-1.3zM61.8 14.6h1.1v1.1h-1.1zM18.6 13.9h1.6v1.6h-1.6zM26.9 0.2h1.7v1.7h-1.7zM64.2 44.7h1.7v1.7h-1.7zM40.6 44.5h1.2v1.2h-1.2zM47.6 19h1.1v1.1h-1.1zM58.9 36.6h1.4v1.4h-1.4zM58.6 38.7h1.3v1.3h-1.3zM55.3 5.9h1.4v1.4h-1.4zM53.4 39.5h1.4v1.4h-1.4zM21.6 42.9h1.2v1.2h-1.2zM31.2 33.2h1.2v1.2h-1.2zM32.9 13.3h1.4v1.4h-1.4zM58.9 41.5h1.7v1.7h-1.7zM42.6 38.7h1.5v1.5h-1.5zM61 46.2h1.4v1.4h-1.4zM63 30.2h1.2v1.2h-1.2zM43.3 38.2h1.7v1.7h-1.7zM57.3 38.4h1.2v1.2h-1.2zM50.5 23.9h1.7v1.7h-1.7zM36.5 8.9h1.6v1.6h-1.6zM34.9 42.2h1.5v1.5h-1.5zM39.4 32.2h1.2v1.2h-1.2zM6.5 31.5h1v1h-1zM54.2 20.2h1.2v1.2h-1.2zM32.3 15.8h1.1v1.1h-1.1zM40.1 37.1h1.3v1.3h-1.3zM26 32.1h1.4v1.4h-1.4zM33 23.6h1.5v1.5h-1.5zM4.6 40.7h1.3v1.3h-1.3zM22 38h1.4v1.4h-1.4zM62.6 6.5h1.7v1.7h-1.7z"/>
</g>
<line x1="296.8" y1="266.9" x2="306.6" y2="266.9" stroke="#f00a14" stroke-width="1.7"/>
<text x="291.6" y="264.7" font-size="6.8" fill="#e8141e" stroke="#e8141e" stroke-width="0.18">20</text>
<text x="300.9" y="265.2" font-size="5" fill="#e8141e" stroke="#e8141e" stroke-width="0.18">μm</text>
<line x1="362.9" y1="266.9" x2="372.7" y2="266.9" stroke="#f00a14" stroke-width="1.7"/>
<text x="357.7" y="264.7" font-size="6.8" fill="#e8141e" stroke="#e8141e" stroke-width="0.18">20</text>
<text x="367" y="265.2" font-size="5" fill="#e8141e" stroke="#e8141e" stroke-width="0.18">μm</text>
<line x1="429.1" y1="266.9" x2="438.9" y2="266.9" stroke="#f00a14" stroke-width="1.7"/>
<text x="423.9" y="264.7" font-size="6.8" fill="#e8141e" stroke="#e8141e" stroke-width="0.18">20</text>
<text x="433.2" y="265.2" font-size="5" fill="#e8141e" stroke="#e8141e" stroke-width="0.18">μm</text>
<line x1="495.6" y1="266.9" x2="505.4" y2="266.9" stroke="#f00a14" stroke-width="1.7"/>
<text x="490.4" y="264.7" font-size="6.8" fill="#e8141e" stroke="#e8141e" stroke-width="0.18">20</text>
<text x="499.7" y="265.2" font-size="5" fill="#e8141e" stroke="#e8141e" stroke-width="0.18">μm</text>
<text x="8.5" y="303" font-size="11" font-weight="bold" fill="#000" stroke="#000" stroke-width="0.35">H</text>
<text x="71.5" y="301.5" font-size="6.4" text-anchor="middle" fill="#222" stroke="#222" stroke-width="0.18">MM cell lines</text>
<line x1="34.9" y1="304" x2="104.1" y2="304" stroke="#222" stroke-width="1.3"/>
<text x="144.4" y="300.1" font-size="6.4" text-anchor="middle" fill="#222" stroke="#222" stroke-width="0.18">DLBCL cell lines</text>
<line x1="110.4" y1="303.5" x2="179.6" y2="303.5" stroke="#222" stroke-width="1.3"/>
<text x="200.3" y="300.1" font-size="6.4" text-anchor="middle" fill="#222" stroke="#222" stroke-width="0.18">MM primary</text>
<line x1="183" y1="303.5" x2="216.5" y2="303.5" stroke="#222" stroke-width="1.3"/>
<text x="0" y="0" font-size="6.2" fill="#222" stroke="#222" stroke-width="0.18" text-anchor="start" transform="translate(32.1,328.3) rotate(-45)">MM-1S</text>
<text x="0" y="0" font-size="6.2" fill="#222" stroke="#222" stroke-width="0.18" text-anchor="start" transform="translate(50.9,328.3) rotate(-45)">RPMI8226</text>
<text x="0" y="0" font-size="6.2" fill="#222" stroke="#222" stroke-width="0.18" text-anchor="start" transform="translate(69.2,328.3) rotate(-45)">ARD</text>
<text x="0" y="0" font-size="6.2" fill="#222" stroke="#222" stroke-width="0.18" text-anchor="start" transform="translate(87.9,328.3) rotate(-45)">AMO.1</text>
<text x="0" y="0" font-size="6.2" fill="#222" stroke="#222" stroke-width="0.18" text-anchor="start" transform="translate(106.7,328.3) rotate(-45)">U2932</text>
<text x="0" y="0" font-size="6.2" fill="#222" stroke="#222" stroke-width="0.18" text-anchor="start" transform="translate(125.5,328.3) rotate(-45)">Su-DHL2</text>
<text x="0" y="0" font-size="6.2" fill="#222" stroke="#222" stroke-width="0.18" text-anchor="start" transform="translate(144.5,328.3) rotate(-45)">Su-DHL4</text>
<text x="0" y="0" font-size="6.2" fill="#222" stroke="#222" stroke-width="0.18" text-anchor="start" transform="translate(162.2,328.3) rotate(-45)">Su-DHL6</text>
<text x="0" y="0" font-size="6.2" fill="#222" stroke="#222" stroke-width="0.18" text-anchor="start" transform="translate(180.4,328.3) rotate(-45)">CD138<tspan font-size="3.5" dy="-2">-</tspan></text>
<text x="0" y="0" font-size="6.2" fill="#222" stroke="#222" stroke-width="0.18" text-anchor="start" transform="translate(197.9,328.3) rotate(-45)">CD138<tspan font-size="3.5" dy="-2">+</tspan></text>
<rect x="21.7" y="329.8" width="187.3" height="10.4" fill="#e2e6e6" stroke="none" stroke-width="1"/>
<rect x="21.7" y="341.9" width="187.3" height="9.4" fill="#e2e6e6" stroke="none" stroke-width="1"/>
<g filter="url(#bl2)">
<path d="M23.3 335 Q23.8 333 26.3 333 H36.3 Q38.8 333 39.3 335 Q38.8 337 36.3 337 H26.3 Q23.8 337 23.3 335z" fill="#0c0c0c"/>
<path d="M42.1 335 Q42.6 332.4 45.1 332.4 H55.1 Q57.6 332.4 58.1 335 Q57.6 337.6 55.1 337.6 H45.1 Q42.6 337.6 42.1 335z" fill="#0c0c0c"/>
<path d="M60.4 335 Q60.9 332.5 63.4 332.5 H73.4 Q75.9 332.5 76.4 335 Q75.9 337.5 73.4 337.5 H63.4 Q60.9 337.5 60.4 335z" fill="#0c0c0c"/>
<path d="M79.1 335 Q79.6 332 82.1 332 H92.1 Q94.6 332 95.1 335 Q94.6 338 92.1 338 H82.1 Q79.6 338 79.1 335z" fill="#0c0c0c"/>
<path d="M97.4 335 Q97.9 332.5 100.4 332.5 H110.4 Q112.9 332.5 113.4 335 Q112.9 337.5 110.4 337.5 H100.4 Q97.9 337.5 97.4 335z" fill="#0c0c0c"/>
<path d="M116.7 335 Q117.2 332.5 119.7 332.5 H129.7 Q132.2 332.5 132.7 335 Q132.2 337.5 129.7 337.5 H119.7 Q117.2 337.5 116.7 335z" fill="#0c0c0c"/>
<path d="M135.7 335 Q136.2 332.5 138.7 332.5 H148.7 Q151.2 332.5 151.7 335 Q151.2 337.5 148.7 337.5 H138.7 Q136.2 337.5 135.7 335z" fill="#0c0c0c"/>
<path d="M154.6 335 Q155.1 332.6 157.6 332.6 H167.6 Q170.1 332.6 170.6 335 Q170.1 337.4 167.6 337.4 H157.6 Q155.1 337.4 154.6 335z" fill="#0c0c0c"/>
<rect x="172.5" y="330.8" width="16" height="8.6" fill="#cdd3d3" stroke="none" stroke-width="1"/>
<rect x="191.5" y="330.8" width="16" height="8.6" fill="#b4baba" stroke="none" stroke-width="1"/>
<rect x="192" y="333" width="15" height="2.6" fill="#8a9090" stroke="none" stroke-width="1"/>
<rect x="192" y="336.8" width="15" height="2" fill="#2a2e2e" stroke="none" stroke-width="1"/>
<path d="M23.3 347 Q23.8 345.1 26.3 345.1 H36.3 Q38.8 345.1 39.3 347 Q38.8 348.9 36.3 348.9 H26.3 Q23.8 348.9 23.3 347z" fill="#0c0c0c"/>
<path d="M42.1 347 Q42.6 345.3 45.1 345.3 H55.1 Q57.6 345.3 58.1 347 Q57.6 348.7 55.1 348.7 H45.1 Q42.6 348.7 42.1 347z" fill="#0c0c0c"/>
<path d="M60.4 347 Q60.9 345.2 63.4 345.2 H73.4 Q75.9 345.2 76.4 347 Q75.9 348.8 73.4 348.8 H63.4 Q60.9 348.8 60.4 347z" fill="#0c0c0c"/>
<path d="M79.1 347 Q79.6 344.8 82.1 344.8 H92.1 Q94.6 344.8 95.1 347 Q94.6 349.2 92.1 349.2 H82.1 Q79.6 349.2 79.1 347z" fill="#0c0c0c"/>
<path d="M97.4 347 Q97.9 345 100.4 345 H110.4 Q112.9 345 113.4 347 Q112.9 349 110.4 349 H100.4 Q97.9 349 97.4 347z" fill="#0c0c0c"/>
<path d="M116.7 347 Q117.2 345 119.7 345 H129.7 Q132.2 345 132.7 347 Q132.2 349 129.7 349 H119.7 Q117.2 349 116.7 347z" fill="#0c0c0c"/>
<path d="M135.7 347 Q136.2 345 138.7 345 H148.7 Q151.2 345 151.7 347 Q151.2 349 148.7 349 H138.7 Q136.2 349 135.7 347z" fill="#0c0c0c"/>
<path d="M154.6 347 Q155.1 345.2 157.6 345.2 H167.6 Q170.1 345.2 170.6 347 Q170.1 348.8 167.6 348.8 H157.6 Q155.1 348.8 154.6 347z" fill="#0c0c0c"/>
<path d="M172.7 347 Q173.2 345.1 175.7 345.1 H185.7 Q188.2 345.1 188.7 347 Q188.2 348.9 185.7 348.9 H175.7 Q173.2 348.9 172.7 347z" fill="#0c0c0c"/>
<path d="M191.4 347 Q191.9 345.1 194.4 345.1 H204.4 Q206.9 345.1 207.4 347 Q206.9 348.9 204.4 348.9 H194.4 Q191.9 348.9 191.4 347z" fill="#0c0c0c"/>
</g>
<text x="212.8" y="335.9" font-size="6.6" fill="#222" stroke="#222" stroke-width="0.18" textLength="20.7" lengthAdjust="spacingAndGlyphs">ALCAM</text>
<text x="212.8" y="350.7" font-size="6.6" fill="#222" stroke="#222" stroke-width="0.18" textLength="22.5" lengthAdjust="spacingAndGlyphs">GAPDH</text>
<rect x="241.2" y="293.4" width="2.7" height="6.9" fill="#000" stroke="none" stroke-width="1"/>
<line x1="248.8" y1="296.3" x2="465" y2="296.3" stroke="#111" stroke-width="1.1"/>
<text x="326.7" y="295.2" font-size="7" fill="#222" stroke="#222" stroke-width="0.18" textLength="24.2" lengthAdjust="spacingAndGlyphs">CD138</text>
<rect x="248.3" y="310.9" width="32.6" height="32.5" fill="#fff" stroke="#1a1a1a" stroke-width="1.15" rx="1"/>
<polygon points="248.9,342.54 249.22,342.52 249.55,342.51 249.87,342.49 250.19,342.48 250.52,342.46 250.84,342.43 251.17,342.41 251.49,342.38 251.81,342.35 252.14,342.31 252.46,342.28 252.78,342.23 253.11,342.19 253.43,342.14 253.76,342.08 254.08,342.02 254.4,341.94 254.73,341.85 255.05,341.72 255.37,341.52 255.7,341.23 256.02,340.78 256.35,340.08 256.67,339.05 256.99,337.57 257.32,335.56 257.64,332.96 257.96,329.81 258.29,326.23 258.61,322.44 258.94,318.79 259.26,315.65 259.58,313.4 259.91,312.32 260.23,312.35 260.55,312.93 260.88,313.99 261.2,315.48 261.52,317.32 261.85,319.42 262.17,321.68 262.5,324.01 262.82,326.33 263.14,328.55 263.47,330.62 263.79,332.5 264.11,334.16 264.44,335.6 264.76,336.82 265.09,337.83 265.41,338.65 265.73,339.31 266.06,339.83 266.38,340.24 266.7,340.55 267.03,340.8 267.35,340.99 267.68,341.15 268,341.28 268.32,341.38 268.65,341.47 268.97,341.56 269.29,341.63 269.62,341.7 269.94,341.76 270.26,341.82 270.59,341.88 270.91,341.94 271.24,341.99 271.56,342.04 271.88,342.08 272.21,342.13 272.53,342.17 272.85,342.21 273.18,342.25 273.5,342.28 273.83,342.31 274.15,342.34 274.47,342.37 274.8,342.39 275.12,342.42 275.44,342.44 275.77,342.46 276.09,342.47 276.42,342.49 276.74,342.5 277.06,342.51 277.39,342.53 277.71,342.54 278.03,342.54 278.36,342.55 278.68,342.56 279.01,342.56 279.33,342.57 279.65,342.57 279.98,342.58 280.3,342.58 280.3,342.6 248.9,342.6" fill="#aadbe6"/>
<polyline points="248.9,342.35 249.22,342.23 249.55,342.06 249.87,341.83 250.19,341.51 250.52,341.1 250.84,340.56 251.17,339.87 251.49,339.01 251.81,337.96 252.14,336.71 252.46,335.24 252.78,333.55 253.11,331.67 253.43,329.61 253.76,327.42 254.08,325.16 254.4,322.89 254.73,320.7 255.05,318.67 255.37,316.88 255.7,315.43 256.02,314.37 256.35,313.75 256.67,313.63 256.99,314.58 257.32,316.73 257.64,319.8 257.96,323.42 258.29,327.2 258.61,330.8 258.94,333.97 259.26,336.57 259.58,338.58 259.91,340.04 260.23,341.05 260.55,341.7 260.88,342.1 261.2,342.34 261.52,342.47 261.85,342.54 262.17,342.57 262.5,342.59 262.82,342.59 263.14,342.6 263.47,342.6 263.79,342.6 264.11,342.6 264.44,342.6 264.76,342.6 265.09,342.6 265.41,342.6 265.73,342.6 266.06,342.6 266.38,342.6 266.7,342.6 267.03,342.6 267.35,342.6 267.68,342.6 268,342.6 268.32,342.6 268.65,342.6 268.97,342.6 269.29,342.6 269.62,342.6 269.94,342.6 270.26,342.6 270.59,342.6 270.91,342.6 271.24,342.6 271.56,342.6 271.88,342.6 272.21,342.6 272.53,342.6 272.85,342.6 273.18,342.6 273.5,342.6 273.83,342.6 274.15,342.6 274.47,342.6 274.8,342.6 275.12,342.6 275.44,342.6 275.77,342.6 276.09,342.6 276.42,342.6 276.74,342.6 277.06,342.6 277.39,342.6 277.71,342.6 278.03,342.6 278.36,342.6 278.68,342.6 279.01,342.6 279.33,342.6 279.65,342.6 279.98,342.6 280.3,342.6" fill="none" stroke="#cc1a2c" stroke-width="1.5" stroke-linejoin="round"/>
<polyline points="248.9,342.54 249.22,342.52 249.55,342.51 249.87,342.49 250.19,342.48 250.52,342.46 250.84,342.43 251.17,342.41 251.49,342.38 251.81,342.35 252.14,342.31 252.46,342.28 252.78,342.23 253.11,342.19 253.43,342.14 253.76,342.08 254.08,342.02 254.4,341.94 254.73,341.85 255.05,341.72 255.37,341.52 255.7,341.23 256.02,340.78 256.35,340.08 256.67,339.05 256.99,337.57 257.32,335.56 257.64,332.96 257.96,329.81 258.29,326.23 258.61,322.44 258.94,318.79 259.26,315.65 259.58,313.4 259.91,312.32 260.23,312.35 260.55,312.93 260.88,313.99 261.2,315.48 261.52,317.32 261.85,319.42 262.17,321.68 262.5,324.01 262.82,326.33 263.14,328.55 263.47,330.62 263.79,332.5 264.11,334.16 264.44,335.6 264.76,336.82 265.09,337.83 265.41,338.65 265.73,339.31 266.06,339.83 266.38,340.24 266.7,340.55 267.03,340.8 267.35,340.99 267.68,341.15 268,341.28 268.32,341.38 268.65,341.47 268.97,341.56 269.29,341.63 269.62,341.7 269.94,341.76 270.26,341.82 270.59,341.88 270.91,341.94 271.24,341.99 271.56,342.04 271.88,342.08 272.21,342.13 272.53,342.17 272.85,342.21 273.18,342.25 273.5,342.28 273.83,342.31 274.15,342.34 274.47,342.37 274.8,342.39 275.12,342.42 275.44,342.44 275.77,342.46 276.09,342.47 276.42,342.49 276.74,342.5 277.06,342.51 277.39,342.53 277.71,342.54 278.03,342.54 278.36,342.55 278.68,342.56 279.01,342.56 279.33,342.57 279.65,342.57 279.98,342.58 280.3,342.58" fill="none" stroke="#1f3cb0" stroke-width="1.5" stroke-linejoin="round"/>
<line x1="247.1" y1="343.4" x2="248.3" y2="343.4" stroke="#555" stroke-width="0.5"/>
<text x="246.7" y="344.3" font-size="2.6" text-anchor="end" fill="#777" stroke="#777" stroke-width="0.18">0</text>
<line x1="247.1" y1="336.27" x2="248.3" y2="336.27" stroke="#555" stroke-width="0.5"/>
<text x="246.7" y="337.17" font-size="2.6" text-anchor="end" fill="#777" stroke="#777" stroke-width="0.18">60K</text>
<line x1="247.1" y1="329.15" x2="248.3" y2="329.15" stroke="#555" stroke-width="0.5"/>
<text x="246.7" y="330.05" font-size="2.6" text-anchor="end" fill="#777" stroke="#777" stroke-width="0.18">1.2K</text>
<line x1="247.1" y1="322.02" x2="248.3" y2="322.02" stroke="#555" stroke-width="0.5"/>
<text x="246.7" y="322.92" font-size="2.6" text-anchor="end" fill="#777" stroke="#777" stroke-width="0.18">1.8K</text>
<line x1="247.1" y1="314.9" x2="248.3" y2="314.9" stroke="#555" stroke-width="0.5"/>
<text x="246.7" y="315.8" font-size="2.6" text-anchor="end" fill="#777" stroke="#777" stroke-width="0.18">2.4K</text>
<line x1="250.3" y1="343.4" x2="250.3" y2="344.7" stroke="#555" stroke-width="0.5"/>
<text x="250.3" y="349.2" font-size="3" fill="#666" text-anchor="middle">10<tspan font-size="2" dy="-1">0</tspan></text>
<line x1="257.45" y1="343.4" x2="257.45" y2="344.7" stroke="#555" stroke-width="0.5"/>
<text x="257.45" y="349.2" font-size="3" fill="#666" text-anchor="middle">10<tspan font-size="2" dy="-1">1</tspan></text>
<line x1="264.6" y1="343.4" x2="264.6" y2="344.7" stroke="#555" stroke-width="0.5"/>
<text x="264.6" y="349.2" font-size="3" fill="#666" text-anchor="middle">10<tspan font-size="2" dy="-1">2</tspan></text>
<line x1="271.75" y1="343.4" x2="271.75" y2="344.7" stroke="#555" stroke-width="0.5"/>
<text x="271.75" y="349.2" font-size="3" fill="#666" text-anchor="middle">10<tspan font-size="2" dy="-1">3</tspan></text>
<line x1="278.9" y1="343.4" x2="278.9" y2="344.7" stroke="#555" stroke-width="0.5"/>
<text x="278.9" y="349.2" font-size="3" fill="#666" text-anchor="middle">10<tspan font-size="2" dy="-1">4</tspan></text>
<text x="264.6" y="308" font-size="8.3" text-anchor="middle" fill="#111" stroke="#111" stroke-width="0.18">BM#1</text>
<rect x="292.9" y="310.3" width="32.7" height="33.1" fill="#fff" stroke="#1a1a1a" stroke-width="1.15" rx="1"/>
<polygon points="293.5,342.47 293.82,342.45 294.14,342.43 294.46,342.4 294.79,342.38 295.11,342.35 295.43,342.32 295.75,342.29 296.07,342.25 296.39,342.22 296.71,342.17 297.04,342.13 297.36,342.08 297.68,342.03 298,341.98 298.32,341.92 298.64,341.86 298.96,341.8 299.29,341.73 299.61,341.66 299.93,341.58 300.25,341.51 300.57,341.42 300.89,341.32 301.21,341.19 301.54,341.02 301.86,340.77 302.18,340.41 302.5,339.86 302.82,339.06 303.14,337.92 303.46,336.36 303.79,334.35 304.11,331.88 304.43,329.05 304.75,326.03 305.07,323.05 305.39,320.43 305.71,318.45 306.04,317.37 306.36,317.25 306.68,317.7 307,318.61 307.32,319.92 307.64,321.56 307.96,323.42 308.29,325.43 308.61,327.47 308.93,329.47 309.25,331.36 309.57,333.08 309.89,334.6 310.21,335.91 310.54,337.01 310.86,337.92 311.18,338.65 311.5,339.23 311.82,339.68 312.14,340.03 312.46,340.31 312.79,340.52 313.11,340.69 313.43,340.84 313.75,340.96 314.07,341.06 314.39,341.16 314.71,341.25 315.04,341.34 315.36,341.42 315.68,341.5 316,341.57 316.32,341.64 316.64,341.71 316.96,341.78 317.29,341.85 317.61,341.91 317.93,341.96 318.25,342.02 318.57,342.07 318.89,342.12 319.21,342.16 319.54,342.21 319.86,342.25 320.18,342.28 320.5,342.31 320.82,342.35 321.14,342.37 321.46,342.4 321.79,342.42 322.11,342.44 322.43,342.46 322.75,342.48 323.07,342.49 323.39,342.51 323.71,342.52 324.04,342.53 324.36,342.54 324.68,342.55 325,342.55 325,342.6 293.5,342.6" fill="#aadbe6"/>
<polyline points="293.5,342.6 293.82,342.6 294.14,342.6 294.46,342.6 294.79,342.6 295.11,342.59 295.43,342.59 295.75,342.58 296.07,342.56 296.39,342.53 296.71,342.47 297.04,342.38 297.36,342.23 297.68,342 298,341.64 298.32,341.13 298.64,340.4 298.96,339.4 299.29,338.09 299.61,336.41 299.93,334.34 300.25,331.9 300.57,329.13 300.89,326.11 301.21,322.99 301.54,319.94 301.86,317.15 302.18,314.82 302.5,313.14 302.82,312.23 303.14,312.28 303.46,313.98 303.79,317.19 304.11,321.38 304.43,325.92 304.75,330.27 305.07,334.03 305.39,336.99 305.71,339.15 306.04,340.6 306.36,341.51 306.68,342.04 307,342.33 307.32,342.48 307.64,342.55 307.96,342.58 308.29,342.59 308.61,342.6 308.93,342.6 309.25,342.6 309.57,342.6 309.89,342.6 310.21,342.6 310.54,342.6 310.86,342.6 311.18,342.6 311.5,342.6 311.82,342.6 312.14,342.6 312.46,342.6 312.79,342.6 313.11,342.6 313.43,342.6 313.75,342.6 314.07,342.6 314.39,342.6 314.71,342.6 315.04,342.6 315.36,342.6 315.68,342.6 316,342.6 316.32,342.6 316.64,342.6 316.96,342.6 317.29,342.6 317.61,342.6 317.93,342.6 318.25,342.6 318.57,342.6 318.89,342.6 319.21,342.6 319.54,342.6 319.86,342.6 320.18,342.6 320.5,342.6 320.82,342.6 321.14,342.6 321.46,342.6 321.79,342.6 322.11,342.6 322.43,342.6 322.75,342.6 323.07,342.6 323.39,342.6 323.71,342.6 324.04,342.6 324.36,342.6 324.68,342.6 325,342.6" fill="none" stroke="#cc1a2c" stroke-width="1.5" stroke-linejoin="round"/>
<polyline points="293.5,342.47 293.82,342.45 294.14,342.43 294.46,342.4 294.79,342.38 295.11,342.35 295.43,342.32 295.75,342.29 296.07,342.25 296.39,342.22 296.71,342.17 297.04,342.13 297.36,342.08 297.68,342.03 298,341.98 298.32,341.92 298.64,341.86 298.96,341.8 299.29,341.73 299.61,341.66 299.93,341.58 300.25,341.51 300.57,341.42 300.89,341.32 301.21,341.19 301.54,341.02 301.86,340.77 302.18,340.41 302.5,339.86 302.82,339.06 303.14,337.92 303.46,336.36 303.79,334.35 304.11,331.88 304.43,329.05 304.75,326.03 305.07,323.05 305.39,320.43 305.71,318.45 306.04,317.37 306.36,317.25 306.68,317.7 307,318.61 307.32,319.92 307.64,321.56 307.96,323.42 308.29,325.43 308.61,327.47 308.93,329.47 309.25,331.36 309.57,333.08 309.89,334.6 310.21,335.91 310.54,337.01 310.86,337.92 311.18,338.65 311.5,339.23 311.82,339.68 312.14,340.03 312.46,340.31 312.79,340.52 313.11,340.69 313.43,340.84 313.75,340.96 314.07,341.06 314.39,341.16 314.71,341.25 315.04,341.34 315.36,341.42 315.68,341.5 316,341.57 316.32,341.64 316.64,341.71 316.96,341.78 317.29,341.85 317.61,341.91 317.93,341.96 318.25,342.02 318.57,342.07 318.89,342.12 319.21,342.16 319.54,342.21 319.86,342.25 320.18,342.28 320.5,342.31 320.82,342.35 321.14,342.37 321.46,342.4 321.79,342.42 322.11,342.44 322.43,342.46 322.75,342.48 323.07,342.49 323.39,342.51 323.71,342.52 324.04,342.53 324.36,342.54 324.68,342.55 325,342.55" fill="none" stroke="#1f3cb0" stroke-width="1.5" stroke-linejoin="round"/>
<line x1="291.7" y1="343.4" x2="292.9" y2="343.4" stroke="#555" stroke-width="0.5"/>
<text x="291.3" y="344.3" font-size="2.6" text-anchor="end" fill="#777" stroke="#777" stroke-width="0.18">0</text>
<line x1="291.7" y1="336.12" x2="292.9" y2="336.12" stroke="#555" stroke-width="0.5"/>
<text x="291.3" y="337.02" font-size="2.6" text-anchor="end" fill="#777" stroke="#777" stroke-width="0.18">60K</text>
<line x1="291.7" y1="328.85" x2="292.9" y2="328.85" stroke="#555" stroke-width="0.5"/>
<text x="291.3" y="329.75" font-size="2.6" text-anchor="end" fill="#777" stroke="#777" stroke-width="0.18">1.2K</text>
<line x1="291.7" y1="321.57" x2="292.9" y2="321.57" stroke="#555" stroke-width="0.5"/>
<text x="291.3" y="322.47" font-size="2.6" text-anchor="end" fill="#777" stroke="#777" stroke-width="0.18">1.8K</text>
<line x1="291.7" y1="314.3" x2="292.9" y2="314.3" stroke="#555" stroke-width="0.5"/>
<text x="291.3" y="315.2" font-size="2.6" text-anchor="end" fill="#777" stroke="#777" stroke-width="0.18">2.4K</text>
<line x1="294.9" y1="343.4" x2="294.9" y2="344.7" stroke="#555" stroke-width="0.5"/>
<text x="294.9" y="349.2" font-size="3" fill="#666" text-anchor="middle">10<tspan font-size="2" dy="-1">0</tspan></text>
<line x1="302.07" y1="343.4" x2="302.07" y2="344.7" stroke="#555" stroke-width="0.5"/>
<text x="302.07" y="349.2" font-size="3" fill="#666" text-anchor="middle">10<tspan font-size="2" dy="-1">1</tspan></text>
<line x1="309.25" y1="343.4" x2="309.25" y2="344.7" stroke="#555" stroke-width="0.5"/>
<text x="309.25" y="349.2" font-size="3" fill="#666" text-anchor="middle">10<tspan font-size="2" dy="-1">2</tspan></text>
<line x1="316.43" y1="343.4" x2="316.43" y2="344.7" stroke="#555" stroke-width="0.5"/>
<text x="316.43" y="349.2" font-size="3" fill="#666" text-anchor="middle">10<tspan font-size="2" dy="-1">3</tspan></text>
<line x1="323.6" y1="343.4" x2="323.6" y2="344.7" stroke="#555" stroke-width="0.5"/>
<text x="323.6" y="349.2" font-size="3" fill="#666" text-anchor="middle">10<tspan font-size="2" dy="-1">4</tspan></text>
<text x="309.25" y="308" font-size="8.3" text-anchor="middle" fill="#111" stroke="#111" stroke-width="0.18">BM#2</text>
<rect x="339.7" y="310.3" width="32" height="33.1" fill="#fff" stroke="#1a1a1a" stroke-width="1.15" rx="1"/>
<polygon points="340.3,342.6 340.62,342.6 340.94,342.6 341.26,342.6 341.58,342.6 341.9,342.6 342.23,342.6 342.55,342.6 342.87,342.6 343.19,342.6 343.51,342.6 343.83,342.6 344.15,342.6 344.47,342.6 344.79,342.6 345.11,342.6 345.43,342.6 345.75,342.6 346.07,342.6 346.4,342.6 346.72,342.59 347.04,342.58 347.36,342.56 347.68,342.51 348,342.44 348.32,342.31 348.64,342.09 348.96,341.75 349.28,341.22 349.6,340.43 349.93,339.31 350.25,337.8 350.57,335.83 350.89,333.39 351.21,330.51 351.53,327.28 351.85,323.87 352.17,320.5 352.49,317.44 352.81,314.96 353.13,313.29 353.45,312.61 353.78,312.99 354.1,314.39 354.42,316.66 354.74,319.58 355.06,322.89 355.38,326.31 355.7,329.61 356.02,332.61 356.34,335.18 356.66,337.28 356.98,338.92 357.3,340.15 357.62,341.02 357.95,341.62 358.27,342.01 358.59,342.26 358.91,342.41 359.23,342.5 359.55,342.55 359.87,342.57 360.19,342.59 360.51,342.59 360.83,342.6 361.15,342.6 361.48,342.6 361.8,342.6 362.12,342.6 362.44,342.6 362.76,342.6 363.08,342.6 363.4,342.6 363.72,342.6 364.04,342.6 364.36,342.6 364.68,342.6 365,342.6 365.32,342.6 365.65,342.6 365.97,342.6 366.29,342.6 366.61,342.6 366.93,342.6 367.25,342.6 367.57,342.6 367.89,342.6 368.21,342.6 368.53,342.6 368.85,342.6 369.18,342.6 369.5,342.6 369.82,342.6 370.14,342.6 370.46,342.6 370.78,342.6 371.1,342.6 371.1,342.6 340.3,342.6" fill="#aadbe6"/>
<polyline points="340.3,342.57 340.62,342.55 340.94,342.52 341.26,342.47 341.58,342.39 341.9,342.27 342.23,342.1 342.55,341.84 342.87,341.49 343.19,341 343.51,340.35 343.83,339.5 344.15,338.42 344.47,337.09 344.79,335.47 345.11,333.58 345.43,331.43 345.75,329.06 346.07,326.53 346.4,323.93 346.72,321.36 347.04,318.95 347.36,316.82 347.68,315.08 348,313.85 348.32,313.2 348.64,313.22 348.96,314.31 349.28,316.43 349.6,319.35 349.93,322.76 350.25,326.33 350.57,329.79 350.89,332.91 351.21,335.56 351.53,337.69 351.85,339.3 352.17,340.48 352.49,341.29 352.81,341.82 353.13,342.15 353.45,342.36 353.78,342.47 354.1,342.53 354.42,342.57 354.74,342.59 355.06,342.59 355.38,342.6 355.7,342.6 356.02,342.6 356.34,342.6 356.66,342.6 356.98,342.6 357.3,342.6 357.62,342.6 357.95,342.6 358.27,342.6 358.59,342.6 358.91,342.6 359.23,342.6 359.55,342.6 359.87,342.6 360.19,342.6 360.51,342.6 360.83,342.6 361.15,342.6 361.48,342.6 361.8,342.6 362.12,342.6 362.44,342.6 362.76,342.6 363.08,342.6 363.4,342.6 363.72,342.6 364.04,342.6 364.36,342.6 364.68,342.6 365,342.6 365.32,342.6 365.65,342.6 365.97,342.6 366.29,342.6 366.61,342.6 366.93,342.6 367.25,342.6 367.57,342.6 367.89,342.6 368.21,342.6 368.53,342.6 368.85,342.6 369.18,342.6 369.5,342.6 369.82,342.6 370.14,342.6 370.46,342.6 370.78,342.6 371.1,342.6" fill="none" stroke="#cc1a2c" stroke-width="1.5" stroke-linejoin="round"/>
<polyline points="340.3,342.6 340.62,342.6 340.94,342.6 341.26,342.6 341.58,342.6 341.9,342.6 342.23,342.6 342.55,342.6 342.87,342.6 343.19,342.6 343.51,342.6 343.83,342.6 344.15,342.6 344.47,342.6 344.79,342.6 345.11,342.6 345.43,342.6 345.75,342.6 346.07,342.6 346.4,342.6 346.72,342.59 347.04,342.58 347.36,342.56 347.68,342.51 348,342.44 348.32,342.31 348.64,342.09 348.96,341.75 349.28,341.22 349.6,340.43 349.93,339.31 350.25,337.8 350.57,335.83 350.89,333.39 351.21,330.51 351.53,327.28 351.85,323.87 352.17,320.5 352.49,317.44 352.81,314.96 353.13,313.29 353.45,312.61 353.78,312.99 354.1,314.39 354.42,316.66 354.74,319.58 355.06,322.89 355.38,326.31 355.7,329.61 356.02,332.61 356.34,335.18 356.66,337.28 356.98,338.92 357.3,340.15 357.62,341.02 357.95,341.62 358.27,342.01 358.59,342.26 358.91,342.41 359.23,342.5 359.55,342.55 359.87,342.57 360.19,342.59 360.51,342.59 360.83,342.6 361.15,342.6 361.48,342.6 361.8,342.6 362.12,342.6 362.44,342.6 362.76,342.6 363.08,342.6 363.4,342.6 363.72,342.6 364.04,342.6 364.36,342.6 364.68,342.6 365,342.6 365.32,342.6 365.65,342.6 365.97,342.6 366.29,342.6 366.61,342.6 366.93,342.6 367.25,342.6 367.57,342.6 367.89,342.6 368.21,342.6 368.53,342.6 368.85,342.6 369.18,342.6 369.5,342.6 369.82,342.6 370.14,342.6 370.46,342.6 370.78,342.6 371.1,342.6" fill="none" stroke="#1f3cb0" stroke-width="1.5" stroke-linejoin="round"/>
<line x1="338.5" y1="343.4" x2="339.7" y2="343.4" stroke="#555" stroke-width="0.5"/>
<text x="338.1" y="344.3" font-size="2.6" text-anchor="end" fill="#777" stroke="#777" stroke-width="0.18">0</text>
<line x1="338.5" y1="333.7" x2="339.7" y2="333.7" stroke="#555" stroke-width="0.5"/>
<text x="338.1" y="334.6" font-size="2.6" text-anchor="end" fill="#777" stroke="#777" stroke-width="0.18">600</text>
<line x1="338.5" y1="324" x2="339.7" y2="324" stroke="#555" stroke-width="0.5"/>
<text x="338.1" y="324.9" font-size="2.6" text-anchor="end" fill="#777" stroke="#777" stroke-width="0.18">1.2K</text>
<line x1="338.5" y1="314.3" x2="339.7" y2="314.3" stroke="#555" stroke-width="0.5"/>
<text x="338.1" y="315.2" font-size="2.6" text-anchor="end" fill="#777" stroke="#777" stroke-width="0.18">1.8K</text>
<line x1="341.7" y1="343.4" x2="341.7" y2="344.7" stroke="#555" stroke-width="0.5"/>
<text x="341.7" y="349.2" font-size="3" fill="#666" text-anchor="middle">10<tspan font-size="2" dy="-1">0</tspan></text>
<line x1="348.7" y1="343.4" x2="348.7" y2="344.7" stroke="#555" stroke-width="0.5"/>
<text x="348.7" y="349.2" font-size="3" fill="#666" text-anchor="middle">10<tspan font-size="2" dy="-1">1</tspan></text>
<line x1="355.7" y1="343.4" x2="355.7" y2="344.7" stroke="#555" stroke-width="0.5"/>
<text x="355.7" y="349.2" font-size="3" fill="#666" text-anchor="middle">10<tspan font-size="2" dy="-1">2</tspan></text>
<line x1="362.7" y1="343.4" x2="362.7" y2="344.7" stroke="#555" stroke-width="0.5"/>
<text x="362.7" y="349.2" font-size="3" fill="#666" text-anchor="middle">10<tspan font-size="2" dy="-1">3</tspan></text>
<line x1="369.7" y1="343.4" x2="369.7" y2="344.7" stroke="#555" stroke-width="0.5"/>
<text x="369.7" y="349.2" font-size="3" fill="#666" text-anchor="middle">10<tspan font-size="2" dy="-1">4</tspan></text>
<text x="355.7" y="308" font-size="8.3" text-anchor="middle" fill="#111" stroke="#111" stroke-width="0.18">BM#3</text>
<rect x="386.1" y="311.7" width="33.2" height="31.7" fill="#fff" stroke="#1a1a1a" stroke-width="1.15" rx="1"/>
<polygon points="386.7,342.59 387.02,342.58 387.35,342.56 387.67,342.52 387.99,342.46 388.32,342.36 388.64,342.19 388.96,341.92 389.29,341.52 389.61,340.94 389.93,340.11 390.26,339 390.58,337.56 390.9,335.76 391.23,333.61 391.55,331.17 391.87,328.52 392.19,325.8 392.52,323.2 392.84,320.91 393.16,319.11 393.49,317.97 393.81,317.6 394.13,317.98 394.46,319.05 394.78,320.72 395.1,322.85 395.43,325.28 395.75,327.84 396.07,330.38 396.4,332.78 396.72,334.93 397.04,336.78 397.37,338.31 397.69,339.53 398.01,340.46 398.34,341.15 398.66,341.65 398.98,341.99 399.31,342.22 399.63,342.37 399.95,342.47 400.28,342.52 400.6,342.56 400.92,342.58 401.25,342.59 401.57,342.59 401.89,342.6 402.22,342.6 402.54,342.6 402.86,342.6 403.18,342.6 403.51,342.6 403.83,342.6 404.15,342.6 404.48,342.6 404.8,342.6 405.12,342.6 405.45,342.6 405.77,342.6 406.09,342.6 406.42,342.6 406.74,342.6 407.06,342.6 407.39,342.6 407.71,342.6 408.03,342.6 408.36,342.6 408.68,342.6 409,342.6 409.33,342.6 409.65,342.6 409.97,342.6 410.3,342.6 410.62,342.6 410.94,342.6 411.27,342.6 411.59,342.6 411.91,342.6 412.24,342.6 412.56,342.6 412.88,342.6 413.21,342.6 413.53,342.6 413.85,342.6 414.17,342.6 414.5,342.6 414.82,342.6 415.14,342.6 415.47,342.6 415.79,342.6 416.11,342.6 416.44,342.6 416.76,342.6 417.08,342.6 417.41,342.6 417.73,342.6 418.05,342.6 418.38,342.6 418.7,342.6 418.7,342.6 386.7,342.6" fill="#aadbe6"/>
<polyline points="386.7,342.28 387.02,342.03 387.35,341.62 387.67,340.98 387.99,340.02 388.32,338.66 388.64,336.84 388.96,334.5 389.29,331.66 389.61,328.42 389.93,324.96 390.26,321.54 390.58,318.45 390.9,316.02 391.23,314.52 391.55,314.11 391.87,314.86 392.19,316.67 392.52,319.32 392.84,322.55 393.16,326.01 393.49,329.43 393.81,332.56 394.13,335.25 394.46,337.44 394.78,339.12 395.1,340.35 395.43,341.2 395.75,341.76 396.07,342.12 396.4,342.34 396.72,342.46 397.04,342.53 397.37,342.57 397.69,342.58 398.01,342.59 398.34,342.6 398.66,342.6 398.98,342.6 399.31,342.6 399.63,342.6 399.95,342.6 400.28,342.6 400.6,342.6 400.92,342.6 401.25,342.6 401.57,342.6 401.89,342.6 402.22,342.6 402.54,342.6 402.86,342.6 403.18,342.6 403.51,342.6 403.83,342.6 404.15,342.6 404.48,342.6 404.8,342.6 405.12,342.6 405.45,342.6 405.77,342.6 406.09,342.6 406.42,342.6 406.74,342.6 407.06,342.6 407.39,342.6 407.71,342.6 408.03,342.6 408.36,342.6 408.68,342.6 409,342.6 409.33,342.6 409.65,342.6 409.97,342.6 410.3,342.6 410.62,342.6 410.94,342.6 411.27,342.6 411.59,342.6 411.91,342.6 412.24,342.6 412.56,342.6 412.88,342.6 413.21,342.6 413.53,342.6 413.85,342.6 414.17,342.6 414.5,342.6 414.82,342.6 415.14,342.6 415.47,342.6 415.79,342.6 416.11,342.6 416.44,342.6 416.76,342.6 417.08,342.6 417.41,342.6 417.73,342.6 418.05,342.6 418.38,342.6 418.7,342.6" fill="none" stroke="#cc1a2c" stroke-width="1.5" stroke-linejoin="round"/>
<polyline points="386.7,342.59 387.02,342.58 387.35,342.56 387.67,342.52 387.99,342.46 388.32,342.36 388.64,342.19 388.96,341.92 389.29,341.52 389.61,340.94 389.93,340.11 390.26,339 390.58,337.56 390.9,335.76 391.23,333.61 391.55,331.17 391.87,328.52 392.19,325.8 392.52,323.2 392.84,320.91 393.16,319.11 393.49,317.97 393.81,317.6 394.13,317.98 394.46,319.05 394.78,320.72 395.1,322.85 395.43,325.28 395.75,327.84 396.07,330.38 396.4,332.78 396.72,334.93 397.04,336.78 397.37,338.31 397.69,339.53 398.01,340.46 398.34,341.15 398.66,341.65 398.98,341.99 399.31,342.22 399.63,342.37 399.95,342.47 400.28,342.52 400.6,342.56 400.92,342.58 401.25,342.59 401.57,342.59 401.89,342.6 402.22,342.6 402.54,342.6 402.86,342.6 403.18,342.6 403.51,342.6 403.83,342.6 404.15,342.6 404.48,342.6 404.8,342.6 405.12,342.6 405.45,342.6 405.77,342.6 406.09,342.6 406.42,342.6 406.74,342.6 407.06,342.6 407.39,342.6 407.71,342.6 408.03,342.6 408.36,342.6 408.68,342.6 409,342.6 409.33,342.6 409.65,342.6 409.97,342.6 410.3,342.6 410.62,342.6 410.94,342.6 411.27,342.6 411.59,342.6 411.91,342.6 412.24,342.6 412.56,342.6 412.88,342.6 413.21,342.6 413.53,342.6 413.85,342.6 414.17,342.6 414.5,342.6 414.82,342.6 415.14,342.6 415.47,342.6 415.79,342.6 416.11,342.6 416.44,342.6 416.76,342.6 417.08,342.6 417.41,342.6 417.73,342.6 418.05,342.6 418.38,342.6 418.7,342.6" fill="none" stroke="#1f3cb0" stroke-width="1.5" stroke-linejoin="round"/>
<line x1="384.9" y1="343.4" x2="386.1" y2="343.4" stroke="#555" stroke-width="0.5"/>
<text x="384.5" y="344.3" font-size="2.6" text-anchor="end" fill="#777" stroke="#777" stroke-width="0.18">0</text>
<line x1="384.9" y1="336.47" x2="386.1" y2="336.47" stroke="#555" stroke-width="0.5"/>
<text x="384.5" y="337.37" font-size="2.6" text-anchor="end" fill="#777" stroke="#777" stroke-width="0.18">300</text>
<line x1="384.9" y1="329.55" x2="386.1" y2="329.55" stroke="#555" stroke-width="0.5"/>
<text x="384.5" y="330.45" font-size="2.6" text-anchor="end" fill="#777" stroke="#777" stroke-width="0.18">600</text>
<line x1="384.9" y1="322.62" x2="386.1" y2="322.62" stroke="#555" stroke-width="0.5"/>
<text x="384.5" y="323.52" font-size="2.6" text-anchor="end" fill="#777" stroke="#777" stroke-width="0.18">900</text>
<line x1="384.9" y1="315.7" x2="386.1" y2="315.7" stroke="#555" stroke-width="0.5"/>
<text x="384.5" y="316.6" font-size="2.6" text-anchor="end" fill="#777" stroke="#777" stroke-width="0.18">1.2K</text>
<line x1="388.1" y1="343.4" x2="388.1" y2="344.7" stroke="#555" stroke-width="0.5"/>
<text x="388.1" y="349.2" font-size="3" fill="#666" text-anchor="middle">10<tspan font-size="2" dy="-1">0</tspan></text>
<line x1="395.4" y1="343.4" x2="395.4" y2="344.7" stroke="#555" stroke-width="0.5"/>
<text x="395.4" y="349.2" font-size="3" fill="#666" text-anchor="middle">10<tspan font-size="2" dy="-1">1</tspan></text>
<line x1="402.7" y1="343.4" x2="402.7" y2="344.7" stroke="#555" stroke-width="0.5"/>
<text x="402.7" y="349.2" font-size="3" fill="#666" text-anchor="middle">10<tspan font-size="2" dy="-1">2</tspan></text>
<line x1="410" y1="343.4" x2="410" y2="344.7" stroke="#555" stroke-width="0.5"/>
<text x="410" y="349.2" font-size="3" fill="#666" text-anchor="middle">10<tspan font-size="2" dy="-1">3</tspan></text>
<line x1="417.3" y1="343.4" x2="417.3" y2="344.7" stroke="#555" stroke-width="0.5"/>
<text x="417.3" y="349.2" font-size="3" fill="#666" text-anchor="middle">10<tspan font-size="2" dy="-1">4</tspan></text>
<text x="402.7" y="308.2" font-size="8.3" text-anchor="middle" fill="#111" stroke="#111" stroke-width="0.18">BM#4</text>
<rect x="432.6" y="311.8" width="32.6" height="32.4" fill="#fff" stroke="#1a1a1a" stroke-width="1.15" rx="1"/>
<polygon points="433.2,343.4 433.52,343.4 433.85,343.4 434.17,343.4 434.49,343.4 434.82,343.4 435.14,343.4 435.47,343.4 435.79,343.4 436.11,343.4 436.44,343.4 436.76,343.39 437.08,343.39 437.41,343.37 437.73,343.35 438.06,343.29 438.38,343.2 438.7,343.02 439.03,342.73 439.35,342.26 439.67,341.54 440,340.48 440.32,339 440.65,337.04 440.97,334.57 441.29,331.64 441.62,328.35 441.94,324.93 442.26,321.63 442.59,318.77 442.91,316.65 443.24,315.5 443.56,315.48 443.88,316.7 444.21,319 444.53,322.07 444.85,325.54 445.18,329.04 445.5,332.25 445.82,334.97 446.15,337.09 446.47,338.61 446.8,339.61 447.12,340.18 447.44,340.44 447.77,340.51 448.09,340.48 448.41,340.42 448.74,340.38 449.06,340.38 449.39,340.45 449.71,340.58 450.03,340.77 450.36,341.02 450.68,341.29 451,341.58 451.33,341.88 451.65,342.15 451.98,342.41 452.3,342.63 452.62,342.82 452.95,342.97 453.27,343.09 453.59,343.19 453.92,343.25 454.24,343.3 454.56,343.34 454.89,343.36 455.21,343.38 455.54,343.39 455.86,343.39 456.18,343.4 456.51,343.4 456.83,343.4 457.15,343.4 457.48,343.4 457.8,343.4 458.13,343.4 458.45,343.4 458.77,343.4 459.1,343.4 459.42,343.4 459.74,343.4 460.07,343.4 460.39,343.4 460.72,343.4 461.04,343.4 461.36,343.4 461.69,343.4 462.01,343.4 462.33,343.4 462.66,343.4 462.98,343.4 463.31,343.4 463.63,343.4 463.95,343.4 464.28,343.4 464.6,343.4 464.6,343.4 433.2,343.4" fill="#aadbe6"/>
<polyline points="433.2,343.19 433.52,343.05 433.85,342.85 434.17,342.56 434.49,342.14 434.82,341.57 435.14,340.81 435.47,339.82 435.79,338.58 436.11,337.08 436.44,335.32 436.76,333.35 437.08,331.22 437.41,329.02 437.73,326.85 438.06,324.86 438.38,323.16 438.7,321.88 439.03,321.11 439.35,320.91 439.67,321.44 440,322.72 440.32,324.62 440.65,326.95 440.97,329.5 441.29,332.08 441.62,334.51 441.94,336.66 442.26,338.48 442.59,339.93 442.91,341.04 443.24,341.86 443.56,342.42 443.88,342.81 444.21,343.05 444.53,343.2 444.85,343.29 445.18,343.34 445.5,343.37 445.82,343.39 446.15,343.39 446.47,343.4 446.8,343.4 447.12,343.4 447.44,343.4 447.77,343.4 448.09,343.4 448.41,343.4 448.74,343.4 449.06,343.4 449.39,343.4 449.71,343.4 450.03,343.4 450.36,343.4 450.68,343.4 451,343.4 451.33,343.4 451.65,343.4 451.98,343.4 452.3,343.4 452.62,343.4 452.95,343.4 453.27,343.4 453.59,343.4 453.92,343.4 454.24,343.4 454.56,343.4 454.89,343.4 455.21,343.4 455.54,343.4 455.86,343.4 456.18,343.4 456.51,343.4 456.83,343.4 457.15,343.4 457.48,343.4 457.8,343.4 458.13,343.4 458.45,343.4 458.77,343.4 459.1,343.4 459.42,343.4 459.74,343.4 460.07,343.4 460.39,343.4 460.72,343.4 461.04,343.4 461.36,343.4 461.69,343.4 462.01,343.4 462.33,343.4 462.66,343.4 462.98,343.4 463.31,343.4 463.63,343.4 463.95,343.4 464.28,343.4 464.6,343.4" fill="none" stroke="#cc1a2c" stroke-width="1.5" stroke-linejoin="round"/>
<polyline points="433.2,343.4 433.52,343.4 433.85,343.4 434.17,343.4 434.49,343.4 434.82,343.4 435.14,343.4 435.47,343.4 435.79,343.4 436.11,343.4 436.44,343.4 436.76,343.39 437.08,343.39 437.41,343.37 437.73,343.35 438.06,343.29 438.38,343.2 438.7,343.02 439.03,342.73 439.35,342.26 439.67,341.54 440,340.48 440.32,339 440.65,337.04 440.97,334.57 441.29,331.64 441.62,328.35 441.94,324.93 442.26,321.63 442.59,318.77 442.91,316.65 443.24,315.5 443.56,315.48 443.88,316.7 444.21,319 444.53,322.07 444.85,325.54 445.18,329.04 445.5,332.25 445.82,334.97 446.15,337.09 446.47,338.61 446.8,339.61 447.12,340.18 447.44,340.44 447.77,340.51 448.09,340.48 448.41,340.42 448.74,340.38 449.06,340.38 449.39,340.45 449.71,340.58 450.03,340.77 450.36,341.02 450.68,341.29 451,341.58 451.33,341.88 451.65,342.15 451.98,342.41 452.3,342.63 452.62,342.82 452.95,342.97 453.27,343.09 453.59,343.19 453.92,343.25 454.24,343.3 454.56,343.34 454.89,343.36 455.21,343.38 455.54,343.39 455.86,343.39 456.18,343.4 456.51,343.4 456.83,343.4 457.15,343.4 457.48,343.4 457.8,343.4 458.13,343.4 458.45,343.4 458.77,343.4 459.1,343.4 459.42,343.4 459.74,343.4 460.07,343.4 460.39,343.4 460.72,343.4 461.04,343.4 461.36,343.4 461.69,343.4 462.01,343.4 462.33,343.4 462.66,343.4 462.98,343.4 463.31,343.4 463.63,343.4 463.95,343.4 464.28,343.4 464.6,343.4" fill="none" stroke="#1f3cb0" stroke-width="1.5" stroke-linejoin="round"/>
<line x1="431.4" y1="344.2" x2="432.6" y2="344.2" stroke="#555" stroke-width="0.5"/>
<text x="431" y="345.1" font-size="2.6" text-anchor="end" fill="#777" stroke="#777" stroke-width="0.18">0</text>
<line x1="431.4" y1="338.52" x2="432.6" y2="338.52" stroke="#555" stroke-width="0.5"/>
<text x="431" y="339.42" font-size="2.6" text-anchor="end" fill="#777" stroke="#777" stroke-width="0.18">1.0K</text>
<line x1="431.4" y1="332.84" x2="432.6" y2="332.84" stroke="#555" stroke-width="0.5"/>
<text x="431" y="333.74" font-size="2.6" text-anchor="end" fill="#777" stroke="#777" stroke-width="0.18">2.0K</text>
<line x1="431.4" y1="327.16" x2="432.6" y2="327.16" stroke="#555" stroke-width="0.5"/>
<text x="431" y="328.06" font-size="2.6" text-anchor="end" fill="#777" stroke="#777" stroke-width="0.18">3.0K</text>
<line x1="431.4" y1="321.48" x2="432.6" y2="321.48" stroke="#555" stroke-width="0.5"/>
<text x="431" y="322.38" font-size="2.6" text-anchor="end" fill="#777" stroke="#777" stroke-width="0.18">4.0K</text>
<line x1="431.4" y1="315.8" x2="432.6" y2="315.8" stroke="#555" stroke-width="0.5"/>
<text x="431" y="316.7" font-size="2.6" text-anchor="end" fill="#777" stroke="#777" stroke-width="0.18">5.0K</text>
<line x1="434.6" y1="344.2" x2="434.6" y2="345.5" stroke="#555" stroke-width="0.5"/>
<text x="434.6" y="350" font-size="3" fill="#666" text-anchor="middle">10<tspan font-size="2" dy="-1">0</tspan></text>
<line x1="441.75" y1="344.2" x2="441.75" y2="345.5" stroke="#555" stroke-width="0.5"/>
<text x="441.75" y="350" font-size="3" fill="#666" text-anchor="middle">10<tspan font-size="2" dy="-1">1</tspan></text>
<line x1="448.9" y1="344.2" x2="448.9" y2="345.5" stroke="#555" stroke-width="0.5"/>
<text x="448.9" y="350" font-size="3" fill="#666" text-anchor="middle">10<tspan font-size="2" dy="-1">2</tspan></text>
<line x1="456.05" y1="344.2" x2="456.05" y2="345.5" stroke="#555" stroke-width="0.5"/>
<text x="456.05" y="350" font-size="3" fill="#666" text-anchor="middle">10<tspan font-size="2" dy="-1">3</tspan></text>
<line x1="463.2" y1="344.2" x2="463.2" y2="345.5" stroke="#555" stroke-width="0.5"/>
<text x="463.2" y="350" font-size="3" fill="#666" text-anchor="middle">10<tspan font-size="2" dy="-1">4</tspan></text>
<text x="448.9" y="308" font-size="8.3" text-anchor="middle" fill="#111" stroke="#111" stroke-width="0.18">BM#5</text>
<line x1="247.8" y1="356.3" x2="266" y2="356.3" stroke="#111" stroke-width="1.6"/>
<polygon points="272,356.3 265.2,354 265.2,358.6" fill="#111"/>
<text x="275.4" y="358.5" font-size="7.1" fill="#111" stroke="#111" stroke-width="0.18">ALCAM</text>
<rect x="0" y="0" width="520" height="1.2" fill="#000" stroke="none" stroke-width="1"/>
<rect x="0" y="0" width="1.4" height="365" fill="#000" stroke="none" stroke-width="1"/>
<rect x="518.6" y="0" width="1.4" height="365" fill="#000" stroke="none" stroke-width="1"/>
<rect x="0" y="362.9" width="520" height="2.1" fill="#000" stroke="none" stroke-width="1"/>
</svg></body></html>
